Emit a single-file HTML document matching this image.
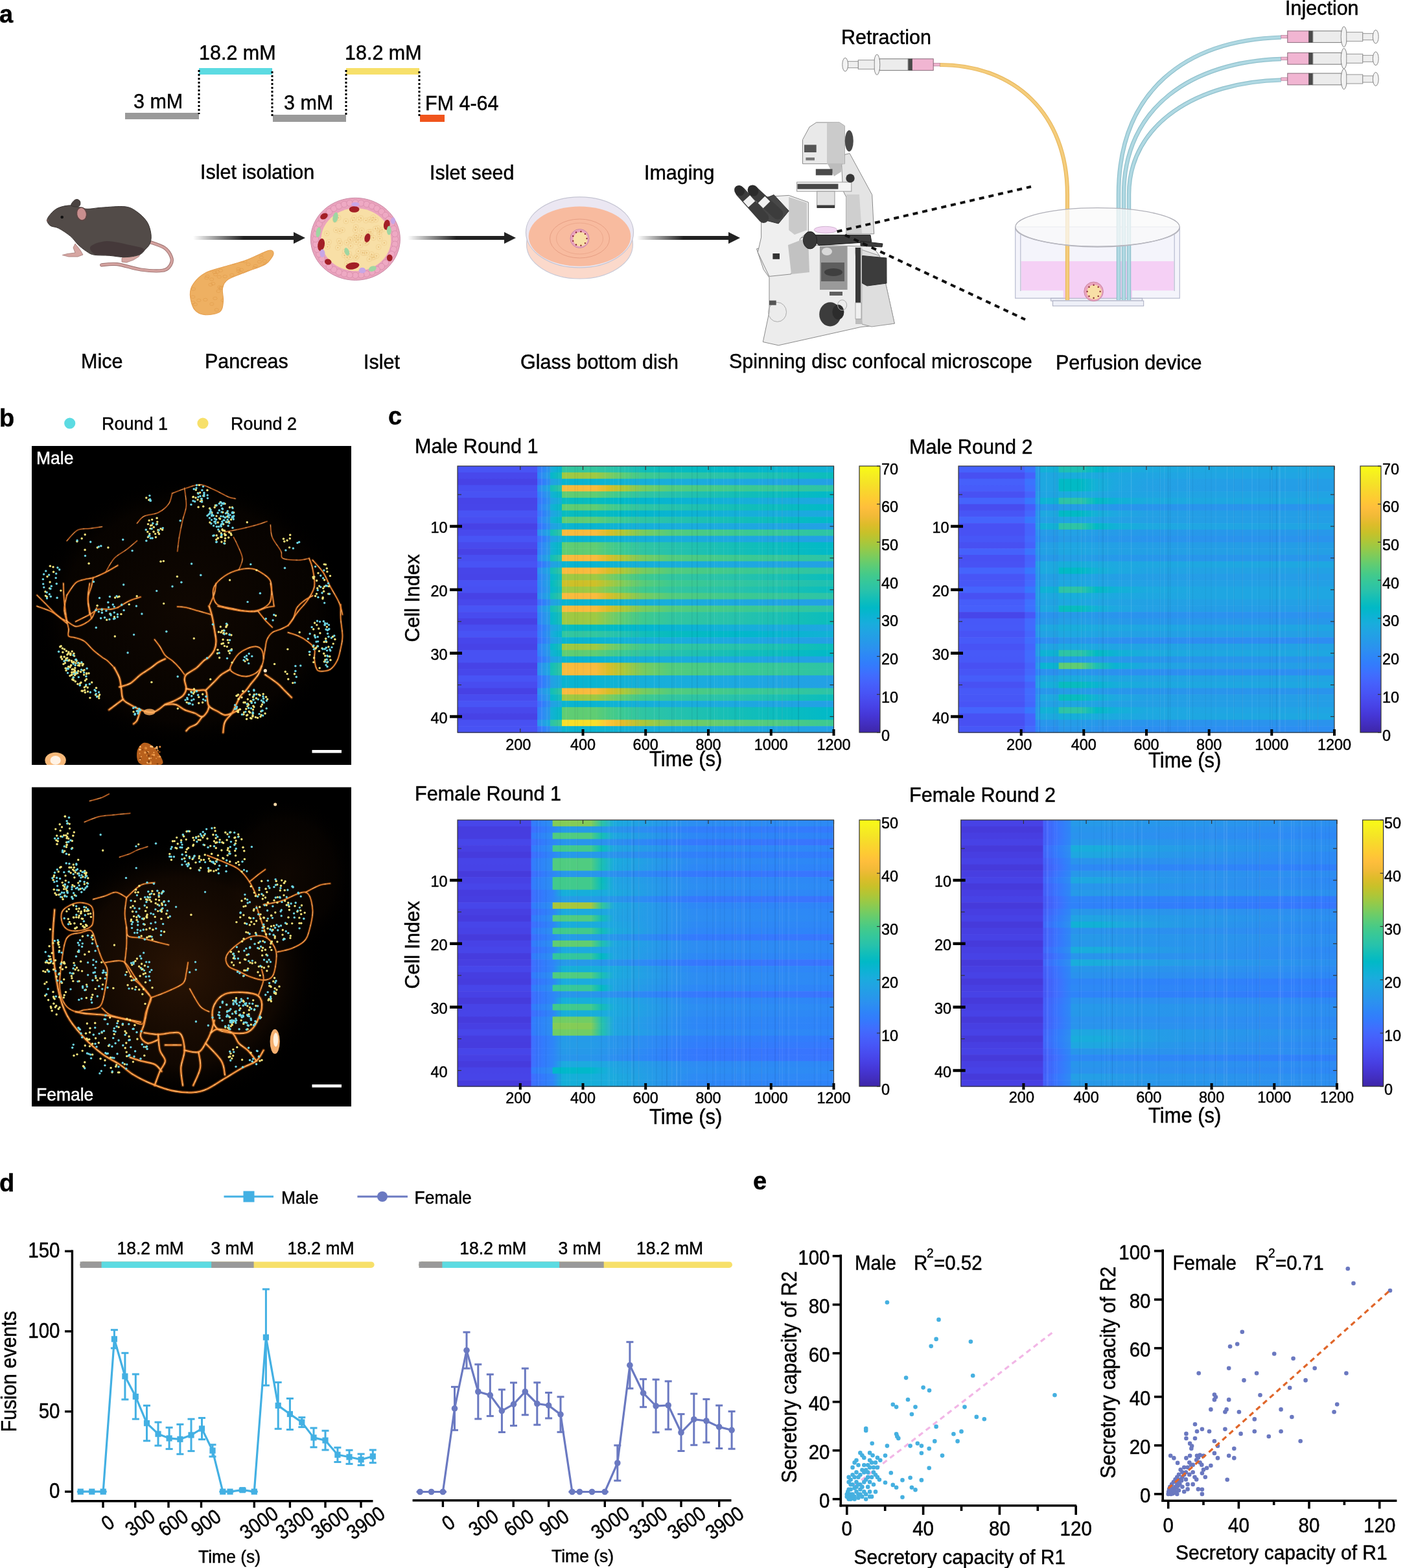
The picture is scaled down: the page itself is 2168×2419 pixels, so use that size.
<!DOCTYPE html><html><head><meta charset="utf-8"><title>Figure</title><style>html,body{margin:0;padding:0;background:#fff;}body{width:2168px;height:2419px;overflow:hidden;}svg{display:block;}</style></head><body><svg width="2168" height="2419" viewBox="0 0 2168 2419" font-family='"Liberation Sans", Arial, sans-serif'><defs><clipPath id="pcclip"><path d="M298.4,437.8 C302.2,432.2 308.5,425.7 316.5,421.3 C324.5,416.9 335.8,414.7 346.2,411.4 C356.6,408.1 369.3,405.1 379.2,401.5 C389.1,397.9 399.2,392.6 405.5,390.0 C411.8,387.4 414.2,386.0 417.0,386.0 C419.8,386.0 421.7,388.0 422.0,390.0 C422.3,392.0 420.9,395.2 418.7,398.2 C416.5,401.2 415.4,404.5 408.8,408.1 C402.2,411.7 388.7,415.9 379.2,419.7 C369.7,423.5 357.9,426.9 352.0,431.0 C346.1,435.1 344.8,438.9 343.5,444.4 C342.2,449.9 345.1,458.1 344.5,464.2 C343.9,470.2 344.3,477.1 339.6,480.7 C334.9,484.3 323.1,486.2 316.5,485.6 C309.9,485.1 303.9,482.5 300.0,477.4 C296.1,472.3 293.7,461.6 293.4,455.0 C293.1,448.4 294.5,443.4 298.4,437.8 Z"/></clipPath><linearGradient id="ag298" x1="298" x2="471" y1="0" y2="0" gradientUnits="userSpaceOnUse"><stop offset="0" stop-color="#222" stop-opacity="0"/><stop offset="0.45" stop-color="#222" stop-opacity="1"/><stop offset="1" stop-color="#222"/></linearGradient><linearGradient id="ag629" x1="629" x2="796" y1="0" y2="0" gradientUnits="userSpaceOnUse"><stop offset="0" stop-color="#222" stop-opacity="0"/><stop offset="0.45" stop-color="#222" stop-opacity="1"/><stop offset="1" stop-color="#222"/></linearGradient><linearGradient id="ag983" x1="983" x2="1142" y1="0" y2="0" gradientUnits="userSpaceOnUse"><stop offset="0" stop-color="#222" stop-opacity="0"/><stop offset="0.45" stop-color="#222" stop-opacity="1"/><stop offset="1" stop-color="#222"/></linearGradient><clipPath id="clipM"><rect x="49" y="688" width="493" height="492"/></clipPath><clipPath id="clipF"><rect x="49" y="1214.5" width="493" height="492.5"/></clipPath><radialGradient id="hazeF" cx="0.5" cy="0.5" r="0.5"><stop offset="0" stop-color="#6a320a" stop-opacity="0.4"/><stop offset="0.7" stop-color="#4a2206" stop-opacity="0.22"/><stop offset="1" stop-color="#000" stop-opacity="0"/></radialGradient><radialGradient id="hazeM" cx="0.5" cy="0.5" r="0.5"><stop offset="0" stop-color="#4a2206" stop-opacity="0.22"/><stop offset="0.8" stop-color="#3a1a04" stop-opacity="0.12"/><stop offset="1" stop-color="#000" stop-opacity="0"/></radialGradient><linearGradient id="h1" x1="706.0" x2="1286.5" y1="0" y2="0" gradientUnits="userSpaceOnUse"><stop offset="0.000" stop-color="#4854f5"/><stop offset="0.212" stop-color="#4854f5"/><stop offset="0.212" stop-color="#3876fe"/><stop offset="0.229" stop-color="#2d87f6"/><stop offset="0.246" stop-color="#2797ea"/><stop offset="0.247" stop-color="#1caadf"/><stop offset="0.277" stop-color="#03b7cc"/><stop offset="0.278" stop-color="#32c69f"/><stop offset="0.367" stop-color="#32c69f"/><stop offset="0.400" stop-color="#2bc4a7"/><stop offset="0.442" stop-color="#21c1b0"/><stop offset="0.492" stop-color="#12beb9"/><stop offset="0.567" stop-color="#07bcbf"/><stop offset="0.750" stop-color="#01b8ca"/><stop offset="1.000" stop-color="#12b1d6"/></linearGradient><linearGradient id="h2" x1="706.0" x2="1286.5" y1="0" y2="0" gradientUnits="userSpaceOnUse"><stop offset="0.000" stop-color="#4848ec"/><stop offset="0.212" stop-color="#4848ec"/><stop offset="0.212" stop-color="#2f81fa"/><stop offset="0.229" stop-color="#2b91ef"/><stop offset="0.246" stop-color="#23a0e5"/><stop offset="0.247" stop-color="#05b6ce"/><stop offset="0.277" stop-color="#17bfb6"/><stop offset="0.278" stop-color="#9fc942"/><stop offset="0.367" stop-color="#9fc942"/><stop offset="0.400" stop-color="#7ecc5b"/><stop offset="0.442" stop-color="#5bcc76"/><stop offset="0.492" stop-color="#3fca8e"/><stop offset="0.567" stop-color="#32c69f"/><stop offset="0.750" stop-color="#26c2ac"/><stop offset="1.000" stop-color="#0abdbd"/></linearGradient><linearGradient id="h3" x1="706.0" x2="1286.5" y1="0" y2="0" gradientUnits="userSpaceOnUse"><stop offset="0.000" stop-color="#4742e6"/><stop offset="0.212" stop-color="#4742e6"/><stop offset="0.212" stop-color="#406cfe"/><stop offset="0.229" stop-color="#307ffb"/><stop offset="0.246" stop-color="#2c90f0"/><stop offset="0.247" stop-color="#249ee6"/><stop offset="0.277" stop-color="#18addb"/><stop offset="0.278" stop-color="#09b4d1"/><stop offset="0.367" stop-color="#09b4d1"/><stop offset="0.400" stop-color="#0db3d3"/><stop offset="0.442" stop-color="#12b1d6"/><stop offset="0.492" stop-color="#15afd9"/><stop offset="0.567" stop-color="#18aedb"/><stop offset="0.750" stop-color="#1da8e0"/><stop offset="1.000" stop-color="#23a0e5"/></linearGradient><linearGradient id="h4" x1="706.0" x2="1286.5" y1="0" y2="0" gradientUnits="userSpaceOnUse"><stop offset="0.000" stop-color="#484ff2"/><stop offset="0.212" stop-color="#484ff2"/><stop offset="0.212" stop-color="#2d8af4"/><stop offset="0.229" stop-color="#269ae8"/><stop offset="0.246" stop-color="#1da8e0"/><stop offset="0.247" stop-color="#10beba"/><stop offset="0.277" stop-color="#31c5a1"/><stop offset="0.278" stop-color="#f9bb3d"/><stop offset="0.367" stop-color="#f9bb3d"/><stop offset="0.400" stop-color="#dabd28"/><stop offset="0.442" stop-color="#acc738"/><stop offset="0.492" stop-color="#79cc5e"/><stop offset="0.567" stop-color="#53cc7d"/><stop offset="0.750" stop-color="#3dc990"/><stop offset="1.000" stop-color="#2cc4a7"/></linearGradient><linearGradient id="h5" x1="706.0" x2="1286.5" y1="0" y2="0" gradientUnits="userSpaceOnUse"><stop offset="0.000" stop-color="#4852f4"/><stop offset="0.212" stop-color="#4852f4"/><stop offset="0.212" stop-color="#327bfc"/><stop offset="0.229" stop-color="#2d8df3"/><stop offset="0.246" stop-color="#259ce7"/><stop offset="0.247" stop-color="#13b0d7"/><stop offset="0.277" stop-color="#04bbc2"/><stop offset="0.278" stop-color="#5fcd73"/><stop offset="0.367" stop-color="#5fcd73"/><stop offset="0.400" stop-color="#4acb84"/><stop offset="0.442" stop-color="#39c995"/><stop offset="0.492" stop-color="#2fc5a2"/><stop offset="0.567" stop-color="#26c2ac"/><stop offset="0.750" stop-color="#13beb8"/><stop offset="1.000" stop-color="#01b9c8"/></linearGradient><linearGradient id="h6" x1="706.0" x2="1286.5" y1="0" y2="0" gradientUnits="userSpaceOnUse"><stop offset="0.000" stop-color="#4744e8"/><stop offset="0.212" stop-color="#4744e8"/><stop offset="0.212" stop-color="#3e70ff"/><stop offset="0.229" stop-color="#2f82f9"/><stop offset="0.246" stop-color="#2a93ee"/><stop offset="0.247" stop-color="#22a2e4"/><stop offset="0.277" stop-color="#12b1d6"/><stop offset="0.278" stop-color="#07bcbf"/><stop offset="0.367" stop-color="#07bcbf"/><stop offset="0.400" stop-color="#02bac4"/><stop offset="0.442" stop-color="#01b8c9"/><stop offset="0.492" stop-color="#04b6cd"/><stop offset="0.567" stop-color="#09b4d1"/><stop offset="0.750" stop-color="#15afd9"/><stop offset="1.000" stop-color="#1ea7e1"/></linearGradient><linearGradient id="h7" x1="706.0" x2="1286.5" y1="0" y2="0" gradientUnits="userSpaceOnUse"><stop offset="0.000" stop-color="#4745e9"/><stop offset="0.212" stop-color="#4745e9"/><stop offset="0.212" stop-color="#327bfc"/><stop offset="0.229" stop-color="#2d8df3"/><stop offset="0.246" stop-color="#259ce7"/><stop offset="0.247" stop-color="#13b0d7"/><stop offset="0.277" stop-color="#04bbc2"/><stop offset="0.278" stop-color="#5fcd73"/><stop offset="0.367" stop-color="#5fcd73"/><stop offset="0.400" stop-color="#4acb84"/><stop offset="0.442" stop-color="#39c995"/><stop offset="0.492" stop-color="#2fc5a2"/><stop offset="0.567" stop-color="#26c2ac"/><stop offset="0.750" stop-color="#13beb8"/><stop offset="1.000" stop-color="#01b9c8"/></linearGradient><linearGradient id="h8" x1="706.0" x2="1286.5" y1="0" y2="0" gradientUnits="userSpaceOnUse"><stop offset="0.000" stop-color="#4853f4"/><stop offset="0.212" stop-color="#4853f4"/><stop offset="0.212" stop-color="#3e70ff"/><stop offset="0.229" stop-color="#2f82f9"/><stop offset="0.246" stop-color="#2a93ee"/><stop offset="0.247" stop-color="#22a2e4"/><stop offset="0.277" stop-color="#12b1d6"/><stop offset="0.278" stop-color="#07bcbf"/><stop offset="0.367" stop-color="#07bcbf"/><stop offset="0.400" stop-color="#02bac4"/><stop offset="0.442" stop-color="#01b8c9"/><stop offset="0.492" stop-color="#04b6cd"/><stop offset="0.567" stop-color="#09b4d1"/><stop offset="0.750" stop-color="#15afd9"/><stop offset="1.000" stop-color="#1ea7e1"/></linearGradient><linearGradient id="h9" x1="706.0" x2="1286.5" y1="0" y2="0" gradientUnits="userSpaceOnUse"><stop offset="0.000" stop-color="#484ef1"/><stop offset="0.212" stop-color="#484ef1"/><stop offset="0.212" stop-color="#327bfc"/><stop offset="0.229" stop-color="#2d8df3"/><stop offset="0.246" stop-color="#259ce7"/><stop offset="0.247" stop-color="#13b0d7"/><stop offset="0.277" stop-color="#04bbc2"/><stop offset="0.278" stop-color="#5fcd73"/><stop offset="0.367" stop-color="#5fcd73"/><stop offset="0.400" stop-color="#4acb84"/><stop offset="0.442" stop-color="#39c995"/><stop offset="0.492" stop-color="#2fc5a2"/><stop offset="0.567" stop-color="#26c2ac"/><stop offset="0.750" stop-color="#13beb8"/><stop offset="1.000" stop-color="#01b9c8"/></linearGradient><linearGradient id="h10" x1="706.0" x2="1286.5" y1="0" y2="0" gradientUnits="userSpaceOnUse"><stop offset="0.000" stop-color="#4849ed"/><stop offset="0.212" stop-color="#4849ed"/><stop offset="0.212" stop-color="#2d8af4"/><stop offset="0.229" stop-color="#269ae8"/><stop offset="0.246" stop-color="#1da8e0"/><stop offset="0.247" stop-color="#10beba"/><stop offset="0.277" stop-color="#31c5a1"/><stop offset="0.278" stop-color="#f9bb3d"/><stop offset="0.367" stop-color="#f9bb3d"/><stop offset="0.400" stop-color="#dabd28"/><stop offset="0.442" stop-color="#acc738"/><stop offset="0.492" stop-color="#79cc5e"/><stop offset="0.567" stop-color="#53cc7d"/><stop offset="0.750" stop-color="#3dc990"/><stop offset="1.000" stop-color="#2cc4a7"/></linearGradient><linearGradient id="h11" x1="706.0" x2="1286.5" y1="0" y2="0" gradientUnits="userSpaceOnUse"><stop offset="0.000" stop-color="#4854f5"/><stop offset="0.212" stop-color="#4854f5"/><stop offset="0.212" stop-color="#406cfe"/><stop offset="0.229" stop-color="#307ffb"/><stop offset="0.246" stop-color="#2c90f0"/><stop offset="0.247" stop-color="#249ee6"/><stop offset="0.277" stop-color="#18addb"/><stop offset="0.278" stop-color="#09b4d1"/><stop offset="0.367" stop-color="#09b4d1"/><stop offset="0.400" stop-color="#0db3d3"/><stop offset="0.442" stop-color="#12b1d6"/><stop offset="0.492" stop-color="#15afd9"/><stop offset="0.567" stop-color="#18aedb"/><stop offset="0.750" stop-color="#1da8e0"/><stop offset="1.000" stop-color="#23a0e5"/></linearGradient><linearGradient id="h12" x1="706.0" x2="1286.5" y1="0" y2="0" gradientUnits="userSpaceOnUse"><stop offset="0.000" stop-color="#484aed"/><stop offset="0.212" stop-color="#484aed"/><stop offset="0.212" stop-color="#327bfc"/><stop offset="0.229" stop-color="#2d8df3"/><stop offset="0.246" stop-color="#259ce7"/><stop offset="0.247" stop-color="#13b0d7"/><stop offset="0.277" stop-color="#04bbc2"/><stop offset="0.278" stop-color="#5fcd73"/><stop offset="0.367" stop-color="#5fcd73"/><stop offset="0.400" stop-color="#4acb84"/><stop offset="0.442" stop-color="#39c995"/><stop offset="0.492" stop-color="#2fc5a2"/><stop offset="0.567" stop-color="#26c2ac"/><stop offset="0.750" stop-color="#13beb8"/><stop offset="1.000" stop-color="#01b9c8"/></linearGradient><linearGradient id="h13" x1="706.0" x2="1286.5" y1="0" y2="0" gradientUnits="userSpaceOnUse"><stop offset="0.000" stop-color="#4742e6"/><stop offset="0.212" stop-color="#4742e6"/><stop offset="0.212" stop-color="#327bfc"/><stop offset="0.229" stop-color="#2d8df3"/><stop offset="0.246" stop-color="#259ce7"/><stop offset="0.247" stop-color="#13b0d7"/><stop offset="0.277" stop-color="#04bbc2"/><stop offset="0.278" stop-color="#5fcd73"/><stop offset="0.367" stop-color="#5fcd73"/><stop offset="0.400" stop-color="#4acb84"/><stop offset="0.442" stop-color="#39c995"/><stop offset="0.492" stop-color="#2fc5a2"/><stop offset="0.567" stop-color="#26c2ac"/><stop offset="0.750" stop-color="#13beb8"/><stop offset="1.000" stop-color="#01b9c8"/></linearGradient><linearGradient id="h14" x1="706.0" x2="1286.5" y1="0" y2="0" gradientUnits="userSpaceOnUse"><stop offset="0.000" stop-color="#484ef1"/><stop offset="0.212" stop-color="#484ef1"/><stop offset="0.212" stop-color="#2d8af4"/><stop offset="0.229" stop-color="#269ae8"/><stop offset="0.246" stop-color="#1da8e0"/><stop offset="0.247" stop-color="#10beba"/><stop offset="0.277" stop-color="#31c5a1"/><stop offset="0.278" stop-color="#f9bb3d"/><stop offset="0.367" stop-color="#f9bb3d"/><stop offset="0.400" stop-color="#dabd28"/><stop offset="0.442" stop-color="#acc738"/><stop offset="0.492" stop-color="#79cc5e"/><stop offset="0.567" stop-color="#53cc7d"/><stop offset="0.750" stop-color="#3dc990"/><stop offset="1.000" stop-color="#2cc4a7"/></linearGradient><linearGradient id="h15" x1="706.0" x2="1286.5" y1="0" y2="0" gradientUnits="userSpaceOnUse"><stop offset="0.000" stop-color="#4853f5"/><stop offset="0.212" stop-color="#4853f5"/><stop offset="0.212" stop-color="#406cfe"/><stop offset="0.229" stop-color="#307ffb"/><stop offset="0.246" stop-color="#2c90f0"/><stop offset="0.247" stop-color="#249ee6"/><stop offset="0.277" stop-color="#18addb"/><stop offset="0.278" stop-color="#09b4d1"/><stop offset="0.367" stop-color="#09b4d1"/><stop offset="0.400" stop-color="#0db3d3"/><stop offset="0.442" stop-color="#12b1d6"/><stop offset="0.492" stop-color="#15afd9"/><stop offset="0.567" stop-color="#18aedb"/><stop offset="0.750" stop-color="#1da8e0"/><stop offset="1.000" stop-color="#23a0e5"/></linearGradient><linearGradient id="h16" x1="706.0" x2="1286.5" y1="0" y2="0" gradientUnits="userSpaceOnUse"><stop offset="0.000" stop-color="#4745e9"/><stop offset="0.212" stop-color="#4745e9"/><stop offset="0.212" stop-color="#2d8af4"/><stop offset="0.229" stop-color="#269ae8"/><stop offset="0.246" stop-color="#1da8e0"/><stop offset="0.247" stop-color="#10beba"/><stop offset="0.277" stop-color="#31c5a1"/><stop offset="0.278" stop-color="#f9bb3d"/><stop offset="0.367" stop-color="#f9bb3d"/><stop offset="0.400" stop-color="#dabd28"/><stop offset="0.442" stop-color="#acc738"/><stop offset="0.492" stop-color="#79cc5e"/><stop offset="0.567" stop-color="#53cc7d"/><stop offset="0.750" stop-color="#3dc990"/><stop offset="1.000" stop-color="#2cc4a7"/></linearGradient><linearGradient id="h17" x1="706.0" x2="1286.5" y1="0" y2="0" gradientUnits="userSpaceOnUse"><stop offset="0.000" stop-color="#4744e8"/><stop offset="0.212" stop-color="#4744e8"/><stop offset="0.212" stop-color="#2f81fa"/><stop offset="0.229" stop-color="#2b91ef"/><stop offset="0.246" stop-color="#23a0e5"/><stop offset="0.247" stop-color="#05b6ce"/><stop offset="0.277" stop-color="#17bfb6"/><stop offset="0.278" stop-color="#9fc942"/><stop offset="0.367" stop-color="#9fc942"/><stop offset="0.400" stop-color="#7ecc5b"/><stop offset="0.442" stop-color="#5bcc76"/><stop offset="0.492" stop-color="#3fca8e"/><stop offset="0.567" stop-color="#32c69f"/><stop offset="0.750" stop-color="#26c2ac"/><stop offset="1.000" stop-color="#0abdbd"/></linearGradient><linearGradient id="h18" x1="706.0" x2="1286.5" y1="0" y2="0" gradientUnits="userSpaceOnUse"><stop offset="0.000" stop-color="#4852f4"/><stop offset="0.212" stop-color="#4852f4"/><stop offset="0.212" stop-color="#2e85f8"/><stop offset="0.229" stop-color="#2895ec"/><stop offset="0.246" stop-color="#20a4e3"/><stop offset="0.247" stop-color="#01bac5"/><stop offset="0.277" stop-color="#26c2ad"/><stop offset="0.278" stop-color="#cec028"/><stop offset="0.367" stop-color="#cec028"/><stop offset="0.400" stop-color="#abc739"/><stop offset="0.442" stop-color="#80cc59"/><stop offset="0.492" stop-color="#59cc78"/><stop offset="0.567" stop-color="#3eca8f"/><stop offset="0.750" stop-color="#32c69f"/><stop offset="1.000" stop-color="#1ec0b2"/></linearGradient><linearGradient id="h19" x1="706.0" x2="1286.5" y1="0" y2="0" gradientUnits="userSpaceOnUse"><stop offset="0.000" stop-color="#4850f2"/><stop offset="0.212" stop-color="#4850f2"/><stop offset="0.212" stop-color="#2f81fa"/><stop offset="0.229" stop-color="#2b91ef"/><stop offset="0.246" stop-color="#23a0e5"/><stop offset="0.247" stop-color="#05b6ce"/><stop offset="0.277" stop-color="#17bfb6"/><stop offset="0.278" stop-color="#9fc942"/><stop offset="0.367" stop-color="#9fc942"/><stop offset="0.400" stop-color="#7ecc5b"/><stop offset="0.442" stop-color="#5bcc76"/><stop offset="0.492" stop-color="#3fca8e"/><stop offset="0.567" stop-color="#32c69f"/><stop offset="0.750" stop-color="#26c2ac"/><stop offset="1.000" stop-color="#0abdbd"/></linearGradient><linearGradient id="h20" x1="706.0" x2="1286.5" y1="0" y2="0" gradientUnits="userSpaceOnUse"><stop offset="0.000" stop-color="#4742e6"/><stop offset="0.212" stop-color="#4742e6"/><stop offset="0.212" stop-color="#2d8af4"/><stop offset="0.229" stop-color="#269ae8"/><stop offset="0.246" stop-color="#1da8e0"/><stop offset="0.247" stop-color="#10beba"/><stop offset="0.277" stop-color="#31c5a1"/><stop offset="0.278" stop-color="#f9bb3d"/><stop offset="0.367" stop-color="#f9bb3d"/><stop offset="0.400" stop-color="#dabd28"/><stop offset="0.442" stop-color="#acc738"/><stop offset="0.492" stop-color="#79cc5e"/><stop offset="0.567" stop-color="#53cc7d"/><stop offset="0.750" stop-color="#3dc990"/><stop offset="1.000" stop-color="#2cc4a7"/></linearGradient><linearGradient id="h21" x1="706.0" x2="1286.5" y1="0" y2="0" gradientUnits="userSpaceOnUse"><stop offset="0.000" stop-color="#4848ec"/><stop offset="0.212" stop-color="#4848ec"/><stop offset="0.212" stop-color="#406cfe"/><stop offset="0.229" stop-color="#307ffb"/><stop offset="0.246" stop-color="#2c90f0"/><stop offset="0.247" stop-color="#249ee6"/><stop offset="0.277" stop-color="#18addb"/><stop offset="0.278" stop-color="#09b4d1"/><stop offset="0.367" stop-color="#09b4d1"/><stop offset="0.400" stop-color="#0db3d3"/><stop offset="0.442" stop-color="#12b1d6"/><stop offset="0.492" stop-color="#15afd9"/><stop offset="0.567" stop-color="#18aedb"/><stop offset="0.750" stop-color="#1da8e0"/><stop offset="1.000" stop-color="#23a0e5"/></linearGradient><linearGradient id="h22" x1="706.0" x2="1286.5" y1="0" y2="0" gradientUnits="userSpaceOnUse"><stop offset="0.000" stop-color="#4854f5"/><stop offset="0.212" stop-color="#4854f5"/><stop offset="0.212" stop-color="#2d8af4"/><stop offset="0.229" stop-color="#269ae8"/><stop offset="0.246" stop-color="#1da8e0"/><stop offset="0.247" stop-color="#10beba"/><stop offset="0.277" stop-color="#31c5a1"/><stop offset="0.278" stop-color="#f9bb3d"/><stop offset="0.367" stop-color="#f9bb3d"/><stop offset="0.400" stop-color="#dabd28"/><stop offset="0.442" stop-color="#acc738"/><stop offset="0.492" stop-color="#79cc5e"/><stop offset="0.567" stop-color="#53cc7d"/><stop offset="0.750" stop-color="#3dc990"/><stop offset="1.000" stop-color="#2cc4a7"/></linearGradient><linearGradient id="h23" x1="706.0" x2="1286.5" y1="0" y2="0" gradientUnits="userSpaceOnUse"><stop offset="0.000" stop-color="#484bef"/><stop offset="0.212" stop-color="#484bef"/><stop offset="0.212" stop-color="#2f81fa"/><stop offset="0.229" stop-color="#2b91ef"/><stop offset="0.246" stop-color="#23a0e5"/><stop offset="0.247" stop-color="#05b6ce"/><stop offset="0.277" stop-color="#17bfb6"/><stop offset="0.278" stop-color="#9fc942"/><stop offset="0.367" stop-color="#9fc942"/><stop offset="0.400" stop-color="#7ecc5b"/><stop offset="0.442" stop-color="#5bcc76"/><stop offset="0.492" stop-color="#3fca8e"/><stop offset="0.567" stop-color="#32c69f"/><stop offset="0.750" stop-color="#26c2ac"/><stop offset="1.000" stop-color="#0abdbd"/></linearGradient><linearGradient id="h24" x1="706.0" x2="1286.5" y1="0" y2="0" gradientUnits="userSpaceOnUse"><stop offset="0.000" stop-color="#4741e5"/><stop offset="0.212" stop-color="#4741e5"/><stop offset="0.212" stop-color="#2f81fa"/><stop offset="0.229" stop-color="#2b91ef"/><stop offset="0.246" stop-color="#23a0e5"/><stop offset="0.247" stop-color="#05b6ce"/><stop offset="0.277" stop-color="#17bfb6"/><stop offset="0.278" stop-color="#9fc942"/><stop offset="0.367" stop-color="#9fc942"/><stop offset="0.400" stop-color="#7ecc5b"/><stop offset="0.442" stop-color="#5bcc76"/><stop offset="0.492" stop-color="#3fca8e"/><stop offset="0.567" stop-color="#32c69f"/><stop offset="0.750" stop-color="#26c2ac"/><stop offset="1.000" stop-color="#0abdbd"/></linearGradient><linearGradient id="h25" x1="706.0" x2="1286.5" y1="0" y2="0" gradientUnits="userSpaceOnUse"><stop offset="0.000" stop-color="#484df0"/><stop offset="0.212" stop-color="#484df0"/><stop offset="0.212" stop-color="#3e70ff"/><stop offset="0.229" stop-color="#2f82f9"/><stop offset="0.246" stop-color="#2a93ee"/><stop offset="0.247" stop-color="#22a2e4"/><stop offset="0.277" stop-color="#12b1d6"/><stop offset="0.278" stop-color="#07bcbf"/><stop offset="0.367" stop-color="#07bcbf"/><stop offset="0.400" stop-color="#02bac4"/><stop offset="0.442" stop-color="#01b8c9"/><stop offset="0.492" stop-color="#04b6cd"/><stop offset="0.567" stop-color="#09b4d1"/><stop offset="0.750" stop-color="#15afd9"/><stop offset="1.000" stop-color="#1ea7e1"/></linearGradient><linearGradient id="h26" x1="706.0" x2="1286.5" y1="0" y2="0" gradientUnits="userSpaceOnUse"><stop offset="0.000" stop-color="#4853f5"/><stop offset="0.212" stop-color="#4853f5"/><stop offset="0.212" stop-color="#3876fe"/><stop offset="0.229" stop-color="#2d87f6"/><stop offset="0.246" stop-color="#2797ea"/><stop offset="0.247" stop-color="#1caadf"/><stop offset="0.277" stop-color="#03b7cc"/><stop offset="0.278" stop-color="#32c69f"/><stop offset="0.367" stop-color="#32c69f"/><stop offset="0.400" stop-color="#2bc4a7"/><stop offset="0.442" stop-color="#21c1b0"/><stop offset="0.492" stop-color="#12beb9"/><stop offset="0.567" stop-color="#07bcbf"/><stop offset="0.750" stop-color="#01b8ca"/><stop offset="1.000" stop-color="#12b1d6"/></linearGradient><linearGradient id="h27" x1="706.0" x2="1286.5" y1="0" y2="0" gradientUnits="userSpaceOnUse"><stop offset="0.000" stop-color="#4746eb"/><stop offset="0.212" stop-color="#4746eb"/><stop offset="0.212" stop-color="#406cfe"/><stop offset="0.229" stop-color="#307ffb"/><stop offset="0.246" stop-color="#2c90f0"/><stop offset="0.247" stop-color="#249ee6"/><stop offset="0.277" stop-color="#18addb"/><stop offset="0.278" stop-color="#09b4d1"/><stop offset="0.367" stop-color="#09b4d1"/><stop offset="0.400" stop-color="#0db3d3"/><stop offset="0.442" stop-color="#12b1d6"/><stop offset="0.492" stop-color="#15afd9"/><stop offset="0.567" stop-color="#18aedb"/><stop offset="0.750" stop-color="#1da8e0"/><stop offset="1.000" stop-color="#23a0e5"/></linearGradient><linearGradient id="h28" x1="706.0" x2="1286.5" y1="0" y2="0" gradientUnits="userSpaceOnUse"><stop offset="0.000" stop-color="#4743e7"/><stop offset="0.212" stop-color="#4743e7"/><stop offset="0.212" stop-color="#2f81fa"/><stop offset="0.229" stop-color="#2b91ef"/><stop offset="0.246" stop-color="#23a0e5"/><stop offset="0.247" stop-color="#05b6ce"/><stop offset="0.277" stop-color="#17bfb6"/><stop offset="0.278" stop-color="#9fc942"/><stop offset="0.367" stop-color="#9fc942"/><stop offset="0.400" stop-color="#7ecc5b"/><stop offset="0.442" stop-color="#5bcc76"/><stop offset="0.492" stop-color="#3fca8e"/><stop offset="0.567" stop-color="#32c69f"/><stop offset="0.750" stop-color="#26c2ac"/><stop offset="1.000" stop-color="#0abdbd"/></linearGradient><linearGradient id="h29" x1="706.0" x2="1286.5" y1="0" y2="0" gradientUnits="userSpaceOnUse"><stop offset="0.000" stop-color="#4851f3"/><stop offset="0.212" stop-color="#4851f3"/><stop offset="0.212" stop-color="#327bfc"/><stop offset="0.229" stop-color="#2d8df3"/><stop offset="0.246" stop-color="#259ce7"/><stop offset="0.247" stop-color="#13b0d7"/><stop offset="0.277" stop-color="#04bbc2"/><stop offset="0.278" stop-color="#5fcd73"/><stop offset="0.367" stop-color="#5fcd73"/><stop offset="0.400" stop-color="#4acb84"/><stop offset="0.442" stop-color="#39c995"/><stop offset="0.492" stop-color="#2fc5a2"/><stop offset="0.567" stop-color="#26c2ac"/><stop offset="0.750" stop-color="#13beb8"/><stop offset="1.000" stop-color="#01b9c8"/></linearGradient><linearGradient id="h30" x1="706.0" x2="1286.5" y1="0" y2="0" gradientUnits="userSpaceOnUse"><stop offset="0.000" stop-color="#4851f3"/><stop offset="0.212" stop-color="#4851f3"/><stop offset="0.212" stop-color="#406cfe"/><stop offset="0.229" stop-color="#307ffb"/><stop offset="0.246" stop-color="#2c90f0"/><stop offset="0.247" stop-color="#249ee6"/><stop offset="0.277" stop-color="#18addb"/><stop offset="0.278" stop-color="#09b4d1"/><stop offset="0.367" stop-color="#09b4d1"/><stop offset="0.400" stop-color="#0db3d3"/><stop offset="0.442" stop-color="#12b1d6"/><stop offset="0.492" stop-color="#15afd9"/><stop offset="0.567" stop-color="#18aedb"/><stop offset="0.750" stop-color="#1da8e0"/><stop offset="1.000" stop-color="#23a0e5"/></linearGradient><linearGradient id="h31" x1="706.0" x2="1286.5" y1="0" y2="0" gradientUnits="userSpaceOnUse"><stop offset="0.000" stop-color="#4743e7"/><stop offset="0.212" stop-color="#4743e7"/><stop offset="0.212" stop-color="#2d8af4"/><stop offset="0.229" stop-color="#269ae8"/><stop offset="0.246" stop-color="#1da8e0"/><stop offset="0.247" stop-color="#10beba"/><stop offset="0.277" stop-color="#31c5a1"/><stop offset="0.278" stop-color="#f9bb3d"/><stop offset="0.367" stop-color="#f9bb3d"/><stop offset="0.400" stop-color="#dabd28"/><stop offset="0.442" stop-color="#acc738"/><stop offset="0.492" stop-color="#79cc5e"/><stop offset="0.567" stop-color="#53cc7d"/><stop offset="0.750" stop-color="#3dc990"/><stop offset="1.000" stop-color="#2cc4a7"/></linearGradient><linearGradient id="h32" x1="706.0" x2="1286.5" y1="0" y2="0" gradientUnits="userSpaceOnUse"><stop offset="0.000" stop-color="#4747eb"/><stop offset="0.212" stop-color="#4747eb"/><stop offset="0.212" stop-color="#2d8af4"/><stop offset="0.229" stop-color="#269ae8"/><stop offset="0.246" stop-color="#1da8e0"/><stop offset="0.247" stop-color="#10beba"/><stop offset="0.277" stop-color="#31c5a1"/><stop offset="0.278" stop-color="#f9bb3d"/><stop offset="0.367" stop-color="#f9bb3d"/><stop offset="0.400" stop-color="#dabd28"/><stop offset="0.442" stop-color="#acc738"/><stop offset="0.492" stop-color="#79cc5e"/><stop offset="0.567" stop-color="#53cc7d"/><stop offset="0.750" stop-color="#3dc990"/><stop offset="1.000" stop-color="#2cc4a7"/></linearGradient><linearGradient id="h33" x1="706.0" x2="1286.5" y1="0" y2="0" gradientUnits="userSpaceOnUse"><stop offset="0.000" stop-color="#484cf0"/><stop offset="0.212" stop-color="#484cf0"/><stop offset="0.212" stop-color="#406cfe"/><stop offset="0.229" stop-color="#307ffb"/><stop offset="0.246" stop-color="#2c90f0"/><stop offset="0.247" stop-color="#249ee6"/><stop offset="0.277" stop-color="#18addb"/><stop offset="0.278" stop-color="#09b4d1"/><stop offset="0.367" stop-color="#09b4d1"/><stop offset="0.400" stop-color="#0db3d3"/><stop offset="0.442" stop-color="#12b1d6"/><stop offset="0.492" stop-color="#15afd9"/><stop offset="0.567" stop-color="#18aedb"/><stop offset="0.750" stop-color="#1da8e0"/><stop offset="1.000" stop-color="#23a0e5"/></linearGradient><linearGradient id="h34" x1="706.0" x2="1286.5" y1="0" y2="0" gradientUnits="userSpaceOnUse"><stop offset="0.000" stop-color="#4741e5"/><stop offset="0.212" stop-color="#4741e5"/><stop offset="0.212" stop-color="#2d8af4"/><stop offset="0.229" stop-color="#269ae8"/><stop offset="0.246" stop-color="#1da8e0"/><stop offset="0.247" stop-color="#10beba"/><stop offset="0.277" stop-color="#31c5a1"/><stop offset="0.278" stop-color="#f9bb3d"/><stop offset="0.367" stop-color="#f9bb3d"/><stop offset="0.400" stop-color="#dabd28"/><stop offset="0.442" stop-color="#acc738"/><stop offset="0.492" stop-color="#79cc5e"/><stop offset="0.567" stop-color="#53cc7d"/><stop offset="0.750" stop-color="#3dc990"/><stop offset="1.000" stop-color="#2cc4a7"/></linearGradient><linearGradient id="h35" x1="706.0" x2="1286.5" y1="0" y2="0" gradientUnits="userSpaceOnUse"><stop offset="0.000" stop-color="#4848ec"/><stop offset="0.212" stop-color="#4848ec"/><stop offset="0.212" stop-color="#327bfc"/><stop offset="0.229" stop-color="#2d8df3"/><stop offset="0.246" stop-color="#259ce7"/><stop offset="0.247" stop-color="#13b0d7"/><stop offset="0.277" stop-color="#04bbc2"/><stop offset="0.278" stop-color="#5fcd73"/><stop offset="0.367" stop-color="#5fcd73"/><stop offset="0.400" stop-color="#4acb84"/><stop offset="0.442" stop-color="#39c995"/><stop offset="0.492" stop-color="#2fc5a2"/><stop offset="0.567" stop-color="#26c2ac"/><stop offset="0.750" stop-color="#13beb8"/><stop offset="1.000" stop-color="#01b9c8"/></linearGradient><linearGradient id="h36" x1="706.0" x2="1286.5" y1="0" y2="0" gradientUnits="userSpaceOnUse"><stop offset="0.000" stop-color="#4850f2"/><stop offset="0.212" stop-color="#4850f2"/><stop offset="0.212" stop-color="#2b91ef"/><stop offset="0.229" stop-color="#23a0e5"/><stop offset="0.246" stop-color="#17aedb"/><stop offset="0.247" stop-color="#29c3aa"/><stop offset="0.277" stop-color="#40ca8d"/><stop offset="0.278" stop-color="#f6df29"/><stop offset="0.367" stop-color="#f6df29"/><stop offset="0.400" stop-color="#fec437"/><stop offset="0.442" stop-color="#e1bc2b"/><stop offset="0.492" stop-color="#abc739"/><stop offset="0.567" stop-color="#78cc5f"/><stop offset="0.750" stop-color="#5bcc77"/><stop offset="1.000" stop-color="#3bc993"/></linearGradient><linearGradient id="h37" x1="706.0" x2="1286.5" y1="0" y2="0" gradientUnits="userSpaceOnUse"><stop offset="0.000" stop-color="#4852f4"/><stop offset="0.212" stop-color="#4852f4"/><stop offset="0.212" stop-color="#406cfe"/><stop offset="0.229" stop-color="#307ffb"/><stop offset="0.246" stop-color="#2c90f0"/><stop offset="0.247" stop-color="#249ee6"/><stop offset="0.277" stop-color="#18addb"/><stop offset="0.278" stop-color="#09b4d1"/><stop offset="0.367" stop-color="#09b4d1"/><stop offset="0.400" stop-color="#0db3d3"/><stop offset="0.442" stop-color="#12b1d6"/><stop offset="0.492" stop-color="#15afd9"/><stop offset="0.567" stop-color="#18aedb"/><stop offset="0.750" stop-color="#1da8e0"/><stop offset="1.000" stop-color="#23a0e5"/></linearGradient><linearGradient id="cb38" x1="0" x2="0" y1="0" y2="1"><stop offset="0.0000" stop-color="#f9fb15"/><stop offset="0.0312" stop-color="#f6ef20"/><stop offset="0.0625" stop-color="#f5e327"/><stop offset="0.0938" stop-color="#f9d62d"/><stop offset="0.1250" stop-color="#feca33"/><stop offset="0.1562" stop-color="#febe3c"/><stop offset="0.1875" stop-color="#f1ba37"/><stop offset="0.2188" stop-color="#debc2a"/><stop offset="0.2500" stop-color="#c8c129"/><stop offset="0.2812" stop-color="#afc637"/><stop offset="0.3125" stop-color="#94ca4a"/><stop offset="0.3438" stop-color="#77cc60"/><stop offset="0.3750" stop-color="#5ccc76"/><stop offset="0.4062" stop-color="#44ca8a"/><stop offset="0.4375" stop-color="#34c79c"/><stop offset="0.4688" stop-color="#28c2ab"/><stop offset="0.5000" stop-color="#12beb9"/><stop offset="0.5312" stop-color="#01b9c6"/><stop offset="0.5625" stop-color="#0cb3d3"/><stop offset="0.5938" stop-color="#1aacdd"/><stop offset="0.6250" stop-color="#21a3e3"/><stop offset="0.6562" stop-color="#269ae9"/><stop offset="0.6875" stop-color="#2c90f0"/><stop offset="0.7188" stop-color="#2e85f8"/><stop offset="0.7500" stop-color="#347afd"/><stop offset="0.7812" stop-color="#3f6efe"/><stop offset="0.8125" stop-color="#4562fc"/><stop offset="0.8438" stop-color="#4757f7"/><stop offset="0.8750" stop-color="#484cef"/><stop offset="0.9062" stop-color="#4741e5"/><stop offset="0.9375" stop-color="#4536d5"/><stop offset="0.9688" stop-color="#422ebf"/><stop offset="1.0000" stop-color="#3e26a8"/></linearGradient><linearGradient id="h39" x1="1479.0" x2="2059.0" y1="0" y2="0" gradientUnits="userSpaceOnUse"><stop offset="0.000" stop-color="#4561fc"/><stop offset="0.176" stop-color="#4561fc"/><stop offset="0.177" stop-color="#3974fe"/><stop offset="0.204" stop-color="#3974fe"/><stop offset="0.205" stop-color="#249ee6"/><stop offset="0.217" stop-color="#249ee6"/><stop offset="0.218" stop-color="#13b1d7"/><stop offset="0.266" stop-color="#13b1d7"/><stop offset="0.267" stop-color="#1dc0b3"/><stop offset="0.325" stop-color="#1dc0b3"/><stop offset="0.367" stop-color="#01b8ca"/><stop offset="0.417" stop-color="#13b0d7"/><stop offset="0.500" stop-color="#1caadf"/><stop offset="0.667" stop-color="#1ea7e1"/><stop offset="0.833" stop-color="#1ea7e1"/><stop offset="1.000" stop-color="#1ea7e1"/></linearGradient><linearGradient id="h40" x1="1479.0" x2="2059.0" y1="0" y2="0" gradientUnits="userSpaceOnUse"><stop offset="0.000" stop-color="#4850f2"/><stop offset="0.176" stop-color="#4850f2"/><stop offset="0.177" stop-color="#4562fc"/><stop offset="0.204" stop-color="#4562fc"/><stop offset="0.205" stop-color="#259ce7"/><stop offset="0.217" stop-color="#259ce7"/><stop offset="0.218" stop-color="#1ea7e1"/><stop offset="0.266" stop-color="#1ea7e1"/><stop offset="0.267" stop-color="#19acdc"/><stop offset="0.325" stop-color="#19acdc"/><stop offset="0.367" stop-color="#1ca9df"/><stop offset="0.417" stop-color="#1ea7e1"/><stop offset="0.500" stop-color="#1fa5e2"/><stop offset="0.667" stop-color="#20a5e3"/><stop offset="0.833" stop-color="#20a5e3"/><stop offset="1.000" stop-color="#20a5e3"/></linearGradient><linearGradient id="h41" x1="1479.0" x2="2059.0" y1="0" y2="0" gradientUnits="userSpaceOnUse"><stop offset="0.000" stop-color="#4660fb"/><stop offset="0.176" stop-color="#4660fb"/><stop offset="0.177" stop-color="#3b73fe"/><stop offset="0.204" stop-color="#3b73fe"/><stop offset="0.205" stop-color="#2896ec"/><stop offset="0.217" stop-color="#2896ec"/><stop offset="0.218" stop-color="#1da8e0"/><stop offset="0.266" stop-color="#1da8e0"/><stop offset="0.267" stop-color="#01bac5"/><stop offset="0.325" stop-color="#01bac5"/><stop offset="0.367" stop-color="#14b0d8"/><stop offset="0.417" stop-color="#1da8e0"/><stop offset="0.500" stop-color="#22a2e4"/><stop offset="0.667" stop-color="#249fe6"/><stop offset="0.833" stop-color="#249ee6"/><stop offset="1.000" stop-color="#249ee6"/></linearGradient><linearGradient id="h42" x1="1479.0" x2="2059.0" y1="0" y2="0" gradientUnits="userSpaceOnUse"><stop offset="0.000" stop-color="#475cfa"/><stop offset="0.176" stop-color="#475cfa"/><stop offset="0.177" stop-color="#3f6fff"/><stop offset="0.204" stop-color="#3f6fff"/><stop offset="0.205" stop-color="#2995ec"/><stop offset="0.217" stop-color="#2995ec"/><stop offset="0.218" stop-color="#1ea7e1"/><stop offset="0.266" stop-color="#1ea7e1"/><stop offset="0.267" stop-color="#01bac5"/><stop offset="0.325" stop-color="#01bac5"/><stop offset="0.367" stop-color="#14b0d8"/><stop offset="0.417" stop-color="#1ea7e1"/><stop offset="0.500" stop-color="#23a1e4"/><stop offset="0.667" stop-color="#249ee6"/><stop offset="0.833" stop-color="#249de6"/><stop offset="1.000" stop-color="#249de6"/></linearGradient><linearGradient id="h43" x1="1479.0" x2="2059.0" y1="0" y2="0" gradientUnits="userSpaceOnUse"><stop offset="0.000" stop-color="#4851f3"/><stop offset="0.176" stop-color="#4851f3"/><stop offset="0.177" stop-color="#4563fc"/><stop offset="0.204" stop-color="#4563fc"/><stop offset="0.205" stop-color="#269be8"/><stop offset="0.217" stop-color="#269be8"/><stop offset="0.218" stop-color="#1fa5e2"/><stop offset="0.266" stop-color="#1fa5e2"/><stop offset="0.267" stop-color="#1babde"/><stop offset="0.325" stop-color="#1babde"/><stop offset="0.367" stop-color="#1ea8e0"/><stop offset="0.417" stop-color="#1fa5e2"/><stop offset="0.500" stop-color="#20a4e3"/><stop offset="0.667" stop-color="#21a3e3"/><stop offset="0.833" stop-color="#21a3e3"/><stop offset="1.000" stop-color="#21a3e3"/></linearGradient><linearGradient id="h44" x1="1479.0" x2="2059.0" y1="0" y2="0" gradientUnits="userSpaceOnUse"><stop offset="0.000" stop-color="#4564fd"/><stop offset="0.176" stop-color="#4564fd"/><stop offset="0.177" stop-color="#3777fe"/><stop offset="0.204" stop-color="#3777fe"/><stop offset="0.205" stop-color="#249fe6"/><stop offset="0.217" stop-color="#249fe6"/><stop offset="0.218" stop-color="#0eb3d4"/><stop offset="0.266" stop-color="#0eb3d4"/><stop offset="0.267" stop-color="#2dc4a6"/><stop offset="0.325" stop-color="#2dc4a6"/><stop offset="0.367" stop-color="#02bbc3"/><stop offset="0.417" stop-color="#0eb2d4"/><stop offset="0.500" stop-color="#1babde"/><stop offset="0.667" stop-color="#1ea7e1"/><stop offset="0.833" stop-color="#1ea7e1"/><stop offset="1.000" stop-color="#1ea7e1"/></linearGradient><linearGradient id="h45" x1="1479.0" x2="2059.0" y1="0" y2="0" gradientUnits="userSpaceOnUse"><stop offset="0.000" stop-color="#484cef"/><stop offset="0.176" stop-color="#484cef"/><stop offset="0.177" stop-color="#465efb"/><stop offset="0.204" stop-color="#465efb"/><stop offset="0.205" stop-color="#2d8bf4"/><stop offset="0.217" stop-color="#2d8bf4"/><stop offset="0.218" stop-color="#2797eb"/><stop offset="0.266" stop-color="#2797eb"/><stop offset="0.267" stop-color="#249de6"/><stop offset="0.325" stop-color="#249de6"/><stop offset="0.367" stop-color="#269ae9"/><stop offset="0.417" stop-color="#2797eb"/><stop offset="0.500" stop-color="#2895ec"/><stop offset="0.667" stop-color="#2995ec"/><stop offset="0.833" stop-color="#2994ed"/><stop offset="1.000" stop-color="#2994ed"/></linearGradient><linearGradient id="h46" x1="1479.0" x2="2059.0" y1="0" y2="0" gradientUnits="userSpaceOnUse"><stop offset="0.000" stop-color="#4755f6"/><stop offset="0.176" stop-color="#4755f6"/><stop offset="0.177" stop-color="#4367fd"/><stop offset="0.204" stop-color="#4367fd"/><stop offset="0.205" stop-color="#2895ec"/><stop offset="0.217" stop-color="#2895ec"/><stop offset="0.218" stop-color="#1ea8e0"/><stop offset="0.266" stop-color="#1ea8e0"/><stop offset="0.267" stop-color="#01bac5"/><stop offset="0.325" stop-color="#01bac5"/><stop offset="0.367" stop-color="#14b0d8"/><stop offset="0.417" stop-color="#1ea8e1"/><stop offset="0.500" stop-color="#23a1e4"/><stop offset="0.667" stop-color="#249ee6"/><stop offset="0.833" stop-color="#249ee6"/><stop offset="1.000" stop-color="#249ee6"/></linearGradient><linearGradient id="h47" x1="1479.0" x2="2059.0" y1="0" y2="0" gradientUnits="userSpaceOnUse"><stop offset="0.000" stop-color="#4564fd"/><stop offset="0.176" stop-color="#4564fd"/><stop offset="0.177" stop-color="#3777fe"/><stop offset="0.204" stop-color="#3777fe"/><stop offset="0.205" stop-color="#2895ec"/><stop offset="0.217" stop-color="#2895ec"/><stop offset="0.218" stop-color="#23a1e5"/><stop offset="0.266" stop-color="#23a1e5"/><stop offset="0.267" stop-color="#1fa6e1"/><stop offset="0.325" stop-color="#1fa6e1"/><stop offset="0.367" stop-color="#21a3e3"/><stop offset="0.417" stop-color="#23a1e5"/><stop offset="0.500" stop-color="#249fe5"/><stop offset="0.667" stop-color="#249ee6"/><stop offset="0.833" stop-color="#249ee6"/><stop offset="1.000" stop-color="#249ee6"/></linearGradient><linearGradient id="h48" x1="1479.0" x2="2059.0" y1="0" y2="0" gradientUnits="userSpaceOnUse"><stop offset="0.000" stop-color="#4851f4"/><stop offset="0.176" stop-color="#4851f4"/><stop offset="0.177" stop-color="#4563fd"/><stop offset="0.204" stop-color="#4563fd"/><stop offset="0.205" stop-color="#259ce7"/><stop offset="0.217" stop-color="#259ce7"/><stop offset="0.218" stop-color="#12b1d6"/><stop offset="0.266" stop-color="#12b1d6"/><stop offset="0.267" stop-color="#2dc4a6"/><stop offset="0.325" stop-color="#2dc4a6"/><stop offset="0.367" stop-color="#02bac5"/><stop offset="0.417" stop-color="#12b1d7"/><stop offset="0.500" stop-color="#1da9e0"/><stop offset="0.667" stop-color="#20a5e3"/><stop offset="0.833" stop-color="#20a4e3"/><stop offset="1.000" stop-color="#20a4e3"/></linearGradient><linearGradient id="h49" x1="1479.0" x2="2059.0" y1="0" y2="0" gradientUnits="userSpaceOnUse"><stop offset="0.000" stop-color="#4851f4"/><stop offset="0.176" stop-color="#4851f4"/><stop offset="0.177" stop-color="#4563fd"/><stop offset="0.204" stop-color="#4563fd"/><stop offset="0.205" stop-color="#2c8ff1"/><stop offset="0.217" stop-color="#2c8ff1"/><stop offset="0.218" stop-color="#269be8"/><stop offset="0.266" stop-color="#269be8"/><stop offset="0.267" stop-color="#23a1e5"/><stop offset="0.325" stop-color="#23a1e5"/><stop offset="0.367" stop-color="#259de7"/><stop offset="0.417" stop-color="#269be8"/><stop offset="0.500" stop-color="#2699e9"/><stop offset="0.667" stop-color="#2798ea"/><stop offset="0.833" stop-color="#2798ea"/><stop offset="1.000" stop-color="#2798ea"/></linearGradient><linearGradient id="h50" x1="1479.0" x2="2059.0" y1="0" y2="0" gradientUnits="userSpaceOnUse"><stop offset="0.000" stop-color="#4756f7"/><stop offset="0.176" stop-color="#4756f7"/><stop offset="0.177" stop-color="#4368fe"/><stop offset="0.204" stop-color="#4368fe"/><stop offset="0.205" stop-color="#2d8af5"/><stop offset="0.217" stop-color="#2d8af5"/><stop offset="0.218" stop-color="#2896eb"/><stop offset="0.266" stop-color="#2896eb"/><stop offset="0.267" stop-color="#259ce7"/><stop offset="0.325" stop-color="#259ce7"/><stop offset="0.367" stop-color="#2698ea"/><stop offset="0.417" stop-color="#2896eb"/><stop offset="0.500" stop-color="#2994ed"/><stop offset="0.667" stop-color="#2a93ed"/><stop offset="0.833" stop-color="#2a93ed"/><stop offset="1.000" stop-color="#2a93ed"/></linearGradient><linearGradient id="h51" x1="1479.0" x2="2059.0" y1="0" y2="0" gradientUnits="userSpaceOnUse"><stop offset="0.000" stop-color="#4850f2"/><stop offset="0.176" stop-color="#4850f2"/><stop offset="0.177" stop-color="#4562fc"/><stop offset="0.204" stop-color="#4562fc"/><stop offset="0.205" stop-color="#2994ed"/><stop offset="0.217" stop-color="#2994ed"/><stop offset="0.218" stop-color="#23a0e5"/><stop offset="0.266" stop-color="#23a0e5"/><stop offset="0.267" stop-color="#1fa6e2"/><stop offset="0.325" stop-color="#1fa6e2"/><stop offset="0.367" stop-color="#22a2e4"/><stop offset="0.417" stop-color="#23a0e5"/><stop offset="0.500" stop-color="#249ee6"/><stop offset="0.667" stop-color="#249de6"/><stop offset="0.833" stop-color="#249de6"/><stop offset="1.000" stop-color="#249de6"/></linearGradient><linearGradient id="h52" x1="1479.0" x2="2059.0" y1="0" y2="0" gradientUnits="userSpaceOnUse"><stop offset="0.000" stop-color="#4561fc"/><stop offset="0.176" stop-color="#4561fc"/><stop offset="0.177" stop-color="#3a74fe"/><stop offset="0.204" stop-color="#3a74fe"/><stop offset="0.205" stop-color="#2796eb"/><stop offset="0.217" stop-color="#2796eb"/><stop offset="0.218" stop-color="#22a1e4"/><stop offset="0.266" stop-color="#22a1e4"/><stop offset="0.267" stop-color="#1ea7e1"/><stop offset="0.325" stop-color="#1ea7e1"/><stop offset="0.367" stop-color="#21a4e3"/><stop offset="0.417" stop-color="#22a1e4"/><stop offset="0.500" stop-color="#23a0e5"/><stop offset="0.667" stop-color="#249fe5"/><stop offset="0.833" stop-color="#249fe5"/><stop offset="1.000" stop-color="#249fe5"/></linearGradient><linearGradient id="h53" x1="1479.0" x2="2059.0" y1="0" y2="0" gradientUnits="userSpaceOnUse"><stop offset="0.000" stop-color="#4850f3"/><stop offset="0.176" stop-color="#4850f3"/><stop offset="0.177" stop-color="#4562fc"/><stop offset="0.204" stop-color="#4562fc"/><stop offset="0.205" stop-color="#2d8df2"/><stop offset="0.217" stop-color="#2d8df2"/><stop offset="0.218" stop-color="#2699e9"/><stop offset="0.266" stop-color="#2699e9"/><stop offset="0.267" stop-color="#249fe6"/><stop offset="0.325" stop-color="#249fe6"/><stop offset="0.367" stop-color="#259be8"/><stop offset="0.417" stop-color="#2699ea"/><stop offset="0.500" stop-color="#2797eb"/><stop offset="0.667" stop-color="#2896eb"/><stop offset="0.833" stop-color="#2896eb"/><stop offset="1.000" stop-color="#2896eb"/></linearGradient><linearGradient id="h54" x1="1479.0" x2="2059.0" y1="0" y2="0" gradientUnits="userSpaceOnUse"><stop offset="0.000" stop-color="#4852f4"/><stop offset="0.176" stop-color="#4852f4"/><stop offset="0.177" stop-color="#4564fd"/><stop offset="0.204" stop-color="#4564fd"/><stop offset="0.205" stop-color="#249ee6"/><stop offset="0.217" stop-color="#249ee6"/><stop offset="0.218" stop-color="#1da9e0"/><stop offset="0.266" stop-color="#1da9e0"/><stop offset="0.267" stop-color="#17aeda"/><stop offset="0.325" stop-color="#17aeda"/><stop offset="0.367" stop-color="#1babde"/><stop offset="0.417" stop-color="#1da9e0"/><stop offset="0.500" stop-color="#1ea7e1"/><stop offset="0.667" stop-color="#1ea7e1"/><stop offset="0.833" stop-color="#1ea7e1"/><stop offset="1.000" stop-color="#1ea7e1"/></linearGradient><linearGradient id="h55" x1="1479.0" x2="2059.0" y1="0" y2="0" gradientUnits="userSpaceOnUse"><stop offset="0.000" stop-color="#4564fd"/><stop offset="0.176" stop-color="#4564fd"/><stop offset="0.177" stop-color="#3777fe"/><stop offset="0.204" stop-color="#3777fe"/><stop offset="0.205" stop-color="#2699e9"/><stop offset="0.217" stop-color="#2699e9"/><stop offset="0.218" stop-color="#1caadf"/><stop offset="0.266" stop-color="#1caadf"/><stop offset="0.267" stop-color="#01bac5"/><stop offset="0.325" stop-color="#01bac5"/><stop offset="0.367" stop-color="#12b1d6"/><stop offset="0.417" stop-color="#1caadf"/><stop offset="0.500" stop-color="#20a4e3"/><stop offset="0.667" stop-color="#22a2e4"/><stop offset="0.833" stop-color="#22a1e4"/><stop offset="1.000" stop-color="#22a1e4"/></linearGradient><linearGradient id="h56" x1="1479.0" x2="2059.0" y1="0" y2="0" gradientUnits="userSpaceOnUse"><stop offset="0.000" stop-color="#4855f6"/><stop offset="0.176" stop-color="#4855f6"/><stop offset="0.177" stop-color="#4366fd"/><stop offset="0.204" stop-color="#4366fd"/><stop offset="0.205" stop-color="#2994ed"/><stop offset="0.217" stop-color="#2994ed"/><stop offset="0.218" stop-color="#239fe5"/><stop offset="0.266" stop-color="#239fe5"/><stop offset="0.267" stop-color="#1fa5e2"/><stop offset="0.325" stop-color="#1fa5e2"/><stop offset="0.367" stop-color="#22a2e4"/><stop offset="0.417" stop-color="#239fe5"/><stop offset="0.500" stop-color="#249ee6"/><stop offset="0.667" stop-color="#259de7"/><stop offset="0.833" stop-color="#259de7"/><stop offset="1.000" stop-color="#259de7"/></linearGradient><linearGradient id="h57" x1="1479.0" x2="2059.0" y1="0" y2="0" gradientUnits="userSpaceOnUse"><stop offset="0.000" stop-color="#4757f7"/><stop offset="0.176" stop-color="#4757f7"/><stop offset="0.177" stop-color="#4269fe"/><stop offset="0.204" stop-color="#4269fe"/><stop offset="0.205" stop-color="#2797eb"/><stop offset="0.217" stop-color="#2797eb"/><stop offset="0.218" stop-color="#22a2e4"/><stop offset="0.266" stop-color="#22a2e4"/><stop offset="0.267" stop-color="#1da8e0"/><stop offset="0.325" stop-color="#1da8e0"/><stop offset="0.367" stop-color="#20a5e3"/><stop offset="0.417" stop-color="#22a2e4"/><stop offset="0.500" stop-color="#23a1e5"/><stop offset="0.667" stop-color="#23a0e5"/><stop offset="0.833" stop-color="#23a0e5"/><stop offset="1.000" stop-color="#23a0e5"/></linearGradient><linearGradient id="h58" x1="1479.0" x2="2059.0" y1="0" y2="0" gradientUnits="userSpaceOnUse"><stop offset="0.000" stop-color="#4563fd"/><stop offset="0.176" stop-color="#4563fd"/><stop offset="0.177" stop-color="#3776fe"/><stop offset="0.204" stop-color="#3776fe"/><stop offset="0.205" stop-color="#249de6"/><stop offset="0.217" stop-color="#249de6"/><stop offset="0.218" stop-color="#0fb2d5"/><stop offset="0.266" stop-color="#0fb2d5"/><stop offset="0.267" stop-color="#2dc4a6"/><stop offset="0.325" stop-color="#2dc4a6"/><stop offset="0.367" stop-color="#02bac4"/><stop offset="0.417" stop-color="#10b2d5"/><stop offset="0.500" stop-color="#1caadf"/><stop offset="0.667" stop-color="#1fa6e2"/><stop offset="0.833" stop-color="#1fa6e2"/><stop offset="1.000" stop-color="#1fa6e2"/></linearGradient><linearGradient id="h59" x1="1479.0" x2="2059.0" y1="0" y2="0" gradientUnits="userSpaceOnUse"><stop offset="0.000" stop-color="#4851f3"/><stop offset="0.176" stop-color="#4851f3"/><stop offset="0.177" stop-color="#4562fc"/><stop offset="0.204" stop-color="#4562fc"/><stop offset="0.205" stop-color="#249ee6"/><stop offset="0.217" stop-color="#249ee6"/><stop offset="0.218" stop-color="#1da8e0"/><stop offset="0.266" stop-color="#1da8e0"/><stop offset="0.267" stop-color="#18aedb"/><stop offset="0.325" stop-color="#18aedb"/><stop offset="0.367" stop-color="#1babde"/><stop offset="0.417" stop-color="#1da8e0"/><stop offset="0.500" stop-color="#1ea7e1"/><stop offset="0.667" stop-color="#1fa6e2"/><stop offset="0.833" stop-color="#1fa6e2"/><stop offset="1.000" stop-color="#1fa6e2"/></linearGradient><linearGradient id="h60" x1="1479.0" x2="2059.0" y1="0" y2="0" gradientUnits="userSpaceOnUse"><stop offset="0.000" stop-color="#465dfa"/><stop offset="0.176" stop-color="#465dfa"/><stop offset="0.177" stop-color="#3e70ff"/><stop offset="0.204" stop-color="#3e70ff"/><stop offset="0.205" stop-color="#2798ea"/><stop offset="0.217" stop-color="#2798ea"/><stop offset="0.218" stop-color="#21a3e3"/><stop offset="0.266" stop-color="#21a3e3"/><stop offset="0.267" stop-color="#1da9e0"/><stop offset="0.325" stop-color="#1da9e0"/><stop offset="0.367" stop-color="#20a5e2"/><stop offset="0.417" stop-color="#21a3e3"/><stop offset="0.500" stop-color="#22a1e4"/><stop offset="0.667" stop-color="#23a0e5"/><stop offset="0.833" stop-color="#23a0e5"/><stop offset="1.000" stop-color="#23a0e5"/></linearGradient><linearGradient id="h61" x1="1479.0" x2="2059.0" y1="0" y2="0" gradientUnits="userSpaceOnUse"><stop offset="0.000" stop-color="#465ffb"/><stop offset="0.176" stop-color="#465ffb"/><stop offset="0.177" stop-color="#3c71ff"/><stop offset="0.204" stop-color="#3c71ff"/><stop offset="0.205" stop-color="#2994ed"/><stop offset="0.217" stop-color="#2994ed"/><stop offset="0.218" stop-color="#1da8e0"/><stop offset="0.266" stop-color="#1da8e0"/><stop offset="0.267" stop-color="#07bcbf"/><stop offset="0.325" stop-color="#07bcbf"/><stop offset="0.367" stop-color="#11b1d6"/><stop offset="0.417" stop-color="#1da8e0"/><stop offset="0.500" stop-color="#23a1e5"/><stop offset="0.667" stop-color="#249de6"/><stop offset="0.833" stop-color="#259de7"/><stop offset="1.000" stop-color="#259de7"/></linearGradient><linearGradient id="h62" x1="1479.0" x2="2059.0" y1="0" y2="0" gradientUnits="userSpaceOnUse"><stop offset="0.000" stop-color="#4746ea"/><stop offset="0.176" stop-color="#4746ea"/><stop offset="0.177" stop-color="#4758f8"/><stop offset="0.204" stop-color="#4758f8"/><stop offset="0.205" stop-color="#2d88f6"/><stop offset="0.217" stop-color="#2d88f6"/><stop offset="0.218" stop-color="#2994ed"/><stop offset="0.266" stop-color="#2994ed"/><stop offset="0.267" stop-color="#269ae8"/><stop offset="0.325" stop-color="#269ae8"/><stop offset="0.367" stop-color="#2797eb"/><stop offset="0.417" stop-color="#2994ed"/><stop offset="0.500" stop-color="#2a92ee"/><stop offset="0.667" stop-color="#2b92ef"/><stop offset="0.833" stop-color="#2b92ef"/><stop offset="1.000" stop-color="#2b92ef"/></linearGradient><linearGradient id="h63" x1="1479.0" x2="2059.0" y1="0" y2="0" gradientUnits="userSpaceOnUse"><stop offset="0.000" stop-color="#4758f8"/><stop offset="0.176" stop-color="#4758f8"/><stop offset="0.177" stop-color="#426afe"/><stop offset="0.204" stop-color="#426afe"/><stop offset="0.205" stop-color="#2c8ef1"/><stop offset="0.217" stop-color="#2c8ef1"/><stop offset="0.218" stop-color="#269ae8"/><stop offset="0.266" stop-color="#269ae8"/><stop offset="0.267" stop-color="#23a0e5"/><stop offset="0.325" stop-color="#23a0e5"/><stop offset="0.367" stop-color="#259ce7"/><stop offset="0.417" stop-color="#269ae8"/><stop offset="0.500" stop-color="#2698ea"/><stop offset="0.667" stop-color="#2798ea"/><stop offset="0.833" stop-color="#2797ea"/><stop offset="1.000" stop-color="#2797ea"/></linearGradient><linearGradient id="h64" x1="1479.0" x2="2059.0" y1="0" y2="0" gradientUnits="userSpaceOnUse"><stop offset="0.000" stop-color="#4759f8"/><stop offset="0.176" stop-color="#4759f8"/><stop offset="0.177" stop-color="#416bfe"/><stop offset="0.204" stop-color="#416bfe"/><stop offset="0.205" stop-color="#259de7"/><stop offset="0.217" stop-color="#259de7"/><stop offset="0.218" stop-color="#1da8e0"/><stop offset="0.266" stop-color="#1da8e0"/><stop offset="0.267" stop-color="#19addb"/><stop offset="0.325" stop-color="#19addb"/><stop offset="0.367" stop-color="#1caadf"/><stop offset="0.417" stop-color="#1ea8e0"/><stop offset="0.500" stop-color="#1fa6e2"/><stop offset="0.667" stop-color="#1fa5e2"/><stop offset="0.833" stop-color="#1fa5e2"/><stop offset="1.000" stop-color="#1fa5e2"/></linearGradient><linearGradient id="h65" x1="1479.0" x2="2059.0" y1="0" y2="0" gradientUnits="userSpaceOnUse"><stop offset="0.000" stop-color="#4853f5"/><stop offset="0.176" stop-color="#4853f5"/><stop offset="0.177" stop-color="#4465fd"/><stop offset="0.204" stop-color="#4465fd"/><stop offset="0.205" stop-color="#2797eb"/><stop offset="0.217" stop-color="#2797eb"/><stop offset="0.218" stop-color="#22a2e4"/><stop offset="0.266" stop-color="#22a2e4"/><stop offset="0.267" stop-color="#1ea8e1"/><stop offset="0.325" stop-color="#1ea8e1"/><stop offset="0.367" stop-color="#20a4e3"/><stop offset="0.417" stop-color="#22a2e4"/><stop offset="0.500" stop-color="#23a0e5"/><stop offset="0.667" stop-color="#239fe5"/><stop offset="0.833" stop-color="#249fe5"/><stop offset="1.000" stop-color="#249fe5"/></linearGradient><linearGradient id="h66" x1="1479.0" x2="2059.0" y1="0" y2="0" gradientUnits="userSpaceOnUse"><stop offset="0.000" stop-color="#475af9"/><stop offset="0.176" stop-color="#475af9"/><stop offset="0.177" stop-color="#406cfe"/><stop offset="0.204" stop-color="#406cfe"/><stop offset="0.205" stop-color="#2e84f9"/><stop offset="0.217" stop-color="#2e84f9"/><stop offset="0.218" stop-color="#2c90f0"/><stop offset="0.266" stop-color="#2c90f0"/><stop offset="0.267" stop-color="#2797eb"/><stop offset="0.325" stop-color="#2797eb"/><stop offset="0.367" stop-color="#2a93ee"/><stop offset="0.417" stop-color="#2c90f0"/><stop offset="0.500" stop-color="#2c8ef1"/><stop offset="0.667" stop-color="#2d8df2"/><stop offset="0.833" stop-color="#2d8df2"/><stop offset="1.000" stop-color="#2d8df2"/></linearGradient><linearGradient id="h67" x1="1479.0" x2="2059.0" y1="0" y2="0" gradientUnits="userSpaceOnUse"><stop offset="0.000" stop-color="#4853f5"/><stop offset="0.176" stop-color="#4853f5"/><stop offset="0.177" stop-color="#4465fd"/><stop offset="0.204" stop-color="#4465fd"/><stop offset="0.205" stop-color="#2699e9"/><stop offset="0.217" stop-color="#2699e9"/><stop offset="0.218" stop-color="#20a4e3"/><stop offset="0.266" stop-color="#20a4e3"/><stop offset="0.267" stop-color="#1caadf"/><stop offset="0.325" stop-color="#1caadf"/><stop offset="0.367" stop-color="#1ea7e1"/><stop offset="0.417" stop-color="#20a4e3"/><stop offset="0.500" stop-color="#21a3e3"/><stop offset="0.667" stop-color="#22a2e4"/><stop offset="0.833" stop-color="#22a2e4"/><stop offset="1.000" stop-color="#22a2e4"/></linearGradient><linearGradient id="h68" x1="1479.0" x2="2059.0" y1="0" y2="0" gradientUnits="userSpaceOnUse"><stop offset="0.000" stop-color="#4759f8"/><stop offset="0.176" stop-color="#4759f8"/><stop offset="0.177" stop-color="#416bfe"/><stop offset="0.204" stop-color="#416bfe"/><stop offset="0.205" stop-color="#249ee6"/><stop offset="0.217" stop-color="#249ee6"/><stop offset="0.218" stop-color="#0eb2d4"/><stop offset="0.266" stop-color="#0eb2d4"/><stop offset="0.267" stop-color="#2dc4a6"/><stop offset="0.325" stop-color="#2dc4a6"/><stop offset="0.367" stop-color="#02bbc3"/><stop offset="0.417" stop-color="#0eb2d4"/><stop offset="0.500" stop-color="#1babde"/><stop offset="0.667" stop-color="#1ea7e1"/><stop offset="0.833" stop-color="#1ea7e1"/><stop offset="1.000" stop-color="#1ea7e1"/></linearGradient><linearGradient id="h69" x1="1479.0" x2="2059.0" y1="0" y2="0" gradientUnits="userSpaceOnUse"><stop offset="0.000" stop-color="#4758f8"/><stop offset="0.176" stop-color="#4758f8"/><stop offset="0.177" stop-color="#426afe"/><stop offset="0.204" stop-color="#426afe"/><stop offset="0.205" stop-color="#2d8cf3"/><stop offset="0.217" stop-color="#2d8cf3"/><stop offset="0.218" stop-color="#2798ea"/><stop offset="0.266" stop-color="#2798ea"/><stop offset="0.267" stop-color="#249ee6"/><stop offset="0.325" stop-color="#249ee6"/><stop offset="0.367" stop-color="#269be8"/><stop offset="0.417" stop-color="#2798ea"/><stop offset="0.500" stop-color="#2796eb"/><stop offset="0.667" stop-color="#2896ec"/><stop offset="0.833" stop-color="#2896ec"/><stop offset="1.000" stop-color="#2896ec"/></linearGradient><linearGradient id="h70" x1="1479.0" x2="2059.0" y1="0" y2="0" gradientUnits="userSpaceOnUse"><stop offset="0.000" stop-color="#4850f3"/><stop offset="0.176" stop-color="#4850f3"/><stop offset="0.177" stop-color="#4562fc"/><stop offset="0.204" stop-color="#4562fc"/><stop offset="0.205" stop-color="#2896ec"/><stop offset="0.217" stop-color="#2896ec"/><stop offset="0.218" stop-color="#0ab4d2"/><stop offset="0.266" stop-color="#0ab4d2"/><stop offset="0.267" stop-color="#5fcd73"/><stop offset="0.325" stop-color="#5fcd73"/><stop offset="0.367" stop-color="#1dc0b3"/><stop offset="0.417" stop-color="#0bb3d2"/><stop offset="0.500" stop-color="#1fa6e2"/><stop offset="0.667" stop-color="#249fe5"/><stop offset="0.833" stop-color="#249fe6"/><stop offset="1.000" stop-color="#249ee6"/></linearGradient><linearGradient id="h71" x1="1479.0" x2="2059.0" y1="0" y2="0" gradientUnits="userSpaceOnUse"><stop offset="0.000" stop-color="#4755f6"/><stop offset="0.176" stop-color="#4755f6"/><stop offset="0.177" stop-color="#4367fd"/><stop offset="0.204" stop-color="#4367fd"/><stop offset="0.205" stop-color="#2e84f8"/><stop offset="0.217" stop-color="#2e84f8"/><stop offset="0.218" stop-color="#2b91ef"/><stop offset="0.266" stop-color="#2b91ef"/><stop offset="0.267" stop-color="#2797eb"/><stop offset="0.325" stop-color="#2797eb"/><stop offset="0.367" stop-color="#2a93ed"/><stop offset="0.417" stop-color="#2b91ef"/><stop offset="0.500" stop-color="#2c8ff1"/><stop offset="0.667" stop-color="#2c8ef1"/><stop offset="0.833" stop-color="#2c8ef2"/><stop offset="1.000" stop-color="#2c8ef2"/></linearGradient><linearGradient id="h72" x1="1479.0" x2="2059.0" y1="0" y2="0" gradientUnits="userSpaceOnUse"><stop offset="0.000" stop-color="#465dfa"/><stop offset="0.176" stop-color="#465dfa"/><stop offset="0.177" stop-color="#3e70ff"/><stop offset="0.204" stop-color="#3e70ff"/><stop offset="0.205" stop-color="#269be8"/><stop offset="0.217" stop-color="#269be8"/><stop offset="0.218" stop-color="#1fa5e2"/><stop offset="0.266" stop-color="#1fa5e2"/><stop offset="0.267" stop-color="#1babde"/><stop offset="0.325" stop-color="#1babde"/><stop offset="0.367" stop-color="#1ea8e0"/><stop offset="0.417" stop-color="#1fa5e2"/><stop offset="0.500" stop-color="#20a4e3"/><stop offset="0.667" stop-color="#21a3e3"/><stop offset="0.833" stop-color="#21a3e3"/><stop offset="1.000" stop-color="#21a3e3"/></linearGradient><linearGradient id="h73" x1="1479.0" x2="2059.0" y1="0" y2="0" gradientUnits="userSpaceOnUse"><stop offset="0.000" stop-color="#4851f3"/><stop offset="0.176" stop-color="#4851f3"/><stop offset="0.177" stop-color="#4562fc"/><stop offset="0.204" stop-color="#4562fc"/><stop offset="0.205" stop-color="#249fe6"/><stop offset="0.217" stop-color="#249fe6"/><stop offset="0.218" stop-color="#16afda"/><stop offset="0.266" stop-color="#16afda"/><stop offset="0.267" stop-color="#07bcbf"/><stop offset="0.325" stop-color="#07bcbf"/><stop offset="0.367" stop-color="#08b5d0"/><stop offset="0.417" stop-color="#16aeda"/><stop offset="0.500" stop-color="#1ca9df"/><stop offset="0.667" stop-color="#1ea7e1"/><stop offset="0.833" stop-color="#1ea7e1"/><stop offset="1.000" stop-color="#1ea7e1"/></linearGradient><linearGradient id="h74" x1="1479.0" x2="2059.0" y1="0" y2="0" gradientUnits="userSpaceOnUse"><stop offset="0.000" stop-color="#4759f8"/><stop offset="0.176" stop-color="#4759f8"/><stop offset="0.177" stop-color="#416bfe"/><stop offset="0.204" stop-color="#416bfe"/><stop offset="0.205" stop-color="#2d8bf4"/><stop offset="0.217" stop-color="#2d8bf4"/><stop offset="0.218" stop-color="#2797eb"/><stop offset="0.266" stop-color="#2797eb"/><stop offset="0.267" stop-color="#249de6"/><stop offset="0.325" stop-color="#249de6"/><stop offset="0.367" stop-color="#269ae9"/><stop offset="0.417" stop-color="#2797eb"/><stop offset="0.500" stop-color="#2895ec"/><stop offset="0.667" stop-color="#2995ec"/><stop offset="0.833" stop-color="#2994ed"/><stop offset="1.000" stop-color="#2994ed"/></linearGradient><linearGradient id="h75" x1="1479.0" x2="2059.0" y1="0" y2="0" gradientUnits="userSpaceOnUse"><stop offset="0.000" stop-color="#4757f7"/><stop offset="0.176" stop-color="#4757f7"/><stop offset="0.177" stop-color="#4269fe"/><stop offset="0.204" stop-color="#4269fe"/><stop offset="0.205" stop-color="#2895ec"/><stop offset="0.217" stop-color="#2895ec"/><stop offset="0.218" stop-color="#1da9e0"/><stop offset="0.266" stop-color="#1da9e0"/><stop offset="0.267" stop-color="#07bcbf"/><stop offset="0.325" stop-color="#07bcbf"/><stop offset="0.367" stop-color="#10b2d5"/><stop offset="0.417" stop-color="#1da9e0"/><stop offset="0.500" stop-color="#22a1e4"/><stop offset="0.667" stop-color="#249ee6"/><stop offset="0.833" stop-color="#249ee6"/><stop offset="1.000" stop-color="#249ee6"/></linearGradient><linearGradient id="h76" x1="1479.0" x2="2059.0" y1="0" y2="0" gradientUnits="userSpaceOnUse"><stop offset="0.000" stop-color="#4854f6"/><stop offset="0.176" stop-color="#4854f6"/><stop offset="0.177" stop-color="#4366fd"/><stop offset="0.204" stop-color="#4366fd"/><stop offset="0.205" stop-color="#2895ec"/><stop offset="0.217" stop-color="#2895ec"/><stop offset="0.218" stop-color="#23a1e5"/><stop offset="0.266" stop-color="#23a1e5"/><stop offset="0.267" stop-color="#1fa6e1"/><stop offset="0.325" stop-color="#1fa6e1"/><stop offset="0.367" stop-color="#21a3e3"/><stop offset="0.417" stop-color="#23a1e5"/><stop offset="0.500" stop-color="#249fe5"/><stop offset="0.667" stop-color="#249ee6"/><stop offset="0.833" stop-color="#249ee6"/><stop offset="1.000" stop-color="#249ee6"/></linearGradient><linearGradient id="h77" x1="1479.0" x2="2059.0" y1="0" y2="0" gradientUnits="userSpaceOnUse"><stop offset="0.000" stop-color="#4564fd"/><stop offset="0.176" stop-color="#4564fd"/><stop offset="0.177" stop-color="#3777fe"/><stop offset="0.204" stop-color="#3777fe"/><stop offset="0.205" stop-color="#259ce7"/><stop offset="0.217" stop-color="#259ce7"/><stop offset="0.218" stop-color="#12b1d6"/><stop offset="0.266" stop-color="#12b1d6"/><stop offset="0.267" stop-color="#2dc4a6"/><stop offset="0.325" stop-color="#2dc4a6"/><stop offset="0.367" stop-color="#02bac5"/><stop offset="0.417" stop-color="#12b1d7"/><stop offset="0.500" stop-color="#1da9e0"/><stop offset="0.667" stop-color="#20a5e3"/><stop offset="0.833" stop-color="#20a4e3"/><stop offset="1.000" stop-color="#20a4e3"/></linearGradient><linearGradient id="h78" x1="1479.0" x2="2059.0" y1="0" y2="0" gradientUnits="userSpaceOnUse"><stop offset="0.000" stop-color="#4852f4"/><stop offset="0.176" stop-color="#4852f4"/><stop offset="0.177" stop-color="#4564fd"/><stop offset="0.204" stop-color="#4564fd"/><stop offset="0.205" stop-color="#249ee6"/><stop offset="0.217" stop-color="#249ee6"/><stop offset="0.218" stop-color="#1ca9df"/><stop offset="0.266" stop-color="#1ca9df"/><stop offset="0.267" stop-color="#16aeda"/><stop offset="0.325" stop-color="#16aeda"/><stop offset="0.367" stop-color="#1aabdd"/><stop offset="0.417" stop-color="#1ca9df"/><stop offset="0.500" stop-color="#1ea8e1"/><stop offset="0.667" stop-color="#1ea7e1"/><stop offset="0.833" stop-color="#1ea7e1"/><stop offset="1.000" stop-color="#1ea7e1"/></linearGradient><linearGradient id="h79" x1="1479.0" x2="2059.0" y1="0" y2="0" gradientUnits="userSpaceOnUse"><stop offset="0.000" stop-color="#4850f3"/><stop offset="0.176" stop-color="#4850f3"/><stop offset="0.177" stop-color="#4562fc"/><stop offset="0.204" stop-color="#4562fc"/><stop offset="0.205" stop-color="#2d8af5"/><stop offset="0.217" stop-color="#2d8af5"/><stop offset="0.218" stop-color="#2896eb"/><stop offset="0.266" stop-color="#2896eb"/><stop offset="0.267" stop-color="#259ce7"/><stop offset="0.325" stop-color="#259ce7"/><stop offset="0.367" stop-color="#2698ea"/><stop offset="0.417" stop-color="#2896eb"/><stop offset="0.500" stop-color="#2994ed"/><stop offset="0.667" stop-color="#2a93ed"/><stop offset="0.833" stop-color="#2a93ed"/><stop offset="1.000" stop-color="#2a93ed"/></linearGradient><linearGradient id="h80" x1="1479.0" x2="2059.0" y1="0" y2="0" gradientUnits="userSpaceOnUse"><stop offset="0.000" stop-color="#4757f7"/><stop offset="0.176" stop-color="#4757f7"/><stop offset="0.177" stop-color="#4269fe"/><stop offset="0.204" stop-color="#4269fe"/><stop offset="0.205" stop-color="#2e84f9"/><stop offset="0.217" stop-color="#2e84f9"/><stop offset="0.218" stop-color="#2b90f0"/><stop offset="0.266" stop-color="#2b90f0"/><stop offset="0.267" stop-color="#2797eb"/><stop offset="0.325" stop-color="#2797eb"/><stop offset="0.367" stop-color="#2a93ee"/><stop offset="0.417" stop-color="#2b90f0"/><stop offset="0.500" stop-color="#2c8ef1"/><stop offset="0.667" stop-color="#2c8ef2"/><stop offset="0.833" stop-color="#2c8ef2"/><stop offset="1.000" stop-color="#2c8ef2"/></linearGradient><linearGradient id="cb81" x1="0" x2="0" y1="0" y2="1"><stop offset="0.0000" stop-color="#f9fb15"/><stop offset="0.0312" stop-color="#f6ef20"/><stop offset="0.0625" stop-color="#f5e327"/><stop offset="0.0938" stop-color="#f9d62d"/><stop offset="0.1250" stop-color="#feca33"/><stop offset="0.1562" stop-color="#febe3c"/><stop offset="0.1875" stop-color="#f1ba37"/><stop offset="0.2188" stop-color="#debc2a"/><stop offset="0.2500" stop-color="#c8c129"/><stop offset="0.2812" stop-color="#afc637"/><stop offset="0.3125" stop-color="#94ca4a"/><stop offset="0.3438" stop-color="#77cc60"/><stop offset="0.3750" stop-color="#5ccc76"/><stop offset="0.4062" stop-color="#44ca8a"/><stop offset="0.4375" stop-color="#34c79c"/><stop offset="0.4688" stop-color="#28c2ab"/><stop offset="0.5000" stop-color="#12beb9"/><stop offset="0.5312" stop-color="#01b9c6"/><stop offset="0.5625" stop-color="#0cb3d3"/><stop offset="0.5938" stop-color="#1aacdd"/><stop offset="0.6250" stop-color="#21a3e3"/><stop offset="0.6562" stop-color="#269ae9"/><stop offset="0.6875" stop-color="#2c90f0"/><stop offset="0.7188" stop-color="#2e85f8"/><stop offset="0.7500" stop-color="#347afd"/><stop offset="0.7812" stop-color="#3f6efe"/><stop offset="0.8125" stop-color="#4562fc"/><stop offset="0.8438" stop-color="#4757f7"/><stop offset="0.8750" stop-color="#484cef"/><stop offset="0.9062" stop-color="#4741e5"/><stop offset="0.9375" stop-color="#4536d5"/><stop offset="0.9688" stop-color="#422ebf"/><stop offset="1.0000" stop-color="#3e26a8"/></linearGradient><linearGradient id="h82" x1="706.0" x2="1286.5" y1="0" y2="0" gradientUnits="userSpaceOnUse"><stop offset="0.000" stop-color="#4746ea"/><stop offset="0.195" stop-color="#4746ea"/><stop offset="0.196" stop-color="#347afd"/><stop offset="0.225" stop-color="#2e85f8"/><stop offset="0.252" stop-color="#2c8ff1"/><stop offset="0.253" stop-color="#84cc56"/><stop offset="0.279" stop-color="#84cc56"/><stop offset="0.354" stop-color="#84cc56"/><stop offset="0.383" stop-color="#2dc4a5"/><stop offset="0.417" stop-color="#1baade"/><stop offset="0.517" stop-color="#249de7"/><stop offset="0.625" stop-color="#2c8ef2"/><stop offset="1.000" stop-color="#2d8af5"/></linearGradient><linearGradient id="h83" x1="706.0" x2="1286.5" y1="0" y2="0" gradientUnits="userSpaceOnUse"><stop offset="0.000" stop-color="#463ddf"/><stop offset="0.195" stop-color="#463ddf"/><stop offset="0.196" stop-color="#3f6eff"/><stop offset="0.225" stop-color="#337afd"/><stop offset="0.252" stop-color="#2e85f8"/><stop offset="0.253" stop-color="#2e85f8"/><stop offset="0.279" stop-color="#259be7"/><stop offset="0.354" stop-color="#259be7"/><stop offset="0.383" stop-color="#2699e9"/><stop offset="0.417" stop-color="#2895ec"/><stop offset="0.517" stop-color="#2d8bf4"/><stop offset="0.625" stop-color="#317efb"/><stop offset="1.000" stop-color="#347afd"/></linearGradient><linearGradient id="h84" x1="706.0" x2="1286.5" y1="0" y2="0" gradientUnits="userSpaceOnUse"><stop offset="0.000" stop-color="#463de0"/><stop offset="0.195" stop-color="#463de0"/><stop offset="0.196" stop-color="#347afd"/><stop offset="0.225" stop-color="#2e85f8"/><stop offset="0.252" stop-color="#2c8ff1"/><stop offset="0.253" stop-color="#50cc80"/><stop offset="0.279" stop-color="#50cc80"/><stop offset="0.354" stop-color="#50cc80"/><stop offset="0.383" stop-color="#17bfb6"/><stop offset="0.417" stop-color="#1ea7e1"/><stop offset="0.517" stop-color="#2699e9"/><stop offset="0.625" stop-color="#2d88f6"/><stop offset="1.000" stop-color="#2e84f8"/></linearGradient><linearGradient id="h85" x1="706.0" x2="1286.5" y1="0" y2="0" gradientUnits="userSpaceOnUse"><stop offset="0.000" stop-color="#4746ea"/><stop offset="0.195" stop-color="#4746ea"/><stop offset="0.196" stop-color="#3f6eff"/><stop offset="0.225" stop-color="#337afd"/><stop offset="0.252" stop-color="#2e85f8"/><stop offset="0.253" stop-color="#2e85f8"/><stop offset="0.279" stop-color="#2895ec"/><stop offset="0.354" stop-color="#2895ec"/><stop offset="0.383" stop-color="#2b92ee"/><stop offset="0.417" stop-color="#2c8ff1"/><stop offset="0.517" stop-color="#2e85f8"/><stop offset="0.625" stop-color="#3579fd"/><stop offset="1.000" stop-color="#3974fe"/></linearGradient><linearGradient id="h86" x1="706.0" x2="1286.5" y1="0" y2="0" gradientUnits="userSpaceOnUse"><stop offset="0.000" stop-color="#4740e3"/><stop offset="0.195" stop-color="#4740e3"/><stop offset="0.196" stop-color="#347afd"/><stop offset="0.225" stop-color="#2e85f8"/><stop offset="0.252" stop-color="#2c8ff1"/><stop offset="0.253" stop-color="#41ca8c"/><stop offset="0.279" stop-color="#41ca8c"/><stop offset="0.354" stop-color="#41ca8c"/><stop offset="0.383" stop-color="#0cbdbc"/><stop offset="0.417" stop-color="#20a5e2"/><stop offset="0.517" stop-color="#2699e9"/><stop offset="0.625" stop-color="#2d8bf4"/><stop offset="1.000" stop-color="#2e87f7"/></linearGradient><linearGradient id="h87" x1="706.0" x2="1286.5" y1="0" y2="0" gradientUnits="userSpaceOnUse"><stop offset="0.000" stop-color="#463bdd"/><stop offset="0.195" stop-color="#463bdd"/><stop offset="0.196" stop-color="#3f6eff"/><stop offset="0.225" stop-color="#337afd"/><stop offset="0.252" stop-color="#2e85f8"/><stop offset="0.253" stop-color="#2e85f8"/><stop offset="0.279" stop-color="#269ae9"/><stop offset="0.354" stop-color="#269ae9"/><stop offset="0.383" stop-color="#2797eb"/><stop offset="0.417" stop-color="#2a93ed"/><stop offset="0.517" stop-color="#2d8af4"/><stop offset="0.625" stop-color="#3080fa"/><stop offset="1.000" stop-color="#327cfc"/></linearGradient><linearGradient id="h88" x1="706.0" x2="1286.5" y1="0" y2="0" gradientUnits="userSpaceOnUse"><stop offset="0.000" stop-color="#4744e8"/><stop offset="0.195" stop-color="#4744e8"/><stop offset="0.196" stop-color="#347afd"/><stop offset="0.225" stop-color="#2e85f8"/><stop offset="0.252" stop-color="#2c8ff1"/><stop offset="0.253" stop-color="#50cc80"/><stop offset="0.279" stop-color="#50cc80"/><stop offset="0.354" stop-color="#50cc80"/><stop offset="0.383" stop-color="#1cc0b3"/><stop offset="0.417" stop-color="#1babde"/><stop offset="0.517" stop-color="#259ce7"/><stop offset="0.625" stop-color="#2d8bf3"/><stop offset="1.000" stop-color="#2d87f7"/></linearGradient><linearGradient id="h89" x1="706.0" x2="1286.5" y1="0" y2="0" gradientUnits="userSpaceOnUse"><stop offset="0.000" stop-color="#4743e7"/><stop offset="0.195" stop-color="#4743e7"/><stop offset="0.196" stop-color="#347afd"/><stop offset="0.225" stop-color="#2e85f8"/><stop offset="0.252" stop-color="#2c8ff1"/><stop offset="0.253" stop-color="#50cc80"/><stop offset="0.279" stop-color="#50cc80"/><stop offset="0.354" stop-color="#50cc80"/><stop offset="0.383" stop-color="#1ac0b4"/><stop offset="0.417" stop-color="#1ca9df"/><stop offset="0.517" stop-color="#269ae9"/><stop offset="0.625" stop-color="#2d88f6"/><stop offset="1.000" stop-color="#2e83f9"/></linearGradient><linearGradient id="h90" x1="706.0" x2="1286.5" y1="0" y2="0" gradientUnits="userSpaceOnUse"><stop offset="0.000" stop-color="#463bdc"/><stop offset="0.195" stop-color="#463bdc"/><stop offset="0.196" stop-color="#3f6eff"/><stop offset="0.225" stop-color="#337afd"/><stop offset="0.252" stop-color="#2e85f8"/><stop offset="0.253" stop-color="#2e85f8"/><stop offset="0.279" stop-color="#2797eb"/><stop offset="0.354" stop-color="#2797eb"/><stop offset="0.383" stop-color="#2994ed"/><stop offset="0.417" stop-color="#2b90ef"/><stop offset="0.517" stop-color="#2e86f7"/><stop offset="0.625" stop-color="#3479fd"/><stop offset="1.000" stop-color="#3975fe"/></linearGradient><linearGradient id="h91" x1="706.0" x2="1286.5" y1="0" y2="0" gradientUnits="userSpaceOnUse"><stop offset="0.000" stop-color="#4741e5"/><stop offset="0.195" stop-color="#4741e5"/><stop offset="0.196" stop-color="#347afd"/><stop offset="0.225" stop-color="#2e85f8"/><stop offset="0.252" stop-color="#2c8ff1"/><stop offset="0.253" stop-color="#41ca8c"/><stop offset="0.279" stop-color="#41ca8c"/><stop offset="0.354" stop-color="#41ca8c"/><stop offset="0.383" stop-color="#0abdbd"/><stop offset="0.417" stop-color="#20a4e3"/><stop offset="0.517" stop-color="#2699e9"/><stop offset="0.625" stop-color="#2d8cf3"/><stop offset="1.000" stop-color="#2d88f6"/></linearGradient><linearGradient id="h92" x1="706.0" x2="1286.5" y1="0" y2="0" gradientUnits="userSpaceOnUse"><stop offset="0.000" stop-color="#4745e9"/><stop offset="0.195" stop-color="#4745e9"/><stop offset="0.196" stop-color="#347afd"/><stop offset="0.225" stop-color="#2e85f8"/><stop offset="0.252" stop-color="#2c8ff1"/><stop offset="0.253" stop-color="#41ca8c"/><stop offset="0.279" stop-color="#41ca8c"/><stop offset="0.354" stop-color="#41ca8c"/><stop offset="0.383" stop-color="#0dbdbc"/><stop offset="0.417" stop-color="#1fa6e2"/><stop offset="0.517" stop-color="#269be8"/><stop offset="0.625" stop-color="#2c8ef2"/><stop offset="1.000" stop-color="#2d8af5"/></linearGradient><linearGradient id="h93" x1="706.0" x2="1286.5" y1="0" y2="0" gradientUnits="userSpaceOnUse"><stop offset="0.000" stop-color="#463cdf"/><stop offset="0.195" stop-color="#463cdf"/><stop offset="0.196" stop-color="#3f6eff"/><stop offset="0.225" stop-color="#337afd"/><stop offset="0.252" stop-color="#2e85f8"/><stop offset="0.253" stop-color="#2e85f8"/><stop offset="0.279" stop-color="#16aeda"/><stop offset="0.354" stop-color="#16aeda"/><stop offset="0.383" stop-color="#1aacdd"/><stop offset="0.417" stop-color="#1ca9df"/><stop offset="0.517" stop-color="#259be8"/><stop offset="0.625" stop-color="#2d8bf4"/><stop offset="1.000" stop-color="#2e87f7"/></linearGradient><linearGradient id="h94" x1="706.0" x2="1286.5" y1="0" y2="0" gradientUnits="userSpaceOnUse"><stop offset="0.000" stop-color="#463ee1"/><stop offset="0.195" stop-color="#463ee1"/><stop offset="0.196" stop-color="#3f6eff"/><stop offset="0.225" stop-color="#337afd"/><stop offset="0.252" stop-color="#2e85f8"/><stop offset="0.253" stop-color="#2e85f8"/><stop offset="0.279" stop-color="#259ce7"/><stop offset="0.354" stop-color="#259ce7"/><stop offset="0.383" stop-color="#2699e9"/><stop offset="0.417" stop-color="#2896eb"/><stop offset="0.517" stop-color="#2d89f6"/><stop offset="0.625" stop-color="#3579fd"/><stop offset="1.000" stop-color="#3a74fe"/></linearGradient><linearGradient id="h95" x1="706.0" x2="1286.5" y1="0" y2="0" gradientUnits="userSpaceOnUse"><stop offset="0.000" stop-color="#4746ea"/><stop offset="0.195" stop-color="#4746ea"/><stop offset="0.196" stop-color="#347afd"/><stop offset="0.225" stop-color="#2e85f8"/><stop offset="0.252" stop-color="#2c8ff1"/><stop offset="0.253" stop-color="#a8c73b"/><stop offset="0.279" stop-color="#a8c73b"/><stop offset="0.354" stop-color="#a8c73b"/><stop offset="0.383" stop-color="#34c79c"/><stop offset="0.417" stop-color="#1da8e0"/><stop offset="0.517" stop-color="#269ae9"/><stop offset="0.625" stop-color="#2d88f6"/><stop offset="1.000" stop-color="#2e84f8"/></linearGradient><linearGradient id="h96" x1="706.0" x2="1286.5" y1="0" y2="0" gradientUnits="userSpaceOnUse"><stop offset="0.000" stop-color="#473fe2"/><stop offset="0.195" stop-color="#473fe2"/><stop offset="0.196" stop-color="#3f6eff"/><stop offset="0.225" stop-color="#337afd"/><stop offset="0.252" stop-color="#2e85f8"/><stop offset="0.253" stop-color="#2e85f8"/><stop offset="0.279" stop-color="#1baade"/><stop offset="0.354" stop-color="#1baade"/><stop offset="0.383" stop-color="#1da8e0"/><stop offset="0.417" stop-color="#20a5e2"/><stop offset="0.517" stop-color="#269ae9"/><stop offset="0.625" stop-color="#2d8cf3"/><stop offset="1.000" stop-color="#2d88f6"/></linearGradient><linearGradient id="h97" x1="706.0" x2="1286.5" y1="0" y2="0" gradientUnits="userSpaceOnUse"><stop offset="0.000" stop-color="#463bde"/><stop offset="0.195" stop-color="#463bde"/><stop offset="0.196" stop-color="#347afd"/><stop offset="0.225" stop-color="#2e85f8"/><stop offset="0.252" stop-color="#2c8ff1"/><stop offset="0.253" stop-color="#50cc80"/><stop offset="0.279" stop-color="#50cc80"/><stop offset="0.354" stop-color="#50cc80"/><stop offset="0.383" stop-color="#14beb8"/><stop offset="0.417" stop-color="#20a4e3"/><stop offset="0.517" stop-color="#269ae9"/><stop offset="0.625" stop-color="#2d8df2"/><stop offset="1.000" stop-color="#2d89f5"/></linearGradient><linearGradient id="h98" x1="706.0" x2="1286.5" y1="0" y2="0" gradientUnits="userSpaceOnUse"><stop offset="0.000" stop-color="#4745e9"/><stop offset="0.195" stop-color="#4745e9"/><stop offset="0.196" stop-color="#3f6eff"/><stop offset="0.225" stop-color="#337afd"/><stop offset="0.252" stop-color="#2e85f8"/><stop offset="0.253" stop-color="#2e85f8"/><stop offset="0.279" stop-color="#19acdc"/><stop offset="0.354" stop-color="#19acdc"/><stop offset="0.383" stop-color="#1caadf"/><stop offset="0.417" stop-color="#1ea7e1"/><stop offset="0.517" stop-color="#269ae9"/><stop offset="0.625" stop-color="#2d8af4"/><stop offset="1.000" stop-color="#2e86f7"/></linearGradient><linearGradient id="h99" x1="706.0" x2="1286.5" y1="0" y2="0" gradientUnits="userSpaceOnUse"><stop offset="0.000" stop-color="#4742e6"/><stop offset="0.195" stop-color="#4742e6"/><stop offset="0.196" stop-color="#347afd"/><stop offset="0.225" stop-color="#2e85f8"/><stop offset="0.252" stop-color="#2c8ff1"/><stop offset="0.253" stop-color="#41ca8c"/><stop offset="0.279" stop-color="#41ca8c"/><stop offset="0.354" stop-color="#41ca8c"/><stop offset="0.383" stop-color="#13beb9"/><stop offset="0.417" stop-color="#1caadf"/><stop offset="0.517" stop-color="#269ae8"/><stop offset="0.625" stop-color="#2e87f7"/><stop offset="1.000" stop-color="#2e83f9"/></linearGradient><linearGradient id="h100" x1="706.0" x2="1286.5" y1="0" y2="0" gradientUnits="userSpaceOnUse"><stop offset="0.000" stop-color="#463bdc"/><stop offset="0.195" stop-color="#463bdc"/><stop offset="0.196" stop-color="#3f6eff"/><stop offset="0.225" stop-color="#337afd"/><stop offset="0.252" stop-color="#2e85f8"/><stop offset="0.253" stop-color="#2e85f8"/><stop offset="0.279" stop-color="#259ce7"/><stop offset="0.354" stop-color="#259ce7"/><stop offset="0.383" stop-color="#2699e9"/><stop offset="0.417" stop-color="#2896ec"/><stop offset="0.517" stop-color="#2d89f5"/><stop offset="0.625" stop-color="#337bfd"/><stop offset="1.000" stop-color="#3876fe"/></linearGradient><linearGradient id="h101" x1="706.0" x2="1286.5" y1="0" y2="0" gradientUnits="userSpaceOnUse"><stop offset="0.000" stop-color="#4742e6"/><stop offset="0.195" stop-color="#4742e6"/><stop offset="0.196" stop-color="#347afd"/><stop offset="0.225" stop-color="#2e85f8"/><stop offset="0.252" stop-color="#2c8ff1"/><stop offset="0.253" stop-color="#60cd72"/><stop offset="0.279" stop-color="#60cd72"/><stop offset="0.354" stop-color="#60cd72"/><stop offset="0.383" stop-color="#20c1b1"/><stop offset="0.417" stop-color="#1ea7e1"/><stop offset="0.517" stop-color="#259be8"/><stop offset="0.625" stop-color="#2d8df2"/><stop offset="1.000" stop-color="#2d89f5"/></linearGradient><linearGradient id="h102" x1="706.0" x2="1286.5" y1="0" y2="0" gradientUnits="userSpaceOnUse"><stop offset="0.000" stop-color="#4745e9"/><stop offset="0.195" stop-color="#4745e9"/><stop offset="0.196" stop-color="#3f6eff"/><stop offset="0.225" stop-color="#337afd"/><stop offset="0.252" stop-color="#2e85f8"/><stop offset="0.253" stop-color="#2e85f8"/><stop offset="0.279" stop-color="#1caadf"/><stop offset="0.354" stop-color="#1caadf"/><stop offset="0.383" stop-color="#1ea7e1"/><stop offset="0.417" stop-color="#20a4e3"/><stop offset="0.517" stop-color="#269ae9"/><stop offset="0.625" stop-color="#2d8df2"/><stop offset="1.000" stop-color="#2d89f5"/></linearGradient><linearGradient id="h103" x1="706.0" x2="1286.5" y1="0" y2="0" gradientUnits="userSpaceOnUse"><stop offset="0.000" stop-color="#463cde"/><stop offset="0.195" stop-color="#463cde"/><stop offset="0.196" stop-color="#347afd"/><stop offset="0.225" stop-color="#2e85f8"/><stop offset="0.252" stop-color="#2c8ff1"/><stop offset="0.253" stop-color="#33c69d"/><stop offset="0.279" stop-color="#33c69d"/><stop offset="0.354" stop-color="#33c69d"/><stop offset="0.383" stop-color="#02bac3"/><stop offset="0.417" stop-color="#20a5e3"/><stop offset="0.517" stop-color="#2798ea"/><stop offset="0.625" stop-color="#2d89f5"/><stop offset="1.000" stop-color="#2e85f8"/></linearGradient><linearGradient id="h104" x1="706.0" x2="1286.5" y1="0" y2="0" gradientUnits="userSpaceOnUse"><stop offset="0.000" stop-color="#473fe2"/><stop offset="0.195" stop-color="#473fe2"/><stop offset="0.196" stop-color="#3f6eff"/><stop offset="0.225" stop-color="#337afd"/><stop offset="0.252" stop-color="#2e85f8"/><stop offset="0.253" stop-color="#2e85f8"/><stop offset="0.279" stop-color="#2699e9"/><stop offset="0.354" stop-color="#2699e9"/><stop offset="0.383" stop-color="#2796eb"/><stop offset="0.417" stop-color="#2a93ee"/><stop offset="0.517" stop-color="#2e87f7"/><stop offset="0.625" stop-color="#3578fd"/><stop offset="1.000" stop-color="#3a74fe"/></linearGradient><linearGradient id="h105" x1="706.0" x2="1286.5" y1="0" y2="0" gradientUnits="userSpaceOnUse"><stop offset="0.000" stop-color="#4746ea"/><stop offset="0.195" stop-color="#4746ea"/><stop offset="0.196" stop-color="#3f6eff"/><stop offset="0.225" stop-color="#337afd"/><stop offset="0.252" stop-color="#2e85f8"/><stop offset="0.253" stop-color="#2e85f8"/><stop offset="0.279" stop-color="#15afd8"/><stop offset="0.354" stop-color="#15afd8"/><stop offset="0.383" stop-color="#18addb"/><stop offset="0.417" stop-color="#1baade"/><stop offset="0.517" stop-color="#259be7"/><stop offset="0.625" stop-color="#2d8af5"/><stop offset="1.000" stop-color="#2e86f8"/></linearGradient><linearGradient id="h106" x1="706.0" x2="1286.5" y1="0" y2="0" gradientUnits="userSpaceOnUse"><stop offset="0.000" stop-color="#463ee1"/><stop offset="0.195" stop-color="#463ee1"/><stop offset="0.196" stop-color="#347afd"/><stop offset="0.225" stop-color="#2e85f8"/><stop offset="0.252" stop-color="#2c8ff1"/><stop offset="0.253" stop-color="#50cc80"/><stop offset="0.279" stop-color="#50cc80"/><stop offset="0.354" stop-color="#50cc80"/><stop offset="0.383" stop-color="#1bc0b4"/><stop offset="0.417" stop-color="#1caadf"/><stop offset="0.517" stop-color="#259de7"/><stop offset="0.625" stop-color="#2d8df2"/><stop offset="1.000" stop-color="#2d89f5"/></linearGradient><linearGradient id="h107" x1="706.0" x2="1286.5" y1="0" y2="0" gradientUnits="userSpaceOnUse"><stop offset="0.000" stop-color="#463cde"/><stop offset="0.195" stop-color="#463cde"/><stop offset="0.196" stop-color="#3f6eff"/><stop offset="0.225" stop-color="#337afd"/><stop offset="0.252" stop-color="#2e85f8"/><stop offset="0.253" stop-color="#2e85f8"/><stop offset="0.279" stop-color="#1aacdd"/><stop offset="0.354" stop-color="#1aacdd"/><stop offset="0.383" stop-color="#1ca9df"/><stop offset="0.417" stop-color="#1fa6e2"/><stop offset="0.517" stop-color="#269ae8"/><stop offset="0.625" stop-color="#2d8df2"/><stop offset="1.000" stop-color="#2d89f6"/></linearGradient><linearGradient id="h108" x1="706.0" x2="1286.5" y1="0" y2="0" gradientUnits="userSpaceOnUse"><stop offset="0.000" stop-color="#4745e9"/><stop offset="0.195" stop-color="#4745e9"/><stop offset="0.196" stop-color="#347afd"/><stop offset="0.225" stop-color="#2e85f8"/><stop offset="0.252" stop-color="#2c8ff1"/><stop offset="0.253" stop-color="#37c898"/><stop offset="0.279" stop-color="#37c898"/><stop offset="0.354" stop-color="#37c898"/><stop offset="0.383" stop-color="#04bbc2"/><stop offset="0.417" stop-color="#20a4e3"/><stop offset="0.517" stop-color="#2797ea"/><stop offset="0.625" stop-color="#2d89f6"/><stop offset="1.000" stop-color="#2e84f8"/></linearGradient><linearGradient id="h109" x1="706.0" x2="1286.5" y1="0" y2="0" gradientUnits="userSpaceOnUse"><stop offset="0.000" stop-color="#4741e5"/><stop offset="0.195" stop-color="#4741e5"/><stop offset="0.196" stop-color="#3f6eff"/><stop offset="0.225" stop-color="#337afd"/><stop offset="0.252" stop-color="#2e85f8"/><stop offset="0.253" stop-color="#2e85f8"/><stop offset="0.279" stop-color="#2796eb"/><stop offset="0.354" stop-color="#2796eb"/><stop offset="0.383" stop-color="#2a93ed"/><stop offset="0.417" stop-color="#2c90f0"/><stop offset="0.517" stop-color="#2e85f8"/><stop offset="0.625" stop-color="#3579fd"/><stop offset="1.000" stop-color="#3a74fe"/></linearGradient><linearGradient id="h110" x1="706.0" x2="1286.5" y1="0" y2="0" gradientUnits="userSpaceOnUse"><stop offset="0.000" stop-color="#463bdc"/><stop offset="0.195" stop-color="#463bdc"/><stop offset="0.196" stop-color="#3f6eff"/><stop offset="0.225" stop-color="#337afd"/><stop offset="0.252" stop-color="#2e85f8"/><stop offset="0.253" stop-color="#2e85f8"/><stop offset="0.279" stop-color="#17aeda"/><stop offset="0.354" stop-color="#17aeda"/><stop offset="0.383" stop-color="#1aacdd"/><stop offset="0.417" stop-color="#1da9e0"/><stop offset="0.517" stop-color="#259be8"/><stop offset="0.625" stop-color="#2d8af4"/><stop offset="1.000" stop-color="#2e86f7"/></linearGradient><linearGradient id="h111" x1="706.0" x2="1286.5" y1="0" y2="0" gradientUnits="userSpaceOnUse"><stop offset="0.000" stop-color="#4743e7"/><stop offset="0.195" stop-color="#4743e7"/><stop offset="0.196" stop-color="#347afd"/><stop offset="0.225" stop-color="#2e85f8"/><stop offset="0.252" stop-color="#2c8ff1"/><stop offset="0.253" stop-color="#41ca8c"/><stop offset="0.279" stop-color="#41ca8c"/><stop offset="0.354" stop-color="#41ca8c"/><stop offset="0.383" stop-color="#14beb8"/><stop offset="0.417" stop-color="#1babde"/><stop offset="0.517" stop-color="#249de6"/><stop offset="0.625" stop-color="#2c8ef2"/><stop offset="1.000" stop-color="#2d8af5"/></linearGradient><linearGradient id="h112" x1="706.0" x2="1286.5" y1="0" y2="0" gradientUnits="userSpaceOnUse"><stop offset="0.000" stop-color="#4744e8"/><stop offset="0.195" stop-color="#4744e8"/><stop offset="0.196" stop-color="#3f6eff"/><stop offset="0.225" stop-color="#337afd"/><stop offset="0.252" stop-color="#2e85f8"/><stop offset="0.253" stop-color="#2e85f8"/><stop offset="0.279" stop-color="#17aeda"/><stop offset="0.354" stop-color="#17aeda"/><stop offset="0.383" stop-color="#1aacdd"/><stop offset="0.417" stop-color="#1da9e0"/><stop offset="0.517" stop-color="#259ce7"/><stop offset="0.625" stop-color="#2d8cf3"/><stop offset="1.000" stop-color="#2d88f6"/></linearGradient><linearGradient id="h113" x1="706.0" x2="1286.5" y1="0" y2="0" gradientUnits="userSpaceOnUse"><stop offset="0.000" stop-color="#463bdd"/><stop offset="0.195" stop-color="#463bdd"/><stop offset="0.196" stop-color="#347afd"/><stop offset="0.225" stop-color="#2e85f8"/><stop offset="0.252" stop-color="#2c8ff1"/><stop offset="0.253" stop-color="#71cd64"/><stop offset="0.279" stop-color="#71cd64"/><stop offset="0.354" stop-color="#71cd64"/><stop offset="0.383" stop-color="#25c2ae"/><stop offset="0.417" stop-color="#1fa5e2"/><stop offset="0.517" stop-color="#2798ea"/><stop offset="0.625" stop-color="#2d88f6"/><stop offset="1.000" stop-color="#2e84f8"/></linearGradient><linearGradient id="h114" x1="706.0" x2="1286.5" y1="0" y2="0" gradientUnits="userSpaceOnUse"><stop offset="0.000" stop-color="#473fe3"/><stop offset="0.195" stop-color="#473fe3"/><stop offset="0.196" stop-color="#347afd"/><stop offset="0.225" stop-color="#2e85f8"/><stop offset="0.252" stop-color="#2c8ff1"/><stop offset="0.253" stop-color="#84cc56"/><stop offset="0.279" stop-color="#84cc56"/><stop offset="0.354" stop-color="#84cc56"/><stop offset="0.383" stop-color="#29c3aa"/><stop offset="0.417" stop-color="#20a4e3"/><stop offset="0.517" stop-color="#2797eb"/><stop offset="0.625" stop-color="#2d87f7"/><stop offset="1.000" stop-color="#2e83f9"/></linearGradient><linearGradient id="h115" x1="706.0" x2="1286.5" y1="0" y2="0" gradientUnits="userSpaceOnUse"><stop offset="0.000" stop-color="#4746ea"/><stop offset="0.195" stop-color="#4746ea"/><stop offset="0.196" stop-color="#347afd"/><stop offset="0.225" stop-color="#2e85f8"/><stop offset="0.252" stop-color="#2c8ff1"/><stop offset="0.253" stop-color="#71cd64"/><stop offset="0.279" stop-color="#71cd64"/><stop offset="0.354" stop-color="#71cd64"/><stop offset="0.383" stop-color="#25c2ad"/><stop offset="0.417" stop-color="#1fa6e1"/><stop offset="0.517" stop-color="#269ae9"/><stop offset="0.625" stop-color="#2d8bf4"/><stop offset="1.000" stop-color="#2e87f7"/></linearGradient><linearGradient id="h116" x1="706.0" x2="1286.5" y1="0" y2="0" gradientUnits="userSpaceOnUse"><stop offset="0.000" stop-color="#463de0"/><stop offset="0.195" stop-color="#463de0"/><stop offset="0.196" stop-color="#3f6eff"/><stop offset="0.225" stop-color="#337afd"/><stop offset="0.252" stop-color="#2e85f8"/><stop offset="0.253" stop-color="#2e85f8"/><stop offset="0.279" stop-color="#259be8"/><stop offset="0.354" stop-color="#259be8"/><stop offset="0.383" stop-color="#2798ea"/><stop offset="0.417" stop-color="#2895ec"/><stop offset="0.517" stop-color="#2d8bf4"/><stop offset="0.625" stop-color="#3080fa"/><stop offset="1.000" stop-color="#327cfc"/></linearGradient><linearGradient id="h117" x1="706.0" x2="1286.5" y1="0" y2="0" gradientUnits="userSpaceOnUse"><stop offset="0.000" stop-color="#463cdf"/><stop offset="0.195" stop-color="#463cdf"/><stop offset="0.196" stop-color="#3f6eff"/><stop offset="0.225" stop-color="#337afd"/><stop offset="0.252" stop-color="#2e85f8"/><stop offset="0.253" stop-color="#2e85f8"/><stop offset="0.279" stop-color="#259ce7"/><stop offset="0.354" stop-color="#259ce7"/><stop offset="0.383" stop-color="#2699e9"/><stop offset="0.417" stop-color="#2896ec"/><stop offset="0.517" stop-color="#2d8bf4"/><stop offset="0.625" stop-color="#317efb"/><stop offset="1.000" stop-color="#3579fd"/></linearGradient><linearGradient id="h118" x1="706.0" x2="1286.5" y1="0" y2="0" gradientUnits="userSpaceOnUse"><stop offset="0.000" stop-color="#4745ea"/><stop offset="0.195" stop-color="#4745ea"/><stop offset="0.196" stop-color="#3f6eff"/><stop offset="0.225" stop-color="#337afd"/><stop offset="0.252" stop-color="#2e85f8"/><stop offset="0.253" stop-color="#2e85f8"/><stop offset="0.279" stop-color="#2699e9"/><stop offset="0.354" stop-color="#2699e9"/><stop offset="0.383" stop-color="#2896eb"/><stop offset="0.417" stop-color="#2a93ee"/><stop offset="0.517" stop-color="#2e87f7"/><stop offset="0.625" stop-color="#3479fd"/><stop offset="1.000" stop-color="#3974fe"/></linearGradient><linearGradient id="h119" x1="706.0" x2="1286.5" y1="0" y2="0" gradientUnits="userSpaceOnUse"><stop offset="0.000" stop-color="#4740e4"/><stop offset="0.195" stop-color="#4740e4"/><stop offset="0.196" stop-color="#3f6eff"/><stop offset="0.225" stop-color="#337afd"/><stop offset="0.252" stop-color="#2e85f8"/><stop offset="0.253" stop-color="#2e85f8"/><stop offset="0.279" stop-color="#2895ec"/><stop offset="0.354" stop-color="#2895ec"/><stop offset="0.383" stop-color="#2a93ee"/><stop offset="0.417" stop-color="#2c8ff1"/><stop offset="0.517" stop-color="#2e85f8"/><stop offset="0.625" stop-color="#3479fd"/><stop offset="1.000" stop-color="#3975fe"/></linearGradient><linearGradient id="h120" x1="706.0" x2="1286.5" y1="0" y2="0" gradientUnits="userSpaceOnUse"><stop offset="0.000" stop-color="#463bdd"/><stop offset="0.195" stop-color="#463bdd"/><stop offset="0.196" stop-color="#3f6eff"/><stop offset="0.225" stop-color="#337afd"/><stop offset="0.252" stop-color="#2e85f8"/><stop offset="0.253" stop-color="#2e85f8"/><stop offset="0.279" stop-color="#1caadf"/><stop offset="0.354" stop-color="#1caadf"/><stop offset="0.383" stop-color="#1ea7e1"/><stop offset="0.417" stop-color="#20a4e3"/><stop offset="0.517" stop-color="#2699e9"/><stop offset="0.625" stop-color="#2d8cf3"/><stop offset="1.000" stop-color="#2d88f6"/></linearGradient><linearGradient id="h121" x1="706.0" x2="1286.5" y1="0" y2="0" gradientUnits="userSpaceOnUse"><stop offset="0.000" stop-color="#4743e7"/><stop offset="0.195" stop-color="#4743e7"/><stop offset="0.196" stop-color="#347afd"/><stop offset="0.225" stop-color="#2e85f8"/><stop offset="0.252" stop-color="#2c8ff1"/><stop offset="0.253" stop-color="#01b8ca"/><stop offset="0.279" stop-color="#01b8ca"/><stop offset="0.354" stop-color="#01b8ca"/><stop offset="0.383" stop-color="#12b1d6"/><stop offset="0.417" stop-color="#1ea7e1"/><stop offset="0.517" stop-color="#259be7"/><stop offset="0.625" stop-color="#2c8ef2"/><stop offset="1.000" stop-color="#2d8af5"/></linearGradient><linearGradient id="h122" x1="706.0" x2="1286.5" y1="0" y2="0" gradientUnits="userSpaceOnUse"><stop offset="0.000" stop-color="#4744e8"/><stop offset="0.195" stop-color="#4744e8"/><stop offset="0.196" stop-color="#3f6eff"/><stop offset="0.225" stop-color="#337afd"/><stop offset="0.252" stop-color="#2e85f8"/><stop offset="0.253" stop-color="#2e85f8"/><stop offset="0.279" stop-color="#15afd9"/><stop offset="0.354" stop-color="#15afd9"/><stop offset="0.383" stop-color="#19addc"/><stop offset="0.417" stop-color="#1baade"/><stop offset="0.517" stop-color="#259ce7"/><stop offset="0.625" stop-color="#2d8bf4"/><stop offset="1.000" stop-color="#2e87f7"/></linearGradient><linearGradient id="h123" x1="706.0" x2="1286.5" y1="0" y2="0" gradientUnits="userSpaceOnUse"><stop offset="0.000" stop-color="#463bdd"/><stop offset="0.195" stop-color="#463bdd"/><stop offset="0.196" stop-color="#3f6eff"/><stop offset="0.225" stop-color="#337afd"/><stop offset="0.252" stop-color="#2e85f8"/><stop offset="0.253" stop-color="#2e85f8"/><stop offset="0.279" stop-color="#15afd9"/><stop offset="0.354" stop-color="#15afd9"/><stop offset="0.383" stop-color="#19addc"/><stop offset="0.417" stop-color="#1caadf"/><stop offset="0.517" stop-color="#269ae8"/><stop offset="0.625" stop-color="#2e87f7"/><stop offset="1.000" stop-color="#2e83f9"/></linearGradient><linearGradient id="cb124" x1="0" x2="0" y1="0" y2="1"><stop offset="0.0000" stop-color="#f9fb15"/><stop offset="0.0312" stop-color="#f6ef20"/><stop offset="0.0625" stop-color="#f5e327"/><stop offset="0.0938" stop-color="#f9d62d"/><stop offset="0.1250" stop-color="#feca33"/><stop offset="0.1562" stop-color="#febe3c"/><stop offset="0.1875" stop-color="#f1ba37"/><stop offset="0.2188" stop-color="#debc2a"/><stop offset="0.2500" stop-color="#c8c129"/><stop offset="0.2812" stop-color="#afc637"/><stop offset="0.3125" stop-color="#94ca4a"/><stop offset="0.3438" stop-color="#77cc60"/><stop offset="0.3750" stop-color="#5ccc76"/><stop offset="0.4062" stop-color="#44ca8a"/><stop offset="0.4375" stop-color="#34c79c"/><stop offset="0.4688" stop-color="#28c2ab"/><stop offset="0.5000" stop-color="#12beb9"/><stop offset="0.5312" stop-color="#01b9c6"/><stop offset="0.5625" stop-color="#0cb3d3"/><stop offset="0.5938" stop-color="#1aacdd"/><stop offset="0.6250" stop-color="#21a3e3"/><stop offset="0.6562" stop-color="#269ae9"/><stop offset="0.6875" stop-color="#2c90f0"/><stop offset="0.7188" stop-color="#2e85f8"/><stop offset="0.7500" stop-color="#347afd"/><stop offset="0.7812" stop-color="#3f6efe"/><stop offset="0.8125" stop-color="#4562fc"/><stop offset="0.8438" stop-color="#4757f7"/><stop offset="0.8750" stop-color="#484cef"/><stop offset="0.9062" stop-color="#4741e5"/><stop offset="0.9375" stop-color="#4536d5"/><stop offset="0.9688" stop-color="#422ebf"/><stop offset="1.0000" stop-color="#3e26a8"/></linearGradient><linearGradient id="h125" x1="1482.7" x2="2063.0" y1="0" y2="0" gradientUnits="userSpaceOnUse"><stop offset="0.000" stop-color="#4742e6"/><stop offset="0.218" stop-color="#4742e6"/><stop offset="0.219" stop-color="#4661fc"/><stop offset="0.258" stop-color="#3777fe"/><stop offset="0.292" stop-color="#2d89f5"/><stop offset="0.293" stop-color="#269ae9"/><stop offset="0.367" stop-color="#269ae9"/><stop offset="0.433" stop-color="#2798ea"/><stop offset="0.517" stop-color="#2797eb"/><stop offset="0.667" stop-color="#2896ec"/><stop offset="0.833" stop-color="#2a93ee"/><stop offset="1.000" stop-color="#2c90f0"/></linearGradient><linearGradient id="h126" x1="1482.7" x2="2063.0" y1="0" y2="0" gradientUnits="userSpaceOnUse"><stop offset="0.000" stop-color="#463adb"/><stop offset="0.218" stop-color="#463adb"/><stop offset="0.219" stop-color="#465ffb"/><stop offset="0.258" stop-color="#3975fe"/><stop offset="0.292" stop-color="#2d87f6"/><stop offset="0.293" stop-color="#2895ec"/><stop offset="0.367" stop-color="#2895ec"/><stop offset="0.433" stop-color="#2994ed"/><stop offset="0.517" stop-color="#2a92ee"/><stop offset="0.667" stop-color="#2b91ef"/><stop offset="0.833" stop-color="#2c8ef2"/><stop offset="1.000" stop-color="#2d8bf4"/></linearGradient><linearGradient id="h127" x1="1482.7" x2="2063.0" y1="0" y2="0" gradientUnits="userSpaceOnUse"><stop offset="0.000" stop-color="#473ee1"/><stop offset="0.218" stop-color="#473ee1"/><stop offset="0.219" stop-color="#465efb"/><stop offset="0.258" stop-color="#3a74fe"/><stop offset="0.292" stop-color="#2e87f7"/><stop offset="0.293" stop-color="#2a93ee"/><stop offset="0.367" stop-color="#2a93ee"/><stop offset="0.433" stop-color="#2b91ef"/><stop offset="0.517" stop-color="#2c90f0"/><stop offset="0.667" stop-color="#2c8ef1"/><stop offset="0.833" stop-color="#2d8bf4"/><stop offset="1.000" stop-color="#2d88f6"/></linearGradient><linearGradient id="h128" x1="1482.7" x2="2063.0" y1="0" y2="0" gradientUnits="userSpaceOnUse"><stop offset="0.000" stop-color="#4742e6"/><stop offset="0.218" stop-color="#4742e6"/><stop offset="0.219" stop-color="#4660fb"/><stop offset="0.258" stop-color="#3876fe"/><stop offset="0.292" stop-color="#2d88f6"/><stop offset="0.293" stop-color="#2798ea"/><stop offset="0.367" stop-color="#2798ea"/><stop offset="0.433" stop-color="#2796eb"/><stop offset="0.517" stop-color="#2895ec"/><stop offset="0.667" stop-color="#2994ed"/><stop offset="0.833" stop-color="#2b91ef"/><stop offset="1.000" stop-color="#2c8ef2"/></linearGradient><linearGradient id="h129" x1="1482.7" x2="2063.0" y1="0" y2="0" gradientUnits="userSpaceOnUse"><stop offset="0.000" stop-color="#463adb"/><stop offset="0.218" stop-color="#463adb"/><stop offset="0.219" stop-color="#4368fe"/><stop offset="0.258" stop-color="#317efb"/><stop offset="0.292" stop-color="#2c90f0"/><stop offset="0.293" stop-color="#19addc"/><stop offset="0.367" stop-color="#19addc"/><stop offset="0.433" stop-color="#1fa6e2"/><stop offset="0.517" stop-color="#239fe5"/><stop offset="0.667" stop-color="#2699e9"/><stop offset="0.833" stop-color="#2993ed"/><stop offset="1.000" stop-color="#2c90f0"/></linearGradient><linearGradient id="h130" x1="1482.7" x2="2063.0" y1="0" y2="0" gradientUnits="userSpaceOnUse"><stop offset="0.000" stop-color="#473ee1"/><stop offset="0.218" stop-color="#473ee1"/><stop offset="0.219" stop-color="#4466fd"/><stop offset="0.258" stop-color="#327cfc"/><stop offset="0.292" stop-color="#2c8ef2"/><stop offset="0.293" stop-color="#1ea7e1"/><stop offset="0.367" stop-color="#1ea7e1"/><stop offset="0.433" stop-color="#23a0e5"/><stop offset="0.517" stop-color="#269ae9"/><stop offset="0.667" stop-color="#2a93ed"/><stop offset="0.833" stop-color="#2c8ef2"/><stop offset="1.000" stop-color="#2d8af5"/></linearGradient><linearGradient id="h131" x1="1482.7" x2="2063.0" y1="0" y2="0" gradientUnits="userSpaceOnUse"><stop offset="0.000" stop-color="#4742e6"/><stop offset="0.218" stop-color="#4742e6"/><stop offset="0.219" stop-color="#465ffb"/><stop offset="0.258" stop-color="#3974fe"/><stop offset="0.292" stop-color="#2e87f7"/><stop offset="0.293" stop-color="#2994ed"/><stop offset="0.367" stop-color="#2994ed"/><stop offset="0.433" stop-color="#2a92ee"/><stop offset="0.517" stop-color="#2b91ef"/><stop offset="0.667" stop-color="#2c90f0"/><stop offset="0.833" stop-color="#2d8cf3"/><stop offset="1.000" stop-color="#2d8af5"/></linearGradient><linearGradient id="h132" x1="1482.7" x2="2063.0" y1="0" y2="0" gradientUnits="userSpaceOnUse"><stop offset="0.000" stop-color="#463adb"/><stop offset="0.218" stop-color="#463adb"/><stop offset="0.219" stop-color="#475bf9"/><stop offset="0.258" stop-color="#3d71ff"/><stop offset="0.292" stop-color="#2e84f9"/><stop offset="0.293" stop-color="#2d89f5"/><stop offset="0.367" stop-color="#2d89f5"/><stop offset="0.433" stop-color="#2d87f6"/><stop offset="0.517" stop-color="#2e86f7"/><stop offset="0.667" stop-color="#2e85f8"/><stop offset="0.833" stop-color="#2f82fa"/><stop offset="1.000" stop-color="#307ffb"/></linearGradient><linearGradient id="h133" x1="1482.7" x2="2063.0" y1="0" y2="0" gradientUnits="userSpaceOnUse"><stop offset="0.000" stop-color="#473ee1"/><stop offset="0.218" stop-color="#473ee1"/><stop offset="0.219" stop-color="#4660fb"/><stop offset="0.258" stop-color="#3876fe"/><stop offset="0.292" stop-color="#2d88f6"/><stop offset="0.293" stop-color="#2798ea"/><stop offset="0.367" stop-color="#2798ea"/><stop offset="0.433" stop-color="#2896eb"/><stop offset="0.517" stop-color="#2995ec"/><stop offset="0.667" stop-color="#2a93ed"/><stop offset="0.833" stop-color="#2b90f0"/><stop offset="1.000" stop-color="#2d8df2"/></linearGradient><linearGradient id="h134" x1="1482.7" x2="2063.0" y1="0" y2="0" gradientUnits="userSpaceOnUse"><stop offset="0.000" stop-color="#4742e6"/><stop offset="0.218" stop-color="#4742e6"/><stop offset="0.219" stop-color="#4466fd"/><stop offset="0.258" stop-color="#327cfc"/><stop offset="0.292" stop-color="#2c8ef2"/><stop offset="0.293" stop-color="#1ea7e1"/><stop offset="0.367" stop-color="#1ea7e1"/><stop offset="0.433" stop-color="#23a0e5"/><stop offset="0.517" stop-color="#2699e9"/><stop offset="0.667" stop-color="#2a93ee"/><stop offset="0.833" stop-color="#2d8df2"/><stop offset="1.000" stop-color="#2d89f5"/></linearGradient><linearGradient id="h135" x1="1482.7" x2="2063.0" y1="0" y2="0" gradientUnits="userSpaceOnUse"><stop offset="0.000" stop-color="#463adb"/><stop offset="0.218" stop-color="#463adb"/><stop offset="0.219" stop-color="#465ffb"/><stop offset="0.258" stop-color="#3975fe"/><stop offset="0.292" stop-color="#2d88f6"/><stop offset="0.293" stop-color="#2896ec"/><stop offset="0.367" stop-color="#2896ec"/><stop offset="0.433" stop-color="#2994ed"/><stop offset="0.517" stop-color="#2a93ee"/><stop offset="0.667" stop-color="#2b91ef"/><stop offset="0.833" stop-color="#2c8ef1"/><stop offset="1.000" stop-color="#2d8bf3"/></linearGradient><linearGradient id="h136" x1="1482.7" x2="2063.0" y1="0" y2="0" gradientUnits="userSpaceOnUse"><stop offset="0.000" stop-color="#473ee2"/><stop offset="0.218" stop-color="#473ee2"/><stop offset="0.219" stop-color="#4661fc"/><stop offset="0.258" stop-color="#3777fe"/><stop offset="0.292" stop-color="#2d89f5"/><stop offset="0.293" stop-color="#269ae9"/><stop offset="0.367" stop-color="#269ae9"/><stop offset="0.433" stop-color="#2798ea"/><stop offset="0.517" stop-color="#2797eb"/><stop offset="0.667" stop-color="#2896ec"/><stop offset="0.833" stop-color="#2a93ee"/><stop offset="1.000" stop-color="#2c90f0"/></linearGradient><linearGradient id="h137" x1="1482.7" x2="2063.0" y1="0" y2="0" gradientUnits="userSpaceOnUse"><stop offset="0.000" stop-color="#4742e6"/><stop offset="0.218" stop-color="#4742e6"/><stop offset="0.219" stop-color="#475af9"/><stop offset="0.258" stop-color="#3e6fff"/><stop offset="0.292" stop-color="#2f82f9"/><stop offset="0.293" stop-color="#2e85f8"/><stop offset="0.367" stop-color="#2e85f8"/><stop offset="0.433" stop-color="#2e83f9"/><stop offset="0.517" stop-color="#2f82f9"/><stop offset="0.667" stop-color="#2f81fa"/><stop offset="0.833" stop-color="#317efb"/><stop offset="1.000" stop-color="#337bfd"/></linearGradient><linearGradient id="h138" x1="1482.7" x2="2063.0" y1="0" y2="0" gradientUnits="userSpaceOnUse"><stop offset="0.000" stop-color="#463adb"/><stop offset="0.218" stop-color="#463adb"/><stop offset="0.219" stop-color="#4759f8"/><stop offset="0.258" stop-color="#3f6eff"/><stop offset="0.292" stop-color="#2f81fa"/><stop offset="0.293" stop-color="#2f82fa"/><stop offset="0.367" stop-color="#2f82fa"/><stop offset="0.433" stop-color="#3080fb"/><stop offset="0.517" stop-color="#317efb"/><stop offset="0.667" stop-color="#317dfc"/><stop offset="0.833" stop-color="#347afd"/><stop offset="1.000" stop-color="#3777fe"/></linearGradient><linearGradient id="h139" x1="1482.7" x2="2063.0" y1="0" y2="0" gradientUnits="userSpaceOnUse"><stop offset="0.000" stop-color="#473ee2"/><stop offset="0.218" stop-color="#473ee2"/><stop offset="0.219" stop-color="#4660fb"/><stop offset="0.258" stop-color="#3876fe"/><stop offset="0.292" stop-color="#2d88f6"/><stop offset="0.293" stop-color="#2797ea"/><stop offset="0.367" stop-color="#2797ea"/><stop offset="0.433" stop-color="#2896eb"/><stop offset="0.517" stop-color="#2995ec"/><stop offset="0.667" stop-color="#2a93ed"/><stop offset="0.833" stop-color="#2c90f0"/><stop offset="1.000" stop-color="#2d8df2"/></linearGradient><linearGradient id="h140" x1="1482.7" x2="2063.0" y1="0" y2="0" gradientUnits="userSpaceOnUse"><stop offset="0.000" stop-color="#4742e6"/><stop offset="0.218" stop-color="#4742e6"/><stop offset="0.219" stop-color="#4465fd"/><stop offset="0.258" stop-color="#337bfc"/><stop offset="0.292" stop-color="#2d8df2"/><stop offset="0.293" stop-color="#20a4e3"/><stop offset="0.367" stop-color="#20a4e3"/><stop offset="0.433" stop-color="#23a0e5"/><stop offset="0.517" stop-color="#259ce7"/><stop offset="0.667" stop-color="#2798ea"/><stop offset="0.833" stop-color="#2a93ee"/><stop offset="1.000" stop-color="#2c90f0"/></linearGradient><linearGradient id="h141" x1="1482.7" x2="2063.0" y1="0" y2="0" gradientUnits="userSpaceOnUse"><stop offset="0.000" stop-color="#463adb"/><stop offset="0.218" stop-color="#463adb"/><stop offset="0.219" stop-color="#426afe"/><stop offset="0.258" stop-color="#2f80fa"/><stop offset="0.292" stop-color="#2b92ef"/><stop offset="0.293" stop-color="#11b1d6"/><stop offset="0.367" stop-color="#11b1d6"/><stop offset="0.433" stop-color="#1da8e0"/><stop offset="0.517" stop-color="#249fe5"/><stop offset="0.667" stop-color="#2796eb"/><stop offset="0.833" stop-color="#2c8ff0"/><stop offset="1.000" stop-color="#2d8bf4"/></linearGradient><linearGradient id="h142" x1="1482.7" x2="2063.0" y1="0" y2="0" gradientUnits="userSpaceOnUse"><stop offset="0.000" stop-color="#473fe2"/><stop offset="0.218" stop-color="#473fe2"/><stop offset="0.219" stop-color="#465efb"/><stop offset="0.258" stop-color="#3974fe"/><stop offset="0.292" stop-color="#2e87f7"/><stop offset="0.293" stop-color="#2a93ed"/><stop offset="0.367" stop-color="#2a93ed"/><stop offset="0.433" stop-color="#2b92ee"/><stop offset="0.517" stop-color="#2b90ef"/><stop offset="0.667" stop-color="#2c8ff0"/><stop offset="0.833" stop-color="#2d8cf3"/><stop offset="1.000" stop-color="#2d89f5"/></linearGradient><linearGradient id="h143" x1="1482.7" x2="2063.0" y1="0" y2="0" gradientUnits="userSpaceOnUse"><stop offset="0.000" stop-color="#4742e6"/><stop offset="0.218" stop-color="#4742e6"/><stop offset="0.219" stop-color="#4660fc"/><stop offset="0.258" stop-color="#3776fe"/><stop offset="0.292" stop-color="#2d89f5"/><stop offset="0.293" stop-color="#2699e9"/><stop offset="0.367" stop-color="#2699e9"/><stop offset="0.433" stop-color="#2797ea"/><stop offset="0.517" stop-color="#2896eb"/><stop offset="0.667" stop-color="#2895ec"/><stop offset="0.833" stop-color="#2b92ee"/><stop offset="1.000" stop-color="#2c8ff1"/></linearGradient><linearGradient id="h144" x1="1482.7" x2="2063.0" y1="0" y2="0" gradientUnits="userSpaceOnUse"><stop offset="0.000" stop-color="#463adb"/><stop offset="0.218" stop-color="#463adb"/><stop offset="0.219" stop-color="#4660fb"/><stop offset="0.258" stop-color="#3876fe"/><stop offset="0.292" stop-color="#2d88f6"/><stop offset="0.293" stop-color="#2798ea"/><stop offset="0.367" stop-color="#2798ea"/><stop offset="0.433" stop-color="#2797eb"/><stop offset="0.517" stop-color="#2895ec"/><stop offset="0.667" stop-color="#2994ed"/><stop offset="0.833" stop-color="#2b91ef"/><stop offset="1.000" stop-color="#2c8ef1"/></linearGradient><linearGradient id="h145" x1="1482.7" x2="2063.0" y1="0" y2="0" gradientUnits="userSpaceOnUse"><stop offset="0.000" stop-color="#473fe2"/><stop offset="0.218" stop-color="#473fe2"/><stop offset="0.219" stop-color="#4368fe"/><stop offset="0.258" stop-color="#317efb"/><stop offset="0.292" stop-color="#2c90f0"/><stop offset="0.293" stop-color="#19addc"/><stop offset="0.367" stop-color="#19addc"/><stop offset="0.433" stop-color="#20a4e3"/><stop offset="0.517" stop-color="#259ce7"/><stop offset="0.667" stop-color="#2994ed"/><stop offset="0.833" stop-color="#2d8ef2"/><stop offset="1.000" stop-color="#2d89f5"/></linearGradient><linearGradient id="h146" x1="1482.7" x2="2063.0" y1="0" y2="0" gradientUnits="userSpaceOnUse"><stop offset="0.000" stop-color="#4742e6"/><stop offset="0.218" stop-color="#4742e6"/><stop offset="0.219" stop-color="#465ffb"/><stop offset="0.258" stop-color="#3975fe"/><stop offset="0.292" stop-color="#2d87f6"/><stop offset="0.293" stop-color="#2895ec"/><stop offset="0.367" stop-color="#2895ec"/><stop offset="0.433" stop-color="#2a93ed"/><stop offset="0.517" stop-color="#2b92ee"/><stop offset="0.667" stop-color="#2b91ef"/><stop offset="0.833" stop-color="#2c8ef2"/><stop offset="1.000" stop-color="#2d8bf4"/></linearGradient><linearGradient id="h147" x1="1482.7" x2="2063.0" y1="0" y2="0" gradientUnits="userSpaceOnUse"><stop offset="0.000" stop-color="#463adb"/><stop offset="0.218" stop-color="#463adb"/><stop offset="0.219" stop-color="#4368fe"/><stop offset="0.258" stop-color="#317efb"/><stop offset="0.292" stop-color="#2c90f0"/><stop offset="0.293" stop-color="#19addc"/><stop offset="0.367" stop-color="#19addc"/><stop offset="0.433" stop-color="#1fa6e2"/><stop offset="0.517" stop-color="#23a0e5"/><stop offset="0.667" stop-color="#269ae9"/><stop offset="0.833" stop-color="#2994ed"/><stop offset="1.000" stop-color="#2b90f0"/></linearGradient><linearGradient id="h148" x1="1482.7" x2="2063.0" y1="0" y2="0" gradientUnits="userSpaceOnUse"><stop offset="0.000" stop-color="#473fe2"/><stop offset="0.218" stop-color="#473fe2"/><stop offset="0.219" stop-color="#465ffb"/><stop offset="0.258" stop-color="#3875fe"/><stop offset="0.292" stop-color="#2d88f6"/><stop offset="0.293" stop-color="#2796eb"/><stop offset="0.367" stop-color="#2796eb"/><stop offset="0.433" stop-color="#2995ec"/><stop offset="0.517" stop-color="#2a93ed"/><stop offset="0.667" stop-color="#2b92ee"/><stop offset="0.833" stop-color="#2c8ff1"/><stop offset="1.000" stop-color="#2d8cf3"/></linearGradient><linearGradient id="h149" x1="1482.7" x2="2063.0" y1="0" y2="0" gradientUnits="userSpaceOnUse"><stop offset="0.000" stop-color="#4742e6"/><stop offset="0.218" stop-color="#4742e6"/><stop offset="0.219" stop-color="#465efb"/><stop offset="0.258" stop-color="#3a74fe"/><stop offset="0.292" stop-color="#2e87f7"/><stop offset="0.293" stop-color="#2a92ee"/><stop offset="0.367" stop-color="#2a92ee"/><stop offset="0.433" stop-color="#2b91ef"/><stop offset="0.517" stop-color="#2c8ff0"/><stop offset="0.667" stop-color="#2c8ef1"/><stop offset="0.833" stop-color="#2d8bf4"/><stop offset="1.000" stop-color="#2d88f6"/></linearGradient><linearGradient id="h150" x1="1482.7" x2="2063.0" y1="0" y2="0" gradientUnits="userSpaceOnUse"><stop offset="0.000" stop-color="#463adb"/><stop offset="0.218" stop-color="#463adb"/><stop offset="0.219" stop-color="#475af9"/><stop offset="0.258" stop-color="#3e70ff"/><stop offset="0.292" stop-color="#2e83f9"/><stop offset="0.293" stop-color="#2e86f7"/><stop offset="0.367" stop-color="#2e86f7"/><stop offset="0.433" stop-color="#2e85f8"/><stop offset="0.517" stop-color="#2e83f9"/><stop offset="0.667" stop-color="#2f82fa"/><stop offset="0.833" stop-color="#307ffb"/><stop offset="1.000" stop-color="#327cfc"/></linearGradient><linearGradient id="h151" x1="1482.7" x2="2063.0" y1="0" y2="0" gradientUnits="userSpaceOnUse"><stop offset="0.000" stop-color="#473fe2"/><stop offset="0.218" stop-color="#473fe2"/><stop offset="0.219" stop-color="#475bf9"/><stop offset="0.258" stop-color="#3d71ff"/><stop offset="0.292" stop-color="#2e84f9"/><stop offset="0.293" stop-color="#2d89f5"/><stop offset="0.367" stop-color="#2d89f5"/><stop offset="0.433" stop-color="#2d88f6"/><stop offset="0.517" stop-color="#2e86f7"/><stop offset="0.667" stop-color="#2e85f8"/><stop offset="0.833" stop-color="#2f82fa"/><stop offset="1.000" stop-color="#307ffb"/></linearGradient><linearGradient id="h152" x1="1482.7" x2="2063.0" y1="0" y2="0" gradientUnits="userSpaceOnUse"><stop offset="0.000" stop-color="#4742e6"/><stop offset="0.218" stop-color="#4742e6"/><stop offset="0.219" stop-color="#4759f9"/><stop offset="0.258" stop-color="#3f6fff"/><stop offset="0.292" stop-color="#2f82f9"/><stop offset="0.293" stop-color="#2e84f9"/><stop offset="0.367" stop-color="#2e84f9"/><stop offset="0.433" stop-color="#2f82fa"/><stop offset="0.517" stop-color="#2f81fa"/><stop offset="0.667" stop-color="#307ffb"/><stop offset="0.833" stop-color="#327cfc"/><stop offset="1.000" stop-color="#3479fd"/></linearGradient><linearGradient id="h153" x1="1482.7" x2="2063.0" y1="0" y2="0" gradientUnits="userSpaceOnUse"><stop offset="0.000" stop-color="#463adb"/><stop offset="0.218" stop-color="#463adb"/><stop offset="0.219" stop-color="#465efb"/><stop offset="0.258" stop-color="#3a74fe"/><stop offset="0.292" stop-color="#2e87f7"/><stop offset="0.293" stop-color="#2a93ee"/><stop offset="0.367" stop-color="#2a93ee"/><stop offset="0.433" stop-color="#2b91ef"/><stop offset="0.517" stop-color="#2c90f0"/><stop offset="0.667" stop-color="#2c8ff1"/><stop offset="0.833" stop-color="#2d8cf3"/><stop offset="1.000" stop-color="#2d89f5"/></linearGradient><linearGradient id="h154" x1="1482.7" x2="2063.0" y1="0" y2="0" gradientUnits="userSpaceOnUse"><stop offset="0.000" stop-color="#473fe2"/><stop offset="0.218" stop-color="#473fe2"/><stop offset="0.219" stop-color="#4660fc"/><stop offset="0.258" stop-color="#3776fe"/><stop offset="0.292" stop-color="#2d89f6"/><stop offset="0.293" stop-color="#2699ea"/><stop offset="0.367" stop-color="#2699ea"/><stop offset="0.433" stop-color="#2797eb"/><stop offset="0.517" stop-color="#2896ec"/><stop offset="0.667" stop-color="#2995ec"/><stop offset="0.833" stop-color="#2b91ef"/><stop offset="1.000" stop-color="#2c8ef1"/></linearGradient><linearGradient id="h155" x1="1482.7" x2="2063.0" y1="0" y2="0" gradientUnits="userSpaceOnUse"><stop offset="0.000" stop-color="#4742e6"/><stop offset="0.218" stop-color="#4742e6"/><stop offset="0.219" stop-color="#4660fc"/><stop offset="0.258" stop-color="#3776fe"/><stop offset="0.292" stop-color="#2d89f6"/><stop offset="0.293" stop-color="#2698ea"/><stop offset="0.367" stop-color="#2698ea"/><stop offset="0.433" stop-color="#2797eb"/><stop offset="0.517" stop-color="#2896ec"/><stop offset="0.667" stop-color="#2994ed"/><stop offset="0.833" stop-color="#2b91ef"/><stop offset="1.000" stop-color="#2c8ef1"/></linearGradient><linearGradient id="h156" x1="1482.7" x2="2063.0" y1="0" y2="0" gradientUnits="userSpaceOnUse"><stop offset="0.000" stop-color="#463ada"/><stop offset="0.218" stop-color="#463ada"/><stop offset="0.219" stop-color="#465efb"/><stop offset="0.258" stop-color="#3a74fe"/><stop offset="0.292" stop-color="#2e87f7"/><stop offset="0.293" stop-color="#2a93ee"/><stop offset="0.367" stop-color="#2a93ee"/><stop offset="0.433" stop-color="#2b91ef"/><stop offset="0.517" stop-color="#2c90f0"/><stop offset="0.667" stop-color="#2c8ff1"/><stop offset="0.833" stop-color="#2d8cf3"/><stop offset="1.000" stop-color="#2d89f5"/></linearGradient><linearGradient id="h157" x1="1482.7" x2="2063.0" y1="0" y2="0" gradientUnits="userSpaceOnUse"><stop offset="0.000" stop-color="#473fe2"/><stop offset="0.218" stop-color="#473fe2"/><stop offset="0.219" stop-color="#465ffb"/><stop offset="0.258" stop-color="#3975fe"/><stop offset="0.292" stop-color="#2e87f7"/><stop offset="0.293" stop-color="#2994ed"/><stop offset="0.367" stop-color="#2994ed"/><stop offset="0.433" stop-color="#2a93ee"/><stop offset="0.517" stop-color="#2b92ef"/><stop offset="0.667" stop-color="#2b90f0"/><stop offset="0.833" stop-color="#2d8df2"/><stop offset="1.000" stop-color="#2d8af4"/></linearGradient><linearGradient id="h158" x1="1482.7" x2="2063.0" y1="0" y2="0" gradientUnits="userSpaceOnUse"><stop offset="0.000" stop-color="#4742e6"/><stop offset="0.218" stop-color="#4742e6"/><stop offset="0.219" stop-color="#4466fd"/><stop offset="0.258" stop-color="#327cfc"/><stop offset="0.292" stop-color="#2c8ef2"/><stop offset="0.293" stop-color="#1ea7e1"/><stop offset="0.367" stop-color="#1ea7e1"/><stop offset="0.433" stop-color="#22a2e4"/><stop offset="0.517" stop-color="#249de7"/><stop offset="0.667" stop-color="#2698ea"/><stop offset="0.833" stop-color="#2994ed"/><stop offset="1.000" stop-color="#2c90f0"/></linearGradient><linearGradient id="h159" x1="1482.7" x2="2063.0" y1="0" y2="0" gradientUnits="userSpaceOnUse"><stop offset="0.000" stop-color="#463ada"/><stop offset="0.218" stop-color="#463ada"/><stop offset="0.219" stop-color="#4368fe"/><stop offset="0.258" stop-color="#317efb"/><stop offset="0.292" stop-color="#2c90f0"/><stop offset="0.293" stop-color="#19addc"/><stop offset="0.367" stop-color="#19addc"/><stop offset="0.433" stop-color="#20a5e2"/><stop offset="0.517" stop-color="#249ee6"/><stop offset="0.667" stop-color="#2797ea"/><stop offset="0.833" stop-color="#2b91ef"/><stop offset="1.000" stop-color="#2d8df2"/></linearGradient><linearGradient id="h160" x1="1482.7" x2="2063.0" y1="0" y2="0" gradientUnits="userSpaceOnUse"><stop offset="0.000" stop-color="#473fe2"/><stop offset="0.218" stop-color="#473fe2"/><stop offset="0.219" stop-color="#4466fd"/><stop offset="0.258" stop-color="#327cfc"/><stop offset="0.292" stop-color="#2c8ef2"/><stop offset="0.293" stop-color="#1ea7e1"/><stop offset="0.367" stop-color="#1ea7e1"/><stop offset="0.433" stop-color="#23a0e5"/><stop offset="0.517" stop-color="#2699e9"/><stop offset="0.667" stop-color="#2a92ee"/><stop offset="0.833" stop-color="#2d8df2"/><stop offset="1.000" stop-color="#2d89f5"/></linearGradient><linearGradient id="h161" x1="1482.7" x2="2063.0" y1="0" y2="0" gradientUnits="userSpaceOnUse"><stop offset="0.000" stop-color="#4742e6"/><stop offset="0.218" stop-color="#4742e6"/><stop offset="0.219" stop-color="#465ffb"/><stop offset="0.258" stop-color="#3875fe"/><stop offset="0.292" stop-color="#2d88f6"/><stop offset="0.293" stop-color="#2796eb"/><stop offset="0.367" stop-color="#2796eb"/><stop offset="0.433" stop-color="#2995ec"/><stop offset="0.517" stop-color="#2a93ed"/><stop offset="0.667" stop-color="#2a92ee"/><stop offset="0.833" stop-color="#2c8ff1"/><stop offset="1.000" stop-color="#2d8cf3"/></linearGradient><linearGradient id="h162" x1="1482.7" x2="2063.0" y1="0" y2="0" gradientUnits="userSpaceOnUse"><stop offset="0.000" stop-color="#463ada"/><stop offset="0.218" stop-color="#463ada"/><stop offset="0.219" stop-color="#475bf9"/><stop offset="0.258" stop-color="#3d71ff"/><stop offset="0.292" stop-color="#2e84f9"/><stop offset="0.293" stop-color="#2d8af5"/><stop offset="0.367" stop-color="#2d8af5"/><stop offset="0.433" stop-color="#2d88f6"/><stop offset="0.517" stop-color="#2e87f7"/><stop offset="0.667" stop-color="#2e85f8"/><stop offset="0.833" stop-color="#2f82f9"/><stop offset="1.000" stop-color="#307ffb"/></linearGradient><linearGradient id="h163" x1="1482.7" x2="2063.0" y1="0" y2="0" gradientUnits="userSpaceOnUse"><stop offset="0.000" stop-color="#473fe2"/><stop offset="0.218" stop-color="#473fe2"/><stop offset="0.219" stop-color="#465ffb"/><stop offset="0.258" stop-color="#3975fe"/><stop offset="0.292" stop-color="#2d87f7"/><stop offset="0.293" stop-color="#2895ec"/><stop offset="0.367" stop-color="#2895ec"/><stop offset="0.433" stop-color="#2a93ed"/><stop offset="0.517" stop-color="#2b92ee"/><stop offset="0.667" stop-color="#2b91ef"/><stop offset="0.833" stop-color="#2c8ef2"/><stop offset="1.000" stop-color="#2d8bf4"/></linearGradient><linearGradient id="h164" x1="1482.7" x2="2063.0" y1="0" y2="0" gradientUnits="userSpaceOnUse"><stop offset="0.000" stop-color="#4742e6"/><stop offset="0.218" stop-color="#4742e6"/><stop offset="0.219" stop-color="#465efb"/><stop offset="0.258" stop-color="#3a74fe"/><stop offset="0.292" stop-color="#2e87f7"/><stop offset="0.293" stop-color="#2a93ee"/><stop offset="0.367" stop-color="#2a93ee"/><stop offset="0.433" stop-color="#2b91ef"/><stop offset="0.517" stop-color="#2c90f0"/><stop offset="0.667" stop-color="#2c8ef1"/><stop offset="0.833" stop-color="#2d8bf3"/><stop offset="1.000" stop-color="#2d88f6"/></linearGradient><linearGradient id="h165" x1="1482.7" x2="2063.0" y1="0" y2="0" gradientUnits="userSpaceOnUse"><stop offset="0.000" stop-color="#463ada"/><stop offset="0.218" stop-color="#463ada"/><stop offset="0.219" stop-color="#4562fc"/><stop offset="0.258" stop-color="#3579fd"/><stop offset="0.292" stop-color="#2d8bf4"/><stop offset="0.293" stop-color="#249fe6"/><stop offset="0.367" stop-color="#249fe6"/><stop offset="0.433" stop-color="#259be8"/><stop offset="0.517" stop-color="#2798ea"/><stop offset="0.667" stop-color="#2895ec"/><stop offset="0.833" stop-color="#2b91ef"/><stop offset="1.000" stop-color="#2c8ef1"/></linearGradient><linearGradient id="h166" x1="1482.7" x2="2063.0" y1="0" y2="0" gradientUnits="userSpaceOnUse"><stop offset="0.000" stop-color="#473fe3"/><stop offset="0.218" stop-color="#473fe3"/><stop offset="0.219" stop-color="#4660fc"/><stop offset="0.258" stop-color="#3776fe"/><stop offset="0.292" stop-color="#2d89f5"/><stop offset="0.293" stop-color="#2699e9"/><stop offset="0.367" stop-color="#2699e9"/><stop offset="0.433" stop-color="#2797ea"/><stop offset="0.517" stop-color="#2896eb"/><stop offset="0.667" stop-color="#2895ec"/><stop offset="0.833" stop-color="#2b92ee"/><stop offset="1.000" stop-color="#2c8ff1"/></linearGradient><linearGradient id="cb167" x1="0" x2="0" y1="0" y2="1"><stop offset="0.0000" stop-color="#f9fb15"/><stop offset="0.0312" stop-color="#f6ef20"/><stop offset="0.0625" stop-color="#f5e327"/><stop offset="0.0938" stop-color="#f9d62d"/><stop offset="0.1250" stop-color="#feca33"/><stop offset="0.1562" stop-color="#febe3c"/><stop offset="0.1875" stop-color="#f1ba37"/><stop offset="0.2188" stop-color="#debc2a"/><stop offset="0.2500" stop-color="#c8c129"/><stop offset="0.2812" stop-color="#afc637"/><stop offset="0.3125" stop-color="#94ca4a"/><stop offset="0.3438" stop-color="#77cc60"/><stop offset="0.3750" stop-color="#5ccc76"/><stop offset="0.4062" stop-color="#44ca8a"/><stop offset="0.4375" stop-color="#34c79c"/><stop offset="0.4688" stop-color="#28c2ab"/><stop offset="0.5000" stop-color="#12beb9"/><stop offset="0.5312" stop-color="#01b9c6"/><stop offset="0.5625" stop-color="#0cb3d3"/><stop offset="0.5938" stop-color="#1aacdd"/><stop offset="0.6250" stop-color="#21a3e3"/><stop offset="0.6562" stop-color="#269ae9"/><stop offset="0.6875" stop-color="#2c90f0"/><stop offset="0.7188" stop-color="#2e85f8"/><stop offset="0.7500" stop-color="#347afd"/><stop offset="0.7812" stop-color="#3f6efe"/><stop offset="0.8125" stop-color="#4562fc"/><stop offset="0.8438" stop-color="#4757f7"/><stop offset="0.8750" stop-color="#484cef"/><stop offset="0.9062" stop-color="#4741e5"/><stop offset="0.9375" stop-color="#4536d5"/><stop offset="0.9688" stop-color="#422ebf"/><stop offset="1.0000" stop-color="#3e26a8"/></linearGradient></defs><text transform="translate(-1.0,35.0) scale(1,1.045)" font-size="38" font-weight="bold" fill="#000" stroke="#000" stroke-width="0.45">a</text>
<text transform="translate(-1.0,658.0) scale(1,1.045)" font-size="38" font-weight="bold" fill="#000" stroke="#000" stroke-width="0.45">b</text>
<text transform="translate(599.0,655.0) scale(1,1.045)" font-size="38" font-weight="bold" fill="#000" stroke="#000" stroke-width="0.45">c</text>
<text transform="translate(-1.0,1838.0) scale(1,1.045)" font-size="38" font-weight="bold" fill="#000" stroke="#000" stroke-width="0.45">d</text>
<text transform="translate(1162.0,1835.0) scale(1,1.045)" font-size="38" font-weight="bold" fill="#000" stroke="#000" stroke-width="0.45">e</text>
<path d="M229.0,372.6 C233.1,374.2 247.6,378.2 253.5,382.2 C259.4,386.2 262.8,392.3 264.4,396.7 C266.0,401.1 265.3,405.4 263.1,408.8 C260.9,412.2 258.6,416.1 251.0,417.3 C243.3,418.5 228.9,417.6 217.2,416.0 C205.5,414.4 191.0,408.8 180.9,407.6 C170.8,406.4 160.7,408.6 156.7,408.8" fill="none" stroke="#9a6e6c" stroke-width="5.2" stroke-linecap="round"/>
<path d="M229.0,372.6 C233.1,374.2 247.6,378.2 253.5,382.2 C259.4,386.2 262.8,392.3 264.4,396.7 C266.0,401.1 265.3,405.4 263.1,408.8 C260.9,412.2 258.6,416.1 251.0,417.3 C243.3,418.5 228.9,417.6 217.2,416.0 C205.5,414.4 191.0,408.8 180.9,407.6 C170.8,406.4 160.7,408.6 156.7,408.8" fill="none" stroke="#d4a3a0" stroke-width="3.4" stroke-linecap="round"/>
<path d="M188.0,398.0 L205.0,393.0 L217.0,391.5 L214.0,396.0 L206.0,401.0 L195.0,405.0 L188.0,404.0 Z" fill="#d6a6a2" stroke="#a57a76" stroke-width="0.8"/>
<path d="M116.0,376.0 L124.0,386.0 L128.0,393.0 L120.0,396.0 L106.0,396.0 L96.3,393.5 L104.0,391.5 L116.0,390.0 L113.0,382.0 Z" fill="#d6a6a2" stroke="#a57a76" stroke-width="0.8"/>
<path d="M72.7,339.9 C72.7,336.9 75.2,333.4 78.1,330.2 C81.0,327.0 84.8,322.8 90.2,320.6 C95.7,318.4 103.8,316.6 110.8,316.9 C117.8,317.2 124.8,321.6 132.5,322.2 C140.2,322.8 146.6,320.8 156.7,320.2 C166.8,319.6 183.9,317.7 193.0,318.8 C202.1,319.9 205.4,322.7 211.1,326.6 C216.8,330.5 223.3,336.7 226.9,342.3 C230.5,347.9 232.1,355.1 232.9,360.5 C233.7,365.9 233.1,371.0 231.7,375.0 C230.3,379.0 227.2,381.6 224.4,384.6 C221.6,387.6 220.0,391.1 214.8,393.1 C209.6,395.1 200.7,396.5 193.0,396.7 C185.3,396.9 176.9,394.9 168.8,394.3 C160.7,393.7 150.7,394.3 144.6,393.1 C138.5,391.9 136.5,389.7 132.5,387.1 C128.5,384.5 124.5,381.2 120.5,377.4 C116.5,373.6 113.5,368.3 108.4,364.1 C103.4,359.9 95.2,354.6 90.2,352.0 C85.2,349.4 81.0,350.4 78.1,348.4 C75.2,346.4 72.7,342.9 72.7,339.9 Z" fill="#524b48" stroke="#3a3432" stroke-width="1"/>
<path d="M140.0,380.0 C143.2,376.7 155.0,372.3 165.0,372.0 C175.0,371.7 190.5,376.0 200.0,378.0 C209.5,380.0 219.5,381.7 222.0,384.0 C224.5,386.3 219.6,390.0 214.8,392.0 C210.0,394.0 200.7,395.7 193.0,396.0 C185.3,396.3 176.6,394.7 168.8,394.0 C161.0,393.3 150.8,394.3 146.0,392.0 C141.2,389.7 136.8,383.3 140.0,380.0 Z" fill="#45393a" stroke="none" stroke-width="1"/>
<path d="M109.6,316.5 C109.3,314.9 112.4,311.0 114.0,309.5 C115.6,308.0 117.4,307.3 119.0,307.5 C120.6,307.7 122.8,308.8 123.5,310.5 C124.2,312.2 124.2,316.1 122.9,317.5 C121.7,318.9 118.2,319.2 116.0,319.0 C113.8,318.8 109.9,318.1 109.6,316.5 Z" fill="#4a4341" stroke="#332d2b" stroke-width="0.8"/>
<ellipse cx="126" cy="330" rx="7.6" ry="10" fill="#c98f8f" stroke="#5d4644" stroke-width="1.6" transform="rotate(-10 126 330)"/>
<circle cx="95.7" cy="335.0" r="2.3" fill="#111"/>
<circle cx="73.5" cy="340.0" r="1.8" fill="#6e5552"/>
<path d="M298.4,437.8 C302.2,432.2 308.5,425.7 316.5,421.3 C324.5,416.9 335.8,414.7 346.2,411.4 C356.6,408.1 369.3,405.1 379.2,401.5 C389.1,397.9 399.2,392.6 405.5,390.0 C411.8,387.4 414.2,386.0 417.0,386.0 C419.8,386.0 421.7,388.0 422.0,390.0 C422.3,392.0 420.9,395.2 418.7,398.2 C416.5,401.2 415.4,404.5 408.8,408.1 C402.2,411.7 388.7,415.9 379.2,419.7 C369.7,423.5 357.9,426.9 352.0,431.0 C346.1,435.1 344.8,438.9 343.5,444.4 C342.2,449.9 345.1,458.1 344.5,464.2 C343.9,470.2 344.3,477.1 339.6,480.7 C334.9,484.3 323.1,486.2 316.5,485.6 C309.9,485.1 303.9,482.5 300.0,477.4 C296.1,472.3 293.7,461.6 293.4,455.0 C293.1,448.4 294.5,443.4 298.4,437.8 Z" fill="#eeb062" stroke="#e6a152" stroke-width="1.2"/>
<g clip-path="url(#pcclip)"><ellipse cx="325.0" cy="439.2" rx="3.2" ry="2.2" fill="none" stroke="#e19a4a" stroke-width="0.8" opacity="0.7"/><ellipse cx="341.1" cy="444.8" rx="3.2" ry="2.2" fill="none" stroke="#e19a4a" stroke-width="0.8" opacity="0.7"/><ellipse cx="372.3" cy="394.2" rx="3.2" ry="2.2" fill="none" stroke="#e19a4a" stroke-width="0.8" opacity="0.7"/><ellipse cx="297.6" cy="466.7" rx="3.2" ry="2.2" fill="none" stroke="#e19a4a" stroke-width="0.8" opacity="0.7"/><ellipse cx="327.6" cy="410.0" rx="3.2" ry="2.2" fill="none" stroke="#e19a4a" stroke-width="0.8" opacity="0.7"/><ellipse cx="417.5" cy="432.2" rx="3.2" ry="2.2" fill="none" stroke="#e19a4a" stroke-width="0.8" opacity="0.7"/><ellipse cx="398.0" cy="432.8" rx="3.2" ry="2.2" fill="none" stroke="#e19a4a" stroke-width="0.8" opacity="0.7"/><ellipse cx="374.0" cy="402.2" rx="3.2" ry="2.2" fill="none" stroke="#e19a4a" stroke-width="0.8" opacity="0.7"/><ellipse cx="373.5" cy="469.6" rx="3.2" ry="2.2" fill="none" stroke="#e19a4a" stroke-width="0.8" opacity="0.7"/><ellipse cx="359.8" cy="457.7" rx="3.2" ry="2.2" fill="none" stroke="#e19a4a" stroke-width="0.8" opacity="0.7"/><ellipse cx="377.9" cy="394.0" rx="3.2" ry="2.2" fill="none" stroke="#e19a4a" stroke-width="0.8" opacity="0.7"/><ellipse cx="388.5" cy="443.6" rx="3.2" ry="2.2" fill="none" stroke="#e19a4a" stroke-width="0.8" opacity="0.7"/><ellipse cx="332.8" cy="390.9" rx="3.2" ry="2.2" fill="none" stroke="#e19a4a" stroke-width="0.8" opacity="0.7"/><ellipse cx="401.6" cy="432.4" rx="3.2" ry="2.2" fill="none" stroke="#e19a4a" stroke-width="0.8" opacity="0.7"/><ellipse cx="383.7" cy="470.6" rx="3.2" ry="2.2" fill="none" stroke="#e19a4a" stroke-width="0.8" opacity="0.7"/><ellipse cx="383.1" cy="474.6" rx="3.2" ry="2.2" fill="none" stroke="#e19a4a" stroke-width="0.8" opacity="0.7"/><ellipse cx="344.2" cy="463.3" rx="3.2" ry="2.2" fill="none" stroke="#e19a4a" stroke-width="0.8" opacity="0.7"/><ellipse cx="350.2" cy="475.9" rx="3.2" ry="2.2" fill="none" stroke="#e19a4a" stroke-width="0.8" opacity="0.7"/><ellipse cx="403.2" cy="397.2" rx="3.2" ry="2.2" fill="none" stroke="#e19a4a" stroke-width="0.8" opacity="0.7"/><ellipse cx="312.6" cy="408.4" rx="3.2" ry="2.2" fill="none" stroke="#e19a4a" stroke-width="0.8" opacity="0.7"/><ellipse cx="413.8" cy="429.0" rx="3.2" ry="2.2" fill="none" stroke="#e19a4a" stroke-width="0.8" opacity="0.7"/><ellipse cx="372.5" cy="416.3" rx="3.2" ry="2.2" fill="none" stroke="#e19a4a" stroke-width="0.8" opacity="0.7"/><ellipse cx="357.9" cy="424.3" rx="3.2" ry="2.2" fill="none" stroke="#e19a4a" stroke-width="0.8" opacity="0.7"/><ellipse cx="338.8" cy="443.0" rx="3.2" ry="2.2" fill="none" stroke="#e19a4a" stroke-width="0.8" opacity="0.7"/><ellipse cx="367.3" cy="473.0" rx="3.2" ry="2.2" fill="none" stroke="#e19a4a" stroke-width="0.8" opacity="0.7"/><ellipse cx="379.2" cy="475.3" rx="3.2" ry="2.2" fill="none" stroke="#e19a4a" stroke-width="0.8" opacity="0.7"/><ellipse cx="400.5" cy="481.2" rx="3.2" ry="2.2" fill="none" stroke="#e19a4a" stroke-width="0.8" opacity="0.7"/><ellipse cx="377.9" cy="403.3" rx="3.2" ry="2.2" fill="none" stroke="#e19a4a" stroke-width="0.8" opacity="0.7"/><ellipse cx="401.0" cy="478.7" rx="3.2" ry="2.2" fill="none" stroke="#e19a4a" stroke-width="0.8" opacity="0.7"/><ellipse cx="406.4" cy="441.5" rx="3.2" ry="2.2" fill="none" stroke="#e19a4a" stroke-width="0.8" opacity="0.7"/><ellipse cx="383.1" cy="407.8" rx="3.2" ry="2.2" fill="none" stroke="#e19a4a" stroke-width="0.8" opacity="0.7"/><ellipse cx="397.5" cy="441.9" rx="3.2" ry="2.2" fill="none" stroke="#e19a4a" stroke-width="0.8" opacity="0.7"/><ellipse cx="330.8" cy="394.0" rx="3.2" ry="2.2" fill="none" stroke="#e19a4a" stroke-width="0.8" opacity="0.7"/><ellipse cx="400.2" cy="481.0" rx="3.2" ry="2.2" fill="none" stroke="#e19a4a" stroke-width="0.8" opacity="0.7"/><ellipse cx="306.8" cy="463.3" rx="3.2" ry="2.2" fill="none" stroke="#e19a4a" stroke-width="0.8" opacity="0.7"/><ellipse cx="346.1" cy="402.2" rx="3.2" ry="2.2" fill="none" stroke="#e19a4a" stroke-width="0.8" opacity="0.7"/><ellipse cx="331.9" cy="460.3" rx="3.2" ry="2.2" fill="none" stroke="#e19a4a" stroke-width="0.8" opacity="0.7"/><ellipse cx="402.5" cy="392.2" rx="3.2" ry="2.2" fill="none" stroke="#e19a4a" stroke-width="0.8" opacity="0.7"/><ellipse cx="371.0" cy="392.2" rx="3.2" ry="2.2" fill="none" stroke="#e19a4a" stroke-width="0.8" opacity="0.7"/><ellipse cx="383.6" cy="419.1" rx="3.2" ry="2.2" fill="none" stroke="#e19a4a" stroke-width="0.8" opacity="0.7"/><ellipse cx="403.5" cy="480.2" rx="3.2" ry="2.2" fill="none" stroke="#e19a4a" stroke-width="0.8" opacity="0.7"/><ellipse cx="357.7" cy="481.9" rx="3.2" ry="2.2" fill="none" stroke="#e19a4a" stroke-width="0.8" opacity="0.7"/><ellipse cx="333.8" cy="395.2" rx="3.2" ry="2.2" fill="none" stroke="#e19a4a" stroke-width="0.8" opacity="0.7"/><ellipse cx="369.2" cy="390.9" rx="3.2" ry="2.2" fill="none" stroke="#e19a4a" stroke-width="0.8" opacity="0.7"/><ellipse cx="320.1" cy="426.3" rx="3.2" ry="2.2" fill="none" stroke="#e19a4a" stroke-width="0.8" opacity="0.7"/><ellipse cx="370.5" cy="402.7" rx="3.2" ry="2.2" fill="none" stroke="#e19a4a" stroke-width="0.8" opacity="0.7"/><ellipse cx="301.2" cy="469.6" rx="3.2" ry="2.2" fill="none" stroke="#e19a4a" stroke-width="0.8" opacity="0.7"/><ellipse cx="334.3" cy="478.1" rx="3.2" ry="2.2" fill="none" stroke="#e19a4a" stroke-width="0.8" opacity="0.7"/><ellipse cx="405.4" cy="423.5" rx="3.2" ry="2.2" fill="none" stroke="#e19a4a" stroke-width="0.8" opacity="0.7"/><ellipse cx="352.2" cy="436.9" rx="3.2" ry="2.2" fill="none" stroke="#e19a4a" stroke-width="0.8" opacity="0.7"/><ellipse cx="374.6" cy="444.0" rx="3.2" ry="2.2" fill="none" stroke="#e19a4a" stroke-width="0.8" opacity="0.7"/><ellipse cx="364.2" cy="446.3" rx="3.2" ry="2.2" fill="none" stroke="#e19a4a" stroke-width="0.8" opacity="0.7"/><ellipse cx="410.8" cy="435.7" rx="3.2" ry="2.2" fill="none" stroke="#e19a4a" stroke-width="0.8" opacity="0.7"/><ellipse cx="348.6" cy="455.7" rx="3.2" ry="2.2" fill="none" stroke="#e19a4a" stroke-width="0.8" opacity="0.7"/><ellipse cx="325.0" cy="416.3" rx="3.2" ry="2.2" fill="none" stroke="#e19a4a" stroke-width="0.8" opacity="0.7"/><ellipse cx="415.3" cy="437.0" rx="3.2" ry="2.2" fill="none" stroke="#e19a4a" stroke-width="0.8" opacity="0.7"/><ellipse cx="362.9" cy="389.1" rx="3.2" ry="2.2" fill="none" stroke="#e19a4a" stroke-width="0.8" opacity="0.7"/><ellipse cx="346.7" cy="442.5" rx="3.2" ry="2.2" fill="none" stroke="#e19a4a" stroke-width="0.8" opacity="0.7"/><ellipse cx="298.4" cy="445.9" rx="3.2" ry="2.2" fill="none" stroke="#e19a4a" stroke-width="0.8" opacity="0.7"/><ellipse cx="373.1" cy="393.6" rx="3.2" ry="2.2" fill="none" stroke="#e19a4a" stroke-width="0.8" opacity="0.7"/><ellipse cx="372.5" cy="431.8" rx="3.2" ry="2.2" fill="none" stroke="#e19a4a" stroke-width="0.8" opacity="0.7"/><ellipse cx="378.9" cy="421.1" rx="3.2" ry="2.2" fill="none" stroke="#e19a4a" stroke-width="0.8" opacity="0.7"/><ellipse cx="382.2" cy="457.4" rx="3.2" ry="2.2" fill="none" stroke="#e19a4a" stroke-width="0.8" opacity="0.7"/><ellipse cx="298.7" cy="393.7" rx="3.2" ry="2.2" fill="none" stroke="#e19a4a" stroke-width="0.8" opacity="0.7"/><ellipse cx="378.5" cy="478.6" rx="3.2" ry="2.2" fill="none" stroke="#e19a4a" stroke-width="0.8" opacity="0.7"/><ellipse cx="326.6" cy="430.9" rx="3.2" ry="2.2" fill="none" stroke="#e19a4a" stroke-width="0.8" opacity="0.7"/><ellipse cx="368.3" cy="418.1" rx="3.2" ry="2.2" fill="none" stroke="#e19a4a" stroke-width="0.8" opacity="0.7"/><ellipse cx="340.4" cy="417.4" rx="3.2" ry="2.2" fill="none" stroke="#e19a4a" stroke-width="0.8" opacity="0.7"/><ellipse cx="341.0" cy="444.0" rx="3.2" ry="2.2" fill="none" stroke="#e19a4a" stroke-width="0.8" opacity="0.7"/><ellipse cx="332.6" cy="423.5" rx="3.2" ry="2.2" fill="none" stroke="#e19a4a" stroke-width="0.8" opacity="0.7"/><ellipse cx="390.2" cy="390.5" rx="3.2" ry="2.2" fill="none" stroke="#e19a4a" stroke-width="0.8" opacity="0.7"/><ellipse cx="365.4" cy="457.1" rx="3.2" ry="2.2" fill="none" stroke="#e19a4a" stroke-width="0.8" opacity="0.7"/><ellipse cx="333.8" cy="408.9" rx="3.2" ry="2.2" fill="none" stroke="#e19a4a" stroke-width="0.8" opacity="0.7"/><ellipse cx="394.1" cy="410.4" rx="3.2" ry="2.2" fill="none" stroke="#e19a4a" stroke-width="0.8" opacity="0.7"/><ellipse cx="318.9" cy="428.9" rx="3.2" ry="2.2" fill="none" stroke="#e19a4a" stroke-width="0.8" opacity="0.7"/><ellipse cx="381.2" cy="397.6" rx="3.2" ry="2.2" fill="none" stroke="#e19a4a" stroke-width="0.8" opacity="0.7"/><ellipse cx="335.3" cy="419.4" rx="3.2" ry="2.2" fill="none" stroke="#e19a4a" stroke-width="0.8" opacity="0.7"/><ellipse cx="397.7" cy="429.2" rx="3.2" ry="2.2" fill="none" stroke="#e19a4a" stroke-width="0.8" opacity="0.7"/><ellipse cx="400.4" cy="403.9" rx="3.2" ry="2.2" fill="none" stroke="#e19a4a" stroke-width="0.8" opacity="0.7"/><ellipse cx="337.1" cy="449.1" rx="3.2" ry="2.2" fill="none" stroke="#e19a4a" stroke-width="0.8" opacity="0.7"/><ellipse cx="404.0" cy="430.4" rx="3.2" ry="2.2" fill="none" stroke="#e19a4a" stroke-width="0.8" opacity="0.7"/><ellipse cx="323.5" cy="399.4" rx="3.2" ry="2.2" fill="none" stroke="#e19a4a" stroke-width="0.8" opacity="0.7"/><ellipse cx="360.6" cy="405.9" rx="3.2" ry="2.2" fill="none" stroke="#e19a4a" stroke-width="0.8" opacity="0.7"/><ellipse cx="394.4" cy="466.8" rx="3.2" ry="2.2" fill="none" stroke="#e19a4a" stroke-width="0.8" opacity="0.7"/><ellipse cx="318.4" cy="414.2" rx="3.2" ry="2.2" fill="none" stroke="#e19a4a" stroke-width="0.8" opacity="0.7"/><ellipse cx="394.5" cy="448.3" rx="3.2" ry="2.2" fill="none" stroke="#e19a4a" stroke-width="0.8" opacity="0.7"/><ellipse cx="394.4" cy="420.5" rx="3.2" ry="2.2" fill="none" stroke="#e19a4a" stroke-width="0.8" opacity="0.7"/><ellipse cx="311.8" cy="415.4" rx="3.2" ry="2.2" fill="none" stroke="#e19a4a" stroke-width="0.8" opacity="0.7"/><ellipse cx="392.9" cy="413.5" rx="3.2" ry="2.2" fill="none" stroke="#e19a4a" stroke-width="0.8" opacity="0.7"/><ellipse cx="338.3" cy="427.2" rx="3.2" ry="2.2" fill="none" stroke="#e19a4a" stroke-width="0.8" opacity="0.7"/><ellipse cx="347.2" cy="426.5" rx="3.2" ry="2.2" fill="none" stroke="#e19a4a" stroke-width="0.8" opacity="0.7"/><ellipse cx="408.3" cy="402.7" rx="3.2" ry="2.2" fill="none" stroke="#e19a4a" stroke-width="0.8" opacity="0.7"/><ellipse cx="296.6" cy="476.7" rx="3.2" ry="2.2" fill="none" stroke="#e19a4a" stroke-width="0.8" opacity="0.7"/><ellipse cx="403.4" cy="480.8" rx="3.2" ry="2.2" fill="none" stroke="#e19a4a" stroke-width="0.8" opacity="0.7"/><ellipse cx="349.0" cy="477.3" rx="3.2" ry="2.2" fill="none" stroke="#e19a4a" stroke-width="0.8" opacity="0.7"/><ellipse cx="409.1" cy="408.9" rx="3.2" ry="2.2" fill="none" stroke="#e19a4a" stroke-width="0.8" opacity="0.7"/><ellipse cx="387.0" cy="466.6" rx="3.2" ry="2.2" fill="none" stroke="#e19a4a" stroke-width="0.8" opacity="0.7"/><ellipse cx="376.9" cy="436.8" rx="3.2" ry="2.2" fill="none" stroke="#e19a4a" stroke-width="0.8" opacity="0.7"/><ellipse cx="331.3" cy="420.1" rx="3.2" ry="2.2" fill="none" stroke="#e19a4a" stroke-width="0.8" opacity="0.7"/><ellipse cx="323.8" cy="394.4" rx="3.2" ry="2.2" fill="none" stroke="#e19a4a" stroke-width="0.8" opacity="0.7"/><ellipse cx="367.8" cy="415.0" rx="3.2" ry="2.2" fill="none" stroke="#e19a4a" stroke-width="0.8" opacity="0.7"/><ellipse cx="394.8" cy="392.2" rx="3.2" ry="2.2" fill="none" stroke="#e19a4a" stroke-width="0.8" opacity="0.7"/><ellipse cx="406.2" cy="453.2" rx="3.2" ry="2.2" fill="none" stroke="#e19a4a" stroke-width="0.8" opacity="0.7"/><ellipse cx="408.7" cy="472.3" rx="3.2" ry="2.2" fill="none" stroke="#e19a4a" stroke-width="0.8" opacity="0.7"/><ellipse cx="405.8" cy="442.2" rx="3.2" ry="2.2" fill="none" stroke="#e19a4a" stroke-width="0.8" opacity="0.7"/><ellipse cx="297.6" cy="458.1" rx="3.2" ry="2.2" fill="none" stroke="#e19a4a" stroke-width="0.8" opacity="0.7"/><ellipse cx="317.0" cy="416.2" rx="3.2" ry="2.2" fill="none" stroke="#e19a4a" stroke-width="0.8" opacity="0.7"/><ellipse cx="376.9" cy="437.3" rx="3.2" ry="2.2" fill="none" stroke="#e19a4a" stroke-width="0.8" opacity="0.7"/><ellipse cx="346.5" cy="476.3" rx="3.2" ry="2.2" fill="none" stroke="#e19a4a" stroke-width="0.8" opacity="0.7"/><ellipse cx="370.7" cy="420.1" rx="3.2" ry="2.2" fill="none" stroke="#e19a4a" stroke-width="0.8" opacity="0.7"/><ellipse cx="326.8" cy="469.0" rx="3.2" ry="2.2" fill="none" stroke="#e19a4a" stroke-width="0.8" opacity="0.7"/><ellipse cx="354.2" cy="461.5" rx="3.2" ry="2.2" fill="none" stroke="#e19a4a" stroke-width="0.8" opacity="0.7"/><ellipse cx="338.9" cy="406.5" rx="3.2" ry="2.2" fill="none" stroke="#e19a4a" stroke-width="0.8" opacity="0.7"/><ellipse cx="361.2" cy="464.8" rx="3.2" ry="2.2" fill="none" stroke="#e19a4a" stroke-width="0.8" opacity="0.7"/><ellipse cx="316.9" cy="462.4" rx="3.2" ry="2.2" fill="none" stroke="#e19a4a" stroke-width="0.8" opacity="0.7"/><ellipse cx="408.5" cy="463.8" rx="3.2" ry="2.2" fill="none" stroke="#e19a4a" stroke-width="0.8" opacity="0.7"/><ellipse cx="396.5" cy="388.7" rx="3.2" ry="2.2" fill="none" stroke="#e19a4a" stroke-width="0.8" opacity="0.7"/><ellipse cx="372.7" cy="469.1" rx="3.2" ry="2.2" fill="none" stroke="#e19a4a" stroke-width="0.8" opacity="0.7"/><ellipse cx="302.1" cy="413.5" rx="3.2" ry="2.2" fill="none" stroke="#e19a4a" stroke-width="0.8" opacity="0.7"/><ellipse cx="328.8" cy="437.6" rx="3.2" ry="2.2" fill="none" stroke="#e19a4a" stroke-width="0.8" opacity="0.7"/></g>
<ellipse cx="548.4" cy="368.8" rx="69" ry="63.5" fill="#eaa3bd" stroke="#c98aa6" stroke-width="1"/>
<ellipse cx="549.4" cy="369.8" rx="54" ry="48.5" fill="#f8dfa6"/>
<circle cx="609.9" cy="368.8" r="4.8" fill="#eea9c3" stroke="#d48aa8" stroke-width="0.7"/><circle cx="609.3" cy="376.8" r="4.8" fill="#eea9c3" stroke="#d48aa8" stroke-width="0.7"/><circle cx="607.4" cy="384.6" r="4.8" fill="#eea9c3" stroke="#d48aa8" stroke-width="0.7"/><circle cx="604.3" cy="392.1" r="4.8" fill="#eea9c3" stroke="#d48aa8" stroke-width="0.7"/><circle cx="600.1" cy="399.1" r="4.8" fill="#eea9c3" stroke="#d48aa8" stroke-width="0.7"/><circle cx="594.9" cy="405.5" r="4.8" fill="#eea9c3" stroke="#d48aa8" stroke-width="0.7"/><circle cx="588.7" cy="411.1" r="4.8" fill="#eea9c3" stroke="#d48aa8" stroke-width="0.7"/><circle cx="581.6" cy="415.9" r="4.8" fill="#eea9c3" stroke="#d48aa8" stroke-width="0.7"/><circle cx="573.9" cy="419.7" r="4.8" fill="#eea9c3" stroke="#d48aa8" stroke-width="0.7"/><circle cx="565.7" cy="422.5" r="4.8" fill="#eea9c3" stroke="#d48aa8" stroke-width="0.7"/><circle cx="557.2" cy="424.2" r="4.8" fill="#eea9c3" stroke="#d48aa8" stroke-width="0.7"/><circle cx="548.4" cy="424.8" r="4.8" fill="#eea9c3" stroke="#d48aa8" stroke-width="0.7"/><circle cx="539.6" cy="424.2" r="4.8" fill="#eea9c3" stroke="#d48aa8" stroke-width="0.7"/><circle cx="531.1" cy="422.5" r="4.8" fill="#eea9c3" stroke="#d48aa8" stroke-width="0.7"/><circle cx="522.9" cy="419.7" r="4.8" fill="#eea9c3" stroke="#d48aa8" stroke-width="0.7"/><circle cx="515.2" cy="415.9" r="4.8" fill="#eea9c3" stroke="#d48aa8" stroke-width="0.7"/><circle cx="508.1" cy="411.1" r="4.8" fill="#eea9c3" stroke="#d48aa8" stroke-width="0.7"/><circle cx="501.9" cy="405.5" r="4.8" fill="#eea9c3" stroke="#d48aa8" stroke-width="0.7"/><circle cx="496.7" cy="399.1" r="4.8" fill="#eea9c3" stroke="#d48aa8" stroke-width="0.7"/><circle cx="492.5" cy="392.1" r="4.8" fill="#eea9c3" stroke="#d48aa8" stroke-width="0.7"/><circle cx="489.4" cy="384.6" r="4.8" fill="#eea9c3" stroke="#d48aa8" stroke-width="0.7"/><circle cx="487.5" cy="376.8" r="4.8" fill="#eea9c3" stroke="#d48aa8" stroke-width="0.7"/><circle cx="486.9" cy="368.8" r="4.8" fill="#eea9c3" stroke="#d48aa8" stroke-width="0.7"/><circle cx="487.5" cy="360.8" r="4.8" fill="#eea9c3" stroke="#d48aa8" stroke-width="0.7"/><circle cx="489.4" cy="353.0" r="4.8" fill="#eea9c3" stroke="#d48aa8" stroke-width="0.7"/><circle cx="492.5" cy="345.5" r="4.8" fill="#eea9c3" stroke="#d48aa8" stroke-width="0.7"/><circle cx="496.7" cy="338.5" r="4.8" fill="#eea9c3" stroke="#d48aa8" stroke-width="0.7"/><circle cx="501.9" cy="332.1" r="4.8" fill="#eea9c3" stroke="#d48aa8" stroke-width="0.7"/><circle cx="508.1" cy="326.5" r="4.8" fill="#eea9c3" stroke="#d48aa8" stroke-width="0.7"/><circle cx="515.2" cy="321.7" r="4.8" fill="#eea9c3" stroke="#d48aa8" stroke-width="0.7"/><circle cx="522.9" cy="317.9" r="4.8" fill="#eea9c3" stroke="#d48aa8" stroke-width="0.7"/><circle cx="531.1" cy="315.1" r="4.8" fill="#eea9c3" stroke="#d48aa8" stroke-width="0.7"/><circle cx="539.6" cy="313.4" r="4.8" fill="#eea9c3" stroke="#d48aa8" stroke-width="0.7"/><circle cx="548.4" cy="312.8" r="4.8" fill="#eea9c3" stroke="#d48aa8" stroke-width="0.7"/><circle cx="557.2" cy="313.4" r="4.8" fill="#eea9c3" stroke="#d48aa8" stroke-width="0.7"/><circle cx="565.7" cy="315.1" r="4.8" fill="#eea9c3" stroke="#d48aa8" stroke-width="0.7"/><circle cx="573.9" cy="317.9" r="4.8" fill="#eea9c3" stroke="#d48aa8" stroke-width="0.7"/><circle cx="581.6" cy="321.7" r="4.8" fill="#eea9c3" stroke="#d48aa8" stroke-width="0.7"/><circle cx="588.7" cy="326.5" r="4.8" fill="#eea9c3" stroke="#d48aa8" stroke-width="0.7"/><circle cx="594.9" cy="332.1" r="4.8" fill="#eea9c3" stroke="#d48aa8" stroke-width="0.7"/><circle cx="600.1" cy="338.5" r="4.8" fill="#eea9c3" stroke="#d48aa8" stroke-width="0.7"/><circle cx="604.3" cy="345.5" r="4.8" fill="#eea9c3" stroke="#d48aa8" stroke-width="0.7"/><circle cx="607.4" cy="353.0" r="4.8" fill="#eea9c3" stroke="#d48aa8" stroke-width="0.7"/><circle cx="609.3" cy="360.8" r="4.8" fill="#eea9c3" stroke="#d48aa8" stroke-width="0.7"/><circle cx="546.5" cy="335.8" r="4" fill="none" stroke="#efcf8e" stroke-width="0.7"/><circle cx="546.5" cy="335.8" r="0.9" fill="#e2b46a"/><circle cx="586.4" cy="355.6" r="4" fill="none" stroke="#efcf8e" stroke-width="0.7"/><circle cx="586.4" cy="355.6" r="0.9" fill="#e2b46a"/><circle cx="583.0" cy="351.9" r="4" fill="none" stroke="#efcf8e" stroke-width="0.7"/><circle cx="583.0" cy="351.9" r="0.9" fill="#e2b46a"/><circle cx="540.8" cy="370.3" r="4" fill="none" stroke="#efcf8e" stroke-width="0.7"/><circle cx="540.8" cy="370.3" r="0.9" fill="#e2b46a"/><circle cx="522.2" cy="336.1" r="4" fill="none" stroke="#efcf8e" stroke-width="0.7"/><circle cx="522.2" cy="336.1" r="0.9" fill="#e2b46a"/><circle cx="581.1" cy="394.7" r="4" fill="none" stroke="#efcf8e" stroke-width="0.7"/><circle cx="581.1" cy="394.7" r="0.9" fill="#e2b46a"/><circle cx="549.1" cy="397.5" r="4" fill="none" stroke="#efcf8e" stroke-width="0.7"/><circle cx="549.1" cy="397.5" r="0.9" fill="#e2b46a"/><circle cx="518.4" cy="355.0" r="4" fill="none" stroke="#efcf8e" stroke-width="0.7"/><circle cx="518.4" cy="355.0" r="0.9" fill="#e2b46a"/><circle cx="549.5" cy="373.5" r="4" fill="none" stroke="#efcf8e" stroke-width="0.7"/><circle cx="549.5" cy="373.5" r="0.9" fill="#e2b46a"/><circle cx="569.2" cy="357.7" r="4" fill="none" stroke="#efcf8e" stroke-width="0.7"/><circle cx="569.2" cy="357.7" r="0.9" fill="#e2b46a"/><circle cx="569.8" cy="399.7" r="4" fill="none" stroke="#efcf8e" stroke-width="0.7"/><circle cx="569.8" cy="399.7" r="0.9" fill="#e2b46a"/><circle cx="574.5" cy="397.4" r="4" fill="none" stroke="#efcf8e" stroke-width="0.7"/><circle cx="574.5" cy="397.4" r="0.9" fill="#e2b46a"/><circle cx="573.4" cy="392.3" r="4" fill="none" stroke="#efcf8e" stroke-width="0.7"/><circle cx="573.4" cy="392.3" r="0.9" fill="#e2b46a"/><circle cx="549.7" cy="367.5" r="4" fill="none" stroke="#efcf8e" stroke-width="0.7"/><circle cx="549.7" cy="367.5" r="0.9" fill="#e2b46a"/><circle cx="552.9" cy="387.5" r="4" fill="none" stroke="#efcf8e" stroke-width="0.7"/><circle cx="552.9" cy="387.5" r="0.9" fill="#e2b46a"/><circle cx="579.8" cy="339.0" r="4" fill="none" stroke="#efcf8e" stroke-width="0.7"/><circle cx="579.8" cy="339.0" r="0.9" fill="#e2b46a"/><circle cx="572.2" cy="363.4" r="4" fill="none" stroke="#efcf8e" stroke-width="0.7"/><circle cx="572.2" cy="363.4" r="0.9" fill="#e2b46a"/><circle cx="533.8" cy="341.2" r="4" fill="none" stroke="#efcf8e" stroke-width="0.7"/><circle cx="533.8" cy="341.2" r="0.9" fill="#e2b46a"/><circle cx="567.6" cy="361.9" r="4" fill="none" stroke="#efcf8e" stroke-width="0.7"/><circle cx="567.6" cy="361.9" r="0.9" fill="#e2b46a"/><circle cx="585.4" cy="361.5" r="4" fill="none" stroke="#efcf8e" stroke-width="0.7"/><circle cx="585.4" cy="361.5" r="0.9" fill="#e2b46a"/><circle cx="535.4" cy="406.5" r="4" fill="none" stroke="#efcf8e" stroke-width="0.7"/><circle cx="535.4" cy="406.5" r="0.9" fill="#e2b46a"/><circle cx="562.2" cy="390.5" r="4" fill="none" stroke="#efcf8e" stroke-width="0.7"/><circle cx="562.2" cy="390.5" r="0.9" fill="#e2b46a"/><circle cx="564.3" cy="375.2" r="4" fill="none" stroke="#efcf8e" stroke-width="0.7"/><circle cx="564.3" cy="375.2" r="0.9" fill="#e2b46a"/><circle cx="528.5" cy="354.9" r="4" fill="none" stroke="#efcf8e" stroke-width="0.7"/><circle cx="528.5" cy="354.9" r="0.9" fill="#e2b46a"/><circle cx="547.2" cy="366.6" r="4" fill="none" stroke="#efcf8e" stroke-width="0.7"/><circle cx="547.2" cy="366.6" r="0.9" fill="#e2b46a"/><circle cx="538.7" cy="391.4" r="4" fill="none" stroke="#efcf8e" stroke-width="0.7"/><circle cx="538.7" cy="391.4" r="0.9" fill="#e2b46a"/><circle cx="507.5" cy="373.4" r="4" fill="none" stroke="#efcf8e" stroke-width="0.7"/><circle cx="507.5" cy="373.4" r="0.9" fill="#e2b46a"/><circle cx="523.0" cy="371.6" r="4" fill="none" stroke="#efcf8e" stroke-width="0.7"/><circle cx="523.0" cy="371.6" r="0.9" fill="#e2b46a"/><circle cx="584.2" cy="381.1" r="4" fill="none" stroke="#efcf8e" stroke-width="0.7"/><circle cx="584.2" cy="381.1" r="0.9" fill="#e2b46a"/><circle cx="592.9" cy="374.7" r="4" fill="none" stroke="#efcf8e" stroke-width="0.7"/><circle cx="592.9" cy="374.7" r="0.9" fill="#e2b46a"/><circle cx="570.5" cy="338.8" r="4" fill="none" stroke="#efcf8e" stroke-width="0.7"/><circle cx="570.5" cy="338.8" r="0.9" fill="#e2b46a"/><circle cx="549.8" cy="363.3" r="4" fill="none" stroke="#efcf8e" stroke-width="0.7"/><circle cx="549.8" cy="363.3" r="0.9" fill="#e2b46a"/><circle cx="524.1" cy="356.8" r="4" fill="none" stroke="#efcf8e" stroke-width="0.7"/><circle cx="524.1" cy="356.8" r="0.9" fill="#e2b46a"/><circle cx="552.5" cy="370.0" r="4" fill="none" stroke="#efcf8e" stroke-width="0.7"/><circle cx="552.5" cy="370.0" r="0.9" fill="#e2b46a"/><circle cx="567.0" cy="363.9" r="4" fill="none" stroke="#efcf8e" stroke-width="0.7"/><circle cx="567.0" cy="363.9" r="0.9" fill="#e2b46a"/><circle cx="549.1" cy="350.2" r="4" fill="none" stroke="#efcf8e" stroke-width="0.7"/><circle cx="549.1" cy="350.2" r="0.9" fill="#e2b46a"/><circle cx="589.4" cy="354.4" r="4" fill="none" stroke="#efcf8e" stroke-width="0.7"/><circle cx="589.4" cy="354.4" r="0.9" fill="#e2b46a"/><circle cx="532.1" cy="388.2" r="4" fill="none" stroke="#efcf8e" stroke-width="0.7"/><circle cx="532.1" cy="388.2" r="0.9" fill="#e2b46a"/><circle cx="553.7" cy="338.9" r="4" fill="none" stroke="#efcf8e" stroke-width="0.7"/><circle cx="553.7" cy="338.9" r="0.9" fill="#e2b46a"/><circle cx="548.2" cy="355.0" r="4" fill="none" stroke="#efcf8e" stroke-width="0.7"/><circle cx="548.2" cy="355.0" r="0.9" fill="#e2b46a"/><circle cx="574.2" cy="339.9" r="4" fill="none" stroke="#efcf8e" stroke-width="0.7"/><circle cx="574.2" cy="339.9" r="0.9" fill="#e2b46a"/><circle cx="556.6" cy="366.1" r="4" fill="none" stroke="#efcf8e" stroke-width="0.7"/><circle cx="556.6" cy="366.1" r="0.9" fill="#e2b46a"/><circle cx="541.0" cy="379.4" r="4" fill="none" stroke="#efcf8e" stroke-width="0.7"/><circle cx="541.0" cy="379.4" r="0.9" fill="#e2b46a"/><circle cx="579.4" cy="352.7" r="4" fill="none" stroke="#efcf8e" stroke-width="0.7"/><circle cx="579.4" cy="352.7" r="0.9" fill="#e2b46a"/><circle cx="572.0" cy="357.6" r="4" fill="none" stroke="#efcf8e" stroke-width="0.7"/><circle cx="572.0" cy="357.6" r="0.9" fill="#e2b46a"/><circle cx="535.6" cy="397.4" r="4" fill="none" stroke="#efcf8e" stroke-width="0.7"/><circle cx="535.6" cy="397.4" r="0.9" fill="#e2b46a"/><circle cx="559.7" cy="390.0" r="4" fill="none" stroke="#efcf8e" stroke-width="0.7"/><circle cx="559.7" cy="390.0" r="0.9" fill="#e2b46a"/><circle cx="556.0" cy="378.2" r="4" fill="none" stroke="#efcf8e" stroke-width="0.7"/><circle cx="556.0" cy="378.2" r="0.9" fill="#e2b46a"/><circle cx="586.2" cy="368.1" r="4" fill="none" stroke="#efcf8e" stroke-width="0.7"/><circle cx="586.2" cy="368.1" r="0.9" fill="#e2b46a"/><circle cx="565.8" cy="373.9" r="4" fill="none" stroke="#efcf8e" stroke-width="0.7"/><circle cx="565.8" cy="373.9" r="0.9" fill="#e2b46a"/><circle cx="504.2" cy="360.1" r="4" fill="none" stroke="#efcf8e" stroke-width="0.7"/><circle cx="504.2" cy="360.1" r="0.9" fill="#e2b46a"/><circle cx="550.7" cy="395.4" r="4" fill="none" stroke="#efcf8e" stroke-width="0.7"/><circle cx="550.7" cy="395.4" r="0.9" fill="#e2b46a"/><circle cx="564.6" cy="340.2" r="4" fill="none" stroke="#efcf8e" stroke-width="0.7"/><circle cx="564.6" cy="340.2" r="0.9" fill="#e2b46a"/><circle cx="521.3" cy="382.1" r="4" fill="none" stroke="#efcf8e" stroke-width="0.7"/><circle cx="521.3" cy="382.1" r="0.9" fill="#e2b46a"/><circle cx="557.7" cy="363.8" r="4" fill="none" stroke="#efcf8e" stroke-width="0.7"/><circle cx="557.7" cy="363.8" r="0.9" fill="#e2b46a"/><circle cx="540.2" cy="369.1" r="4" fill="none" stroke="#efcf8e" stroke-width="0.7"/><circle cx="540.2" cy="369.1" r="0.9" fill="#e2b46a"/><circle cx="576.8" cy="396.8" r="4" fill="none" stroke="#efcf8e" stroke-width="0.7"/><circle cx="576.8" cy="396.8" r="0.9" fill="#e2b46a"/><circle cx="585.4" cy="357.7" r="4" fill="none" stroke="#efcf8e" stroke-width="0.7"/><circle cx="585.4" cy="357.7" r="0.9" fill="#e2b46a"/><circle cx="556.9" cy="336.5" r="4" fill="none" stroke="#efcf8e" stroke-width="0.7"/><circle cx="556.9" cy="336.5" r="0.9" fill="#e2b46a"/><circle cx="534.8" cy="374.3" r="4" fill="none" stroke="#efcf8e" stroke-width="0.7"/><circle cx="534.8" cy="374.3" r="0.9" fill="#e2b46a"/><circle cx="558.3" cy="355.4" r="4" fill="none" stroke="#efcf8e" stroke-width="0.7"/><circle cx="558.3" cy="355.4" r="0.9" fill="#e2b46a"/><circle cx="524.8" cy="375.4" r="4" fill="none" stroke="#efcf8e" stroke-width="0.7"/><circle cx="524.8" cy="375.4" r="0.9" fill="#e2b46a"/><circle cx="575.7" cy="335.3" r="4" fill="none" stroke="#efcf8e" stroke-width="0.7"/><circle cx="575.7" cy="335.3" r="0.9" fill="#e2b46a"/><circle cx="505.4" cy="380.7" r="4" fill="none" stroke="#efcf8e" stroke-width="0.7"/><circle cx="505.4" cy="380.7" r="0.9" fill="#e2b46a"/><circle cx="544.3" cy="339.8" r="4" fill="none" stroke="#efcf8e" stroke-width="0.7"/><circle cx="544.3" cy="339.8" r="0.9" fill="#e2b46a"/><circle cx="540.4" cy="396.8" r="4" fill="none" stroke="#efcf8e" stroke-width="0.7"/><circle cx="540.4" cy="396.8" r="0.9" fill="#e2b46a"/><circle cx="565.9" cy="390.0" r="4" fill="none" stroke="#efcf8e" stroke-width="0.7"/><circle cx="565.9" cy="390.0" r="0.9" fill="#e2b46a"/><circle cx="576.3" cy="366.9" r="4" fill="none" stroke="#efcf8e" stroke-width="0.7"/><circle cx="576.3" cy="366.9" r="0.9" fill="#e2b46a"/><circle cx="517.3" cy="339.4" r="4" fill="none" stroke="#efcf8e" stroke-width="0.7"/><circle cx="517.3" cy="339.4" r="0.9" fill="#e2b46a"/><circle cx="531.4" cy="393.9" r="4" fill="none" stroke="#efcf8e" stroke-width="0.7"/><circle cx="531.4" cy="393.9" r="0.9" fill="#e2b46a"/>
<ellipse cx="500.0" cy="333.6" rx="6.2" ry="4.4" fill="#a31f26" transform="rotate(-30 500.0 333.6)"/>
<ellipse cx="546.6" cy="323.0" rx="7.9" ry="4.8" fill="#a31f26" transform="rotate(0 546.6 323.0)"/>
<ellipse cx="596.8" cy="346.8" rx="4.8" ry="7.9" fill="#a31f26" transform="rotate(10 596.8 346.8)"/>
<ellipse cx="495.6" cy="377.6" rx="5.3" ry="9.7" fill="#a31f26" transform="rotate(10 495.6 377.6)"/>
<ellipse cx="566.9" cy="367.0" rx="4.4" ry="7.0" fill="#a31f26" transform="rotate(15 566.9 367.0)"/>
<ellipse cx="506.2" cy="404.0" rx="5.3" ry="4.4" fill="#a31f26" transform="rotate(20 506.2 404.0)"/>
<ellipse cx="544.0" cy="410.2" rx="10.6" ry="5.3" fill="#a31f26" transform="rotate(-10 544.0 410.2)"/>
<ellipse cx="601.2" cy="397.8" rx="4.4" ry="5.3" fill="#a31f26" transform="rotate(0 601.2 397.8)"/>
<ellipse cx="517.6" cy="335.4" rx="4.0" ry="7.9" fill="#9fd6a2" transform="rotate(10 517.6 335.4)"/>
<ellipse cx="491.2" cy="358.2" rx="3.5" ry="7.9" fill="#9fd6a2" transform="rotate(10 491.2 358.2)"/>
<ellipse cx="535.2" cy="388.2" rx="3.5" ry="6.2" fill="#9fd6a2" transform="rotate(-20 535.2 388.2)"/>
<ellipse cx="600.3" cy="355.6" rx="3.5" ry="7.0" fill="#9fd6a2" transform="rotate(0 600.3 355.6)"/>
<ellipse cx="574.8" cy="414.6" rx="6.2" ry="4.0" fill="#9fd6a2" transform="rotate(-20 574.8 414.6)"/>
<ellipse cx="497.4" cy="390.8" rx="4.0" ry="6.2" fill="#c8a6e6" transform="rotate(0 497.4 390.8)"/>
<ellipse cx="559.0" cy="417.2" rx="5.3" ry="4.4" fill="#c8a6e6" transform="rotate(0 559.0 417.2)"/>
<ellipse cx="548.4" cy="315.1" rx="6.2" ry="3.1" fill="#c8a6e6" transform="rotate(0 548.4 315.1)"/>
<ellipse cx="606.5" cy="340.6" rx="3.5" ry="5.3" fill="#c8a6e6" transform="rotate(0 606.5 340.6)"/>
<ellipse cx="894.5" cy="377" rx="82" ry="53" fill="#fbd9cb" stroke="#c9c9d6" stroke-width="1.2"/>
<ellipse cx="894.5" cy="358.4" rx="83" ry="54.5" fill="#ebe7f2" stroke="#c4c4d2" stroke-width="1.2"/>
<ellipse cx="894.5" cy="364.6" rx="78.8" ry="46.2" fill="#f8bb9f"/>
<ellipse cx="894.5" cy="368" rx="46" ry="30" fill="none" stroke="#e79f84" stroke-width="1"/>
<ellipse cx="894.5" cy="368" rx="36" ry="24" fill="none" stroke="#eda88c" stroke-width="1"/>
<ellipse cx="894.5" cy="368" rx="14.5" ry="14.5" fill="#eaa3bd" stroke="#c98aa6" stroke-width="1"/>
<ellipse cx="895.5" cy="369" rx="11.0" ry="11.0" fill="#f8dfa6"/>
<circle cx="905.5" cy="368.0" r="1.2" fill="#8b2a35"/>
<circle cx="902.9" cy="375.1" r="1.2" fill="#8b2a35"/>
<circle cx="896.4" cy="378.8" r="1.2" fill="#8b2a35"/>
<circle cx="889.0" cy="377.5" r="1.2" fill="#8b2a35"/>
<circle cx="884.2" cy="371.8" r="1.2" fill="#8b2a35"/>
<circle cx="884.2" cy="364.2" r="1.2" fill="#8b2a35"/>
<circle cx="889.0" cy="358.5" r="1.2" fill="#8b2a35"/>
<circle cx="896.4" cy="357.2" r="1.2" fill="#8b2a35"/>
<circle cx="902.9" cy="360.9" r="1.2" fill="#8b2a35"/>
<path d="M1298.7,254.5 L1303.2,238.5 L1311.1,236.7 L1345.7,300.5 L1348.7,360.8 L1305.8,360.8 L1305.8,304.1 L1300.5,293.5 Z" fill="#e4e4e4" stroke="#8a8a8a" stroke-width="1" stroke-linejoin="round"/><path d="M1305.8,300.0 L1326.0,300.0 L1330.0,360.0 L1305.8,360.0 Z" fill="#cfcfcf" stroke="none" stroke-width="1" stroke-linejoin="round"/><path d="M1167.5,383.9 L1178.2,415.8 L1187.0,428.2 L1187.0,481.4 L1177.3,527.5 L1201.2,532.8 L1328.9,504.4 L1380.3,499.1 L1357.2,394.5 L1346.6,380.3 L1250.0,378.0 L1240.0,366.0 Z" fill="#ececec" stroke="#8a8a8a" stroke-width="1" stroke-linejoin="round"/><path d="M1320.0,382.0 L1357.2,394.5 L1380.3,499.1 L1345.0,504.0 L1330.0,500.0 L1320.0,390.0 Z" fill="#dedede" stroke="#999" stroke-width="1" stroke-linejoin="round"/><rect x="1320" y="382" width="10.5" height="118.0" fill="#bdbdbd" stroke="none" stroke-width="1"/><path d="M1174.6,304.1 L1217.2,301.4 L1247.3,312.0 L1247.3,357.3 L1234.9,367.9 L1220.7,422.9 L1187.0,426.4 L1169.3,389.2 L1174.6,366.1 Z" fill="#efefef" stroke="#8a8a8a" stroke-width="1" stroke-linejoin="round"/><path d="M1217.2,304.1 L1245.0,313.0 L1245.0,355.0 L1226.0,362.0 L1217.2,355.0 Z" fill="#cacaca" stroke="none" stroke-width="1" stroke-linejoin="round"/><path d="M1216.0,378.0 L1247.0,366.0 L1249.0,420.0 L1221.0,423.0 Z" fill="#c2c2c2" stroke="none" stroke-width="1" stroke-linejoin="round"/><rect x="1265" y="380" width="42.6" height="67.0" fill="#9a9a9a" stroke="none" stroke-width="1"/><rect x="1267" y="405" width="36.0" height="29.0" fill="#5e5e5e" stroke="none" stroke-width="1"/><ellipse cx="1286" cy="420" rx="14" ry="6" fill="#3f3f3f" stroke="none" stroke-width="1" transform="rotate(0 1286 420)"/><ellipse cx="1276" cy="388" rx="8" ry="6" fill="#d8d8d8" stroke="none" stroke-width="1" transform="rotate(0 1276 388)"/><rect x="1280" y="450" width="20.0" height="6.0" fill="#606060" stroke="none" stroke-width="1"/><path d="M1238.5,215.5 L1249.0,196.0 L1259.7,188.9 L1295.2,188.9 L1303.2,194.2 L1303.2,252.7 L1238.5,252.7 Z" fill="#e9e9e9" stroke="#8a8a8a" stroke-width="1" stroke-linejoin="round"/><path d="M1276.0,190.0 L1295.2,188.9 L1303.2,194.2 L1303.2,252.7 L1276.0,252.7 Z" fill="#cbcbcb" stroke="none" stroke-width="1" stroke-linejoin="round"/><rect x="1241" y="223.4" width="18.7" height="11.6" fill="#555" stroke="none" stroke-width="1"/><rect x="1243.4" y="243" width="13.6" height="4.4" fill="#777" stroke="none" stroke-width="1"/><ellipse cx="1310.3" cy="217.4" rx="6.5" ry="16.4" fill="#484848" stroke="none" stroke-width="1" transform="rotate(0 1310.3 217.4)"/><path d="M1277.0,252.7 L1298.0,252.7 L1298.0,265.0 L1287.0,272.0 Z" fill="#bdbdbd" stroke="none" stroke-width="1" stroke-linejoin="round"/><rect x="1258.8" y="260.7" width="25.7" height="9.7" fill="#4a4a4a" stroke="none" stroke-width="1"/><rect x="1229.6" y="281" width="84.2" height="14.2" fill="#f5f5f5" stroke="#999" stroke-width="1"/><rect x="1230.5" y="283.7" width="62.9" height="8.0" fill="#474747" stroke="none" stroke-width="1"/><rect x="1260.6" y="295.2" width="27.4" height="24.8" fill="#e2e2e2" stroke="#999" stroke-width="1"/><rect x="1260.6" y="316.5" width="27.4" height="4.5" fill="#3a3a3a" stroke="none" stroke-width="1"/><ellipse cx="1312" cy="275" rx="6.7" ry="6.7" fill="#353535" stroke="none" stroke-width="1" transform="rotate(0 1312 275)"/><path d="M1178.2,307.6 L1194.1,300.5 L1217.2,325.4 L1201.2,344.9 L1180.0,339.5 L1155.1,320.0 Z" fill="#474747" stroke="#333" stroke-width="1" stroke-linejoin="round"/><line x1="1142.7" y1="296.1" x2="1178.2" y2="336" stroke="#3c3c3c" stroke-width="16" stroke-linecap="round"/><line x1="1163.1" y1="296.1" x2="1200" y2="330" stroke="#3c3c3c" stroke-width="17" stroke-linecap="round"/><line x1="1152" y1="306" x2="1160" y2="315" stroke="#f0f0f0" stroke-width="14"/><line x1="1175" y1="308" x2="1183" y2="316" stroke="#f0f0f0" stroke-width="15"/><ellipse cx="1141" cy="294" rx="7.5" ry="8.5" fill="#2b2b2b" stroke="none" stroke-width="1" transform="rotate(-40 1141 294)"/><ellipse cx="1162" cy="294" rx="8" ry="9" fill="#2b2b2b" stroke="none" stroke-width="1" transform="rotate(-40 1162 294)"/><path d="M1249.1,362.6 L1343.0,362.6 L1344.8,373.2 L1263.3,378.6 Z" fill="#3c3c3c" stroke="#222" stroke-width="1" stroke-linejoin="round"/><path d="M1328.0,372.0 L1362.0,376.0 L1361.0,381.0 L1328.0,379.0 Z" fill="#3c3c3c" stroke="#222" stroke-width="1" stroke-linejoin="round"/><ellipse cx="1273.9" cy="354.6" rx="17.7" ry="5.3" fill="#f2d6f2" stroke="#c7a8c7" stroke-width="0.8" transform="rotate(0 1273.9 354.6)"/><ellipse cx="1250" cy="370.6" rx="10.6" ry="13.3" fill="#383838" stroke="#222" stroke-width="1" transform="rotate(0 1250 370.6)"/><rect x="1320" y="382" width="8.0" height="92.3" fill="#383838" stroke="none" stroke-width="1"/><rect x="1320" y="467" width="9.0" height="25.0" fill="#f0f0f0" stroke="#999" stroke-width="0.8"/><path d="M1330.6,394.5 L1367.9,398.0 L1368.0,437.0 L1338.0,441.0 L1330.6,437.0 Z" fill="#3c3c3c" stroke="#333" stroke-width="1" stroke-linejoin="round"/><ellipse cx="1281" cy="484.9" rx="16.8" ry="18.6" fill="#3c3c3c" stroke="none" stroke-width="1" transform="rotate(0 1281 484.9)"/><ellipse cx="1293.4" cy="481.4" rx="9" ry="11.5" fill="#2c2c2c" stroke="none" stroke-width="1" transform="rotate(0 1293.4 481.4)"/><ellipse cx="1199.5" cy="481.4" rx="14" ry="15" fill="none" stroke="#aaa" stroke-width="1" transform="rotate(0 1199.5 481.4)"/><ellipse cx="1299.6" cy="470.7" rx="7" ry="8" fill="none" stroke="#aaa" stroke-width="1" transform="rotate(0 1299.6 470.7)"/><rect x="1187" y="463.6" width="10.7" height="7.1" fill="#555" stroke="none" stroke-width="1"/><rect x="1192.4" y="391" width="10.6" height="8.8" fill="#333" stroke="none" stroke-width="1"/>
<line x1="1291.6" y1="357.3" x2="1591.0" y2="288.0" stroke="#111" stroke-width="4" stroke-dasharray="8 7"/>
<line x1="1304.0" y1="362.6" x2="1582.0" y2="493.0" stroke="#111" stroke-width="4" stroke-dasharray="8 7"/>
<path d="M1566.7,350 L1566.7,460.2 L1640.8,460.2 L1640.8,463 L1746.9,463 L1746.9,460.2 L1820.3,460.2 L1820.3,350 Z" fill="#f4f4fb" stroke="#b8bcd0" stroke-width="1.2"/>
<path d="M1575.6,403.1 L1811.4,403.1 L1811.4,448.3 L1746.9,448.3 L1746.9,463 L1640.8,463 L1640.8,448.3 L1575.6,448.3 Z" fill="#f5d0f5"/>
<line x1="1574.8" y1="362.0" x2="1574.8" y2="449.0" stroke="#b8bcd0" stroke-width="1.2"/>
<line x1="1812.2" y1="362.0" x2="1812.2" y2="449.0" stroke="#b8bcd0" stroke-width="1.2"/>
<rect x="1621.6" y="460.2" width="140.9" height="4" fill="#eef0f8" stroke="#a8acc0" stroke-width="1"/>
<rect x="1624.5" y="464" width="140.2" height="8" fill="#eef0f8" stroke="#a8acc0" stroke-width="1"/>
<ellipse cx="1687.6" cy="449.8" rx="14.8" ry="14.8" fill="#eaa3bd" stroke="#c98aa6" stroke-width="1"/>
<ellipse cx="1688.6" cy="450.8" rx="11.3" ry="11.3" fill="#f8dfa6"/>
<circle cx="1697.6" cy="449.8" r="1.2" fill="#8b2a35"/>
<circle cx="1694.7" cy="456.9" r="1.2" fill="#8b2a35"/>
<circle cx="1687.6" cy="459.8" r="1.2" fill="#8b2a35"/>
<circle cx="1680.5" cy="456.9" r="1.2" fill="#8b2a35"/>
<circle cx="1677.6" cy="449.8" r="1.2" fill="#8b2a35"/>
<circle cx="1680.5" cy="442.7" r="1.2" fill="#8b2a35"/>
<circle cx="1687.6" cy="439.8" r="1.2" fill="#8b2a35"/>
<circle cx="1694.7" cy="442.7" r="1.2" fill="#8b2a35"/>
<path d="M1450,100 C1565,100 1647,175 1647,300 L1647,463" fill="none" stroke="#e8b85e" stroke-width="6.2"/>
<path d="M1450,100 C1565,100 1647,175 1647,300 L1647,463" fill="none" stroke="#f5cd7c" stroke-width="3.8"/>
<path d="M1977,57.6 C1830,62 1726,140 1726,300 L1726,463" fill="none" stroke="#8fc0cc" stroke-width="6.4"/>
<path d="M1977,57.6 C1830,62 1726,140 1726,300 L1726,463" fill="none" stroke="#b0d9e3" stroke-width="4.0"/>
<path d="M1977,91 C1840,95 1734,165 1734,300 L1734,463" fill="none" stroke="#8fc0cc" stroke-width="6.4"/>
<path d="M1977,91 C1840,95 1734,165 1734,300 L1734,463" fill="none" stroke="#b0d9e3" stroke-width="4.0"/>
<path d="M1977,123.4 C1850,126 1742,190 1742,300 L1742,463" fill="none" stroke="#8fc0cc" stroke-width="6.4"/>
<path d="M1977,123.4 C1850,126 1742,190 1742,300 L1742,463" fill="none" stroke="#b0d9e3" stroke-width="4.0"/>
<ellipse cx="1693.5" cy="350.4" rx="126.8" ry="29.7" fill="#fafafa" fill-opacity="0.75" stroke="#b0b0b8" stroke-width="1.3"/>
<path d="M1567,352 C1575,370 1640,381 1693.5,381 C1750,381 1812,370 1820,352" fill="none" stroke="#b8b8c0" stroke-width="1.3"/>
<rect x="1440.2" y="97.5" width="10.0" height="4.4" fill="#f0b4cf" stroke="#b07a95" stroke-width="0.7"/><rect x="1407.2" y="90.8" width="33.0" height="17.8" fill="#f1b5d2" stroke="#8a6a7a" stroke-width="1.0"/><rect x="1401.2" y="90.8" width="6.0" height="17.8" fill="#4a4a4a" stroke="#444" stroke-width="0.8"/><rect x="1357.2" y="90.8" width="44.0" height="17.8" fill="#ececec" stroke="#777" stroke-width="1.0"/><ellipse cx="1353.2" cy="99.7" rx="4.6" ry="15.8" fill="#f2f2f2" stroke="#888" stroke-width="1"/><rect x="1324.2" y="92.7" width="25.0" height="14.0" fill="#eeeeee" stroke="#888" stroke-width="0.9"/><rect x="1308.2" y="94.7" width="16.0" height="10.0" fill="#eeeeee" stroke="#888" stroke-width="0.9"/><ellipse cx="1304.2" cy="99.7" rx="4.4" ry="10.4" fill="#f3f3f3" stroke="#888" stroke-width="1"/>
<rect x="1976.8" y="54.5" width="10.0" height="4.4" fill="#f0b4cf" stroke="#b07a95" stroke-width="0.7"/><rect x="1986.8" y="47.8" width="33.0" height="17.8" fill="#f1b5d2" stroke="#8a6a7a" stroke-width="1.0"/><rect x="2019.8" y="47.8" width="6.0" height="17.8" fill="#4a4a4a" stroke="#444" stroke-width="0.8"/><rect x="2025.8" y="47.8" width="44.0" height="17.8" fill="#ececec" stroke="#777" stroke-width="1.0"/><ellipse cx="2073.8" cy="56.7" rx="4.6" ry="15.8" fill="#f2f2f2" stroke="#888" stroke-width="1"/><rect x="2077.8" y="49.7" width="25.0" height="14.0" fill="#eeeeee" stroke="#888" stroke-width="0.9"/><rect x="2102.8" y="51.7" width="16.0" height="10.0" fill="#eeeeee" stroke="#888" stroke-width="0.9"/><ellipse cx="2122.8" cy="56.7" rx="4.4" ry="10.4" fill="#f3f3f3" stroke="#888" stroke-width="1"/>
<rect x="1976.8" y="88.1" width="10.0" height="4.4" fill="#f0b4cf" stroke="#b07a95" stroke-width="0.7"/><rect x="1986.8" y="81.4" width="33.0" height="17.8" fill="#f1b5d2" stroke="#8a6a7a" stroke-width="1.0"/><rect x="2019.8" y="81.4" width="6.0" height="17.8" fill="#4a4a4a" stroke="#444" stroke-width="0.8"/><rect x="2025.8" y="81.4" width="44.0" height="17.8" fill="#ececec" stroke="#777" stroke-width="1.0"/><ellipse cx="2073.8" cy="90.3" rx="4.6" ry="15.8" fill="#f2f2f2" stroke="#888" stroke-width="1"/><rect x="2077.8" y="83.3" width="25.0" height="14.0" fill="#eeeeee" stroke="#888" stroke-width="0.9"/><rect x="2102.8" y="85.3" width="16.0" height="10.0" fill="#eeeeee" stroke="#888" stroke-width="0.9"/><ellipse cx="2122.8" cy="90.3" rx="4.4" ry="10.4" fill="#f3f3f3" stroke="#888" stroke-width="1"/>
<rect x="1976.8" y="119.8" width="10.0" height="4.4" fill="#f0b4cf" stroke="#b07a95" stroke-width="0.7"/><rect x="1986.8" y="113.1" width="33.0" height="17.8" fill="#f1b5d2" stroke="#8a6a7a" stroke-width="1.0"/><rect x="2019.8" y="113.1" width="6.0" height="17.8" fill="#4a4a4a" stroke="#444" stroke-width="0.8"/><rect x="2025.8" y="113.1" width="44.0" height="17.8" fill="#ececec" stroke="#777" stroke-width="1.0"/><ellipse cx="2073.8" cy="122.0" rx="4.6" ry="15.8" fill="#f2f2f2" stroke="#888" stroke-width="1"/><rect x="2077.8" y="115.0" width="25.0" height="14.0" fill="#eeeeee" stroke="#888" stroke-width="0.9"/><rect x="2102.8" y="117.0" width="16.0" height="10.0" fill="#eeeeee" stroke="#888" stroke-width="0.9"/><ellipse cx="2122.8" cy="122.0" rx="4.4" ry="10.4" fill="#f3f3f3" stroke="#888" stroke-width="1"/>
<text transform="translate(307.0,92.0) scale(1,1.045)" font-size="30.5" fill="#000" stroke="#000" stroke-width="0.45">18.2 mM</text>
<text transform="translate(206.0,167.0) scale(1,1.045)" font-size="30.5" fill="#000" stroke="#000" stroke-width="0.45">3 mM</text>
<text transform="translate(438.0,169.0) scale(1,1.045)" font-size="30.5" fill="#000" stroke="#000" stroke-width="0.45">3 mM</text>
<text transform="translate(532.0,92.0) scale(1,1.045)" font-size="30.5" fill="#000" stroke="#000" stroke-width="0.45">18.2 mM</text>
<text transform="translate(656.0,170.0) scale(1,1.045)" font-size="30.5" fill="#000" stroke="#000" stroke-width="0.45">FM 4-64</text>
<text transform="translate(309.0,276.0) scale(1,1.045)" font-size="30.5" fill="#000" stroke="#000" stroke-width="0.45">Islet isolation</text>
<text transform="translate(663.0,277.0) scale(1,1.045)" font-size="30.5" fill="#000" stroke="#000" stroke-width="0.45">Islet seed</text>
<text transform="translate(994.0,277.0) scale(1,1.045)" font-size="30.5" fill="#000" stroke="#000" stroke-width="0.45">Imaging</text>
<text transform="translate(125.0,568.0) scale(1,1.045)" font-size="30.5" fill="#000" stroke="#000" stroke-width="0.45">Mice</text>
<text transform="translate(316.0,568.0) scale(1,1.045)" font-size="30.5" fill="#000" stroke="#000" stroke-width="0.45">Pancreas</text>
<text transform="translate(561.0,569.0) scale(1,1.045)" font-size="30.5" fill="#000" stroke="#000" stroke-width="0.45">Islet</text>
<text transform="translate(803.0,569.0) scale(1,1.045)" font-size="30.5" fill="#000" stroke="#000" stroke-width="0.45">Glass bottom dish</text>
<text transform="translate(1125.0,568.0) scale(1,1.045)" font-size="30.5" fill="#000" stroke="#000" stroke-width="0.45">Spinning disc confocal microscope</text>
<text transform="translate(1629.0,570.0) scale(1,1.045)" font-size="30.5" fill="#000" stroke="#000" stroke-width="0.45">Perfusion device</text>
<text transform="translate(1298.0,68.0) scale(1,1.045)" font-size="30.5" fill="#000" stroke="#000" stroke-width="0.45">Retraction</text>
<text transform="translate(1983.0,23.0) scale(1,1.045)" font-size="30.5" fill="#000" stroke="#000" stroke-width="0.45">Injection</text>
<rect x="193.0" y="174.0" width="114.0" height="10.0" fill="#9a9a9a"/>
<rect x="307.0" y="105.0" width="113.0" height="10.0" fill="#5cdbe2"/>
<rect x="421.0" y="177.0" width="113.0" height="11.0" fill="#9a9a9a"/>
<rect x="534.0" y="105.0" width="113.0" height="10.0" fill="#f7e06a"/>
<rect x="648.0" y="177.0" width="38.0" height="11.0" fill="#f0541c"/>
<line x1="307.0" y1="108.0" x2="307.0" y2="176.0" stroke="#000" stroke-width="3" stroke-dasharray="3 3"/>
<line x1="420.0" y1="110.0" x2="420.0" y2="179.0" stroke="#000" stroke-width="3" stroke-dasharray="3 3"/>
<line x1="534.0" y1="108.0" x2="534.0" y2="179.0" stroke="#000" stroke-width="3" stroke-dasharray="3 3"/>
<line x1="647.0" y1="110.0" x2="647.0" y2="179.0" stroke="#000" stroke-width="3" stroke-dasharray="3 3"/>
<rect x="298.0" y="364.0" width="159.0" height="6.0" fill="url(#ag298)"/>
<path d="M453,358 L471,367 L453,376 Z" fill="#222" stroke="none" stroke-width="1"/>
<rect x="629.0" y="364.0" width="153.0" height="6.0" fill="url(#ag629)"/>
<path d="M778,358 L796,367 L778,376 Z" fill="#222" stroke="none" stroke-width="1"/>
<rect x="983.0" y="364.0" width="145.0" height="6.0" fill="url(#ag983)"/>
<path d="M1124,358 L1142,367 L1124,376 Z" fill="#222" stroke="none" stroke-width="1"/>
<circle cx="107.7" cy="653.0" r="8.6" fill="#5cdbe2"/>
<text transform="translate(157.0,663.0) scale(1,1.045)" font-size="27" fill="#000" stroke="#000" stroke-width="0.45">Round 1</text>
<circle cx="313.0" cy="653.0" r="8.6" fill="#f7e06a"/>
<text transform="translate(356.0,663.0) scale(1,1.045)" font-size="27" fill="#000" stroke="#000" stroke-width="0.45">Round 2</text>
<rect x="49.0" y="688.0" width="493.0" height="492.0" fill="#000"/>
<rect x="49.0" y="1214.5" width="493.0" height="492.5" fill="#000"/>
<g clip-path="url(#clipM)">
<ellipse cx="292.8" cy="945.3" rx="243.8" ry="211.3" fill="url(#hazeM)"/>
<ellipse cx="85.6" cy="1172.9" rx="16.3" ry="12.2" fill="#f7b97a"/>
<ellipse cx="85.6" cy="1172.9" rx="8.1" ry="6.8" fill="#fff3e6"/>
<path d="M211.5,1159.3 C212.4,1153.8 217.8,1146.7 222.4,1145.8 C226.9,1144.9 233.9,1148.5 238.6,1153.9 C243.4,1159.3 254.4,1174.1 250.8,1178.3 C247.2,1182.4 223.5,1182.0 216.9,1178.8 C210.4,1175.7 210.6,1164.8 211.5,1159.3 Z" fill="#b8601c"/>
<circle cx="225.2" cy="1154.2" r="1.7" fill="#f0a050"/>
<circle cx="242.0" cy="1152.6" r="1.6" fill="#ffc27a"/>
<circle cx="215.5" cy="1162.4" r="0.9" fill="#f0a050"/>
<circle cx="232.9" cy="1151.6" r="1.6" fill="#ffc27a"/>
<circle cx="235.6" cy="1166.7" r="0.9" fill="#8a4412"/>
<circle cx="215.9" cy="1156.3" r="1.6" fill="#ffc27a"/>
<circle cx="224.0" cy="1154.0" r="1.0" fill="#e08838"/>
<circle cx="233.2" cy="1169.6" r="0.9" fill="#ffc27a"/>
<circle cx="226.8" cy="1165.7" r="0.9" fill="#f0a050"/>
<circle cx="235.2" cy="1164.2" r="1.5" fill="#e08838"/>
<circle cx="230.0" cy="1176.6" r="1.3" fill="#ffc27a"/>
<circle cx="241.1" cy="1170.1" r="1.1" fill="#e08838"/>
<circle cx="232.0" cy="1175.2" r="1.8" fill="#e08838"/>
<circle cx="234.9" cy="1152.0" r="1.5" fill="#ffc27a"/>
<circle cx="239.9" cy="1154.3" r="1.5" fill="#f0a050"/>
<circle cx="246.8" cy="1152.1" r="1.6" fill="#e08838"/>
<circle cx="225.8" cy="1160.0" r="1.5" fill="#8a4412"/>
<circle cx="216.6" cy="1152.6" r="1.2" fill="#f0a050"/>
<circle cx="216.3" cy="1170.2" r="1.7" fill="#8a4412"/>
<circle cx="223.9" cy="1161.0" r="1.7" fill="#f0a050"/>
<circle cx="246.1" cy="1160.1" r="1.7" fill="#8a4412"/>
<circle cx="216.2" cy="1172.1" r="1.0" fill="#ffc27a"/>
<circle cx="227.7" cy="1176.4" r="1.5" fill="#ffc27a"/>
<circle cx="229.4" cy="1165.8" r="2.0" fill="#8a4412"/>
<circle cx="243.5" cy="1157.9" r="1.4" fill="#e08838"/>
<circle cx="237.4" cy="1160.9" r="1.1" fill="#f0a050"/>
<circle cx="220.2" cy="1156.6" r="1.1" fill="#8a4412"/>
<circle cx="242.4" cy="1155.1" r="1.2" fill="#ffc27a"/>
<circle cx="228.4" cy="1160.5" r="1.6" fill="#ffc27a"/>
<circle cx="237.6" cy="1164.8" r="1.7" fill="#f0a050"/>
<circle cx="229.7" cy="1175.1" r="2.1" fill="#8a4412"/>
<circle cx="227.7" cy="1161.3" r="1.5" fill="#8a4412"/>
<circle cx="216.3" cy="1151.8" r="1.1" fill="#ffc27a"/>
<circle cx="218.0" cy="1167.3" r="0.9" fill="#ffc27a"/>
<circle cx="232.4" cy="1177.4" r="1.7" fill="#f0a050"/>
<circle cx="243.8" cy="1167.6" r="1.0" fill="#e08838"/>
<circle cx="246.6" cy="1167.3" r="1.5" fill="#f0a050"/>
<circle cx="243.0" cy="1178.6" r="1.5" fill="#8a4412"/>
<circle cx="224.8" cy="1154.0" r="1.8" fill="#e08838"/>
<circle cx="230.4" cy="1169.9" r="1.5" fill="#ffc27a"/>
<g fill="none" stroke="#7a3a0c" stroke-width="3.2" stroke-opacity="0.35" stroke-linejoin="round" stroke-linecap="round"><path d="M368.6,879.0 C369.5,876.0 374.5,867.9 374.1,861.4 C373.6,854.8 368.2,845.1 365.9,839.7 C363.7,834.3 361.4,830.7 360.5,828.9"/><path d="M347.0,820.7 C351.5,819.8 365.9,817.1 374.1,815.3 C382.2,813.5 389.4,811.7 395.7,809.9 C402.0,808.1 409.3,805.4 412.0,804.5"/><path d="M417.4,809.9 C417.8,813.1 417.4,822.1 420.1,828.9 C422.8,835.6 430.9,845.1 433.6,850.5 C436.4,855.9 431.8,859.1 436.4,861.4 C440.9,863.6 454.0,864.1 460.7,864.1 C467.5,864.1 474.3,861.8 477.0,861.4"/><path d="M211.5,807.2 C213.3,805.4 216.9,799.1 222.4,796.4 C227.8,793.6 237.7,794.1 244.0,790.9 C250.4,787.8 256.7,782.4 260.3,777.4 C263.9,772.4 264.8,763.8 265.7,761.1"/><path d="M265.7,761.1 C269.3,759.8 280.1,755.3 287.4,753.0 C294.6,750.8 301.8,747.1 309.0,747.6 C316.3,748.0 323.5,752.6 330.7,755.7 C337.9,758.9 347.0,764.3 352.4,766.6 C357.8,768.8 361.4,768.8 363.2,769.3"/><path d="M284.7,753.0 C285.1,757.5 287.8,772.0 287.4,780.1 C286.9,788.2 283.8,793.6 282.0,801.8 C280.1,809.9 277.9,820.7 276.5,828.9 C275.2,837.0 274.3,846.9 273.8,850.5"/><path d="M103.2,834.3 C105.9,831.6 113.6,821.2 119.4,818.0 C125.3,814.9 132.1,816.2 138.4,815.3 C144.7,814.4 154.2,813.1 157.4,812.6"/><path d="M162.8,883.0 C165.0,879.4 170.9,867.2 176.3,861.4 C181.7,855.5 189.4,852.3 195.3,847.8 C201.1,843.3 208.8,836.5 211.5,834.3"/></g>
<g fill="none" stroke="#c8692a" stroke-width="1.3" stroke-linejoin="round" stroke-linecap="round"><path d="M368.6,879.0 C369.5,876.0 374.5,867.9 374.1,861.4 C373.6,854.8 368.2,845.1 365.9,839.7 C363.7,834.3 361.4,830.7 360.5,828.9"/><path d="M347.0,820.7 C351.5,819.8 365.9,817.1 374.1,815.3 C382.2,813.5 389.4,811.7 395.7,809.9 C402.0,808.1 409.3,805.4 412.0,804.5"/><path d="M417.4,809.9 C417.8,813.1 417.4,822.1 420.1,828.9 C422.8,835.6 430.9,845.1 433.6,850.5 C436.4,855.9 431.8,859.1 436.4,861.4 C440.9,863.6 454.0,864.1 460.7,864.1 C467.5,864.1 474.3,861.8 477.0,861.4"/><path d="M211.5,807.2 C213.3,805.4 216.9,799.1 222.4,796.4 C227.8,793.6 237.7,794.1 244.0,790.9 C250.4,787.8 256.7,782.4 260.3,777.4 C263.9,772.4 264.8,763.8 265.7,761.1"/><path d="M265.7,761.1 C269.3,759.8 280.1,755.3 287.4,753.0 C294.6,750.8 301.8,747.1 309.0,747.6 C316.3,748.0 323.5,752.6 330.7,755.7 C337.9,758.9 347.0,764.3 352.4,766.6 C357.8,768.8 361.4,768.8 363.2,769.3"/><path d="M284.7,753.0 C285.1,757.5 287.8,772.0 287.4,780.1 C286.9,788.2 283.8,793.6 282.0,801.8 C280.1,809.9 277.9,820.7 276.5,828.9 C275.2,837.0 274.3,846.9 273.8,850.5"/><path d="M103.2,834.3 C105.9,831.6 113.6,821.2 119.4,818.0 C125.3,814.9 132.1,816.2 138.4,815.3 C144.7,814.4 154.2,813.1 157.4,812.6"/><path d="M162.8,883.0 C165.0,879.4 170.9,867.2 176.3,861.4 C181.7,855.5 189.4,852.3 195.3,847.8 C201.1,843.3 208.8,836.5 211.5,834.3"/></g>
<g fill="none" stroke="#ffc27a" stroke-width="0.8" stroke-dasharray="3 9 6 14 2 11" stroke-opacity="0.7" stroke-linecap="round"><path d="M368.6,879.0 C369.5,876.0 374.5,867.9 374.1,861.4 C373.6,854.8 368.2,845.1 365.9,839.7 C363.7,834.3 361.4,830.7 360.5,828.9"/><path d="M347.0,820.7 C351.5,819.8 365.9,817.1 374.1,815.3 C382.2,813.5 389.4,811.7 395.7,809.9 C402.0,808.1 409.3,805.4 412.0,804.5"/><path d="M417.4,809.9 C417.8,813.1 417.4,822.1 420.1,828.9 C422.8,835.6 430.9,845.1 433.6,850.5 C436.4,855.9 431.8,859.1 436.4,861.4 C440.9,863.6 454.0,864.1 460.7,864.1 C467.5,864.1 474.3,861.8 477.0,861.4"/><path d="M211.5,807.2 C213.3,805.4 216.9,799.1 222.4,796.4 C227.8,793.6 237.7,794.1 244.0,790.9 C250.4,787.8 256.7,782.4 260.3,777.4 C263.9,772.4 264.8,763.8 265.7,761.1"/><path d="M265.7,761.1 C269.3,759.8 280.1,755.3 287.4,753.0 C294.6,750.8 301.8,747.1 309.0,747.6 C316.3,748.0 323.5,752.6 330.7,755.7 C337.9,758.9 347.0,764.3 352.4,766.6 C357.8,768.8 361.4,768.8 363.2,769.3"/><path d="M284.7,753.0 C285.1,757.5 287.8,772.0 287.4,780.1 C286.9,788.2 283.8,793.6 282.0,801.8 C280.1,809.9 277.9,820.7 276.5,828.9 C275.2,837.0 274.3,846.9 273.8,850.5"/><path d="M103.2,834.3 C105.9,831.6 113.6,821.2 119.4,818.0 C125.3,814.9 132.1,816.2 138.4,815.3 C144.7,814.4 154.2,813.1 157.4,812.6"/><path d="M162.8,883.0 C165.0,879.4 170.9,867.2 176.3,861.4 C181.7,855.5 189.4,852.3 195.3,847.8 C201.1,843.3 208.8,836.5 211.5,834.3"/></g>
<g fill="none" stroke="#9a4a10" stroke-width="4" stroke-opacity="0.38" stroke-linejoin="round" stroke-linecap="round"><path d="M330.7,904.7 C333.6,899.3 340.6,892.7 347.0,888.4 C353.3,884.2 361.4,880.8 368.6,879.0 C375.9,877.2 384.0,876.5 390.3,877.6 C396.6,878.7 402.0,882.6 406.6,885.7 C411.1,888.9 415.4,891.2 417.4,896.6 C419.4,902.0 419.2,912.4 418.7,918.2 C418.3,924.1 418.1,928.0 414.7,931.8 C411.3,935.6 404.3,939.5 398.4,941.3 C392.6,943.1 386.2,943.1 379.5,942.6 C372.7,942.2 365.0,940.1 357.8,938.6 C350.6,937.0 340.9,936.1 336.1,933.1 C331.4,930.2 330.3,925.7 329.4,921.0 C328.5,916.2 327.8,910.1 330.7,904.7 Z"/><path d="M477.0,861.4 C477.9,864.1 481.1,870.4 482.4,877.6 C483.8,884.8 486.5,896.6 485.1,904.7 C483.8,912.8 478.3,920.1 474.3,926.4 C470.2,932.7 465.2,936.8 460.7,942.6 C456.2,948.5 449.4,958.4 447.2,961.6"/><path d="M482.4,864.1 C485.1,867.2 494.1,876.3 498.7,883.0 C503.2,889.8 505.4,897.0 509.5,904.7 C513.6,912.4 519.9,921.9 523.0,929.1 C526.2,936.3 527.6,944.9 528.5,948.0"/><path d="M103.2,918.2 C105.4,915.1 112.2,903.3 116.7,899.3 C121.2,895.2 125.7,895.2 130.3,893.9 C134.8,892.5 138.4,893.0 143.8,891.2 C149.2,889.4 156.4,886.2 162.8,883.0 C169.1,879.9 178.6,874.0 181.7,872.2"/><path d="M138.4,948.0 C137.9,944.0 135.2,930.9 135.7,923.7 C136.1,916.4 139.7,910.1 141.1,904.7 C142.5,899.3 143.4,893.4 143.8,891.2"/><path d="M116.7,958.9 C120.3,957.1 132.5,951.2 138.4,948.0 C144.3,944.9 146.5,941.3 151.9,939.9 C157.4,938.6 165.9,940.4 170.9,939.9 C175.9,939.5 179.9,937.7 181.7,937.2"/><path d="M181.7,937.2 C184.9,935.4 194.8,929.1 200.7,926.4 C206.6,923.7 214.2,921.9 216.9,921.0"/><path d="M103.2,961.6 C100.5,959.3 92.3,953.0 86.9,948.0 C81.5,943.1 75.6,936.8 70.7,931.8 C65.7,926.8 59.4,920.5 57.1,918.2"/><path d="M325.3,948.0 C322.1,947.1 312.7,944.4 306.3,942.6 C300.0,940.8 292.8,938.3 287.4,937.2 C282.0,936.1 276.1,936.1 273.8,935.9"/><path d="M103.2,958.9 C102.5,955.7 99.1,946.7 99.1,939.9 C99.1,933.1 102.5,921.9 103.2,918.2"/><path d="M57.1,935.2 C60.7,936.6 72.5,940.2 78.8,943.3 C85.1,946.5 91.0,951.7 95.0,954.2 C99.1,956.6 101.8,957.6 103.2,958.2"/><path d="M103.2,958.2 C103.6,960.3 105.4,966.6 105.9,970.4 C106.3,974.3 104.1,979.0 105.9,981.3 C107.7,983.5 112.7,982.6 116.7,984.0 C120.8,985.3 125.7,986.2 130.3,989.4 C134.8,992.5 139.3,998.9 143.8,1002.9 C148.3,1007.0 153.7,1011.0 157.4,1013.8 C161.0,1016.5 162.3,1016.5 165.5,1019.2 C168.6,1021.9 174.5,1028.2 176.3,1030.0"/><path d="M103.2,958.2 C105.4,959.6 112.2,965.7 116.7,966.4 C121.2,967.0 126.2,964.3 130.3,962.3 C134.3,960.3 138.4,957.3 141.1,954.2 C143.8,951.0 145.2,946.0 146.5,943.3 C147.9,940.6 148.8,938.8 149.2,937.9"/><path d="M97.8,900.0 C98.0,904.5 98.2,917.4 99.1,927.1 C100.0,936.8 102.5,953.0 103.2,958.2"/><path d="M138.4,900.0 C137.9,904.1 135.2,915.3 135.7,924.4 C136.1,933.4 140.2,949.2 141.1,954.2"/><path d="M238.6,986.7 C240.0,988.5 244.0,993.4 246.7,997.5 C249.4,1001.6 251.7,1007.4 254.9,1011.0 C258.0,1014.7 262.1,1016.0 265.7,1019.2 C269.3,1022.3 273.4,1026.4 276.5,1030.0 C279.7,1033.6 283.3,1039.0 284.7,1040.8"/><path d="M355.1,1032.7 C354.2,1029.1 358.3,1023.2 360.5,1019.2 C362.8,1015.1 365.0,1011.5 368.6,1008.3 C372.2,1005.2 377.7,1002.0 382.2,1000.2 C386.7,998.4 392.1,997.1 395.7,997.5 C399.3,998.0 402.0,999.8 403.9,1002.9 C405.7,1006.1 406.6,1012.4 406.6,1016.5 C406.6,1020.5 405.2,1024.1 403.9,1027.3 C402.5,1030.5 400.7,1033.2 398.4,1035.4 C396.2,1037.7 393.5,1039.5 390.3,1040.8 C387.1,1042.2 383.5,1043.6 379.5,1043.6 C375.4,1043.6 370.0,1042.7 365.9,1040.8 C361.9,1039.0 356.0,1036.3 355.1,1032.7 Z"/><path d="M406.6,1016.5 C407.0,1013.8 408.4,1005.2 409.3,1000.2 C410.2,995.2 410.2,990.7 412.0,986.7 C413.8,982.6 416.5,978.5 420.1,975.8 C423.7,973.1 429.6,972.2 433.6,970.4 C437.7,968.6 442.7,965.9 444.5,965.0"/><path d="M444.5,965.0 C445.8,963.2 450.4,958.7 452.6,954.2 C454.9,949.7 455.3,942.4 458.0,937.9 C460.7,933.4 464.8,930.2 468.9,927.1 C472.9,923.9 480.1,920.3 482.4,919.0"/><path d="M444.5,975.8 C447.2,976.7 455.8,979.0 460.7,981.3 C465.7,983.5 470.2,986.2 474.3,989.4 C478.3,992.5 483.3,995.7 485.1,1000.2 C486.9,1004.7 484.7,1011.5 485.1,1016.5 C485.6,1021.4 486.5,1026.9 487.8,1030.0 C489.2,1033.2 489.6,1035.0 493.2,1035.4 C496.9,1035.9 505.0,1035.4 509.5,1032.7 C514.0,1030.0 517.6,1024.6 520.3,1019.2 C523.0,1013.8 524.4,1006.5 525.7,1000.2 C527.1,993.9 528.5,988.9 528.5,981.3 C528.5,973.6 526.2,962.3 525.7,954.2 C525.3,946.0 525.7,936.1 525.7,932.5"/><path d="M336.1,935.2 C340.2,936.1 352.8,939.3 360.5,940.6 C368.2,942.0 376.3,942.9 382.2,943.3 C388.0,943.8 391.2,944.2 395.7,943.3 C400.2,942.4 404.8,939.3 409.3,937.9 C413.8,936.6 420.6,935.7 422.8,935.2"/><path d="M398.4,943.3 C400.2,945.6 405.7,952.8 409.3,956.9 C412.9,960.9 418.3,965.9 420.1,967.7"/><path d="M417.4,900.0 C417.8,902.7 419.2,910.4 420.1,916.2 C421.0,922.1 422.4,932.0 422.8,935.2"/><path d="M333.4,900.0 C333.0,902.7 332.5,910.4 330.7,916.2 C328.9,922.1 323.9,932.0 322.6,935.2"/></g>
<g fill="none" stroke="#ee8a36" stroke-width="1.6" stroke-linejoin="round" stroke-linecap="round"><path d="M330.7,904.7 C333.6,899.3 340.6,892.7 347.0,888.4 C353.3,884.2 361.4,880.8 368.6,879.0 C375.9,877.2 384.0,876.5 390.3,877.6 C396.6,878.7 402.0,882.6 406.6,885.7 C411.1,888.9 415.4,891.2 417.4,896.6 C419.4,902.0 419.2,912.4 418.7,918.2 C418.3,924.1 418.1,928.0 414.7,931.8 C411.3,935.6 404.3,939.5 398.4,941.3 C392.6,943.1 386.2,943.1 379.5,942.6 C372.7,942.2 365.0,940.1 357.8,938.6 C350.6,937.0 340.9,936.1 336.1,933.1 C331.4,930.2 330.3,925.7 329.4,921.0 C328.5,916.2 327.8,910.1 330.7,904.7 Z"/><path d="M477.0,861.4 C477.9,864.1 481.1,870.4 482.4,877.6 C483.8,884.8 486.5,896.6 485.1,904.7 C483.8,912.8 478.3,920.1 474.3,926.4 C470.2,932.7 465.2,936.8 460.7,942.6 C456.2,948.5 449.4,958.4 447.2,961.6"/><path d="M482.4,864.1 C485.1,867.2 494.1,876.3 498.7,883.0 C503.2,889.8 505.4,897.0 509.5,904.7 C513.6,912.4 519.9,921.9 523.0,929.1 C526.2,936.3 527.6,944.9 528.5,948.0"/><path d="M103.2,918.2 C105.4,915.1 112.2,903.3 116.7,899.3 C121.2,895.2 125.7,895.2 130.3,893.9 C134.8,892.5 138.4,893.0 143.8,891.2 C149.2,889.4 156.4,886.2 162.8,883.0 C169.1,879.9 178.6,874.0 181.7,872.2"/><path d="M138.4,948.0 C137.9,944.0 135.2,930.9 135.7,923.7 C136.1,916.4 139.7,910.1 141.1,904.7 C142.5,899.3 143.4,893.4 143.8,891.2"/><path d="M116.7,958.9 C120.3,957.1 132.5,951.2 138.4,948.0 C144.3,944.9 146.5,941.3 151.9,939.9 C157.4,938.6 165.9,940.4 170.9,939.9 C175.9,939.5 179.9,937.7 181.7,937.2"/><path d="M181.7,937.2 C184.9,935.4 194.8,929.1 200.7,926.4 C206.6,923.7 214.2,921.9 216.9,921.0"/><path d="M103.2,961.6 C100.5,959.3 92.3,953.0 86.9,948.0 C81.5,943.1 75.6,936.8 70.7,931.8 C65.7,926.8 59.4,920.5 57.1,918.2"/><path d="M325.3,948.0 C322.1,947.1 312.7,944.4 306.3,942.6 C300.0,940.8 292.8,938.3 287.4,937.2 C282.0,936.1 276.1,936.1 273.8,935.9"/><path d="M103.2,958.9 C102.5,955.7 99.1,946.7 99.1,939.9 C99.1,933.1 102.5,921.9 103.2,918.2"/><path d="M57.1,935.2 C60.7,936.6 72.5,940.2 78.8,943.3 C85.1,946.5 91.0,951.7 95.0,954.2 C99.1,956.6 101.8,957.6 103.2,958.2"/><path d="M103.2,958.2 C103.6,960.3 105.4,966.6 105.9,970.4 C106.3,974.3 104.1,979.0 105.9,981.3 C107.7,983.5 112.7,982.6 116.7,984.0 C120.8,985.3 125.7,986.2 130.3,989.4 C134.8,992.5 139.3,998.9 143.8,1002.9 C148.3,1007.0 153.7,1011.0 157.4,1013.8 C161.0,1016.5 162.3,1016.5 165.5,1019.2 C168.6,1021.9 174.5,1028.2 176.3,1030.0"/><path d="M103.2,958.2 C105.4,959.6 112.2,965.7 116.7,966.4 C121.2,967.0 126.2,964.3 130.3,962.3 C134.3,960.3 138.4,957.3 141.1,954.2 C143.8,951.0 145.2,946.0 146.5,943.3 C147.9,940.6 148.8,938.8 149.2,937.9"/><path d="M97.8,900.0 C98.0,904.5 98.2,917.4 99.1,927.1 C100.0,936.8 102.5,953.0 103.2,958.2"/><path d="M138.4,900.0 C137.9,904.1 135.2,915.3 135.7,924.4 C136.1,933.4 140.2,949.2 141.1,954.2"/><path d="M238.6,986.7 C240.0,988.5 244.0,993.4 246.7,997.5 C249.4,1001.6 251.7,1007.4 254.9,1011.0 C258.0,1014.7 262.1,1016.0 265.7,1019.2 C269.3,1022.3 273.4,1026.4 276.5,1030.0 C279.7,1033.6 283.3,1039.0 284.7,1040.8"/><path d="M355.1,1032.7 C354.2,1029.1 358.3,1023.2 360.5,1019.2 C362.8,1015.1 365.0,1011.5 368.6,1008.3 C372.2,1005.2 377.7,1002.0 382.2,1000.2 C386.7,998.4 392.1,997.1 395.7,997.5 C399.3,998.0 402.0,999.8 403.9,1002.9 C405.7,1006.1 406.6,1012.4 406.6,1016.5 C406.6,1020.5 405.2,1024.1 403.9,1027.3 C402.5,1030.5 400.7,1033.2 398.4,1035.4 C396.2,1037.7 393.5,1039.5 390.3,1040.8 C387.1,1042.2 383.5,1043.6 379.5,1043.6 C375.4,1043.6 370.0,1042.7 365.9,1040.8 C361.9,1039.0 356.0,1036.3 355.1,1032.7 Z"/><path d="M406.6,1016.5 C407.0,1013.8 408.4,1005.2 409.3,1000.2 C410.2,995.2 410.2,990.7 412.0,986.7 C413.8,982.6 416.5,978.5 420.1,975.8 C423.7,973.1 429.6,972.2 433.6,970.4 C437.7,968.6 442.7,965.9 444.5,965.0"/><path d="M444.5,965.0 C445.8,963.2 450.4,958.7 452.6,954.2 C454.9,949.7 455.3,942.4 458.0,937.9 C460.7,933.4 464.8,930.2 468.9,927.1 C472.9,923.9 480.1,920.3 482.4,919.0"/><path d="M444.5,975.8 C447.2,976.7 455.8,979.0 460.7,981.3 C465.7,983.5 470.2,986.2 474.3,989.4 C478.3,992.5 483.3,995.7 485.1,1000.2 C486.9,1004.7 484.7,1011.5 485.1,1016.5 C485.6,1021.4 486.5,1026.9 487.8,1030.0 C489.2,1033.2 489.6,1035.0 493.2,1035.4 C496.9,1035.9 505.0,1035.4 509.5,1032.7 C514.0,1030.0 517.6,1024.6 520.3,1019.2 C523.0,1013.8 524.4,1006.5 525.7,1000.2 C527.1,993.9 528.5,988.9 528.5,981.3 C528.5,973.6 526.2,962.3 525.7,954.2 C525.3,946.0 525.7,936.1 525.7,932.5"/><path d="M336.1,935.2 C340.2,936.1 352.8,939.3 360.5,940.6 C368.2,942.0 376.3,942.9 382.2,943.3 C388.0,943.8 391.2,944.2 395.7,943.3 C400.2,942.4 404.8,939.3 409.3,937.9 C413.8,936.6 420.6,935.7 422.8,935.2"/><path d="M398.4,943.3 C400.2,945.6 405.7,952.8 409.3,956.9 C412.9,960.9 418.3,965.9 420.1,967.7"/><path d="M417.4,900.0 C417.8,902.7 419.2,910.4 420.1,916.2 C421.0,922.1 422.4,932.0 422.8,935.2"/><path d="M333.4,900.0 C333.0,902.7 332.5,910.4 330.7,916.2 C328.9,922.1 323.9,932.0 322.6,935.2"/></g>
<g fill="none" stroke="#ffc27a" stroke-width="1.0" stroke-dasharray="3 9 6 14 2 11" stroke-opacity="0.7" stroke-linecap="round"><path d="M330.7,904.7 C333.6,899.3 340.6,892.7 347.0,888.4 C353.3,884.2 361.4,880.8 368.6,879.0 C375.9,877.2 384.0,876.5 390.3,877.6 C396.6,878.7 402.0,882.6 406.6,885.7 C411.1,888.9 415.4,891.2 417.4,896.6 C419.4,902.0 419.2,912.4 418.7,918.2 C418.3,924.1 418.1,928.0 414.7,931.8 C411.3,935.6 404.3,939.5 398.4,941.3 C392.6,943.1 386.2,943.1 379.5,942.6 C372.7,942.2 365.0,940.1 357.8,938.6 C350.6,937.0 340.9,936.1 336.1,933.1 C331.4,930.2 330.3,925.7 329.4,921.0 C328.5,916.2 327.8,910.1 330.7,904.7 Z"/><path d="M477.0,861.4 C477.9,864.1 481.1,870.4 482.4,877.6 C483.8,884.8 486.5,896.6 485.1,904.7 C483.8,912.8 478.3,920.1 474.3,926.4 C470.2,932.7 465.2,936.8 460.7,942.6 C456.2,948.5 449.4,958.4 447.2,961.6"/><path d="M482.4,864.1 C485.1,867.2 494.1,876.3 498.7,883.0 C503.2,889.8 505.4,897.0 509.5,904.7 C513.6,912.4 519.9,921.9 523.0,929.1 C526.2,936.3 527.6,944.9 528.5,948.0"/><path d="M103.2,918.2 C105.4,915.1 112.2,903.3 116.7,899.3 C121.2,895.2 125.7,895.2 130.3,893.9 C134.8,892.5 138.4,893.0 143.8,891.2 C149.2,889.4 156.4,886.2 162.8,883.0 C169.1,879.9 178.6,874.0 181.7,872.2"/><path d="M138.4,948.0 C137.9,944.0 135.2,930.9 135.7,923.7 C136.1,916.4 139.7,910.1 141.1,904.7 C142.5,899.3 143.4,893.4 143.8,891.2"/><path d="M116.7,958.9 C120.3,957.1 132.5,951.2 138.4,948.0 C144.3,944.9 146.5,941.3 151.9,939.9 C157.4,938.6 165.9,940.4 170.9,939.9 C175.9,939.5 179.9,937.7 181.7,937.2"/><path d="M181.7,937.2 C184.9,935.4 194.8,929.1 200.7,926.4 C206.6,923.7 214.2,921.9 216.9,921.0"/><path d="M103.2,961.6 C100.5,959.3 92.3,953.0 86.9,948.0 C81.5,943.1 75.6,936.8 70.7,931.8 C65.7,926.8 59.4,920.5 57.1,918.2"/><path d="M325.3,948.0 C322.1,947.1 312.7,944.4 306.3,942.6 C300.0,940.8 292.8,938.3 287.4,937.2 C282.0,936.1 276.1,936.1 273.8,935.9"/><path d="M103.2,958.9 C102.5,955.7 99.1,946.7 99.1,939.9 C99.1,933.1 102.5,921.9 103.2,918.2"/><path d="M57.1,935.2 C60.7,936.6 72.5,940.2 78.8,943.3 C85.1,946.5 91.0,951.7 95.0,954.2 C99.1,956.6 101.8,957.6 103.2,958.2"/><path d="M103.2,958.2 C103.6,960.3 105.4,966.6 105.9,970.4 C106.3,974.3 104.1,979.0 105.9,981.3 C107.7,983.5 112.7,982.6 116.7,984.0 C120.8,985.3 125.7,986.2 130.3,989.4 C134.8,992.5 139.3,998.9 143.8,1002.9 C148.3,1007.0 153.7,1011.0 157.4,1013.8 C161.0,1016.5 162.3,1016.5 165.5,1019.2 C168.6,1021.9 174.5,1028.2 176.3,1030.0"/><path d="M103.2,958.2 C105.4,959.6 112.2,965.7 116.7,966.4 C121.2,967.0 126.2,964.3 130.3,962.3 C134.3,960.3 138.4,957.3 141.1,954.2 C143.8,951.0 145.2,946.0 146.5,943.3 C147.9,940.6 148.8,938.8 149.2,937.9"/><path d="M97.8,900.0 C98.0,904.5 98.2,917.4 99.1,927.1 C100.0,936.8 102.5,953.0 103.2,958.2"/><path d="M138.4,900.0 C137.9,904.1 135.2,915.3 135.7,924.4 C136.1,933.4 140.2,949.2 141.1,954.2"/><path d="M238.6,986.7 C240.0,988.5 244.0,993.4 246.7,997.5 C249.4,1001.6 251.7,1007.4 254.9,1011.0 C258.0,1014.7 262.1,1016.0 265.7,1019.2 C269.3,1022.3 273.4,1026.4 276.5,1030.0 C279.7,1033.6 283.3,1039.0 284.7,1040.8"/><path d="M355.1,1032.7 C354.2,1029.1 358.3,1023.2 360.5,1019.2 C362.8,1015.1 365.0,1011.5 368.6,1008.3 C372.2,1005.2 377.7,1002.0 382.2,1000.2 C386.7,998.4 392.1,997.1 395.7,997.5 C399.3,998.0 402.0,999.8 403.9,1002.9 C405.7,1006.1 406.6,1012.4 406.6,1016.5 C406.6,1020.5 405.2,1024.1 403.9,1027.3 C402.5,1030.5 400.7,1033.2 398.4,1035.4 C396.2,1037.7 393.5,1039.5 390.3,1040.8 C387.1,1042.2 383.5,1043.6 379.5,1043.6 C375.4,1043.6 370.0,1042.7 365.9,1040.8 C361.9,1039.0 356.0,1036.3 355.1,1032.7 Z"/><path d="M406.6,1016.5 C407.0,1013.8 408.4,1005.2 409.3,1000.2 C410.2,995.2 410.2,990.7 412.0,986.7 C413.8,982.6 416.5,978.5 420.1,975.8 C423.7,973.1 429.6,972.2 433.6,970.4 C437.7,968.6 442.7,965.9 444.5,965.0"/><path d="M444.5,965.0 C445.8,963.2 450.4,958.7 452.6,954.2 C454.9,949.7 455.3,942.4 458.0,937.9 C460.7,933.4 464.8,930.2 468.9,927.1 C472.9,923.9 480.1,920.3 482.4,919.0"/><path d="M444.5,975.8 C447.2,976.7 455.8,979.0 460.7,981.3 C465.7,983.5 470.2,986.2 474.3,989.4 C478.3,992.5 483.3,995.7 485.1,1000.2 C486.9,1004.7 484.7,1011.5 485.1,1016.5 C485.6,1021.4 486.5,1026.9 487.8,1030.0 C489.2,1033.2 489.6,1035.0 493.2,1035.4 C496.9,1035.9 505.0,1035.4 509.5,1032.7 C514.0,1030.0 517.6,1024.6 520.3,1019.2 C523.0,1013.8 524.4,1006.5 525.7,1000.2 C527.1,993.9 528.5,988.9 528.5,981.3 C528.5,973.6 526.2,962.3 525.7,954.2 C525.3,946.0 525.7,936.1 525.7,932.5"/><path d="M336.1,935.2 C340.2,936.1 352.8,939.3 360.5,940.6 C368.2,942.0 376.3,942.9 382.2,943.3 C388.0,943.8 391.2,944.2 395.7,943.3 C400.2,942.4 404.8,939.3 409.3,937.9 C413.8,936.6 420.6,935.7 422.8,935.2"/><path d="M398.4,943.3 C400.2,945.6 405.7,952.8 409.3,956.9 C412.9,960.9 418.3,965.9 420.1,967.7"/><path d="M417.4,900.0 C417.8,902.7 419.2,910.4 420.1,916.2 C421.0,922.1 422.4,932.0 422.8,935.2"/><path d="M333.4,900.0 C333.0,902.7 332.5,910.4 330.7,916.2 C328.9,922.1 323.9,932.0 322.6,935.2"/></g>
<g fill="none" stroke="#b65a14" stroke-width="5" stroke-opacity="0.45" stroke-linejoin="round" stroke-linecap="round"><path d="M176.3,1030.0 C177.7,1032.7 182.6,1040.8 184.4,1046.3 C186.2,1051.7 186.2,1057.1 187.1,1062.5 C188.1,1067.9 187.6,1074.7 189.9,1078.8 C192.1,1082.8 196.2,1084.2 200.7,1086.9 C205.2,1089.6 211.5,1093.0 216.9,1095.0 C222.4,1097.1 228.7,1099.1 233.2,1099.1 C237.7,1099.1 240.4,1097.1 244.0,1095.0 C247.6,1093.0 250.8,1089.2 254.9,1086.9 C258.9,1084.6 263.9,1083.7 268.4,1081.5 C272.9,1079.2 278.8,1076.5 282.0,1073.4 C285.1,1070.2 286.9,1066.6 287.4,1062.5 C287.8,1058.5 284.7,1052.6 284.7,1049.0 C284.7,1045.4 284.2,1044.0 287.4,1040.8 C290.5,1037.7 299.1,1033.6 303.6,1030.0 C308.1,1026.4 311.3,1021.9 314.5,1019.2 C317.6,1016.5 319.9,1016.5 322.6,1013.8 C325.3,1011.0 328.9,1007.0 330.7,1002.9 C332.5,998.9 333.4,994.8 333.4,989.4 C333.4,984.0 331.6,976.3 330.7,970.4 C329.8,964.5 328.9,958.7 328.0,954.2 C327.1,949.7 326.2,946.5 325.3,943.3 C324.4,940.2 323.0,936.6 322.6,935.2"/><path d="M184.4,1059.8 C187.1,1058.9 195.3,1057.5 200.7,1054.4 C206.1,1051.2 211.5,1044.9 216.9,1040.8 C222.4,1036.8 228.7,1033.2 233.2,1030.0 C237.7,1026.9 240.4,1024.1 244.0,1021.9 C247.6,1019.6 253.1,1017.4 254.9,1016.5"/><path d="M287.4,1062.5 C290.1,1063.0 298.7,1064.8 303.6,1065.2 C308.6,1065.7 314.5,1063.0 317.2,1065.2 C319.9,1067.5 319.0,1074.7 319.9,1078.8 C320.8,1082.8 319.9,1086.4 322.6,1089.6 C325.3,1092.8 332.1,1095.5 336.1,1097.7 C340.2,1100.0 343.4,1102.7 347.0,1103.1 C350.6,1103.6 354.2,1101.8 357.8,1100.4 C361.4,1099.1 366.8,1095.9 368.6,1095.0"/><path d="M317.2,1065.2 C319.4,1063.0 326.6,1055.7 330.7,1051.7 C334.8,1047.6 337.5,1044.0 341.5,1040.8 C345.6,1037.7 352.8,1034.1 355.1,1032.7"/><path d="M403.9,1027.3 C402.9,1029.6 401.1,1036.3 398.4,1040.8 C395.7,1045.4 390.8,1050.3 387.6,1054.4 C384.4,1058.5 382.2,1062.1 379.5,1065.2 C376.8,1068.4 374.1,1069.3 371.3,1073.4 C368.6,1077.4 365.5,1085.1 363.2,1089.6 C361.0,1094.1 360.5,1096.4 357.8,1100.4 C355.1,1104.5 349.2,1109.0 347.0,1114.0 C344.7,1118.9 344.7,1127.5 344.3,1130.2"/><path d="M254.9,1086.9 C257.6,1086.9 266.2,1085.5 271.1,1086.9 C276.1,1088.2 279.7,1092.8 284.7,1095.0 C289.6,1097.3 296.4,1098.6 300.9,1100.4 C305.4,1102.2 308.6,1106.3 311.8,1105.9 C314.9,1105.4 318.1,1100.4 319.9,1097.7 C321.7,1095.0 322.1,1091.0 322.6,1089.6"/><path d="M311.8,1105.9 C310.4,1107.7 306.8,1114.0 303.6,1116.7 C300.5,1119.4 295.5,1120.3 292.8,1122.1 C290.1,1123.9 288.3,1126.6 287.4,1127.5"/><path d="M409.3,1040.8 C412.4,1043.1 423.3,1050.3 428.2,1054.4 C433.2,1058.5 435.5,1061.6 439.1,1065.2 C442.7,1068.8 448.1,1074.3 449.9,1076.1"/><path d="M189.9,1078.8 C188.1,1080.1 182.6,1084.2 179.0,1086.9 C175.4,1089.6 170.0,1093.7 168.2,1095.0"/><path d="M216.9,1095.0 C216.0,1097.7 213.3,1107.7 211.5,1111.3 C209.7,1114.9 207.0,1115.8 206.1,1116.7"/></g>
<g fill="none" stroke="#ff9c45" stroke-width="2.1" stroke-linejoin="round" stroke-linecap="round"><path d="M176.3,1030.0 C177.7,1032.7 182.6,1040.8 184.4,1046.3 C186.2,1051.7 186.2,1057.1 187.1,1062.5 C188.1,1067.9 187.6,1074.7 189.9,1078.8 C192.1,1082.8 196.2,1084.2 200.7,1086.9 C205.2,1089.6 211.5,1093.0 216.9,1095.0 C222.4,1097.1 228.7,1099.1 233.2,1099.1 C237.7,1099.1 240.4,1097.1 244.0,1095.0 C247.6,1093.0 250.8,1089.2 254.9,1086.9 C258.9,1084.6 263.9,1083.7 268.4,1081.5 C272.9,1079.2 278.8,1076.5 282.0,1073.4 C285.1,1070.2 286.9,1066.6 287.4,1062.5 C287.8,1058.5 284.7,1052.6 284.7,1049.0 C284.7,1045.4 284.2,1044.0 287.4,1040.8 C290.5,1037.7 299.1,1033.6 303.6,1030.0 C308.1,1026.4 311.3,1021.9 314.5,1019.2 C317.6,1016.5 319.9,1016.5 322.6,1013.8 C325.3,1011.0 328.9,1007.0 330.7,1002.9 C332.5,998.9 333.4,994.8 333.4,989.4 C333.4,984.0 331.6,976.3 330.7,970.4 C329.8,964.5 328.9,958.7 328.0,954.2 C327.1,949.7 326.2,946.5 325.3,943.3 C324.4,940.2 323.0,936.6 322.6,935.2"/><path d="M184.4,1059.8 C187.1,1058.9 195.3,1057.5 200.7,1054.4 C206.1,1051.2 211.5,1044.9 216.9,1040.8 C222.4,1036.8 228.7,1033.2 233.2,1030.0 C237.7,1026.9 240.4,1024.1 244.0,1021.9 C247.6,1019.6 253.1,1017.4 254.9,1016.5"/><path d="M287.4,1062.5 C290.1,1063.0 298.7,1064.8 303.6,1065.2 C308.6,1065.7 314.5,1063.0 317.2,1065.2 C319.9,1067.5 319.0,1074.7 319.9,1078.8 C320.8,1082.8 319.9,1086.4 322.6,1089.6 C325.3,1092.8 332.1,1095.5 336.1,1097.7 C340.2,1100.0 343.4,1102.7 347.0,1103.1 C350.6,1103.6 354.2,1101.8 357.8,1100.4 C361.4,1099.1 366.8,1095.9 368.6,1095.0"/><path d="M317.2,1065.2 C319.4,1063.0 326.6,1055.7 330.7,1051.7 C334.8,1047.6 337.5,1044.0 341.5,1040.8 C345.6,1037.7 352.8,1034.1 355.1,1032.7"/><path d="M403.9,1027.3 C402.9,1029.6 401.1,1036.3 398.4,1040.8 C395.7,1045.4 390.8,1050.3 387.6,1054.4 C384.4,1058.5 382.2,1062.1 379.5,1065.2 C376.8,1068.4 374.1,1069.3 371.3,1073.4 C368.6,1077.4 365.5,1085.1 363.2,1089.6 C361.0,1094.1 360.5,1096.4 357.8,1100.4 C355.1,1104.5 349.2,1109.0 347.0,1114.0 C344.7,1118.9 344.7,1127.5 344.3,1130.2"/><path d="M254.9,1086.9 C257.6,1086.9 266.2,1085.5 271.1,1086.9 C276.1,1088.2 279.7,1092.8 284.7,1095.0 C289.6,1097.3 296.4,1098.6 300.9,1100.4 C305.4,1102.2 308.6,1106.3 311.8,1105.9 C314.9,1105.4 318.1,1100.4 319.9,1097.7 C321.7,1095.0 322.1,1091.0 322.6,1089.6"/><path d="M311.8,1105.9 C310.4,1107.7 306.8,1114.0 303.6,1116.7 C300.5,1119.4 295.5,1120.3 292.8,1122.1 C290.1,1123.9 288.3,1126.6 287.4,1127.5"/><path d="M409.3,1040.8 C412.4,1043.1 423.3,1050.3 428.2,1054.4 C433.2,1058.5 435.5,1061.6 439.1,1065.2 C442.7,1068.8 448.1,1074.3 449.9,1076.1"/><path d="M189.9,1078.8 C188.1,1080.1 182.6,1084.2 179.0,1086.9 C175.4,1089.6 170.0,1093.7 168.2,1095.0"/><path d="M216.9,1095.0 C216.0,1097.7 213.3,1107.7 211.5,1111.3 C209.7,1114.9 207.0,1115.8 206.1,1116.7"/></g>
<g fill="none" stroke="#ffc27a" stroke-width="1.3" stroke-dasharray="3 9 6 14 2 11" stroke-opacity="0.7" stroke-linecap="round"><path d="M176.3,1030.0 C177.7,1032.7 182.6,1040.8 184.4,1046.3 C186.2,1051.7 186.2,1057.1 187.1,1062.5 C188.1,1067.9 187.6,1074.7 189.9,1078.8 C192.1,1082.8 196.2,1084.2 200.7,1086.9 C205.2,1089.6 211.5,1093.0 216.9,1095.0 C222.4,1097.1 228.7,1099.1 233.2,1099.1 C237.7,1099.1 240.4,1097.1 244.0,1095.0 C247.6,1093.0 250.8,1089.2 254.9,1086.9 C258.9,1084.6 263.9,1083.7 268.4,1081.5 C272.9,1079.2 278.8,1076.5 282.0,1073.4 C285.1,1070.2 286.9,1066.6 287.4,1062.5 C287.8,1058.5 284.7,1052.6 284.7,1049.0 C284.7,1045.4 284.2,1044.0 287.4,1040.8 C290.5,1037.7 299.1,1033.6 303.6,1030.0 C308.1,1026.4 311.3,1021.9 314.5,1019.2 C317.6,1016.5 319.9,1016.5 322.6,1013.8 C325.3,1011.0 328.9,1007.0 330.7,1002.9 C332.5,998.9 333.4,994.8 333.4,989.4 C333.4,984.0 331.6,976.3 330.7,970.4 C329.8,964.5 328.9,958.7 328.0,954.2 C327.1,949.7 326.2,946.5 325.3,943.3 C324.4,940.2 323.0,936.6 322.6,935.2"/><path d="M184.4,1059.8 C187.1,1058.9 195.3,1057.5 200.7,1054.4 C206.1,1051.2 211.5,1044.9 216.9,1040.8 C222.4,1036.8 228.7,1033.2 233.2,1030.0 C237.7,1026.9 240.4,1024.1 244.0,1021.9 C247.6,1019.6 253.1,1017.4 254.9,1016.5"/><path d="M287.4,1062.5 C290.1,1063.0 298.7,1064.8 303.6,1065.2 C308.6,1065.7 314.5,1063.0 317.2,1065.2 C319.9,1067.5 319.0,1074.7 319.9,1078.8 C320.8,1082.8 319.9,1086.4 322.6,1089.6 C325.3,1092.8 332.1,1095.5 336.1,1097.7 C340.2,1100.0 343.4,1102.7 347.0,1103.1 C350.6,1103.6 354.2,1101.8 357.8,1100.4 C361.4,1099.1 366.8,1095.9 368.6,1095.0"/><path d="M317.2,1065.2 C319.4,1063.0 326.6,1055.7 330.7,1051.7 C334.8,1047.6 337.5,1044.0 341.5,1040.8 C345.6,1037.7 352.8,1034.1 355.1,1032.7"/><path d="M403.9,1027.3 C402.9,1029.6 401.1,1036.3 398.4,1040.8 C395.7,1045.4 390.8,1050.3 387.6,1054.4 C384.4,1058.5 382.2,1062.1 379.5,1065.2 C376.8,1068.4 374.1,1069.3 371.3,1073.4 C368.6,1077.4 365.5,1085.1 363.2,1089.6 C361.0,1094.1 360.5,1096.4 357.8,1100.4 C355.1,1104.5 349.2,1109.0 347.0,1114.0 C344.7,1118.9 344.7,1127.5 344.3,1130.2"/><path d="M254.9,1086.9 C257.6,1086.9 266.2,1085.5 271.1,1086.9 C276.1,1088.2 279.7,1092.8 284.7,1095.0 C289.6,1097.3 296.4,1098.6 300.9,1100.4 C305.4,1102.2 308.6,1106.3 311.8,1105.9 C314.9,1105.4 318.1,1100.4 319.9,1097.7 C321.7,1095.0 322.1,1091.0 322.6,1089.6"/><path d="M311.8,1105.9 C310.4,1107.7 306.8,1114.0 303.6,1116.7 C300.5,1119.4 295.5,1120.3 292.8,1122.1 C290.1,1123.9 288.3,1126.6 287.4,1127.5"/><path d="M409.3,1040.8 C412.4,1043.1 423.3,1050.3 428.2,1054.4 C433.2,1058.5 435.5,1061.6 439.1,1065.2 C442.7,1068.8 448.1,1074.3 449.9,1076.1"/><path d="M189.9,1078.8 C188.1,1080.1 182.6,1084.2 179.0,1086.9 C175.4,1089.6 170.0,1093.7 168.2,1095.0"/><path d="M216.9,1095.0 C216.0,1097.7 213.3,1107.7 211.5,1111.3 C209.7,1114.9 207.0,1115.8 206.1,1116.7"/></g>
<ellipse cx="230.5" cy="1098.4" rx="9" ry="5" fill="#ffb060" opacity="0.8"/>
<circle cx="409.3" cy="1034.7" r="2.6" fill="#ffe2c0"/>
<g fill="#f3e37a"><circle cx="344.7" cy="808.7" r="1.7"/><circle cx="356.6" cy="801.5" r="1.7"/><circle cx="340.0" cy="774.8" r="1.7"/><circle cx="353.0" cy="804.5" r="1.7"/><circle cx="349.0" cy="805.2" r="1.7"/><circle cx="350.7" cy="797.0" r="1.7"/><circle cx="358.3" cy="782.6" r="1.7"/><circle cx="334.0" cy="796.1" r="1.7"/><circle cx="350.2" cy="790.8" r="1.7"/><circle cx="333.5" cy="780.0" r="1.7"/><circle cx="323.9" cy="806.0" r="1.7"/><circle cx="323.6" cy="784.3" r="1.7"/><circle cx="338.5" cy="799.6" r="1.7"/><circle cx="347.1" cy="777.1" r="1.7"/><circle cx="331.2" cy="782.7" r="1.7"/><circle cx="350.7" cy="805.5" r="1.7"/><circle cx="354.4" cy="782.8" r="1.7"/><circle cx="326.9" cy="790.6" r="1.7"/><circle cx="343.7" cy="790.3" r="1.7"/><circle cx="336.2" cy="806.0" r="1.7"/><circle cx="332.3" cy="779.6" r="1.7"/><circle cx="360.7" cy="790.8" r="1.7"/><circle cx="339.6" cy="800.4" r="1.7"/><circle cx="302.3" cy="755.8" r="1.7"/><circle cx="302.0" cy="767.9" r="1.7"/><circle cx="298.3" cy="766.4" r="1.7"/><circle cx="310.6" cy="769.7" r="1.7"/><circle cx="308.7" cy="759.9" r="1.7"/><circle cx="305.4" cy="760.6" r="1.7"/><circle cx="309.4" cy="773.4" r="1.7"/><circle cx="319.9" cy="756.3" r="1.7"/><circle cx="307.4" cy="748.4" r="1.7"/><circle cx="313.7" cy="764.9" r="1.7"/><circle cx="305.1" cy="770.9" r="1.7"/><circle cx="338.5" cy="819.7" r="1.7"/><circle cx="347.6" cy="830.5" r="1.7"/><circle cx="333.7" cy="832.4" r="1.7"/><circle cx="334.2" cy="826.0" r="1.7"/><circle cx="341.3" cy="822.6" r="1.7"/><circle cx="346.5" cy="823.6" r="1.7"/><circle cx="353.7" cy="821.3" r="1.7"/><circle cx="356.9" cy="825.3" r="1.7"/><circle cx="356.2" cy="822.9" r="1.7"/><circle cx="342.0" cy="828.5" r="1.7"/><circle cx="343.3" cy="818.0" r="1.7"/><circle cx="348.3" cy="825.4" r="1.7"/><circle cx="346.7" cy="838.5" r="1.7"/><circle cx="344.7" cy="818.5" r="1.7"/><circle cx="347.0" cy="834.5" r="1.7"/><circle cx="340.7" cy="828.4" r="1.7"/><circle cx="347.3" cy="825.8" r="1.7"/><circle cx="336.4" cy="830.2" r="1.7"/><circle cx="343.0" cy="816.8" r="1.7"/><circle cx="336.1" cy="830.1" r="1.7"/><circle cx="341.9" cy="836.0" r="1.7"/><circle cx="352.7" cy="829.3" r="1.7"/><circle cx="346.6" cy="818.7" r="1.7"/><circle cx="248.0" cy="815.6" r="1.7"/><circle cx="228.5" cy="808.6" r="1.7"/><circle cx="239.6" cy="823.6" r="1.7"/><circle cx="242.8" cy="805.1" r="1.7"/><circle cx="230.8" cy="823.6" r="1.7"/><circle cx="234.6" cy="801.6" r="1.7"/><circle cx="242.1" cy="799.2" r="1.7"/><circle cx="242.4" cy="808.4" r="1.7"/><circle cx="237.1" cy="820.2" r="1.7"/><circle cx="231.8" cy="815.4" r="1.7"/><circle cx="243.8" cy="817.8" r="1.7"/><circle cx="245.5" cy="823.8" r="1.7"/><circle cx="250.6" cy="817.3" r="1.7"/><circle cx="227.8" cy="820.4" r="1.7"/><circle cx="228.4" cy="828.6" r="1.7"/><circle cx="230.1" cy="802.9" r="1.7"/><circle cx="240.4" cy="828.7" r="1.7"/><circle cx="237.3" cy="813.2" r="1.7"/><circle cx="232.6" cy="810.7" r="1.7"/><circle cx="234.5" cy="810.1" r="1.7"/><circle cx="244.0" cy="821.1" r="1.7"/><circle cx="229.9" cy="771.3" r="1.7"/><circle cx="225.8" cy="768.0" r="1.7"/><circle cx="70.4" cy="919.1" r="1.7"/><circle cx="77.1" cy="898.0" r="1.7"/><circle cx="93.9" cy="911.1" r="1.7"/><circle cx="77.4" cy="873.3" r="1.7"/><circle cx="76.6" cy="907.6" r="1.7"/><circle cx="70.0" cy="912.7" r="1.7"/><circle cx="82.6" cy="882.3" r="1.7"/><circle cx="72.3" cy="920.6" r="1.7"/><circle cx="73.0" cy="889.5" r="1.7"/><circle cx="82.0" cy="874.7" r="1.7"/><circle cx="181.6" cy="921.1" r="1.7"/><circle cx="150.1" cy="934.2" r="1.7"/><circle cx="164.7" cy="956.3" r="1.7"/><circle cx="177.6" cy="922.0" r="1.7"/><circle cx="176.5" cy="951.7" r="1.7"/><circle cx="157.3" cy="941.0" r="1.7"/><circle cx="186.9" cy="947.4" r="1.7"/><circle cx="183.9" cy="920.3" r="1.7"/><circle cx="126.1" cy="1065.9" r="1.7"/><circle cx="129.6" cy="1040.9" r="1.7"/><circle cx="152.8" cy="1077.1" r="1.7"/><circle cx="100.5" cy="1022.8" r="1.7"/><circle cx="102.0" cy="1016.0" r="1.7"/><circle cx="113.3" cy="1036.9" r="1.7"/><circle cx="132.4" cy="1058.6" r="1.7"/><circle cx="109.6" cy="1026.3" r="1.7"/><circle cx="108.1" cy="1029.3" r="1.7"/><circle cx="110.8" cy="1037.3" r="1.7"/><circle cx="96.9" cy="1006.2" r="1.7"/><circle cx="103.1" cy="1031.3" r="1.7"/><circle cx="99.5" cy="1001.7" r="1.7"/><circle cx="147.5" cy="1072.0" r="1.7"/><circle cx="138.9" cy="1076.6" r="1.7"/><circle cx="128.5" cy="1034.4" r="1.7"/><circle cx="114.0" cy="1008.2" r="1.7"/><circle cx="115.5" cy="1037.8" r="1.7"/><circle cx="110.5" cy="1019.4" r="1.7"/><circle cx="105.2" cy="1008.4" r="1.7"/><circle cx="113.5" cy="1049.3" r="1.7"/><circle cx="121.6" cy="1022.7" r="1.7"/><circle cx="122.6" cy="1027.1" r="1.7"/><circle cx="119.7" cy="1038.5" r="1.7"/><circle cx="120.6" cy="1026.5" r="1.7"/><circle cx="111.2" cy="1004.9" r="1.7"/><circle cx="108.9" cy="1010.4" r="1.7"/><circle cx="115.2" cy="1033.7" r="1.7"/><circle cx="111.2" cy="1032.7" r="1.7"/><circle cx="127.3" cy="1026.4" r="1.7"/><circle cx="131.4" cy="1049.9" r="1.7"/><circle cx="141.7" cy="1052.8" r="1.7"/><circle cx="109.4" cy="1027.1" r="1.7"/><circle cx="113.9" cy="1021.3" r="1.7"/><circle cx="101.2" cy="1018.8" r="1.7"/><circle cx="130.3" cy="1060.4" r="1.7"/><circle cx="102.4" cy="1004.2" r="1.7"/><circle cx="135.5" cy="1066.9" r="1.7"/><circle cx="130.0" cy="1033.6" r="1.7"/><circle cx="113.2" cy="1044.9" r="1.7"/><circle cx="118.2" cy="1019.5" r="1.7"/><circle cx="148.5" cy="1061.3" r="1.7"/><circle cx="111.1" cy="1040.7" r="1.7"/><circle cx="133.7" cy="1038.6" r="1.7"/><circle cx="95.8" cy="1016.8" r="1.7"/><circle cx="133.5" cy="1039.8" r="1.7"/><circle cx="105.2" cy="1019.1" r="1.7"/><circle cx="117.2" cy="1039.4" r="1.7"/><circle cx="152.5" cy="1074.1" r="1.7"/><circle cx="149.9" cy="1074.4" r="1.7"/><circle cx="115.5" cy="1041.6" r="1.7"/><circle cx="112.9" cy="1022.8" r="1.7"/><circle cx="117.0" cy="1023.0" r="1.7"/><circle cx="94.2" cy="996.8" r="1.7"/><circle cx="94.3" cy="1012.9" r="1.7"/><circle cx="92.7" cy="997.8" r="1.7"/><circle cx="108.9" cy="1008.3" r="1.7"/><circle cx="153.7" cy="1071.7" r="1.7"/><circle cx="111.9" cy="1047.9" r="1.7"/><circle cx="105.6" cy="1028.5" r="1.7"/><circle cx="130.7" cy="1064.8" r="1.7"/><circle cx="108.4" cy="1008.9" r="1.7"/><circle cx="125.9" cy="1023.0" r="1.7"/><circle cx="110.1" cy="1041.3" r="1.7"/><circle cx="124.6" cy="1036.5" r="1.7"/><circle cx="131.4" cy="1068.3" r="1.7"/><circle cx="94.1" cy="1014.1" r="1.7"/><circle cx="137.0" cy="1038.8" r="1.7"/><circle cx="103.8" cy="1015.1" r="1.7"/><circle cx="106.9" cy="1018.1" r="1.7"/><circle cx="111.9" cy="1048.2" r="1.7"/><circle cx="125.0" cy="1053.0" r="1.7"/><circle cx="114.6" cy="1011.9" r="1.7"/><circle cx="111.3" cy="1021.4" r="1.7"/><circle cx="135.2" cy="1060.7" r="1.7"/><circle cx="116.3" cy="1051.3" r="1.7"/><circle cx="119.9" cy="1055.3" r="1.7"/><circle cx="101.1" cy="1030.9" r="1.7"/><circle cx="112.4" cy="1032.5" r="1.7"/><circle cx="102.1" cy="1034.3" r="1.7"/><circle cx="98.0" cy="1024.4" r="1.7"/><circle cx="107.9" cy="1042.6" r="1.7"/><circle cx="105.9" cy="1005.9" r="1.7"/><circle cx="120.7" cy="1035.2" r="1.7"/><circle cx="127.6" cy="1066.0" r="1.7"/><circle cx="103.8" cy="1009.9" r="1.7"/><circle cx="99.1" cy="1013.3" r="1.7"/><circle cx="133.4" cy="1047.7" r="1.7"/><circle cx="115.8" cy="1030.4" r="1.7"/><circle cx="106.6" cy="1019.0" r="1.7"/><circle cx="115.6" cy="1035.2" r="1.7"/><circle cx="123.5" cy="1054.4" r="1.7"/><circle cx="123.1" cy="1024.0" r="1.7"/><circle cx="96.4" cy="1000.3" r="1.7"/><circle cx="128.3" cy="1024.5" r="1.7"/><circle cx="350.6" cy="963.9" r="1.7"/><circle cx="337.4" cy="975.0" r="1.7"/><circle cx="341.0" cy="975.5" r="1.7"/><circle cx="348.9" cy="967.3" r="1.7"/><circle cx="349.5" cy="965.6" r="1.7"/><circle cx="351.4" cy="987.4" r="1.7"/><circle cx="345.3" cy="972.4" r="1.7"/><circle cx="344.8" cy="977.2" r="1.7"/><circle cx="349.3" cy="977.2" r="1.7"/><circle cx="352.6" cy="991.6" r="1.7"/><circle cx="350.3" cy="997.6" r="1.7"/><circle cx="356.9" cy="979.7" r="1.7"/><circle cx="342.1" cy="993.2" r="1.7"/><circle cx="342.7" cy="973.1" r="1.7"/><circle cx="344.1" cy="986.8" r="1.7"/><circle cx="346.4" cy="996.6" r="1.7"/><circle cx="344.5" cy="992.5" r="1.7"/><circle cx="340.3" cy="966.9" r="1.7"/><circle cx="345.1" cy="976.3" r="1.7"/><circle cx="299.8" cy="1067.6" r="1.7"/><circle cx="303.2" cy="1066.0" r="1.7"/><circle cx="291.3" cy="1084.6" r="1.7"/><circle cx="299.4" cy="1062.9" r="1.7"/><circle cx="312.6" cy="1083.8" r="1.7"/><circle cx="306.7" cy="1084.8" r="1.7"/><circle cx="294.9" cy="1067.2" r="1.7"/><circle cx="312.7" cy="1071.0" r="1.7"/><circle cx="298.5" cy="1070.0" r="1.7"/><circle cx="306.8" cy="1075.4" r="1.7"/><circle cx="402.8" cy="1089.9" r="1.7"/><circle cx="391.0" cy="1079.2" r="1.7"/><circle cx="390.5" cy="1075.2" r="1.7"/><circle cx="376.5" cy="1098.9" r="1.7"/><circle cx="412.6" cy="1078.7" r="1.7"/><circle cx="388.0" cy="1108.4" r="1.7"/><circle cx="405.9" cy="1083.4" r="1.7"/><circle cx="390.4" cy="1094.8" r="1.7"/><circle cx="403.2" cy="1103.1" r="1.7"/><circle cx="385.3" cy="1071.5" r="1.7"/><circle cx="399.6" cy="1071.6" r="1.7"/><circle cx="364.3" cy="1093.5" r="1.7"/><circle cx="389.8" cy="1100.7" r="1.7"/><circle cx="365.3" cy="1073.3" r="1.7"/><circle cx="379.8" cy="1093.7" r="1.7"/><circle cx="404.4" cy="1087.0" r="1.7"/><circle cx="382.3" cy="1078.8" r="1.7"/><circle cx="385.8" cy="1099.2" r="1.7"/><circle cx="387.9" cy="1082.2" r="1.7"/><circle cx="402.8" cy="1097.5" r="1.7"/><circle cx="382.5" cy="1085.8" r="1.7"/><circle cx="390.8" cy="1089.1" r="1.7"/><circle cx="386.6" cy="1081.8" r="1.7"/><circle cx="380.6" cy="1103.8" r="1.7"/><circle cx="367.5" cy="1098.5" r="1.7"/><circle cx="402.0" cy="1105.6" r="1.7"/><circle cx="368.1" cy="1078.4" r="1.7"/><circle cx="367.5" cy="1096.0" r="1.7"/><circle cx="370.4" cy="1094.3" r="1.7"/><circle cx="378.2" cy="1083.7" r="1.7"/><circle cx="389.9" cy="1105.3" r="1.7"/><circle cx="409.1" cy="1100.8" r="1.7"/><circle cx="381.8" cy="1103.0" r="1.7"/><circle cx="390.1" cy="1103.7" r="1.7"/><circle cx="367.5" cy="1071.8" r="1.7"/><circle cx="395.4" cy="1077.3" r="1.7"/><circle cx="365.1" cy="1073.4" r="1.7"/><circle cx="374.8" cy="1066.2" r="1.7"/><circle cx="376.0" cy="1102.0" r="1.7"/><circle cx="401.1" cy="1072.7" r="1.7"/><circle cx="394.4" cy="1106.5" r="1.7"/><circle cx="410.5" cy="1075.2" r="1.7"/><circle cx="384.3" cy="1097.7" r="1.7"/><circle cx="397.6" cy="1107.4" r="1.7"/><circle cx="373.0" cy="1075.9" r="1.7"/><circle cx="366.5" cy="1097.5" r="1.7"/><circle cx="386.6" cy="1107.8" r="1.7"/><circle cx="406.2" cy="1070.8" r="1.7"/><circle cx="383.5" cy="1087.2" r="1.7"/><circle cx="381.9" cy="1089.6" r="1.7"/><circle cx="391.9" cy="1090.7" r="1.7"/><circle cx="392.2" cy="1071.5" r="1.7"/><circle cx="376.0" cy="1083.7" r="1.7"/><circle cx="380.6" cy="1109.3" r="1.7"/><circle cx="477.8" cy="1010.1" r="1.7"/><circle cx="487.9" cy="999.1" r="1.7"/><circle cx="501.8" cy="1017.9" r="1.7"/><circle cx="510.0" cy="1018.3" r="1.7"/><circle cx="516.9" cy="986.2" r="1.7"/><circle cx="493.2" cy="1030.6" r="1.7"/><circle cx="503.6" cy="990.2" r="1.7"/><circle cx="499.7" cy="1008.3" r="1.7"/><circle cx="484.6" cy="1014.9" r="1.7"/><circle cx="502.7" cy="985.2" r="1.7"/><circle cx="485.5" cy="979.9" r="1.7"/><circle cx="506.9" cy="997.9" r="1.7"/><circle cx="493.9" cy="976.7" r="1.7"/><circle cx="483.8" cy="1021.6" r="1.7"/><circle cx="483.1" cy="997.5" r="1.7"/><circle cx="485.6" cy="961.0" r="1.7"/><circle cx="487.0" cy="1000.6" r="1.7"/><circle cx="497.0" cy="1000.1" r="1.7"/><circle cx="492.5" cy="1004.5" r="1.7"/><circle cx="488.9" cy="964.1" r="1.7"/><circle cx="508.8" cy="1012.8" r="1.7"/><circle cx="483.7" cy="970.7" r="1.7"/><circle cx="500.4" cy="1020.7" r="1.7"/><circle cx="504.4" cy="967.1" r="1.7"/><circle cx="513.5" cy="982.3" r="1.7"/><circle cx="500.2" cy="990.3" r="1.7"/><circle cx="489.8" cy="997.0" r="1.7"/><circle cx="491.8" cy="969.8" r="1.7"/><circle cx="501.7" cy="1011.8" r="1.7"/><circle cx="504.8" cy="1021.9" r="1.7"/><circle cx="514.2" cy="993.1" r="1.7"/><circle cx="491.0" cy="884.1" r="1.7"/><circle cx="509.5" cy="888.4" r="1.7"/><circle cx="498.2" cy="921.7" r="1.7"/><circle cx="498.7" cy="907.6" r="1.7"/><circle cx="484.9" cy="890.0" r="1.7"/><circle cx="504.3" cy="876.9" r="1.7"/><circle cx="488.5" cy="916.1" r="1.7"/><circle cx="499.6" cy="912.3" r="1.7"/><circle cx="500.3" cy="870.6" r="1.7"/><circle cx="497.9" cy="923.5" r="1.7"/><circle cx="500.5" cy="904.9" r="1.7"/><circle cx="500.6" cy="894.7" r="1.7"/><circle cx="506.7" cy="916.1" r="1.7"/><circle cx="488.7" cy="895.8" r="1.7"/><circle cx="483.7" cy="892.3" r="1.7"/><circle cx="492.7" cy="904.1" r="1.7"/><circle cx="507.4" cy="904.5" r="1.7"/><circle cx="483.2" cy="890.2" r="1.7"/><circle cx="489.8" cy="907.5" r="1.7"/><circle cx="504.9" cy="881.9" r="1.7"/><circle cx="486.6" cy="919.5" r="1.7"/><circle cx="502.5" cy="870.9" r="1.7"/><circle cx="382.0" cy="1018.0" r="1.7"/><circle cx="378.0" cy="1020.1" r="1.7"/><circle cx="206.1" cy="1098.1" r="1.7"/><circle cx="213.4" cy="1097.5" r="1.7"/><circle cx="288.2" cy="1083.6" r="1.7"/><circle cx="425.5" cy="949.8" r="1.7"/><circle cx="166.9" cy="844.8" r="1.7"/><circle cx="358.0" cy="1022.1" r="1.7"/><circle cx="177.3" cy="981.8" r="1.7"/><circle cx="354.6" cy="894.9" r="1.7"/><circle cx="169.8" cy="946.9" r="1.7"/><circle cx="443.9" cy="1001.6" r="1.7"/><circle cx="324.7" cy="1047.9" r="1.7"/><circle cx="252.4" cy="865.6" r="1.7"/><circle cx="273.4" cy="889.4" r="1.7"/><circle cx="462.2" cy="975.5" r="1.7"/><circle cx="423.6" cy="1024.4" r="1.7"/><circle cx="299.3" cy="984.9" r="1.7"/><circle cx="313.7" cy="781.3" r="1.7"/><circle cx="381.3" cy="805.8" r="1.7"/><circle cx="395.9" cy="879.6" r="1.7"/><circle cx="248.0" cy="866.3" r="1.7"/><circle cx="233.9" cy="1052.4" r="1.7"/><circle cx="297.9" cy="766.9" r="1.7"/><circle cx="306.1" cy="782.3" r="1.7"/><circle cx="274.3" cy="1093.1" r="1.7"/><circle cx="137.1" cy="869.2" r="1.7"/><circle cx="211.2" cy="919.7" r="1.7"/><circle cx="311.5" cy="772.4" r="1.7"/><circle cx="199.2" cy="932.4" r="1.7"/><circle cx="252.7" cy="931.1" r="1.7"/><circle cx="118.9" cy="835.3" r="1.7"/><circle cx="150.3" cy="844.7" r="1.7"/><circle cx="126.2" cy="830.8" r="1.7"/><circle cx="131.2" cy="824.7" r="1.7"/><circle cx="131.1" cy="848.2" r="1.7"/><circle cx="437.5" cy="831.3" r="1.7"/><circle cx="447.3" cy="830.8" r="1.7"/><circle cx="446.6" cy="844.6" r="1.7"/><circle cx="438.8" cy="835.3" r="1.7"/><circle cx="447.7" cy="825.3" r="1.7"/><circle cx="443.1" cy="833.8" r="1.7"/><circle cx="352.8" cy="1004.3" r="1.7"/><circle cx="357.4" cy="1001.6" r="1.7"/><circle cx="354.4" cy="1007.7" r="1.7"/><circle cx="338.6" cy="1014.7" r="1.7"/><circle cx="336.0" cy="1002.4" r="1.7"/><circle cx="335.4" cy="1008.0" r="1.7"/><circle cx="443.1" cy="1039.6" r="1.7"/><circle cx="444.8" cy="1047.8" r="1.7"/><circle cx="451.8" cy="1053.6" r="1.7"/><circle cx="454.5" cy="1039.8" r="1.7"/><circle cx="440.3" cy="1036.2" r="1.7"/></g>
<g fill="#6cd6e6"><circle cx="338.3" cy="787.3" r="1.7"/><circle cx="322.1" cy="793.6" r="1.7"/><circle cx="352.1" cy="795.2" r="1.7"/><circle cx="342.7" cy="804.7" r="1.7"/><circle cx="358.2" cy="798.4" r="1.7"/><circle cx="348.4" cy="791.9" r="1.7"/><circle cx="332.7" cy="807.6" r="1.7"/><circle cx="343.5" cy="785.3" r="1.7"/><circle cx="325.0" cy="786.4" r="1.7"/><circle cx="332.4" cy="804.7" r="1.7"/><circle cx="355.0" cy="794.6" r="1.7"/><circle cx="344.5" cy="796.8" r="1.7"/><circle cx="320.0" cy="795.5" r="1.7"/><circle cx="341.4" cy="779.9" r="1.7"/><circle cx="325.7" cy="789.5" r="1.7"/><circle cx="346.0" cy="802.6" r="1.7"/><circle cx="329.6" cy="811.1" r="1.7"/><circle cx="351.1" cy="801.8" r="1.7"/><circle cx="344.9" cy="776.9" r="1.7"/><circle cx="330.8" cy="805.0" r="1.7"/><circle cx="352.2" cy="811.2" r="1.7"/><circle cx="344.5" cy="777.0" r="1.7"/><circle cx="360.3" cy="801.0" r="1.7"/><circle cx="331.3" cy="800.3" r="1.7"/><circle cx="341.0" cy="774.9" r="1.7"/><circle cx="352.1" cy="792.4" r="1.7"/><circle cx="359.8" cy="798.1" r="1.7"/><circle cx="326.5" cy="802.1" r="1.7"/><circle cx="334.4" cy="812.5" r="1.7"/><circle cx="342.9" cy="784.4" r="1.7"/><circle cx="358.7" cy="790.2" r="1.7"/><circle cx="340.8" cy="810.5" r="1.7"/><circle cx="359.1" cy="783.9" r="1.7"/><circle cx="347.1" cy="798.5" r="1.7"/><circle cx="353.8" cy="806.7" r="1.7"/><circle cx="329.2" cy="795.4" r="1.7"/><circle cx="345.1" cy="802.6" r="1.7"/><circle cx="324.2" cy="789.7" r="1.7"/><circle cx="360.8" cy="795.9" r="1.7"/><circle cx="342.0" cy="789.9" r="1.7"/><circle cx="341.2" cy="812.1" r="1.7"/><circle cx="353.3" cy="798.0" r="1.7"/><circle cx="351.3" cy="788.4" r="1.7"/><circle cx="336.1" cy="791.2" r="1.7"/><circle cx="359.7" cy="791.4" r="1.7"/><circle cx="323.7" cy="792.3" r="1.7"/><circle cx="347.9" cy="798.1" r="1.7"/><circle cx="342.8" cy="776.7" r="1.7"/><circle cx="358.5" cy="797.0" r="1.7"/><circle cx="327.2" cy="793.5" r="1.7"/><circle cx="343.7" cy="807.7" r="1.7"/><circle cx="341.8" cy="808.4" r="1.7"/><circle cx="338.3" cy="776.9" r="1.7"/><circle cx="333.6" cy="801.5" r="1.7"/><circle cx="358.3" cy="791.3" r="1.7"/><circle cx="326.6" cy="795.7" r="1.7"/><circle cx="345.3" cy="776.2" r="1.7"/><circle cx="334.1" cy="779.5" r="1.7"/><circle cx="325.9" cy="807.8" r="1.7"/><circle cx="340.9" cy="796.5" r="1.7"/><circle cx="349.8" cy="805.1" r="1.7"/><circle cx="323.4" cy="799.1" r="1.7"/><circle cx="303.5" cy="748.5" r="1.7"/><circle cx="314.9" cy="760.2" r="1.7"/><circle cx="311.9" cy="756.3" r="1.7"/><circle cx="311.5" cy="774.2" r="1.7"/><circle cx="311.3" cy="769.5" r="1.7"/><circle cx="320.1" cy="764.0" r="1.7"/><circle cx="315.0" cy="762.8" r="1.7"/><circle cx="306.0" cy="766.8" r="1.7"/><circle cx="298.0" cy="772.8" r="1.7"/><circle cx="313.5" cy="750.6" r="1.7"/><circle cx="309.0" cy="765.5" r="1.7"/><circle cx="306.0" cy="761.5" r="1.7"/><circle cx="299.2" cy="754.5" r="1.7"/><circle cx="300.7" cy="773.8" r="1.7"/><circle cx="320.4" cy="768.6" r="1.7"/><circle cx="303.0" cy="752.9" r="1.7"/><circle cx="314.9" cy="765.3" r="1.7"/><circle cx="330.3" cy="825.9" r="1.7"/><circle cx="346.0" cy="838.3" r="1.7"/><circle cx="336.8" cy="817.0" r="1.7"/><circle cx="333.8" cy="836.2" r="1.7"/><circle cx="334.2" cy="835.9" r="1.7"/><circle cx="341.7" cy="825.8" r="1.7"/><circle cx="328.9" cy="826.5" r="1.7"/><circle cx="251.3" cy="814.6" r="1.7"/><circle cx="225.3" cy="817.2" r="1.7"/><circle cx="229.5" cy="826.9" r="1.7"/><circle cx="241.4" cy="809.0" r="1.7"/><circle cx="235.1" cy="830.3" r="1.7"/><circle cx="235.9" cy="807.2" r="1.7"/><circle cx="230.5" cy="826.6" r="1.7"/><circle cx="230.7" cy="826.6" r="1.7"/><circle cx="234.2" cy="815.7" r="1.7"/><circle cx="232.4" cy="830.3" r="1.7"/><circle cx="245.2" cy="817.9" r="1.7"/><circle cx="230.9" cy="764.6" r="1.7"/><circle cx="231.9" cy="772.4" r="1.7"/><circle cx="232.4" cy="772.5" r="1.7"/><circle cx="231.6" cy="770.2" r="1.7"/><circle cx="67.6" cy="885.9" r="1.7"/><circle cx="79.3" cy="904.3" r="1.7"/><circle cx="77.9" cy="908.2" r="1.7"/><circle cx="67.8" cy="906.1" r="1.7"/><circle cx="86.7" cy="884.9" r="1.7"/><circle cx="70.8" cy="880.9" r="1.7"/><circle cx="72.2" cy="913.9" r="1.7"/><circle cx="76.3" cy="916.8" r="1.7"/><circle cx="86.2" cy="891.6" r="1.7"/><circle cx="87.3" cy="900.5" r="1.7"/><circle cx="75.6" cy="886.9" r="1.7"/><circle cx="66.4" cy="893.6" r="1.7"/><circle cx="66.7" cy="900.9" r="1.7"/><circle cx="88.9" cy="875.8" r="1.7"/><circle cx="91.7" cy="878.7" r="1.7"/><circle cx="72.5" cy="923.0" r="1.7"/><circle cx="88.1" cy="922.3" r="1.7"/><circle cx="78.3" cy="920.2" r="1.7"/><circle cx="153.5" cy="922.5" r="1.7"/><circle cx="187.7" cy="933.0" r="1.7"/><circle cx="152.3" cy="943.7" r="1.7"/><circle cx="176.3" cy="944.9" r="1.7"/><circle cx="176.2" cy="936.1" r="1.7"/><circle cx="169.4" cy="920.4" r="1.7"/><circle cx="181.4" cy="947.7" r="1.7"/><circle cx="157.1" cy="940.0" r="1.7"/><circle cx="157.4" cy="945.2" r="1.7"/><circle cx="163.9" cy="942.2" r="1.7"/><circle cx="187.8" cy="933.1" r="1.7"/><circle cx="161.6" cy="952.7" r="1.7"/><circle cx="181.4" cy="951.7" r="1.7"/><circle cx="155.6" cy="953.7" r="1.7"/><circle cx="167.5" cy="937.0" r="1.7"/><circle cx="171.1" cy="949.0" r="1.7"/><circle cx="177.2" cy="954.1" r="1.7"/><circle cx="174.3" cy="932.7" r="1.7"/><circle cx="170.5" cy="947.2" r="1.7"/><circle cx="180.0" cy="919.7" r="1.7"/><circle cx="168.9" cy="955.5" r="1.7"/><circle cx="148.0" cy="941.2" r="1.7"/><circle cx="175.6" cy="954.7" r="1.7"/><circle cx="166.8" cy="929.3" r="1.7"/><circle cx="118.2" cy="1037.5" r="1.7"/><circle cx="113.1" cy="1010.8" r="1.7"/><circle cx="113.2" cy="1024.1" r="1.7"/><circle cx="121.3" cy="1044.6" r="1.7"/><circle cx="147.5" cy="1066.0" r="1.7"/><circle cx="113.4" cy="1045.3" r="1.7"/><circle cx="103.5" cy="1018.8" r="1.7"/><circle cx="148.3" cy="1070.4" r="1.7"/><circle cx="129.7" cy="1037.4" r="1.7"/><circle cx="139.4" cy="1068.0" r="1.7"/><circle cx="120.3" cy="1022.8" r="1.7"/><circle cx="123.3" cy="1057.3" r="1.7"/><circle cx="105.5" cy="1031.7" r="1.7"/><circle cx="116.6" cy="1017.8" r="1.7"/><circle cx="125.8" cy="1021.6" r="1.7"/><circle cx="152.5" cy="1067.9" r="1.7"/><circle cx="134.1" cy="1031.2" r="1.7"/><circle cx="114.1" cy="1039.5" r="1.7"/><circle cx="125.6" cy="1033.2" r="1.7"/><circle cx="146.1" cy="1064.4" r="1.7"/><circle cx="116.2" cy="1026.3" r="1.7"/><circle cx="117.5" cy="1017.4" r="1.7"/><circle cx="132.8" cy="1056.5" r="1.7"/><circle cx="149.6" cy="1074.9" r="1.7"/><circle cx="138.3" cy="1055.3" r="1.7"/><circle cx="132.9" cy="1043.4" r="1.7"/><circle cx="103.8" cy="1031.7" r="1.7"/><circle cx="90.6" cy="1005.2" r="1.7"/><circle cx="104.5" cy="1038.1" r="1.7"/><circle cx="99.0" cy="1019.9" r="1.7"/><circle cx="354.4" cy="979.0" r="1.7"/><circle cx="346.1" cy="978.3" r="1.7"/><circle cx="346.1" cy="972.9" r="1.7"/><circle cx="354.5" cy="987.5" r="1.7"/><circle cx="349.5" cy="962.2" r="1.7"/><circle cx="354.0" cy="979.0" r="1.7"/><circle cx="305.6" cy="1072.2" r="1.7"/><circle cx="295.7" cy="1073.7" r="1.7"/><circle cx="293.1" cy="1085.3" r="1.7"/><circle cx="298.9" cy="1078.9" r="1.7"/><circle cx="289.4" cy="1078.8" r="1.7"/><circle cx="291.4" cy="1071.8" r="1.7"/><circle cx="291.1" cy="1085.6" r="1.7"/><circle cx="295.7" cy="1080.5" r="1.7"/><circle cx="316.9" cy="1080.8" r="1.7"/><circle cx="288.8" cy="1076.7" r="1.7"/><circle cx="313.6" cy="1079.0" r="1.7"/><circle cx="303.5" cy="1066.5" r="1.7"/><circle cx="295.8" cy="1068.2" r="1.7"/><circle cx="317.9" cy="1074.5" r="1.7"/><circle cx="286.1" cy="1079.9" r="1.7"/><circle cx="297.3" cy="1086.9" r="1.7"/><circle cx="406.6" cy="1077.8" r="1.7"/><circle cx="405.7" cy="1103.9" r="1.7"/><circle cx="362.6" cy="1087.7" r="1.7"/><circle cx="407.4" cy="1083.9" r="1.7"/><circle cx="398.3" cy="1078.9" r="1.7"/><circle cx="383.7" cy="1066.6" r="1.7"/><circle cx="365.5" cy="1090.4" r="1.7"/><circle cx="390.2" cy="1099.0" r="1.7"/><circle cx="405.1" cy="1096.3" r="1.7"/><circle cx="390.5" cy="1100.5" r="1.7"/><circle cx="403.4" cy="1080.7" r="1.7"/><circle cx="362.4" cy="1093.9" r="1.7"/><circle cx="406.2" cy="1082.2" r="1.7"/><circle cx="392.0" cy="1065.4" r="1.7"/><circle cx="400.1" cy="1101.4" r="1.7"/><circle cx="388.3" cy="1084.4" r="1.7"/><circle cx="383.6" cy="1092.3" r="1.7"/><circle cx="391.6" cy="1073.3" r="1.7"/><circle cx="406.6" cy="1077.6" r="1.7"/><circle cx="391.1" cy="1079.8" r="1.7"/><circle cx="378.8" cy="1098.1" r="1.7"/><circle cx="411.2" cy="1092.9" r="1.7"/><circle cx="387.5" cy="1092.7" r="1.7"/><circle cx="373.5" cy="1102.2" r="1.7"/><circle cx="405.9" cy="1074.3" r="1.7"/><circle cx="365.0" cy="1092.5" r="1.7"/><circle cx="403.9" cy="1096.8" r="1.7"/><circle cx="393.6" cy="1084.0" r="1.7"/><circle cx="395.7" cy="1071.0" r="1.7"/><circle cx="411.4" cy="1081.0" r="1.7"/><circle cx="381.1" cy="1086.1" r="1.7"/><circle cx="507.0" cy="982.3" r="1.7"/><circle cx="481.2" cy="967.5" r="1.7"/><circle cx="504.6" cy="1003.6" r="1.7"/><circle cx="503.3" cy="999.2" r="1.7"/><circle cx="515.8" cy="980.8" r="1.7"/><circle cx="501.3" cy="1001.3" r="1.7"/><circle cx="502.8" cy="988.6" r="1.7"/><circle cx="505.3" cy="972.3" r="1.7"/><circle cx="505.1" cy="1028.4" r="1.7"/><circle cx="477.9" cy="1005.6" r="1.7"/><circle cx="500.9" cy="964.1" r="1.7"/><circle cx="505.0" cy="1011.4" r="1.7"/><circle cx="507.5" cy="964.1" r="1.7"/><circle cx="505.9" cy="1012.6" r="1.7"/><circle cx="503.1" cy="1026.0" r="1.7"/><circle cx="490.6" cy="996.9" r="1.7"/><circle cx="490.6" cy="989.6" r="1.7"/><circle cx="490.3" cy="982.5" r="1.7"/><circle cx="505.6" cy="977.4" r="1.7"/><circle cx="504.7" cy="962.0" r="1.7"/><circle cx="486.6" cy="983.6" r="1.7"/><circle cx="511.4" cy="984.1" r="1.7"/><circle cx="484.4" cy="1001.6" r="1.7"/><circle cx="505.9" cy="1020.9" r="1.7"/><circle cx="478.2" cy="977.8" r="1.7"/><circle cx="493.6" cy="959.1" r="1.7"/><circle cx="507.8" cy="970.2" r="1.7"/><circle cx="475.4" cy="985.4" r="1.7"/><circle cx="509.8" cy="1003.8" r="1.7"/><circle cx="499.4" cy="958.5" r="1.7"/><circle cx="512.0" cy="998.6" r="1.7"/><circle cx="508.9" cy="1002.0" r="1.7"/><circle cx="504.2" cy="1017.3" r="1.7"/><circle cx="501.5" cy="961.5" r="1.7"/><circle cx="498.2" cy="1001.2" r="1.7"/><circle cx="485.7" cy="981.3" r="1.7"/><circle cx="489.5" cy="958.0" r="1.7"/><circle cx="501.5" cy="964.0" r="1.7"/><circle cx="507.1" cy="971.1" r="1.7"/><circle cx="501.9" cy="1020.8" r="1.7"/><circle cx="477.4" cy="1005.6" r="1.7"/><circle cx="483.9" cy="996.0" r="1.7"/><circle cx="488.1" cy="990.0" r="1.7"/><circle cx="503.1" cy="971.0" r="1.7"/><circle cx="500.7" cy="930.1" r="1.7"/><circle cx="494.8" cy="888.0" r="1.7"/><circle cx="502.8" cy="903.5" r="1.7"/><circle cx="486.6" cy="874.1" r="1.7"/><circle cx="506.6" cy="899.9" r="1.7"/><circle cx="504.5" cy="904.0" r="1.7"/><circle cx="497.0" cy="914.7" r="1.7"/><circle cx="508.4" cy="916.3" r="1.7"/><circle cx="490.9" cy="921.4" r="1.7"/><circle cx="498.6" cy="891.9" r="1.7"/><circle cx="494.8" cy="905.6" r="1.7"/><circle cx="499.9" cy="879.9" r="1.7"/><circle cx="490.3" cy="910.4" r="1.7"/><circle cx="380.5" cy="1011.8" r="1.7"/><circle cx="380.4" cy="1016.3" r="1.7"/><circle cx="376.1" cy="1018.4" r="1.7"/><circle cx="377.5" cy="1013.8" r="1.7"/><circle cx="384.2" cy="1008.5" r="1.7"/><circle cx="388.8" cy="1012.4" r="1.7"/><circle cx="383.7" cy="1023.4" r="1.7"/><circle cx="205.7" cy="1092.2" r="1.7"/><circle cx="215.2" cy="1094.6" r="1.7"/><circle cx="212.8" cy="1100.8" r="1.7"/><circle cx="208.1" cy="1102.4" r="1.7"/><circle cx="215.1" cy="1094.7" r="1.7"/><circle cx="211.1" cy="1097.0" r="1.7"/><circle cx="213.5" cy="1098.2" r="1.7"/><circle cx="212.3" cy="1096.5" r="1.7"/><circle cx="209.0" cy="1091.1" r="1.7"/><circle cx="208.3" cy="1101.2" r="1.7"/><circle cx="214.7" cy="1093.4" r="1.7"/><circle cx="216.6" cy="1095.4" r="1.7"/><circle cx="218.9" cy="947.0" r="1.7"/><circle cx="342.1" cy="824.8" r="1.7"/><circle cx="328.4" cy="963.3" r="1.7"/><circle cx="386.8" cy="870.6" r="1.7"/><circle cx="294.9" cy="778.4" r="1.7"/><circle cx="241.7" cy="911.6" r="1.7"/><circle cx="391.8" cy="1064.1" r="1.7"/><circle cx="410.3" cy="954.5" r="1.7"/><circle cx="206.6" cy="979.1" r="1.7"/><circle cx="266.0" cy="904.8" r="1.7"/><circle cx="421.1" cy="956.9" r="1.7"/><circle cx="197.1" cy="1007.0" r="1.7"/><circle cx="295.6" cy="869.7" r="1.7"/><circle cx="401.4" cy="915.3" r="1.7"/><circle cx="359.0" cy="814.3" r="1.7"/><circle cx="279.9" cy="898.2" r="1.7"/><circle cx="210.4" cy="935.0" r="1.7"/><circle cx="319.6" cy="1015.3" r="1.7"/><circle cx="422.7" cy="948.5" r="1.7"/><circle cx="309.8" cy="887.2" r="1.7"/><circle cx="225.8" cy="834.2" r="1.7"/><circle cx="144.5" cy="897.5" r="1.7"/><circle cx="439.5" cy="876.3" r="1.7"/><circle cx="382.1" cy="928.6" r="1.7"/><circle cx="190.7" cy="902.0" r="1.7"/><circle cx="274.2" cy="1043.8" r="1.7"/><circle cx="189.7" cy="832.5" r="1.7"/><circle cx="256.8" cy="974.2" r="1.7"/><circle cx="148.3" cy="968.2" r="1.7"/><circle cx="191.1" cy="941.4" r="1.7"/><circle cx="204.1" cy="849.6" r="1.7"/><circle cx="278.2" cy="803.3" r="1.7"/><circle cx="337.6" cy="812.4" r="1.7"/><circle cx="131.5" cy="857.4" r="1.7"/><circle cx="139.7" cy="836.0" r="1.7"/><circle cx="119.1" cy="833.7" r="1.7"/><circle cx="155.8" cy="842.2" r="1.7"/><circle cx="152.3" cy="843.5" r="1.7"/><circle cx="452.4" cy="845.9" r="1.7"/><circle cx="461.6" cy="836.2" r="1.7"/><circle cx="459.0" cy="837.5" r="1.7"/><circle cx="440.9" cy="848.9" r="1.7"/><circle cx="338.1" cy="1007.3" r="1.7"/><circle cx="355.6" cy="1003.5" r="1.7"/><circle cx="350.5" cy="1015.6" r="1.7"/><circle cx="357.1" cy="1003.4" r="1.7"/><circle cx="455.9" cy="1035.2" r="1.7"/><circle cx="463.8" cy="1026.9" r="1.7"/><circle cx="455.9" cy="1027.5" r="1.7"/><circle cx="455.0" cy="1053.1" r="1.7"/><circle cx="457.3" cy="1044.2" r="1.7"/></g>
</g>
<g clip-path="url(#clipF)">
<ellipse cx="279.2" cy="1498.4" rx="222.1" ry="205.9" fill="url(#hazeF)"/>
<ellipse cx="441.8" cy="1349.4" rx="108.4" ry="121.9" fill="url(#hazeF)" opacity="0.35"/>
<g fill="none" stroke="#7a3a0c" stroke-width="3.2" stroke-opacity="0.35" stroke-linejoin="round" stroke-linecap="round"><path d="M130.3,1268.2 C133.9,1266.8 144.7,1261.9 151.9,1260.0 C159.2,1258.2 165.5,1258.2 173.6,1257.3 C181.7,1256.4 196.2,1255.1 200.7,1254.6"/><path d="M227.8,1306.1 C225.1,1307.0 216.0,1309.7 211.5,1311.5 C207.0,1313.3 205.2,1315.1 200.7,1316.9 C196.2,1318.7 187.1,1321.4 184.4,1322.4"/><path d="M138.4,1235.7 C141.5,1234.8 152.4,1232.1 157.4,1230.3 C162.3,1228.4 166.4,1225.7 168.2,1224.8"/></g>
<g fill="none" stroke="#c8692a" stroke-width="1.3" stroke-linejoin="round" stroke-linecap="round"><path d="M130.3,1268.2 C133.9,1266.8 144.7,1261.9 151.9,1260.0 C159.2,1258.2 165.5,1258.2 173.6,1257.3 C181.7,1256.4 196.2,1255.1 200.7,1254.6"/><path d="M227.8,1306.1 C225.1,1307.0 216.0,1309.7 211.5,1311.5 C207.0,1313.3 205.2,1315.1 200.7,1316.9 C196.2,1318.7 187.1,1321.4 184.4,1322.4"/><path d="M138.4,1235.7 C141.5,1234.8 152.4,1232.1 157.4,1230.3 C162.3,1228.4 166.4,1225.7 168.2,1224.8"/></g>
<g fill="none" stroke="#ffc27a" stroke-width="0.8" stroke-dasharray="3 9 6 14 2 11" stroke-opacity="0.7" stroke-linecap="round"><path d="M130.3,1268.2 C133.9,1266.8 144.7,1261.9 151.9,1260.0 C159.2,1258.2 165.5,1258.2 173.6,1257.3 C181.7,1256.4 196.2,1255.1 200.7,1254.6"/><path d="M227.8,1306.1 C225.1,1307.0 216.0,1309.7 211.5,1311.5 C207.0,1313.3 205.2,1315.1 200.7,1316.9 C196.2,1318.7 187.1,1321.4 184.4,1322.4"/><path d="M138.4,1235.7 C141.5,1234.8 152.4,1232.1 157.4,1230.3 C162.3,1228.4 166.4,1225.7 168.2,1224.8"/></g>
<g fill="none" stroke="#9a4a10" stroke-width="4" stroke-opacity="0.38" stroke-linejoin="round" stroke-linecap="round"><path d="M97.8,1403.6 C101.8,1399.1 112.2,1393.7 119.4,1392.8 C126.7,1391.9 137.0,1393.7 141.1,1398.2 C145.2,1402.7 144.3,1414.4 143.8,1419.9 C143.4,1425.3 142.5,1428.0 138.4,1430.7 C134.3,1433.4 125.3,1435.7 119.4,1436.1 C113.6,1436.6 107.2,1436.1 103.2,1433.4 C99.1,1430.7 96.0,1424.8 95.0,1419.9 C94.1,1414.9 93.7,1408.1 97.8,1403.6 Z"/><path d="M103.2,1447.0 C108.1,1439.3 118.5,1440.6 124.8,1438.8 C131.2,1437.0 137.0,1433.0 141.1,1436.1 C145.2,1439.3 146.5,1450.6 149.2,1457.8 C151.9,1465.0 154.6,1473.1 157.4,1479.5 C160.1,1485.8 164.6,1488.5 165.5,1495.7 C166.4,1502.9 164.1,1514.2 162.8,1522.8 C161.4,1531.4 159.6,1541.8 157.4,1547.2 C155.1,1552.6 153.7,1553.5 149.2,1555.3 C144.7,1557.1 135.7,1557.1 130.3,1558.0 C124.8,1558.9 121.7,1562.1 116.7,1560.7 C111.8,1559.4 104.5,1555.8 100.5,1549.9 C96.4,1544.0 93.2,1536.3 92.3,1525.5 C91.4,1514.7 93.2,1498.0 95.0,1484.9 C96.9,1471.8 98.2,1454.6 103.2,1447.0 Z"/><path d="M162.8,1484.9 C166.4,1484.4 179.0,1481.7 184.4,1482.2 C189.9,1482.6 190.8,1482.6 195.3,1487.6 C199.8,1492.6 206.1,1504.7 211.5,1512.0 C216.9,1519.2 224.2,1526.0 227.8,1530.9 C231.4,1535.9 233.6,1536.8 233.2,1541.8 C232.7,1546.7 227.3,1554.4 225.1,1560.7 C222.8,1567.0 223.7,1577.4 219.7,1579.7 C215.6,1581.9 208.8,1576.5 200.7,1574.3 C192.6,1572.0 178.1,1569.3 170.9,1566.1 C163.7,1563.0 159.6,1557.1 157.4,1555.3"/><path d="M195.3,1384.7 C198.9,1381.5 209.7,1369.5 216.9,1365.7 C224.2,1361.9 235.0,1362.3 238.6,1361.6"/><path d="M195.3,1384.7 C194.8,1388.7 192.6,1401.4 192.6,1409.0 C192.6,1416.7 194.4,1424.8 195.3,1430.7 C196.2,1436.6 194.4,1441.5 198.0,1444.2 C201.6,1447.0 210.2,1445.6 216.9,1447.0 C223.7,1448.3 231.4,1450.6 238.6,1452.4 C245.8,1454.2 256.7,1456.9 260.3,1457.8"/><path d="M195.3,1430.7 C195.3,1435.2 195.7,1448.8 195.3,1457.8 C194.8,1466.8 193.0,1480.4 192.6,1484.9"/><path d="M192.6,1484.9 C194.4,1488.5 199.3,1500.7 203.4,1506.5 C207.5,1512.4 212.0,1514.7 216.9,1520.1 C221.9,1525.5 230.5,1535.9 233.2,1539.1"/><path d="M233.2,1539.1 C236.8,1537.7 246.7,1534.5 254.9,1530.9 C263.0,1527.3 276.5,1522.3 282.0,1517.4 C287.4,1512.4 286.0,1506.5 287.4,1501.1 C288.7,1495.7 289.6,1487.6 290.1,1484.9"/><path d="M322.6,1560.7 C320.3,1559.4 314.0,1558.5 309.0,1552.6 C304.1,1546.7 295.5,1530.0 292.8,1525.5"/><path d="M398.4,1536.3 C399.8,1532.3 405.7,1518.7 406.6,1512.0 C407.5,1505.2 404.3,1498.4 403.9,1495.7"/><path d="M349.7,1474.0 C352.4,1468.2 361.9,1460.0 368.6,1455.1 C375.4,1450.1 383.1,1445.6 390.3,1444.2 C397.5,1442.9 406.1,1443.3 412.0,1447.0 C417.8,1450.6 423.3,1459.1 425.5,1465.9 C427.8,1472.7 426.4,1480.8 425.5,1487.6 C424.6,1494.4 423.3,1502.5 420.1,1506.5 C416.9,1510.6 412.4,1512.0 406.6,1512.0 C400.7,1512.0 391.2,1508.8 384.9,1506.5 C378.6,1504.3 374.1,1501.1 368.6,1498.4 C363.2,1495.7 355.5,1494.4 352.4,1490.3 C349.2,1486.2 347.0,1479.9 349.7,1474.0 Z"/><path d="M395.7,1398.2 C396.6,1400.9 399.3,1409.0 401.1,1414.4 C402.9,1419.9 404.8,1425.3 406.6,1430.7 C408.4,1436.1 411.1,1444.2 412.0,1447.0"/><path d="M406.6,1395.5 C411.1,1394.6 422.8,1393.2 433.6,1390.1 C444.5,1386.9 463.4,1374.3 471.6,1376.5 C479.7,1378.8 481.5,1393.7 482.4,1403.6 C483.3,1413.5 479.2,1428.0 477.0,1436.1 C474.7,1444.2 473.4,1447.9 468.9,1452.4 C464.3,1456.9 456.7,1460.5 449.9,1463.2 C443.1,1465.9 431.8,1467.7 428.2,1468.6"/><path d="M319.9,1319.6 C324.4,1321.4 338.8,1326.9 347.0,1330.5 C355.1,1334.1 362.3,1336.3 368.6,1341.3 C375.0,1346.3 380.4,1353.5 384.9,1360.3 C389.4,1367.0 393.9,1378.3 395.7,1381.9"/><path d="M384.9,1360.3 C387.1,1358.5 394.4,1352.6 398.4,1349.4 C402.5,1346.3 407.5,1342.7 409.3,1341.3"/><path d="M143.8,1387.4 C147.0,1386.5 156.9,1383.8 162.8,1381.9 C168.6,1380.1 173.6,1376.1 179.0,1376.5 C184.4,1377.0 192.6,1383.3 195.3,1384.7"/><path d="M471.6,1376.5 C475.2,1374.7 486.9,1367.9 493.2,1365.7 C499.6,1363.4 506.8,1363.4 509.5,1363.0"/></g>
<g fill="none" stroke="#ee8a36" stroke-width="1.6" stroke-linejoin="round" stroke-linecap="round"><path d="M97.8,1403.6 C101.8,1399.1 112.2,1393.7 119.4,1392.8 C126.7,1391.9 137.0,1393.7 141.1,1398.2 C145.2,1402.7 144.3,1414.4 143.8,1419.9 C143.4,1425.3 142.5,1428.0 138.4,1430.7 C134.3,1433.4 125.3,1435.7 119.4,1436.1 C113.6,1436.6 107.2,1436.1 103.2,1433.4 C99.1,1430.7 96.0,1424.8 95.0,1419.9 C94.1,1414.9 93.7,1408.1 97.8,1403.6 Z"/><path d="M103.2,1447.0 C108.1,1439.3 118.5,1440.6 124.8,1438.8 C131.2,1437.0 137.0,1433.0 141.1,1436.1 C145.2,1439.3 146.5,1450.6 149.2,1457.8 C151.9,1465.0 154.6,1473.1 157.4,1479.5 C160.1,1485.8 164.6,1488.5 165.5,1495.7 C166.4,1502.9 164.1,1514.2 162.8,1522.8 C161.4,1531.4 159.6,1541.8 157.4,1547.2 C155.1,1552.6 153.7,1553.5 149.2,1555.3 C144.7,1557.1 135.7,1557.1 130.3,1558.0 C124.8,1558.9 121.7,1562.1 116.7,1560.7 C111.8,1559.4 104.5,1555.8 100.5,1549.9 C96.4,1544.0 93.2,1536.3 92.3,1525.5 C91.4,1514.7 93.2,1498.0 95.0,1484.9 C96.9,1471.8 98.2,1454.6 103.2,1447.0 Z"/><path d="M162.8,1484.9 C166.4,1484.4 179.0,1481.7 184.4,1482.2 C189.9,1482.6 190.8,1482.6 195.3,1487.6 C199.8,1492.6 206.1,1504.7 211.5,1512.0 C216.9,1519.2 224.2,1526.0 227.8,1530.9 C231.4,1535.9 233.6,1536.8 233.2,1541.8 C232.7,1546.7 227.3,1554.4 225.1,1560.7 C222.8,1567.0 223.7,1577.4 219.7,1579.7 C215.6,1581.9 208.8,1576.5 200.7,1574.3 C192.6,1572.0 178.1,1569.3 170.9,1566.1 C163.7,1563.0 159.6,1557.1 157.4,1555.3"/><path d="M195.3,1384.7 C198.9,1381.5 209.7,1369.5 216.9,1365.7 C224.2,1361.9 235.0,1362.3 238.6,1361.6"/><path d="M195.3,1384.7 C194.8,1388.7 192.6,1401.4 192.6,1409.0 C192.6,1416.7 194.4,1424.8 195.3,1430.7 C196.2,1436.6 194.4,1441.5 198.0,1444.2 C201.6,1447.0 210.2,1445.6 216.9,1447.0 C223.7,1448.3 231.4,1450.6 238.6,1452.4 C245.8,1454.2 256.7,1456.9 260.3,1457.8"/><path d="M195.3,1430.7 C195.3,1435.2 195.7,1448.8 195.3,1457.8 C194.8,1466.8 193.0,1480.4 192.6,1484.9"/><path d="M192.6,1484.9 C194.4,1488.5 199.3,1500.7 203.4,1506.5 C207.5,1512.4 212.0,1514.7 216.9,1520.1 C221.9,1525.5 230.5,1535.9 233.2,1539.1"/><path d="M233.2,1539.1 C236.8,1537.7 246.7,1534.5 254.9,1530.9 C263.0,1527.3 276.5,1522.3 282.0,1517.4 C287.4,1512.4 286.0,1506.5 287.4,1501.1 C288.7,1495.7 289.6,1487.6 290.1,1484.9"/><path d="M322.6,1560.7 C320.3,1559.4 314.0,1558.5 309.0,1552.6 C304.1,1546.7 295.5,1530.0 292.8,1525.5"/><path d="M398.4,1536.3 C399.8,1532.3 405.7,1518.7 406.6,1512.0 C407.5,1505.2 404.3,1498.4 403.9,1495.7"/><path d="M349.7,1474.0 C352.4,1468.2 361.9,1460.0 368.6,1455.1 C375.4,1450.1 383.1,1445.6 390.3,1444.2 C397.5,1442.9 406.1,1443.3 412.0,1447.0 C417.8,1450.6 423.3,1459.1 425.5,1465.9 C427.8,1472.7 426.4,1480.8 425.5,1487.6 C424.6,1494.4 423.3,1502.5 420.1,1506.5 C416.9,1510.6 412.4,1512.0 406.6,1512.0 C400.7,1512.0 391.2,1508.8 384.9,1506.5 C378.6,1504.3 374.1,1501.1 368.6,1498.4 C363.2,1495.7 355.5,1494.4 352.4,1490.3 C349.2,1486.2 347.0,1479.9 349.7,1474.0 Z"/><path d="M395.7,1398.2 C396.6,1400.9 399.3,1409.0 401.1,1414.4 C402.9,1419.9 404.8,1425.3 406.6,1430.7 C408.4,1436.1 411.1,1444.2 412.0,1447.0"/><path d="M406.6,1395.5 C411.1,1394.6 422.8,1393.2 433.6,1390.1 C444.5,1386.9 463.4,1374.3 471.6,1376.5 C479.7,1378.8 481.5,1393.7 482.4,1403.6 C483.3,1413.5 479.2,1428.0 477.0,1436.1 C474.7,1444.2 473.4,1447.9 468.9,1452.4 C464.3,1456.9 456.7,1460.5 449.9,1463.2 C443.1,1465.9 431.8,1467.7 428.2,1468.6"/><path d="M319.9,1319.6 C324.4,1321.4 338.8,1326.9 347.0,1330.5 C355.1,1334.1 362.3,1336.3 368.6,1341.3 C375.0,1346.3 380.4,1353.5 384.9,1360.3 C389.4,1367.0 393.9,1378.3 395.7,1381.9"/><path d="M384.9,1360.3 C387.1,1358.5 394.4,1352.6 398.4,1349.4 C402.5,1346.3 407.5,1342.7 409.3,1341.3"/><path d="M143.8,1387.4 C147.0,1386.5 156.9,1383.8 162.8,1381.9 C168.6,1380.1 173.6,1376.1 179.0,1376.5 C184.4,1377.0 192.6,1383.3 195.3,1384.7"/><path d="M471.6,1376.5 C475.2,1374.7 486.9,1367.9 493.2,1365.7 C499.6,1363.4 506.8,1363.4 509.5,1363.0"/></g>
<g fill="none" stroke="#ffc27a" stroke-width="1.0" stroke-dasharray="3 9 6 14 2 11" stroke-opacity="0.7" stroke-linecap="round"><path d="M97.8,1403.6 C101.8,1399.1 112.2,1393.7 119.4,1392.8 C126.7,1391.9 137.0,1393.7 141.1,1398.2 C145.2,1402.7 144.3,1414.4 143.8,1419.9 C143.4,1425.3 142.5,1428.0 138.4,1430.7 C134.3,1433.4 125.3,1435.7 119.4,1436.1 C113.6,1436.6 107.2,1436.1 103.2,1433.4 C99.1,1430.7 96.0,1424.8 95.0,1419.9 C94.1,1414.9 93.7,1408.1 97.8,1403.6 Z"/><path d="M103.2,1447.0 C108.1,1439.3 118.5,1440.6 124.8,1438.8 C131.2,1437.0 137.0,1433.0 141.1,1436.1 C145.2,1439.3 146.5,1450.6 149.2,1457.8 C151.9,1465.0 154.6,1473.1 157.4,1479.5 C160.1,1485.8 164.6,1488.5 165.5,1495.7 C166.4,1502.9 164.1,1514.2 162.8,1522.8 C161.4,1531.4 159.6,1541.8 157.4,1547.2 C155.1,1552.6 153.7,1553.5 149.2,1555.3 C144.7,1557.1 135.7,1557.1 130.3,1558.0 C124.8,1558.9 121.7,1562.1 116.7,1560.7 C111.8,1559.4 104.5,1555.8 100.5,1549.9 C96.4,1544.0 93.2,1536.3 92.3,1525.5 C91.4,1514.7 93.2,1498.0 95.0,1484.9 C96.9,1471.8 98.2,1454.6 103.2,1447.0 Z"/><path d="M162.8,1484.9 C166.4,1484.4 179.0,1481.7 184.4,1482.2 C189.9,1482.6 190.8,1482.6 195.3,1487.6 C199.8,1492.6 206.1,1504.7 211.5,1512.0 C216.9,1519.2 224.2,1526.0 227.8,1530.9 C231.4,1535.9 233.6,1536.8 233.2,1541.8 C232.7,1546.7 227.3,1554.4 225.1,1560.7 C222.8,1567.0 223.7,1577.4 219.7,1579.7 C215.6,1581.9 208.8,1576.5 200.7,1574.3 C192.6,1572.0 178.1,1569.3 170.9,1566.1 C163.7,1563.0 159.6,1557.1 157.4,1555.3"/><path d="M195.3,1384.7 C198.9,1381.5 209.7,1369.5 216.9,1365.7 C224.2,1361.9 235.0,1362.3 238.6,1361.6"/><path d="M195.3,1384.7 C194.8,1388.7 192.6,1401.4 192.6,1409.0 C192.6,1416.7 194.4,1424.8 195.3,1430.7 C196.2,1436.6 194.4,1441.5 198.0,1444.2 C201.6,1447.0 210.2,1445.6 216.9,1447.0 C223.7,1448.3 231.4,1450.6 238.6,1452.4 C245.8,1454.2 256.7,1456.9 260.3,1457.8"/><path d="M195.3,1430.7 C195.3,1435.2 195.7,1448.8 195.3,1457.8 C194.8,1466.8 193.0,1480.4 192.6,1484.9"/><path d="M192.6,1484.9 C194.4,1488.5 199.3,1500.7 203.4,1506.5 C207.5,1512.4 212.0,1514.7 216.9,1520.1 C221.9,1525.5 230.5,1535.9 233.2,1539.1"/><path d="M233.2,1539.1 C236.8,1537.7 246.7,1534.5 254.9,1530.9 C263.0,1527.3 276.5,1522.3 282.0,1517.4 C287.4,1512.4 286.0,1506.5 287.4,1501.1 C288.7,1495.7 289.6,1487.6 290.1,1484.9"/><path d="M322.6,1560.7 C320.3,1559.4 314.0,1558.5 309.0,1552.6 C304.1,1546.7 295.5,1530.0 292.8,1525.5"/><path d="M398.4,1536.3 C399.8,1532.3 405.7,1518.7 406.6,1512.0 C407.5,1505.2 404.3,1498.4 403.9,1495.7"/><path d="M349.7,1474.0 C352.4,1468.2 361.9,1460.0 368.6,1455.1 C375.4,1450.1 383.1,1445.6 390.3,1444.2 C397.5,1442.9 406.1,1443.3 412.0,1447.0 C417.8,1450.6 423.3,1459.1 425.5,1465.9 C427.8,1472.7 426.4,1480.8 425.5,1487.6 C424.6,1494.4 423.3,1502.5 420.1,1506.5 C416.9,1510.6 412.4,1512.0 406.6,1512.0 C400.7,1512.0 391.2,1508.8 384.9,1506.5 C378.6,1504.3 374.1,1501.1 368.6,1498.4 C363.2,1495.7 355.5,1494.4 352.4,1490.3 C349.2,1486.2 347.0,1479.9 349.7,1474.0 Z"/><path d="M395.7,1398.2 C396.6,1400.9 399.3,1409.0 401.1,1414.4 C402.9,1419.9 404.8,1425.3 406.6,1430.7 C408.4,1436.1 411.1,1444.2 412.0,1447.0"/><path d="M406.6,1395.5 C411.1,1394.6 422.8,1393.2 433.6,1390.1 C444.5,1386.9 463.4,1374.3 471.6,1376.5 C479.7,1378.8 481.5,1393.7 482.4,1403.6 C483.3,1413.5 479.2,1428.0 477.0,1436.1 C474.7,1444.2 473.4,1447.9 468.9,1452.4 C464.3,1456.9 456.7,1460.5 449.9,1463.2 C443.1,1465.9 431.8,1467.7 428.2,1468.6"/><path d="M319.9,1319.6 C324.4,1321.4 338.8,1326.9 347.0,1330.5 C355.1,1334.1 362.3,1336.3 368.6,1341.3 C375.0,1346.3 380.4,1353.5 384.9,1360.3 C389.4,1367.0 393.9,1378.3 395.7,1381.9"/><path d="M384.9,1360.3 C387.1,1358.5 394.4,1352.6 398.4,1349.4 C402.5,1346.3 407.5,1342.7 409.3,1341.3"/><path d="M143.8,1387.4 C147.0,1386.5 156.9,1383.8 162.8,1381.9 C168.6,1380.1 173.6,1376.1 179.0,1376.5 C184.4,1377.0 192.6,1383.3 195.3,1384.7"/><path d="M471.6,1376.5 C475.2,1374.7 486.9,1367.9 493.2,1365.7 C499.6,1363.4 506.8,1363.4 509.5,1363.0"/></g>
<g fill="none" stroke="#b65a14" stroke-width="5" stroke-opacity="0.45" stroke-linejoin="round" stroke-linecap="round"><path d="M84.2,1403.6 C83.8,1412.6 80.6,1437.5 81.5,1457.8 C82.4,1478.1 86.0,1507.5 89.6,1525.5 C93.2,1543.6 96.9,1554.0 103.2,1566.1 C109.5,1578.3 118.5,1588.7 127.6,1598.6 C136.6,1608.6 147.9,1618.5 157.4,1625.7 C166.8,1633.0 176.3,1636.6 184.4,1642.0 C192.6,1647.4 198.0,1653.3 206.1,1658.2 C214.2,1663.2 223.3,1667.7 233.2,1671.8 C243.1,1675.8 254.9,1680.4 265.7,1682.6 C276.5,1684.9 289.2,1685.8 298.2,1685.3 C307.2,1684.9 311.8,1683.5 319.9,1679.9 C328.0,1676.3 337.9,1669.1 347.0,1663.7 C356.0,1658.2 365.9,1651.9 374.1,1647.4 C382.2,1642.9 390.3,1641.1 395.7,1636.6 C401.1,1632.1 404.8,1623.0 406.6,1620.3"/><path d="M116.7,1560.7 C119.0,1561.2 122.6,1562.5 130.3,1563.4 C137.9,1564.3 152.8,1564.8 162.8,1566.1 C172.7,1567.5 180.8,1569.8 189.9,1571.6 C198.9,1573.4 212.4,1576.1 216.9,1577.0"/><path d="M233.2,1539.1 C232.3,1541.8 229.6,1548.5 227.8,1555.3 C226.0,1562.1 224.2,1572.5 222.4,1579.7 C220.6,1586.9 216.0,1593.7 216.9,1598.6 C217.8,1603.6 223.3,1608.6 227.8,1609.5 C232.3,1610.4 241.3,1605.0 244.0,1604.1"/><path d="M222.4,1593.2 C226.0,1593.7 236.8,1595.9 244.0,1595.9 C251.3,1595.9 259.8,1593.2 265.7,1593.2 C271.6,1593.2 276.1,1591.4 279.2,1595.9 C282.4,1600.5 284.7,1611.7 284.7,1620.3 C284.7,1628.9 279.7,1638.4 279.2,1647.4 C278.8,1656.4 281.5,1670.0 282.0,1674.5"/><path d="M244.0,1595.9 C244.5,1600.0 244.9,1613.5 246.7,1620.3 C248.5,1627.1 254.9,1631.2 254.9,1636.6 C254.9,1642.0 249.4,1646.5 246.7,1652.8 C244.0,1659.1 240.0,1670.9 238.6,1674.5"/><path d="M254.9,1612.2 C258.9,1612.2 275.2,1612.2 279.2,1612.2"/><path d="M284.7,1620.3 C288.3,1620.8 300.9,1624.8 306.3,1623.0 C311.8,1621.2 314.0,1614.4 317.2,1609.5 C320.3,1604.5 323.0,1599.1 325.3,1593.2 C327.6,1587.4 329.8,1577.4 330.7,1574.3"/><path d="M306.3,1623.0 C306.8,1627.1 310.4,1638.8 309.0,1647.4 C307.7,1656.0 300.0,1670.0 298.2,1674.5"/><path d="M200.7,1631.2 C203.4,1632.1 210.6,1634.8 216.9,1636.6 C223.3,1638.4 233.2,1639.3 238.6,1642.0 C244.0,1644.7 247.6,1651.0 249.4,1652.8"/><path d="M317.2,1609.5 C321.2,1614.0 336.6,1628.4 341.5,1636.6 C346.5,1644.7 346.1,1654.6 347.0,1658.2"/><path d="M325.3,1593.2 C327.1,1592.3 330.7,1587.8 336.1,1587.8 C341.5,1587.8 352.4,1589.6 357.8,1593.2 C363.2,1596.8 364.6,1605.0 368.6,1609.5 C372.7,1614.0 377.7,1615.8 382.2,1620.3 C386.7,1624.8 393.5,1633.9 395.7,1636.6"/><path d="M330.7,1549.9 C333.9,1543.6 339.7,1536.8 347.0,1533.6 C354.2,1530.5 365.5,1530.5 374.1,1530.9 C382.6,1531.4 393.5,1532.3 398.4,1536.3 C403.4,1540.4 404.8,1547.6 403.9,1555.3 C402.9,1563.0 397.1,1576.1 393.0,1582.4 C389.0,1588.7 385.8,1591.4 379.5,1593.2 C373.2,1595.0 362.3,1594.1 355.1,1593.2 C347.9,1592.3 340.6,1591.4 336.1,1587.8 C331.6,1584.2 328.9,1577.9 328.0,1571.6 C327.1,1565.2 327.6,1556.2 330.7,1549.9 Z"/></g>
<g fill="none" stroke="#ff9c45" stroke-width="2.1" stroke-linejoin="round" stroke-linecap="round"><path d="M84.2,1403.6 C83.8,1412.6 80.6,1437.5 81.5,1457.8 C82.4,1478.1 86.0,1507.5 89.6,1525.5 C93.2,1543.6 96.9,1554.0 103.2,1566.1 C109.5,1578.3 118.5,1588.7 127.6,1598.6 C136.6,1608.6 147.9,1618.5 157.4,1625.7 C166.8,1633.0 176.3,1636.6 184.4,1642.0 C192.6,1647.4 198.0,1653.3 206.1,1658.2 C214.2,1663.2 223.3,1667.7 233.2,1671.8 C243.1,1675.8 254.9,1680.4 265.7,1682.6 C276.5,1684.9 289.2,1685.8 298.2,1685.3 C307.2,1684.9 311.8,1683.5 319.9,1679.9 C328.0,1676.3 337.9,1669.1 347.0,1663.7 C356.0,1658.2 365.9,1651.9 374.1,1647.4 C382.2,1642.9 390.3,1641.1 395.7,1636.6 C401.1,1632.1 404.8,1623.0 406.6,1620.3"/><path d="M116.7,1560.7 C119.0,1561.2 122.6,1562.5 130.3,1563.4 C137.9,1564.3 152.8,1564.8 162.8,1566.1 C172.7,1567.5 180.8,1569.8 189.9,1571.6 C198.9,1573.4 212.4,1576.1 216.9,1577.0"/><path d="M233.2,1539.1 C232.3,1541.8 229.6,1548.5 227.8,1555.3 C226.0,1562.1 224.2,1572.5 222.4,1579.7 C220.6,1586.9 216.0,1593.7 216.9,1598.6 C217.8,1603.6 223.3,1608.6 227.8,1609.5 C232.3,1610.4 241.3,1605.0 244.0,1604.1"/><path d="M222.4,1593.2 C226.0,1593.7 236.8,1595.9 244.0,1595.9 C251.3,1595.9 259.8,1593.2 265.7,1593.2 C271.6,1593.2 276.1,1591.4 279.2,1595.9 C282.4,1600.5 284.7,1611.7 284.7,1620.3 C284.7,1628.9 279.7,1638.4 279.2,1647.4 C278.8,1656.4 281.5,1670.0 282.0,1674.5"/><path d="M244.0,1595.9 C244.5,1600.0 244.9,1613.5 246.7,1620.3 C248.5,1627.1 254.9,1631.2 254.9,1636.6 C254.9,1642.0 249.4,1646.5 246.7,1652.8 C244.0,1659.1 240.0,1670.9 238.6,1674.5"/><path d="M254.9,1612.2 C258.9,1612.2 275.2,1612.2 279.2,1612.2"/><path d="M284.7,1620.3 C288.3,1620.8 300.9,1624.8 306.3,1623.0 C311.8,1621.2 314.0,1614.4 317.2,1609.5 C320.3,1604.5 323.0,1599.1 325.3,1593.2 C327.6,1587.4 329.8,1577.4 330.7,1574.3"/><path d="M306.3,1623.0 C306.8,1627.1 310.4,1638.8 309.0,1647.4 C307.7,1656.0 300.0,1670.0 298.2,1674.5"/><path d="M200.7,1631.2 C203.4,1632.1 210.6,1634.8 216.9,1636.6 C223.3,1638.4 233.2,1639.3 238.6,1642.0 C244.0,1644.7 247.6,1651.0 249.4,1652.8"/><path d="M317.2,1609.5 C321.2,1614.0 336.6,1628.4 341.5,1636.6 C346.5,1644.7 346.1,1654.6 347.0,1658.2"/><path d="M325.3,1593.2 C327.1,1592.3 330.7,1587.8 336.1,1587.8 C341.5,1587.8 352.4,1589.6 357.8,1593.2 C363.2,1596.8 364.6,1605.0 368.6,1609.5 C372.7,1614.0 377.7,1615.8 382.2,1620.3 C386.7,1624.8 393.5,1633.9 395.7,1636.6"/><path d="M330.7,1549.9 C333.9,1543.6 339.7,1536.8 347.0,1533.6 C354.2,1530.5 365.5,1530.5 374.1,1530.9 C382.6,1531.4 393.5,1532.3 398.4,1536.3 C403.4,1540.4 404.8,1547.6 403.9,1555.3 C402.9,1563.0 397.1,1576.1 393.0,1582.4 C389.0,1588.7 385.8,1591.4 379.5,1593.2 C373.2,1595.0 362.3,1594.1 355.1,1593.2 C347.9,1592.3 340.6,1591.4 336.1,1587.8 C331.6,1584.2 328.9,1577.9 328.0,1571.6 C327.1,1565.2 327.6,1556.2 330.7,1549.9 Z"/></g>
<g fill="none" stroke="#ffc27a" stroke-width="1.3" stroke-dasharray="3 9 6 14 2 11" stroke-opacity="0.7" stroke-linecap="round"><path d="M84.2,1403.6 C83.8,1412.6 80.6,1437.5 81.5,1457.8 C82.4,1478.1 86.0,1507.5 89.6,1525.5 C93.2,1543.6 96.9,1554.0 103.2,1566.1 C109.5,1578.3 118.5,1588.7 127.6,1598.6 C136.6,1608.6 147.9,1618.5 157.4,1625.7 C166.8,1633.0 176.3,1636.6 184.4,1642.0 C192.6,1647.4 198.0,1653.3 206.1,1658.2 C214.2,1663.2 223.3,1667.7 233.2,1671.8 C243.1,1675.8 254.9,1680.4 265.7,1682.6 C276.5,1684.9 289.2,1685.8 298.2,1685.3 C307.2,1684.9 311.8,1683.5 319.9,1679.9 C328.0,1676.3 337.9,1669.1 347.0,1663.7 C356.0,1658.2 365.9,1651.9 374.1,1647.4 C382.2,1642.9 390.3,1641.1 395.7,1636.6 C401.1,1632.1 404.8,1623.0 406.6,1620.3"/><path d="M116.7,1560.7 C119.0,1561.2 122.6,1562.5 130.3,1563.4 C137.9,1564.3 152.8,1564.8 162.8,1566.1 C172.7,1567.5 180.8,1569.8 189.9,1571.6 C198.9,1573.4 212.4,1576.1 216.9,1577.0"/><path d="M233.2,1539.1 C232.3,1541.8 229.6,1548.5 227.8,1555.3 C226.0,1562.1 224.2,1572.5 222.4,1579.7 C220.6,1586.9 216.0,1593.7 216.9,1598.6 C217.8,1603.6 223.3,1608.6 227.8,1609.5 C232.3,1610.4 241.3,1605.0 244.0,1604.1"/><path d="M222.4,1593.2 C226.0,1593.7 236.8,1595.9 244.0,1595.9 C251.3,1595.9 259.8,1593.2 265.7,1593.2 C271.6,1593.2 276.1,1591.4 279.2,1595.9 C282.4,1600.5 284.7,1611.7 284.7,1620.3 C284.7,1628.9 279.7,1638.4 279.2,1647.4 C278.8,1656.4 281.5,1670.0 282.0,1674.5"/><path d="M244.0,1595.9 C244.5,1600.0 244.9,1613.5 246.7,1620.3 C248.5,1627.1 254.9,1631.2 254.9,1636.6 C254.9,1642.0 249.4,1646.5 246.7,1652.8 C244.0,1659.1 240.0,1670.9 238.6,1674.5"/><path d="M254.9,1612.2 C258.9,1612.2 275.2,1612.2 279.2,1612.2"/><path d="M284.7,1620.3 C288.3,1620.8 300.9,1624.8 306.3,1623.0 C311.8,1621.2 314.0,1614.4 317.2,1609.5 C320.3,1604.5 323.0,1599.1 325.3,1593.2 C327.6,1587.4 329.8,1577.4 330.7,1574.3"/><path d="M306.3,1623.0 C306.8,1627.1 310.4,1638.8 309.0,1647.4 C307.7,1656.0 300.0,1670.0 298.2,1674.5"/><path d="M200.7,1631.2 C203.4,1632.1 210.6,1634.8 216.9,1636.6 C223.3,1638.4 233.2,1639.3 238.6,1642.0 C244.0,1644.7 247.6,1651.0 249.4,1652.8"/><path d="M317.2,1609.5 C321.2,1614.0 336.6,1628.4 341.5,1636.6 C346.5,1644.7 346.1,1654.6 347.0,1658.2"/><path d="M325.3,1593.2 C327.1,1592.3 330.7,1587.8 336.1,1587.8 C341.5,1587.8 352.4,1589.6 357.8,1593.2 C363.2,1596.8 364.6,1605.0 368.6,1609.5 C372.7,1614.0 377.7,1615.8 382.2,1620.3 C386.7,1624.8 393.5,1633.9 395.7,1636.6"/><path d="M330.7,1549.9 C333.9,1543.6 339.7,1536.8 347.0,1533.6 C354.2,1530.5 365.5,1530.5 374.1,1530.9 C382.6,1531.4 393.5,1532.3 398.4,1536.3 C403.4,1540.4 404.8,1547.6 403.9,1555.3 C402.9,1563.0 397.1,1576.1 393.0,1582.4 C389.0,1588.7 385.8,1591.4 379.5,1593.2 C373.2,1595.0 362.3,1594.1 355.1,1593.2 C347.9,1592.3 340.6,1591.4 336.1,1587.8 C331.6,1584.2 328.9,1577.9 328.0,1571.6 C327.1,1565.2 327.6,1556.2 330.7,1549.9 Z"/></g>
<ellipse cx="424.2" cy="1606.8" rx="7.6" ry="19.0" fill="#f5b070"/>
<ellipse cx="425.5" cy="1604.1" rx="3.8" ry="10.8" fill="#fff0dc"/>
<circle cx="424.7" cy="1241.1" r="2.5" fill="#ffd9a8"/>
<g fill="#f3e37a"><circle cx="92.2" cy="1271.7" r="1.7"/><circle cx="95.5" cy="1275.9" r="1.7"/><circle cx="106.5" cy="1318.4" r="1.7"/><circle cx="87.7" cy="1289.3" r="1.7"/><circle cx="89.3" cy="1297.8" r="1.7"/><circle cx="111.3" cy="1297.3" r="1.7"/><circle cx="88.0" cy="1302.3" r="1.7"/><circle cx="85.8" cy="1279.1" r="1.7"/><circle cx="105.7" cy="1293.7" r="1.7"/><circle cx="102.4" cy="1306.7" r="1.7"/><circle cx="100.2" cy="1259.5" r="1.7"/><circle cx="103.0" cy="1303.6" r="1.7"/><circle cx="111.5" cy="1308.3" r="1.7"/><circle cx="98.6" cy="1288.8" r="1.7"/><circle cx="107.5" cy="1278.1" r="1.7"/><circle cx="93.9" cy="1290.3" r="1.7"/><circle cx="103.0" cy="1293.0" r="1.7"/><circle cx="87.0" cy="1296.3" r="1.7"/><circle cx="99.7" cy="1312.9" r="1.7"/><circle cx="102.6" cy="1299.5" r="1.7"/><circle cx="97.6" cy="1314.8" r="1.7"/><circle cx="114.3" cy="1283.9" r="1.7"/><circle cx="104.4" cy="1269.9" r="1.7"/><circle cx="100.5" cy="1259.5" r="1.7"/><circle cx="107.3" cy="1271.1" r="1.7"/><circle cx="93.1" cy="1281.4" r="1.7"/><circle cx="103.2" cy="1303.3" r="1.7"/><circle cx="104.4" cy="1286.0" r="1.7"/><circle cx="112.8" cy="1289.2" r="1.7"/><circle cx="101.7" cy="1288.8" r="1.7"/><circle cx="103.7" cy="1290.7" r="1.7"/><circle cx="114.1" cy="1343.1" r="1.7"/><circle cx="135.8" cy="1354.7" r="1.7"/><circle cx="83.0" cy="1352.9" r="1.7"/><circle cx="103.4" cy="1374.3" r="1.7"/><circle cx="111.9" cy="1365.4" r="1.7"/><circle cx="121.6" cy="1372.0" r="1.7"/><circle cx="82.2" cy="1357.6" r="1.7"/><circle cx="83.3" cy="1372.2" r="1.7"/><circle cx="106.6" cy="1344.5" r="1.7"/><circle cx="110.9" cy="1383.8" r="1.7"/><circle cx="123.9" cy="1371.2" r="1.7"/><circle cx="99.6" cy="1368.3" r="1.7"/><circle cx="97.5" cy="1366.0" r="1.7"/><circle cx="114.7" cy="1367.2" r="1.7"/><circle cx="133.2" cy="1346.3" r="1.7"/><circle cx="114.9" cy="1353.8" r="1.7"/><circle cx="114.3" cy="1338.2" r="1.7"/><circle cx="103.5" cy="1374.4" r="1.7"/><circle cx="116.2" cy="1345.7" r="1.7"/><circle cx="124.5" cy="1343.5" r="1.7"/><circle cx="92.7" cy="1338.4" r="1.7"/><circle cx="95.8" cy="1384.1" r="1.7"/><circle cx="107.0" cy="1338.2" r="1.7"/><circle cx="100.0" cy="1381.4" r="1.7"/><circle cx="101.3" cy="1358.6" r="1.7"/><circle cx="119.9" cy="1347.8" r="1.7"/><circle cx="115.3" cy="1381.0" r="1.7"/><circle cx="134.5" cy="1362.2" r="1.7"/><circle cx="101.8" cy="1371.4" r="1.7"/><circle cx="97.1" cy="1387.2" r="1.7"/><circle cx="129.7" cy="1372.4" r="1.7"/><circle cx="130.6" cy="1347.0" r="1.7"/><circle cx="90.7" cy="1373.3" r="1.7"/><circle cx="90.2" cy="1344.8" r="1.7"/><circle cx="132.3" cy="1350.4" r="1.7"/><circle cx="90.9" cy="1380.3" r="1.7"/><circle cx="130.9" cy="1343.4" r="1.7"/><circle cx="109.2" cy="1346.6" r="1.7"/><circle cx="109.7" cy="1338.3" r="1.7"/><circle cx="123.3" cy="1359.4" r="1.7"/><circle cx="112.5" cy="1341.6" r="1.7"/><circle cx="83.5" cy="1350.6" r="1.7"/><circle cx="98.6" cy="1371.6" r="1.7"/><circle cx="120.7" cy="1362.1" r="1.7"/><circle cx="130.3" cy="1363.9" r="1.7"/><circle cx="96.2" cy="1361.6" r="1.7"/><circle cx="85.0" cy="1378.0" r="1.7"/><circle cx="113.3" cy="1333.9" r="1.7"/><circle cx="87.0" cy="1380.5" r="1.7"/><circle cx="132.6" cy="1347.9" r="1.7"/><circle cx="101.0" cy="1350.9" r="1.7"/><circle cx="94.1" cy="1337.5" r="1.7"/><circle cx="124.9" cy="1408.5" r="1.7"/><circle cx="136.1" cy="1409.9" r="1.7"/><circle cx="124.8" cy="1425.5" r="1.7"/><circle cx="117.7" cy="1415.0" r="1.7"/><circle cx="120.9" cy="1405.9" r="1.7"/><circle cx="130.6" cy="1405.5" r="1.7"/><circle cx="116.6" cy="1432.1" r="1.7"/><circle cx="133.9" cy="1428.3" r="1.7"/><circle cx="130.9" cy="1430.4" r="1.7"/><circle cx="118.5" cy="1430.8" r="1.7"/><circle cx="132.4" cy="1426.8" r="1.7"/><circle cx="102.9" cy="1405.9" r="1.7"/><circle cx="113.4" cy="1415.1" r="1.7"/><circle cx="128.0" cy="1428.8" r="1.7"/><circle cx="105.3" cy="1417.7" r="1.7"/><circle cx="140.4" cy="1414.6" r="1.7"/><circle cx="124.7" cy="1409.2" r="1.7"/><circle cx="136.7" cy="1404.7" r="1.7"/><circle cx="127.6" cy="1417.5" r="1.7"/><circle cx="122.0" cy="1401.7" r="1.7"/><circle cx="118.0" cy="1402.3" r="1.7"/><circle cx="107.2" cy="1422.4" r="1.7"/><circle cx="113.8" cy="1415.6" r="1.7"/><circle cx="134.1" cy="1405.4" r="1.7"/><circle cx="113.2" cy="1396.7" r="1.7"/><circle cx="108.9" cy="1425.3" r="1.7"/><circle cx="122.2" cy="1412.7" r="1.7"/><circle cx="121.4" cy="1415.5" r="1.7"/><circle cx="125.2" cy="1406.2" r="1.7"/><circle cx="115.8" cy="1432.3" r="1.7"/><circle cx="132.8" cy="1400.1" r="1.7"/><circle cx="126.1" cy="1417.1" r="1.7"/><circle cx="114.9" cy="1424.5" r="1.7"/><circle cx="129.9" cy="1430.9" r="1.7"/><circle cx="130.6" cy="1403.6" r="1.7"/><circle cx="133.4" cy="1427.8" r="1.7"/><circle cx="106.3" cy="1402.6" r="1.7"/><circle cx="139.6" cy="1409.4" r="1.7"/><circle cx="99.8" cy="1486.5" r="1.7"/><circle cx="75.4" cy="1485.9" r="1.7"/><circle cx="80.3" cy="1470.3" r="1.7"/><circle cx="91.5" cy="1466.8" r="1.7"/><circle cx="82.5" cy="1537.8" r="1.7"/><circle cx="86.8" cy="1551.8" r="1.7"/><circle cx="95.1" cy="1484.8" r="1.7"/><circle cx="85.5" cy="1481.5" r="1.7"/><circle cx="85.3" cy="1553.8" r="1.7"/><circle cx="76.3" cy="1480.3" r="1.7"/><circle cx="78.3" cy="1553.0" r="1.7"/><circle cx="69.9" cy="1499.3" r="1.7"/><circle cx="92.0" cy="1554.1" r="1.7"/><circle cx="96.5" cy="1495.2" r="1.7"/><circle cx="98.3" cy="1538.9" r="1.7"/><circle cx="95.5" cy="1516.2" r="1.7"/><circle cx="71.9" cy="1515.1" r="1.7"/><circle cx="80.2" cy="1559.2" r="1.7"/><circle cx="91.6" cy="1501.8" r="1.7"/><circle cx="98.4" cy="1485.9" r="1.7"/><circle cx="99.2" cy="1535.2" r="1.7"/><circle cx="82.5" cy="1495.8" r="1.7"/><circle cx="81.9" cy="1454.9" r="1.7"/><circle cx="87.2" cy="1565.0" r="1.7"/><circle cx="90.3" cy="1556.5" r="1.7"/><circle cx="91.6" cy="1538.2" r="1.7"/><circle cx="98.8" cy="1484.3" r="1.7"/><circle cx="101.9" cy="1492.3" r="1.7"/><circle cx="78.9" cy="1555.1" r="1.7"/><circle cx="83.2" cy="1539.7" r="1.7"/><circle cx="91.6" cy="1461.1" r="1.7"/><circle cx="90.3" cy="1453.3" r="1.7"/><circle cx="66.7" cy="1498.1" r="1.7"/><circle cx="69.7" cy="1536.0" r="1.7"/><circle cx="77.8" cy="1485.0" r="1.7"/><circle cx="74.6" cy="1542.7" r="1.7"/><circle cx="73.3" cy="1484.9" r="1.7"/><circle cx="82.9" cy="1548.3" r="1.7"/><circle cx="78.2" cy="1479.8" r="1.7"/><circle cx="70.4" cy="1484.8" r="1.7"/><circle cx="92.7" cy="1492.7" r="1.7"/><circle cx="77.0" cy="1475.6" r="1.7"/><circle cx="82.0" cy="1530.2" r="1.7"/><circle cx="69.0" cy="1517.7" r="1.7"/><circle cx="101.5" cy="1530.5" r="1.7"/><circle cx="90.5" cy="1457.3" r="1.7"/><circle cx="84.3" cy="1541.1" r="1.7"/><circle cx="89.4" cy="1454.8" r="1.7"/><circle cx="82.1" cy="1486.2" r="1.7"/><circle cx="87.2" cy="1506.7" r="1.7"/><circle cx="73.1" cy="1496.3" r="1.7"/><circle cx="76.1" cy="1459.8" r="1.7"/><circle cx="114.0" cy="1485.6" r="1.7"/><circle cx="133.3" cy="1539.5" r="1.7"/><circle cx="133.6" cy="1519.1" r="1.7"/><circle cx="147.2" cy="1525.6" r="1.7"/><circle cx="132.4" cy="1526.9" r="1.7"/><circle cx="148.0" cy="1508.7" r="1.7"/><circle cx="113.3" cy="1501.7" r="1.7"/><circle cx="142.8" cy="1534.8" r="1.7"/><circle cx="142.5" cy="1443.2" r="1.7"/><circle cx="154.7" cy="1509.2" r="1.7"/><circle cx="110.9" cy="1509.0" r="1.7"/><circle cx="137.3" cy="1468.3" r="1.7"/><circle cx="116.1" cy="1495.7" r="1.7"/><circle cx="122.1" cy="1513.7" r="1.7"/><circle cx="120.5" cy="1468.3" r="1.7"/><circle cx="156.7" cy="1484.6" r="1.7"/><circle cx="150.3" cy="1512.4" r="1.7"/><circle cx="124.6" cy="1483.3" r="1.7"/><circle cx="141.4" cy="1538.7" r="1.7"/><circle cx="110.4" cy="1505.8" r="1.7"/><circle cx="130.8" cy="1472.5" r="1.7"/><circle cx="164.1" cy="1503.9" r="1.7"/><circle cx="120.9" cy="1496.9" r="1.7"/><circle cx="126.6" cy="1498.1" r="1.7"/><circle cx="127.4" cy="1444.5" r="1.7"/><circle cx="112.8" cy="1513.6" r="1.7"/><circle cx="143.2" cy="1449.3" r="1.7"/><circle cx="118.6" cy="1493.0" r="1.7"/><circle cx="158.5" cy="1518.9" r="1.7"/><circle cx="213.1" cy="1376.5" r="1.7"/><circle cx="205.1" cy="1397.8" r="1.7"/><circle cx="208.2" cy="1390.4" r="1.7"/><circle cx="248.0" cy="1404.2" r="1.7"/><circle cx="218.2" cy="1444.0" r="1.7"/><circle cx="214.9" cy="1366.7" r="1.7"/><circle cx="211.1" cy="1419.3" r="1.7"/><circle cx="209.7" cy="1372.5" r="1.7"/><circle cx="237.7" cy="1379.5" r="1.7"/><circle cx="226.6" cy="1399.9" r="1.7"/><circle cx="202.2" cy="1420.9" r="1.7"/><circle cx="250.3" cy="1376.8" r="1.7"/><circle cx="206.6" cy="1413.6" r="1.7"/><circle cx="217.2" cy="1386.9" r="1.7"/><circle cx="231.2" cy="1379.8" r="1.7"/><circle cx="249.7" cy="1393.7" r="1.7"/><circle cx="225.6" cy="1387.5" r="1.7"/><circle cx="231.1" cy="1432.0" r="1.7"/><circle cx="234.9" cy="1374.7" r="1.7"/><circle cx="236.0" cy="1434.2" r="1.7"/><circle cx="227.2" cy="1388.4" r="1.7"/><circle cx="227.1" cy="1410.9" r="1.7"/><circle cx="221.6" cy="1418.1" r="1.7"/><circle cx="224.6" cy="1405.4" r="1.7"/><circle cx="250.3" cy="1396.0" r="1.7"/><circle cx="253.2" cy="1390.5" r="1.7"/><circle cx="245.3" cy="1383.4" r="1.7"/><circle cx="249.4" cy="1406.5" r="1.7"/><circle cx="229.0" cy="1384.9" r="1.7"/><circle cx="231.1" cy="1388.2" r="1.7"/><circle cx="225.8" cy="1433.9" r="1.7"/><circle cx="248.9" cy="1417.5" r="1.7"/><circle cx="249.0" cy="1405.1" r="1.7"/><circle cx="256.8" cy="1409.7" r="1.7"/><circle cx="222.3" cy="1416.9" r="1.7"/><circle cx="240.6" cy="1387.6" r="1.7"/><circle cx="201.6" cy="1399.9" r="1.7"/><circle cx="204.6" cy="1406.2" r="1.7"/><circle cx="208.9" cy="1376.7" r="1.7"/><circle cx="240.2" cy="1393.5" r="1.7"/><circle cx="226.8" cy="1415.6" r="1.7"/><circle cx="233.2" cy="1390.9" r="1.7"/><circle cx="232.1" cy="1444.5" r="1.7"/><circle cx="229.9" cy="1444.8" r="1.7"/><circle cx="226.9" cy="1446.2" r="1.7"/><circle cx="202.5" cy="1418.8" r="1.7"/><circle cx="235.2" cy="1449.2" r="1.7"/><circle cx="249.8" cy="1402.4" r="1.7"/><circle cx="223.1" cy="1426.2" r="1.7"/><circle cx="210.8" cy="1415.0" r="1.7"/><circle cx="226.5" cy="1413.2" r="1.7"/><circle cx="245.5" cy="1388.7" r="1.7"/><circle cx="253.4" cy="1437.5" r="1.7"/><circle cx="245.4" cy="1377.6" r="1.7"/><circle cx="243.7" cy="1405.6" r="1.7"/><circle cx="239.2" cy="1414.5" r="1.7"/><circle cx="243.3" cy="1395.4" r="1.7"/><circle cx="331.7" cy="1332.8" r="1.7"/><circle cx="266.5" cy="1297.8" r="1.7"/><circle cx="286.8" cy="1314.5" r="1.7"/><circle cx="375.0" cy="1307.3" r="1.7"/><circle cx="351.2" cy="1311.4" r="1.7"/><circle cx="364.3" cy="1331.4" r="1.7"/><circle cx="343.8" cy="1323.6" r="1.7"/><circle cx="344.6" cy="1300.5" r="1.7"/><circle cx="376.8" cy="1312.7" r="1.7"/><circle cx="307.2" cy="1324.0" r="1.7"/><circle cx="316.2" cy="1318.7" r="1.7"/><circle cx="351.0" cy="1286.9" r="1.7"/><circle cx="322.4" cy="1324.8" r="1.7"/><circle cx="298.0" cy="1292.4" r="1.7"/><circle cx="368.3" cy="1290.6" r="1.7"/><circle cx="283.6" cy="1290.3" r="1.7"/><circle cx="299.8" cy="1321.1" r="1.7"/><circle cx="315.5" cy="1303.7" r="1.7"/><circle cx="290.8" cy="1331.7" r="1.7"/><circle cx="274.2" cy="1301.8" r="1.7"/><circle cx="377.4" cy="1325.4" r="1.7"/><circle cx="332.1" cy="1281.9" r="1.7"/><circle cx="329.9" cy="1343.9" r="1.7"/><circle cx="270.9" cy="1307.9" r="1.7"/><circle cx="299.4" cy="1296.1" r="1.7"/><circle cx="297.1" cy="1325.4" r="1.7"/><circle cx="307.6" cy="1320.9" r="1.7"/><circle cx="364.1" cy="1297.0" r="1.7"/><circle cx="332.8" cy="1300.2" r="1.7"/><circle cx="354.7" cy="1329.2" r="1.7"/><circle cx="351.9" cy="1308.5" r="1.7"/><circle cx="320.0" cy="1293.8" r="1.7"/><circle cx="306.3" cy="1295.6" r="1.7"/><circle cx="287.2" cy="1295.1" r="1.7"/><circle cx="333.3" cy="1308.3" r="1.7"/><circle cx="351.1" cy="1319.6" r="1.7"/><circle cx="355.8" cy="1283.9" r="1.7"/><circle cx="297.9" cy="1304.8" r="1.7"/><circle cx="335.4" cy="1326.0" r="1.7"/><circle cx="372.8" cy="1294.7" r="1.7"/><circle cx="272.7" cy="1292.1" r="1.7"/><circle cx="292.3" cy="1282.5" r="1.7"/><circle cx="354.0" cy="1313.5" r="1.7"/><circle cx="330.5" cy="1297.7" r="1.7"/><circle cx="324.2" cy="1328.3" r="1.7"/><circle cx="307.2" cy="1342.1" r="1.7"/><circle cx="331.2" cy="1277.1" r="1.7"/><circle cx="272.7" cy="1308.7" r="1.7"/><circle cx="315.0" cy="1288.7" r="1.7"/><circle cx="326.6" cy="1317.3" r="1.7"/><circle cx="269.2" cy="1297.6" r="1.7"/><circle cx="339.2" cy="1295.6" r="1.7"/><circle cx="368.9" cy="1334.1" r="1.7"/><circle cx="312.9" cy="1292.0" r="1.7"/><circle cx="290.5" cy="1308.3" r="1.7"/><circle cx="336.4" cy="1319.6" r="1.7"/><circle cx="309.6" cy="1338.9" r="1.7"/><circle cx="367.6" cy="1329.6" r="1.7"/><circle cx="293.9" cy="1339.5" r="1.7"/><circle cx="333.1" cy="1293.0" r="1.7"/><circle cx="302.0" cy="1330.6" r="1.7"/><circle cx="367.7" cy="1287.1" r="1.7"/><circle cx="264.4" cy="1326.5" r="1.7"/><circle cx="328.9" cy="1287.7" r="1.7"/><circle cx="279.6" cy="1296.3" r="1.7"/><circle cx="333.4" cy="1328.6" r="1.7"/><circle cx="362.9" cy="1292.0" r="1.7"/><circle cx="292.3" cy="1321.6" r="1.7"/><circle cx="288.3" cy="1310.3" r="1.7"/><circle cx="309.1" cy="1295.9" r="1.7"/><circle cx="288.0" cy="1282.7" r="1.7"/><circle cx="333.5" cy="1342.6" r="1.7"/><circle cx="324.7" cy="1305.1" r="1.7"/><circle cx="310.3" cy="1326.8" r="1.7"/><circle cx="261.8" cy="1317.4" r="1.7"/><circle cx="350.1" cy="1295.9" r="1.7"/><circle cx="334.7" cy="1299.5" r="1.7"/><circle cx="344.8" cy="1324.6" r="1.7"/><circle cx="325.2" cy="1343.0" r="1.7"/><circle cx="342.9" cy="1299.4" r="1.7"/><circle cx="322.2" cy="1342.4" r="1.7"/><circle cx="363.6" cy="1319.9" r="1.7"/><circle cx="362.7" cy="1312.5" r="1.7"/><circle cx="302.6" cy="1291.5" r="1.7"/><circle cx="341.9" cy="1311.7" r="1.7"/><circle cx="347.8" cy="1284.3" r="1.7"/><circle cx="314.5" cy="1326.5" r="1.7"/><circle cx="361.9" cy="1292.5" r="1.7"/><circle cx="284.6" cy="1324.2" r="1.7"/><circle cx="363.3" cy="1301.3" r="1.7"/><circle cx="306.3" cy="1290.3" r="1.7"/><circle cx="424.8" cy="1407.8" r="1.7"/><circle cx="402.0" cy="1410.6" r="1.7"/><circle cx="391.4" cy="1404.7" r="1.7"/><circle cx="432.3" cy="1373.8" r="1.7"/><circle cx="421.0" cy="1434.5" r="1.7"/><circle cx="394.5" cy="1439.2" r="1.7"/><circle cx="413.4" cy="1392.3" r="1.7"/><circle cx="446.4" cy="1403.8" r="1.7"/><circle cx="386.4" cy="1416.6" r="1.7"/><circle cx="392.2" cy="1425.6" r="1.7"/><circle cx="450.7" cy="1424.6" r="1.7"/><circle cx="409.5" cy="1384.8" r="1.7"/><circle cx="405.3" cy="1386.8" r="1.7"/><circle cx="384.6" cy="1415.8" r="1.7"/><circle cx="458.8" cy="1406.2" r="1.7"/><circle cx="411.2" cy="1396.6" r="1.7"/><circle cx="399.5" cy="1380.1" r="1.7"/><circle cx="410.1" cy="1371.3" r="1.7"/><circle cx="438.0" cy="1381.1" r="1.7"/><circle cx="379.8" cy="1438.1" r="1.7"/><circle cx="411.9" cy="1420.5" r="1.7"/><circle cx="406.3" cy="1381.5" r="1.7"/><circle cx="439.7" cy="1389.7" r="1.7"/><circle cx="378.3" cy="1386.4" r="1.7"/><circle cx="423.0" cy="1389.0" r="1.7"/><circle cx="392.3" cy="1377.1" r="1.7"/><circle cx="438.4" cy="1362.2" r="1.7"/><circle cx="436.0" cy="1442.1" r="1.7"/><circle cx="392.0" cy="1402.7" r="1.7"/><circle cx="448.3" cy="1443.8" r="1.7"/><circle cx="462.0" cy="1424.2" r="1.7"/><circle cx="442.5" cy="1425.3" r="1.7"/><circle cx="418.5" cy="1428.9" r="1.7"/><circle cx="465.5" cy="1396.8" r="1.7"/><circle cx="440.1" cy="1359.7" r="1.7"/><circle cx="375.9" cy="1411.7" r="1.7"/><circle cx="464.7" cy="1410.2" r="1.7"/><circle cx="403.7" cy="1359.3" r="1.7"/><circle cx="376.0" cy="1398.6" r="1.7"/><circle cx="463.7" cy="1404.6" r="1.7"/><circle cx="434.7" cy="1358.1" r="1.7"/><circle cx="455.0" cy="1397.8" r="1.7"/><circle cx="377.9" cy="1424.3" r="1.7"/><circle cx="464.8" cy="1424.3" r="1.7"/><circle cx="407.6" cy="1429.8" r="1.7"/><circle cx="402.1" cy="1417.2" r="1.7"/><circle cx="428.3" cy="1384.1" r="1.7"/><circle cx="433.5" cy="1366.5" r="1.7"/><circle cx="419.4" cy="1452.4" r="1.7"/><circle cx="418.0" cy="1455.7" r="1.7"/><circle cx="406.8" cy="1415.8" r="1.7"/><circle cx="424.2" cy="1447.0" r="1.7"/><circle cx="427.8" cy="1364.8" r="1.7"/><circle cx="422.6" cy="1428.1" r="1.7"/><circle cx="418.6" cy="1412.6" r="1.7"/><circle cx="427.9" cy="1452.9" r="1.7"/><circle cx="438.2" cy="1448.2" r="1.7"/><circle cx="394.4" cy="1382.2" r="1.7"/><circle cx="461.9" cy="1415.9" r="1.7"/><circle cx="370.7" cy="1415.1" r="1.7"/><circle cx="470.2" cy="1408.1" r="1.7"/><circle cx="411.8" cy="1376.3" r="1.7"/><circle cx="426.2" cy="1359.2" r="1.7"/><circle cx="446.1" cy="1398.5" r="1.7"/><circle cx="395.6" cy="1420.7" r="1.7"/><circle cx="387.7" cy="1422.3" r="1.7"/><circle cx="407.6" cy="1436.1" r="1.7"/><circle cx="418.6" cy="1453.6" r="1.7"/><circle cx="427.9" cy="1392.4" r="1.7"/><circle cx="400.0" cy="1373.1" r="1.7"/><circle cx="387.2" cy="1367.4" r="1.7"/><circle cx="379.0" cy="1397.7" r="1.7"/><circle cx="442.3" cy="1396.2" r="1.7"/><circle cx="382.8" cy="1438.9" r="1.7"/><circle cx="418.7" cy="1412.2" r="1.7"/><circle cx="447.9" cy="1447.1" r="1.7"/><circle cx="445.0" cy="1415.3" r="1.7"/><circle cx="400.7" cy="1399.2" r="1.7"/><circle cx="444.7" cy="1392.8" r="1.7"/><circle cx="407.5" cy="1415.9" r="1.7"/><circle cx="373.0" cy="1389.8" r="1.7"/><circle cx="385.4" cy="1426.9" r="1.7"/><circle cx="424.3" cy="1444.4" r="1.7"/><circle cx="436.3" cy="1434.7" r="1.7"/><circle cx="413.1" cy="1432.3" r="1.7"/><circle cx="414.3" cy="1491.0" r="1.7"/><circle cx="378.8" cy="1480.4" r="1.7"/><circle cx="404.0" cy="1491.7" r="1.7"/><circle cx="381.0" cy="1473.2" r="1.7"/><circle cx="407.5" cy="1493.0" r="1.7"/><circle cx="376.8" cy="1497.0" r="1.7"/><circle cx="361.1" cy="1477.6" r="1.7"/><circle cx="375.6" cy="1505.7" r="1.7"/><circle cx="409.4" cy="1465.3" r="1.7"/><circle cx="376.1" cy="1448.3" r="1.7"/><circle cx="370.2" cy="1485.1" r="1.7"/><circle cx="386.0" cy="1485.1" r="1.7"/><circle cx="377.5" cy="1479.9" r="1.7"/><circle cx="404.4" cy="1466.5" r="1.7"/><circle cx="368.4" cy="1468.1" r="1.7"/><circle cx="360.6" cy="1488.9" r="1.7"/><circle cx="356.4" cy="1468.4" r="1.7"/><circle cx="373.6" cy="1452.2" r="1.7"/><circle cx="405.8" cy="1451.9" r="1.7"/><circle cx="398.0" cy="1499.8" r="1.7"/><circle cx="359.6" cy="1472.0" r="1.7"/><circle cx="389.2" cy="1486.0" r="1.7"/><circle cx="411.9" cy="1497.7" r="1.7"/><circle cx="394.0" cy="1485.0" r="1.7"/><circle cx="412.3" cy="1484.1" r="1.7"/><circle cx="379.2" cy="1497.1" r="1.7"/><circle cx="360.3" cy="1478.3" r="1.7"/><circle cx="399.3" cy="1491.1" r="1.7"/><circle cx="401.2" cy="1504.9" r="1.7"/><circle cx="399.8" cy="1463.4" r="1.7"/><circle cx="411.0" cy="1472.7" r="1.7"/><circle cx="405.6" cy="1462.2" r="1.7"/><circle cx="382.7" cy="1494.2" r="1.7"/><circle cx="404.7" cy="1473.9" r="1.7"/><circle cx="357.7" cy="1484.7" r="1.7"/><circle cx="416.8" cy="1461.3" r="1.7"/><circle cx="418.9" cy="1465.6" r="1.7"/><circle cx="399.0" cy="1454.5" r="1.7"/><circle cx="369.3" cy="1566.2" r="1.7"/><circle cx="375.8" cy="1579.4" r="1.7"/><circle cx="382.1" cy="1587.8" r="1.7"/><circle cx="351.7" cy="1585.6" r="1.7"/><circle cx="363.8" cy="1545.0" r="1.7"/><circle cx="381.9" cy="1551.9" r="1.7"/><circle cx="370.8" cy="1555.7" r="1.7"/><circle cx="358.0" cy="1580.5" r="1.7"/><circle cx="350.5" cy="1560.0" r="1.7"/><circle cx="372.1" cy="1574.1" r="1.7"/><circle cx="394.9" cy="1551.8" r="1.7"/><circle cx="349.5" cy="1549.9" r="1.7"/><circle cx="362.8" cy="1561.0" r="1.7"/><circle cx="359.7" cy="1577.1" r="1.7"/><circle cx="358.3" cy="1581.1" r="1.7"/><circle cx="364.5" cy="1539.8" r="1.7"/><circle cx="347.8" cy="1584.9" r="1.7"/><circle cx="390.7" cy="1543.1" r="1.7"/><circle cx="402.7" cy="1569.6" r="1.7"/><circle cx="376.1" cy="1545.2" r="1.7"/><circle cx="385.7" cy="1554.2" r="1.7"/><circle cx="356.2" cy="1583.1" r="1.7"/><circle cx="359.7" cy="1543.6" r="1.7"/><circle cx="355.2" cy="1574.7" r="1.7"/><circle cx="392.4" cy="1558.1" r="1.7"/><circle cx="375.1" cy="1543.7" r="1.7"/><circle cx="384.4" cy="1558.3" r="1.7"/><circle cx="384.0" cy="1564.8" r="1.7"/><circle cx="376.2" cy="1562.5" r="1.7"/><circle cx="395.7" cy="1576.6" r="1.7"/><circle cx="353.2" cy="1587.3" r="1.7"/><circle cx="387.3" cy="1580.8" r="1.7"/><circle cx="131.3" cy="1613.0" r="1.7"/><circle cx="130.8" cy="1638.8" r="1.7"/><circle cx="134.4" cy="1579.0" r="1.7"/><circle cx="205.4" cy="1638.1" r="1.7"/><circle cx="194.9" cy="1593.8" r="1.7"/><circle cx="193.0" cy="1591.0" r="1.7"/><circle cx="147.6" cy="1601.8" r="1.7"/><circle cx="157.2" cy="1593.1" r="1.7"/><circle cx="171.1" cy="1647.4" r="1.7"/><circle cx="138.5" cy="1592.8" r="1.7"/><circle cx="167.6" cy="1613.5" r="1.7"/><circle cx="139.0" cy="1586.2" r="1.7"/><circle cx="162.1" cy="1601.8" r="1.7"/><circle cx="146.7" cy="1578.3" r="1.7"/><circle cx="189.2" cy="1580.9" r="1.7"/><circle cx="182.1" cy="1575.2" r="1.7"/><circle cx="132.5" cy="1594.2" r="1.7"/><circle cx="183.9" cy="1654.4" r="1.7"/><circle cx="128.5" cy="1644.8" r="1.7"/><circle cx="207.9" cy="1581.5" r="1.7"/><circle cx="129.6" cy="1646.0" r="1.7"/><circle cx="195.7" cy="1629.4" r="1.7"/><circle cx="142.6" cy="1610.3" r="1.7"/><circle cx="133.9" cy="1602.3" r="1.7"/><circle cx="178.7" cy="1645.4" r="1.7"/><circle cx="155.1" cy="1633.2" r="1.7"/><circle cx="142.7" cy="1626.9" r="1.7"/><circle cx="199.1" cy="1599.0" r="1.7"/><circle cx="195.2" cy="1623.1" r="1.7"/><circle cx="138.4" cy="1614.1" r="1.7"/><circle cx="194.8" cy="1609.0" r="1.7"/><circle cx="135.4" cy="1604.1" r="1.7"/><circle cx="114.0" cy="1628.5" r="1.7"/><circle cx="200.7" cy="1573.7" r="1.7"/><circle cx="137.8" cy="1603.5" r="1.7"/><circle cx="173.1" cy="1654.2" r="1.7"/><circle cx="127.2" cy="1621.1" r="1.7"/><circle cx="179.7" cy="1643.0" r="1.7"/><circle cx="119.0" cy="1626.6" r="1.7"/><circle cx="170.6" cy="1631.5" r="1.7"/><circle cx="193.2" cy="1616.7" r="1.7"/><circle cx="183.1" cy="1584.6" r="1.7"/><circle cx="211.9" cy="1603.0" r="1.7"/><circle cx="152.3" cy="1608.7" r="1.7"/><circle cx="192.3" cy="1641.7" r="1.7"/><circle cx="176.2" cy="1595.4" r="1.7"/><circle cx="195.9" cy="1572.0" r="1.7"/><circle cx="225.2" cy="1615.3" r="1.7"/><circle cx="182.5" cy="1654.4" r="1.7"/><circle cx="162.0" cy="1635.7" r="1.7"/><circle cx="169.7" cy="1569.8" r="1.7"/><circle cx="222.8" cy="1628.4" r="1.7"/><circle cx="217.1" cy="1493.1" r="1.7"/><circle cx="208.8" cy="1482.6" r="1.7"/><circle cx="204.1" cy="1524.9" r="1.7"/><circle cx="214.6" cy="1490.9" r="1.7"/><circle cx="197.1" cy="1519.8" r="1.7"/><circle cx="211.4" cy="1479.0" r="1.7"/><circle cx="235.0" cy="1523.7" r="1.7"/><circle cx="201.5" cy="1506.2" r="1.7"/><circle cx="203.7" cy="1488.6" r="1.7"/><circle cx="220.1" cy="1495.1" r="1.7"/><circle cx="214.7" cy="1526.7" r="1.7"/><circle cx="223.4" cy="1489.7" r="1.7"/><circle cx="195.5" cy="1499.6" r="1.7"/><circle cx="221.5" cy="1526.0" r="1.7"/><circle cx="224.3" cy="1501.4" r="1.7"/><circle cx="219.8" cy="1533.7" r="1.7"/><circle cx="219.0" cy="1495.6" r="1.7"/><circle cx="203.2" cy="1512.4" r="1.7"/><circle cx="209.9" cy="1522.6" r="1.7"/><circle cx="221.3" cy="1502.7" r="1.7"/><circle cx="216.1" cy="1505.8" r="1.7"/><circle cx="210.0" cy="1510.2" r="1.7"/><circle cx="206.4" cy="1484.6" r="1.7"/><circle cx="224.5" cy="1515.4" r="1.7"/><circle cx="218.6" cy="1487.0" r="1.7"/><circle cx="373.6" cy="1634.9" r="1.7"/><circle cx="365.8" cy="1615.6" r="1.7"/><circle cx="387.1" cy="1624.1" r="1.7"/><circle cx="355.9" cy="1625.3" r="1.7"/><circle cx="355.0" cy="1630.0" r="1.7"/><circle cx="359.7" cy="1628.7" r="1.7"/><circle cx="404.0" cy="1635.5" r="1.7"/><circle cx="359.8" cy="1619.1" r="1.7"/><circle cx="399.3" cy="1629.9" r="1.7"/><circle cx="401.0" cy="1636.7" r="1.7"/><circle cx="357.8" cy="1632.9" r="1.7"/><circle cx="353.2" cy="1630.7" r="1.7"/><circle cx="418.0" cy="1540.6" r="1.7"/><circle cx="421.8" cy="1513.9" r="1.7"/><circle cx="424.3" cy="1531.9" r="1.7"/><circle cx="424.1" cy="1524.7" r="1.7"/><circle cx="414.1" cy="1543.1" r="1.7"/><circle cx="425.6" cy="1533.3" r="1.7"/><circle cx="431.0" cy="1521.9" r="1.7"/><circle cx="418.1" cy="1522.4" r="1.7"/><circle cx="425.5" cy="1531.6" r="1.7"/><circle cx="417.6" cy="1542.8" r="1.7"/><circle cx="426.9" cy="1527.0" r="1.7"/><circle cx="423.3" cy="1531.8" r="1.7"/><circle cx="418.4" cy="1544.7" r="1.7"/><circle cx="415.7" cy="1520.9" r="1.7"/><circle cx="417.1" cy="1521.3" r="1.7"/><circle cx="423.6" cy="1508.8" r="1.7"/><circle cx="415.0" cy="1541.2" r="1.7"/><circle cx="176.4" cy="1458.0" r="1.7"/><circle cx="213.7" cy="1302.6" r="1.7"/><circle cx="439.3" cy="1373.4" r="1.7"/><circle cx="127.9" cy="1352.7" r="1.7"/><circle cx="259.5" cy="1415.5" r="1.7"/><circle cx="158.7" cy="1312.0" r="1.7"/><circle cx="373.1" cy="1344.6" r="1.7"/><circle cx="282.4" cy="1288.0" r="1.7"/><circle cx="77.3" cy="1433.8" r="1.7"/><circle cx="354.5" cy="1569.2" r="1.7"/><circle cx="226.1" cy="1414.8" r="1.7"/><circle cx="364.9" cy="1422.6" r="1.7"/><circle cx="298.5" cy="1303.1" r="1.7"/><circle cx="120.7" cy="1326.5" r="1.7"/><circle cx="294.9" cy="1411.2" r="1.7"/><circle cx="98.7" cy="1510.9" r="1.7"/><circle cx="174.9" cy="1524.5" r="1.7"/><circle cx="224.0" cy="1548.6" r="1.7"/><circle cx="410.6" cy="1441.3" r="1.7"/><circle cx="322.0" cy="1344.6" r="1.7"/></g>
<g fill="#6cd6e6"><circle cx="96.4" cy="1314.4" r="1.7"/><circle cx="110.5" cy="1309.5" r="1.7"/><circle cx="99.3" cy="1305.7" r="1.7"/><circle cx="96.5" cy="1312.0" r="1.7"/><circle cx="105.9" cy="1298.8" r="1.7"/><circle cx="103.9" cy="1299.1" r="1.7"/><circle cx="109.0" cy="1296.3" r="1.7"/><circle cx="89.6" cy="1293.5" r="1.7"/><circle cx="103.1" cy="1266.6" r="1.7"/><circle cx="96.2" cy="1290.9" r="1.7"/><circle cx="84.6" cy="1293.5" r="1.7"/><circle cx="103.8" cy="1270.5" r="1.7"/><circle cx="102.4" cy="1317.2" r="1.7"/><circle cx="106.5" cy="1261.2" r="1.7"/><circle cx="112.2" cy="1386.5" r="1.7"/><circle cx="135.7" cy="1363.1" r="1.7"/><circle cx="88.3" cy="1341.5" r="1.7"/><circle cx="103.3" cy="1369.5" r="1.7"/><circle cx="88.6" cy="1366.8" r="1.7"/><circle cx="111.1" cy="1368.4" r="1.7"/><circle cx="100.5" cy="1365.1" r="1.7"/><circle cx="110.9" cy="1384.0" r="1.7"/><circle cx="104.2" cy="1367.4" r="1.7"/><circle cx="106.0" cy="1361.1" r="1.7"/><circle cx="106.1" cy="1344.6" r="1.7"/><circle cx="131.6" cy="1353.8" r="1.7"/><circle cx="134.5" cy="1367.2" r="1.7"/><circle cx="121.8" cy="1347.3" r="1.7"/><circle cx="117.4" cy="1382.1" r="1.7"/><circle cx="117.8" cy="1332.7" r="1.7"/><circle cx="110.9" cy="1371.9" r="1.7"/><circle cx="80.9" cy="1354.8" r="1.7"/><circle cx="87.7" cy="1359.4" r="1.7"/><circle cx="87.5" cy="1354.3" r="1.7"/><circle cx="126.0" cy="1350.1" r="1.7"/><circle cx="117.9" cy="1334.0" r="1.7"/><circle cx="117.5" cy="1342.4" r="1.7"/><circle cx="121.5" cy="1372.3" r="1.7"/><circle cx="92.6" cy="1355.4" r="1.7"/><circle cx="104.3" cy="1377.4" r="1.7"/><circle cx="130.0" cy="1344.8" r="1.7"/><circle cx="131.9" cy="1369.9" r="1.7"/><circle cx="122.3" cy="1350.7" r="1.7"/><circle cx="95.4" cy="1377.0" r="1.7"/><circle cx="122.2" cy="1365.9" r="1.7"/><circle cx="123.7" cy="1359.2" r="1.7"/><circle cx="98.8" cy="1377.2" r="1.7"/><circle cx="102.2" cy="1331.8" r="1.7"/><circle cx="113.2" cy="1348.6" r="1.7"/><circle cx="103.9" cy="1375.9" r="1.7"/><circle cx="88.1" cy="1373.0" r="1.7"/><circle cx="102.9" cy="1383.1" r="1.7"/><circle cx="124.9" cy="1353.9" r="1.7"/><circle cx="106.9" cy="1332.4" r="1.7"/><circle cx="83.8" cy="1360.6" r="1.7"/><circle cx="127.2" cy="1345.4" r="1.7"/><circle cx="117.3" cy="1370.6" r="1.7"/><circle cx="119.5" cy="1341.0" r="1.7"/><circle cx="134.0" cy="1367.9" r="1.7"/><circle cx="92.9" cy="1379.4" r="1.7"/><circle cx="130.1" cy="1360.5" r="1.7"/><circle cx="98.8" cy="1345.6" r="1.7"/><circle cx="100.2" cy="1364.3" r="1.7"/><circle cx="119.2" cy="1369.5" r="1.7"/><circle cx="126.9" cy="1370.4" r="1.7"/><circle cx="93.6" cy="1383.8" r="1.7"/><circle cx="125.7" cy="1376.3" r="1.7"/><circle cx="113.6" cy="1377.7" r="1.7"/><circle cx="99.8" cy="1382.7" r="1.7"/><circle cx="133.7" cy="1351.4" r="1.7"/><circle cx="130.0" cy="1372.6" r="1.7"/><circle cx="84.5" cy="1346.3" r="1.7"/><circle cx="135.3" cy="1402.8" r="1.7"/><circle cx="129.9" cy="1399.2" r="1.7"/><circle cx="131.3" cy="1411.8" r="1.7"/><circle cx="99.2" cy="1416.7" r="1.7"/><circle cx="129.4" cy="1421.2" r="1.7"/><circle cx="105.5" cy="1425.8" r="1.7"/><circle cx="117.7" cy="1398.0" r="1.7"/><circle cx="94.0" cy="1487.0" r="1.7"/><circle cx="74.1" cy="1525.7" r="1.7"/><circle cx="90.7" cy="1503.0" r="1.7"/><circle cx="88.8" cy="1512.7" r="1.7"/><circle cx="79.0" cy="1482.9" r="1.7"/><circle cx="84.3" cy="1451.4" r="1.7"/><circle cx="94.4" cy="1514.4" r="1.7"/><circle cx="86.3" cy="1537.2" r="1.7"/><circle cx="95.1" cy="1469.6" r="1.7"/><circle cx="72.1" cy="1482.5" r="1.7"/><circle cx="91.1" cy="1468.7" r="1.7"/><circle cx="74.9" cy="1498.8" r="1.7"/><circle cx="89.2" cy="1450.5" r="1.7"/><circle cx="70.2" cy="1468.7" r="1.7"/><circle cx="71.7" cy="1533.9" r="1.7"/><circle cx="75.7" cy="1498.8" r="1.7"/><circle cx="85.8" cy="1498.0" r="1.7"/><circle cx="75.1" cy="1474.9" r="1.7"/><circle cx="158.5" cy="1500.7" r="1.7"/><circle cx="150.4" cy="1459.8" r="1.7"/><circle cx="127.6" cy="1521.7" r="1.7"/><circle cx="135.5" cy="1443.2" r="1.7"/><circle cx="121.7" cy="1468.4" r="1.7"/><circle cx="121.7" cy="1466.2" r="1.7"/><circle cx="113.1" cy="1494.0" r="1.7"/><circle cx="134.3" cy="1522.0" r="1.7"/><circle cx="117.5" cy="1475.5" r="1.7"/><circle cx="143.0" cy="1512.2" r="1.7"/><circle cx="125.9" cy="1540.6" r="1.7"/><circle cx="140.6" cy="1542.0" r="1.7"/><circle cx="147.2" cy="1493.1" r="1.7"/><circle cx="141.7" cy="1546.7" r="1.7"/><circle cx="127.7" cy="1523.9" r="1.7"/><circle cx="120.0" cy="1514.1" r="1.7"/><circle cx="127.3" cy="1455.6" r="1.7"/><circle cx="146.4" cy="1500.0" r="1.7"/><circle cx="150.3" cy="1537.0" r="1.7"/><circle cx="147.6" cy="1505.8" r="1.7"/><circle cx="135.7" cy="1504.1" r="1.7"/><circle cx="157.8" cy="1525.7" r="1.7"/><circle cx="141.3" cy="1446.1" r="1.7"/><circle cx="126.6" cy="1460.4" r="1.7"/><circle cx="123.5" cy="1450.5" r="1.7"/><circle cx="142.4" cy="1455.4" r="1.7"/><circle cx="160.1" cy="1499.9" r="1.7"/><circle cx="148.4" cy="1483.8" r="1.7"/><circle cx="147.1" cy="1466.9" r="1.7"/><circle cx="162.2" cy="1509.5" r="1.7"/><circle cx="120.4" cy="1454.5" r="1.7"/><circle cx="115.1" cy="1489.2" r="1.7"/><circle cx="122.0" cy="1458.0" r="1.7"/><circle cx="135.6" cy="1484.9" r="1.7"/><circle cx="144.1" cy="1500.8" r="1.7"/><circle cx="130.9" cy="1527.5" r="1.7"/><circle cx="143.8" cy="1488.6" r="1.7"/><circle cx="163.4" cy="1500.6" r="1.7"/><circle cx="121.8" cy="1542.4" r="1.7"/><circle cx="108.1" cy="1501.0" r="1.7"/><circle cx="144.0" cy="1480.9" r="1.7"/><circle cx="234.2" cy="1445.1" r="1.7"/><circle cx="240.7" cy="1432.4" r="1.7"/><circle cx="223.7" cy="1384.3" r="1.7"/><circle cx="213.5" cy="1412.5" r="1.7"/><circle cx="250.8" cy="1401.3" r="1.7"/><circle cx="227.0" cy="1361.4" r="1.7"/><circle cx="216.8" cy="1435.7" r="1.7"/><circle cx="255.3" cy="1396.2" r="1.7"/><circle cx="219.7" cy="1417.2" r="1.7"/><circle cx="207.8" cy="1400.9" r="1.7"/><circle cx="214.9" cy="1445.6" r="1.7"/><circle cx="245.1" cy="1381.0" r="1.7"/><circle cx="249.4" cy="1378.5" r="1.7"/><circle cx="212.8" cy="1422.0" r="1.7"/><circle cx="221.5" cy="1425.5" r="1.7"/><circle cx="228.8" cy="1375.5" r="1.7"/><circle cx="215.3" cy="1414.5" r="1.7"/><circle cx="252.9" cy="1391.3" r="1.7"/><circle cx="212.2" cy="1434.5" r="1.7"/><circle cx="211.4" cy="1381.1" r="1.7"/><circle cx="248.8" cy="1436.5" r="1.7"/><circle cx="204.7" cy="1422.5" r="1.7"/><circle cx="203.4" cy="1425.8" r="1.7"/><circle cx="251.6" cy="1425.4" r="1.7"/><circle cx="202.1" cy="1389.5" r="1.7"/><circle cx="239.8" cy="1423.0" r="1.7"/><circle cx="210.2" cy="1406.7" r="1.7"/><circle cx="212.7" cy="1427.0" r="1.7"/><circle cx="233.6" cy="1378.6" r="1.7"/><circle cx="221.3" cy="1434.3" r="1.7"/><circle cx="223.2" cy="1397.0" r="1.7"/><circle cx="239.9" cy="1402.9" r="1.7"/><circle cx="262.3" cy="1413.8" r="1.7"/><circle cx="247.4" cy="1405.0" r="1.7"/><circle cx="207.7" cy="1439.1" r="1.7"/><circle cx="232.9" cy="1424.6" r="1.7"/><circle cx="242.8" cy="1374.2" r="1.7"/><circle cx="211.8" cy="1439.0" r="1.7"/><circle cx="237.4" cy="1363.3" r="1.7"/><circle cx="203.6" cy="1431.6" r="1.7"/><circle cx="227.9" cy="1383.7" r="1.7"/><circle cx="248.4" cy="1442.5" r="1.7"/><circle cx="232.9" cy="1409.1" r="1.7"/><circle cx="223.4" cy="1449.2" r="1.7"/><circle cx="245.8" cy="1397.0" r="1.7"/><circle cx="236.7" cy="1410.4" r="1.7"/><circle cx="252.3" cy="1375.3" r="1.7"/><circle cx="258.2" cy="1404.9" r="1.7"/><circle cx="225.9" cy="1391.5" r="1.7"/><circle cx="260.3" cy="1390.3" r="1.7"/><circle cx="231.7" cy="1384.1" r="1.7"/><circle cx="251.6" cy="1374.7" r="1.7"/><circle cx="215.0" cy="1401.7" r="1.7"/><circle cx="313.3" cy="1283.5" r="1.7"/><circle cx="349.0" cy="1344.3" r="1.7"/><circle cx="326.7" cy="1329.6" r="1.7"/><circle cx="281.0" cy="1303.1" r="1.7"/><circle cx="278.2" cy="1307.2" r="1.7"/><circle cx="265.1" cy="1306.8" r="1.7"/><circle cx="298.3" cy="1323.6" r="1.7"/><circle cx="333.4" cy="1288.1" r="1.7"/><circle cx="354.7" cy="1284.3" r="1.7"/><circle cx="289.6" cy="1336.2" r="1.7"/><circle cx="282.3" cy="1287.7" r="1.7"/><circle cx="334.2" cy="1329.4" r="1.7"/><circle cx="374.0" cy="1329.3" r="1.7"/><circle cx="356.4" cy="1298.6" r="1.7"/><circle cx="364.2" cy="1309.2" r="1.7"/><circle cx="353.7" cy="1316.9" r="1.7"/><circle cx="310.9" cy="1289.5" r="1.7"/><circle cx="287.5" cy="1319.7" r="1.7"/><circle cx="335.7" cy="1290.9" r="1.7"/><circle cx="281.2" cy="1318.2" r="1.7"/><circle cx="338.6" cy="1335.4" r="1.7"/><circle cx="388.4" cy="1306.4" r="1.7"/><circle cx="367.5" cy="1291.1" r="1.7"/><circle cx="290.4" cy="1282.2" r="1.7"/><circle cx="355.3" cy="1306.6" r="1.7"/><circle cx="336.7" cy="1340.8" r="1.7"/><circle cx="328.9" cy="1329.7" r="1.7"/><circle cx="361.7" cy="1284.4" r="1.7"/><circle cx="338.8" cy="1299.3" r="1.7"/><circle cx="353.4" cy="1290.9" r="1.7"/><circle cx="264.1" cy="1321.7" r="1.7"/><circle cx="303.9" cy="1298.5" r="1.7"/><circle cx="349.3" cy="1335.8" r="1.7"/><circle cx="280.9" cy="1325.5" r="1.7"/><circle cx="279.6" cy="1299.5" r="1.7"/><circle cx="355.1" cy="1317.0" r="1.7"/><circle cx="292.6" cy="1323.8" r="1.7"/><circle cx="268.4" cy="1321.8" r="1.7"/><circle cx="280.8" cy="1307.5" r="1.7"/><circle cx="307.8" cy="1342.8" r="1.7"/><circle cx="309.4" cy="1286.7" r="1.7"/><circle cx="316.3" cy="1286.4" r="1.7"/><circle cx="329.5" cy="1331.2" r="1.7"/><circle cx="321.5" cy="1339.3" r="1.7"/><circle cx="308.1" cy="1329.5" r="1.7"/><circle cx="361.8" cy="1303.4" r="1.7"/><circle cx="330.5" cy="1305.5" r="1.7"/><circle cx="326.9" cy="1277.8" r="1.7"/><circle cx="316.6" cy="1330.1" r="1.7"/><circle cx="318.6" cy="1279.1" r="1.7"/><circle cx="314.0" cy="1303.1" r="1.7"/><circle cx="287.9" cy="1333.4" r="1.7"/><circle cx="263.8" cy="1309.6" r="1.7"/><circle cx="321.0" cy="1307.3" r="1.7"/><circle cx="291.5" cy="1333.8" r="1.7"/><circle cx="285.6" cy="1328.9" r="1.7"/><circle cx="302.6" cy="1292.7" r="1.7"/><circle cx="280.9" cy="1334.1" r="1.7"/><circle cx="261.7" cy="1321.5" r="1.7"/><circle cx="422.1" cy="1442.3" r="1.7"/><circle cx="417.0" cy="1433.6" r="1.7"/><circle cx="439.2" cy="1448.6" r="1.7"/><circle cx="414.3" cy="1367.1" r="1.7"/><circle cx="432.9" cy="1370.0" r="1.7"/><circle cx="417.3" cy="1434.1" r="1.7"/><circle cx="419.7" cy="1436.1" r="1.7"/><circle cx="445.0" cy="1396.0" r="1.7"/><circle cx="391.2" cy="1416.5" r="1.7"/><circle cx="403.9" cy="1379.2" r="1.7"/><circle cx="440.4" cy="1424.0" r="1.7"/><circle cx="416.1" cy="1441.0" r="1.7"/><circle cx="397.7" cy="1383.0" r="1.7"/><circle cx="377.9" cy="1380.1" r="1.7"/><circle cx="452.2" cy="1368.7" r="1.7"/><circle cx="433.5" cy="1428.0" r="1.7"/><circle cx="428.7" cy="1435.0" r="1.7"/><circle cx="404.8" cy="1435.9" r="1.7"/><circle cx="412.6" cy="1404.8" r="1.7"/><circle cx="449.1" cy="1394.0" r="1.7"/><circle cx="422.9" cy="1368.4" r="1.7"/><circle cx="460.2" cy="1377.3" r="1.7"/><circle cx="460.6" cy="1378.2" r="1.7"/><circle cx="462.4" cy="1400.1" r="1.7"/><circle cx="420.4" cy="1416.1" r="1.7"/><circle cx="398.7" cy="1410.5" r="1.7"/><circle cx="454.3" cy="1415.4" r="1.7"/><circle cx="415.9" cy="1369.9" r="1.7"/><circle cx="437.2" cy="1449.7" r="1.7"/><circle cx="381.6" cy="1387.9" r="1.7"/><circle cx="400.1" cy="1369.8" r="1.7"/><circle cx="464.2" cy="1382.9" r="1.7"/><circle cx="441.2" cy="1436.8" r="1.7"/><circle cx="408.3" cy="1396.6" r="1.7"/><circle cx="434.3" cy="1403.9" r="1.7"/><circle cx="459.4" cy="1405.0" r="1.7"/><circle cx="405.1" cy="1431.3" r="1.7"/><circle cx="395.8" cy="1400.6" r="1.7"/><circle cx="468.8" cy="1417.3" r="1.7"/><circle cx="434.2" cy="1412.9" r="1.7"/><circle cx="433.1" cy="1406.0" r="1.7"/><circle cx="406.7" cy="1426.2" r="1.7"/><circle cx="442.3" cy="1384.0" r="1.7"/><circle cx="443.9" cy="1373.0" r="1.7"/><circle cx="462.1" cy="1432.1" r="1.7"/><circle cx="426.9" cy="1426.9" r="1.7"/><circle cx="413.4" cy="1358.6" r="1.7"/><circle cx="425.3" cy="1384.7" r="1.7"/><circle cx="380.7" cy="1425.2" r="1.7"/><circle cx="424.5" cy="1431.2" r="1.7"/><circle cx="425.5" cy="1365.3" r="1.7"/><circle cx="385.1" cy="1440.8" r="1.7"/><circle cx="444.8" cy="1439.4" r="1.7"/><circle cx="450.9" cy="1367.5" r="1.7"/><circle cx="385.4" cy="1391.8" r="1.7"/><circle cx="413.3" cy="1417.1" r="1.7"/><circle cx="451.8" cy="1367.9" r="1.7"/><circle cx="371.2" cy="1407.7" r="1.7"/><circle cx="453.6" cy="1409.1" r="1.7"/><circle cx="382.2" cy="1393.0" r="1.7"/><circle cx="456.2" cy="1392.8" r="1.7"/><circle cx="395.4" cy="1441.7" r="1.7"/><circle cx="431.7" cy="1384.0" r="1.7"/><circle cx="432.1" cy="1384.9" r="1.7"/><circle cx="425.1" cy="1356.6" r="1.7"/><circle cx="408.5" cy="1453.5" r="1.7"/><circle cx="389.4" cy="1482.1" r="1.7"/><circle cx="366.6" cy="1499.2" r="1.7"/><circle cx="383.7" cy="1482.6" r="1.7"/><circle cx="376.9" cy="1466.8" r="1.7"/><circle cx="362.5" cy="1478.9" r="1.7"/><circle cx="412.6" cy="1474.0" r="1.7"/><circle cx="417.4" cy="1483.9" r="1.7"/><circle cx="381.7" cy="1496.7" r="1.7"/><circle cx="385.7" cy="1461.3" r="1.7"/><circle cx="385.6" cy="1462.3" r="1.7"/><circle cx="365.4" cy="1461.1" r="1.7"/><circle cx="407.5" cy="1480.8" r="1.7"/><circle cx="415.1" cy="1480.7" r="1.7"/><circle cx="360.3" cy="1471.2" r="1.7"/><circle cx="397.7" cy="1462.5" r="1.7"/><circle cx="401.9" cy="1490.3" r="1.7"/><circle cx="361.6" cy="1474.8" r="1.7"/><circle cx="402.6" cy="1460.2" r="1.7"/><circle cx="369.9" cy="1501.2" r="1.7"/><circle cx="376.3" cy="1505.4" r="1.7"/><circle cx="393.1" cy="1456.2" r="1.7"/><circle cx="367.4" cy="1478.7" r="1.7"/><circle cx="411.8" cy="1483.7" r="1.7"/><circle cx="379.9" cy="1463.4" r="1.7"/><circle cx="387.3" cy="1448.7" r="1.7"/><circle cx="401.3" cy="1452.5" r="1.7"/><circle cx="401.4" cy="1570.9" r="1.7"/><circle cx="391.5" cy="1581.4" r="1.7"/><circle cx="397.7" cy="1552.0" r="1.7"/><circle cx="357.7" cy="1575.3" r="1.7"/><circle cx="339.7" cy="1553.7" r="1.7"/><circle cx="387.5" cy="1573.6" r="1.7"/><circle cx="354.2" cy="1558.9" r="1.7"/><circle cx="347.6" cy="1583.3" r="1.7"/><circle cx="350.3" cy="1561.1" r="1.7"/><circle cx="343.4" cy="1545.3" r="1.7"/><circle cx="387.1" cy="1571.3" r="1.7"/><circle cx="355.0" cy="1587.8" r="1.7"/><circle cx="375.3" cy="1568.3" r="1.7"/><circle cx="374.8" cy="1566.4" r="1.7"/><circle cx="372.3" cy="1541.3" r="1.7"/><circle cx="363.9" cy="1571.8" r="1.7"/><circle cx="387.8" cy="1556.4" r="1.7"/><circle cx="349.9" cy="1550.0" r="1.7"/><circle cx="400.6" cy="1569.1" r="1.7"/><circle cx="352.4" cy="1559.7" r="1.7"/><circle cx="355.9" cy="1556.7" r="1.7"/><circle cx="364.1" cy="1563.3" r="1.7"/><circle cx="370.1" cy="1546.2" r="1.7"/><circle cx="383.5" cy="1582.2" r="1.7"/><circle cx="349.7" cy="1568.2" r="1.7"/><circle cx="371.8" cy="1567.0" r="1.7"/><circle cx="372.8" cy="1544.3" r="1.7"/><circle cx="358.6" cy="1563.9" r="1.7"/><circle cx="352.9" cy="1568.0" r="1.7"/><circle cx="338.6" cy="1566.6" r="1.7"/><circle cx="352.8" cy="1581.9" r="1.7"/><circle cx="379.1" cy="1577.2" r="1.7"/><circle cx="353.2" cy="1585.3" r="1.7"/><circle cx="384.5" cy="1567.9" r="1.7"/><circle cx="356.3" cy="1574.6" r="1.7"/><circle cx="382.3" cy="1540.1" r="1.7"/><circle cx="358.0" cy="1573.9" r="1.7"/><circle cx="364.7" cy="1574.2" r="1.7"/><circle cx="376.3" cy="1577.5" r="1.7"/><circle cx="384.9" cy="1548.1" r="1.7"/><circle cx="370.5" cy="1565.1" r="1.7"/><circle cx="360.1" cy="1549.5" r="1.7"/><circle cx="364.2" cy="1560.1" r="1.7"/><circle cx="358.0" cy="1575.9" r="1.7"/><circle cx="368.9" cy="1551.3" r="1.7"/><circle cx="338.2" cy="1561.8" r="1.7"/><circle cx="363.1" cy="1575.5" r="1.7"/><circle cx="355.2" cy="1577.0" r="1.7"/><circle cx="363.9" cy="1578.0" r="1.7"/><circle cx="401.1" cy="1568.2" r="1.7"/><circle cx="389.7" cy="1548.5" r="1.7"/><circle cx="361.5" cy="1544.3" r="1.7"/><circle cx="379.8" cy="1547.7" r="1.7"/><circle cx="338.9" cy="1570.5" r="1.7"/><circle cx="382.2" cy="1581.8" r="1.7"/><circle cx="393.5" cy="1579.4" r="1.7"/><circle cx="337.0" cy="1565.6" r="1.7"/><circle cx="377.8" cy="1548.5" r="1.7"/><circle cx="381.5" cy="1565.8" r="1.7"/><circle cx="343.1" cy="1574.4" r="1.7"/><circle cx="373.3" cy="1569.4" r="1.7"/><circle cx="343.3" cy="1547.0" r="1.7"/><circle cx="380.9" cy="1578.0" r="1.7"/><circle cx="382.6" cy="1567.4" r="1.7"/><circle cx="394.0" cy="1575.5" r="1.7"/><circle cx="357.6" cy="1577.7" r="1.7"/><circle cx="392.7" cy="1557.2" r="1.7"/><circle cx="360.1" cy="1547.6" r="1.7"/><circle cx="369.4" cy="1558.4" r="1.7"/><circle cx="380.5" cy="1588.3" r="1.7"/><circle cx="369.1" cy="1587.7" r="1.7"/><circle cx="375.2" cy="1551.3" r="1.7"/><circle cx="365.4" cy="1548.7" r="1.7"/><circle cx="364.5" cy="1542.6" r="1.7"/><circle cx="360.7" cy="1574.5" r="1.7"/><circle cx="350.7" cy="1566.0" r="1.7"/><circle cx="363.8" cy="1546.1" r="1.7"/><circle cx="379.0" cy="1550.3" r="1.7"/><circle cx="144.3" cy="1596.3" r="1.7"/><circle cx="218.0" cy="1590.9" r="1.7"/><circle cx="198.5" cy="1628.7" r="1.7"/><circle cx="160.4" cy="1590.5" r="1.7"/><circle cx="201.8" cy="1615.6" r="1.7"/><circle cx="139.6" cy="1626.9" r="1.7"/><circle cx="156.3" cy="1652.3" r="1.7"/><circle cx="183.1" cy="1605.0" r="1.7"/><circle cx="173.3" cy="1653.0" r="1.7"/><circle cx="166.1" cy="1579.8" r="1.7"/><circle cx="207.0" cy="1630.0" r="1.7"/><circle cx="161.9" cy="1643.6" r="1.7"/><circle cx="140.6" cy="1632.6" r="1.7"/><circle cx="149.0" cy="1614.9" r="1.7"/><circle cx="172.9" cy="1614.5" r="1.7"/><circle cx="153.1" cy="1594.6" r="1.7"/><circle cx="219.3" cy="1611.3" r="1.7"/><circle cx="200.3" cy="1604.3" r="1.7"/><circle cx="125.0" cy="1594.2" r="1.7"/><circle cx="194.7" cy="1648.6" r="1.7"/><circle cx="162.7" cy="1572.6" r="1.7"/><circle cx="222.1" cy="1615.1" r="1.7"/><circle cx="123.4" cy="1588.3" r="1.7"/><circle cx="198.8" cy="1579.9" r="1.7"/><circle cx="189.3" cy="1639.8" r="1.7"/><circle cx="174.7" cy="1601.4" r="1.7"/><circle cx="130.8" cy="1648.0" r="1.7"/><circle cx="175.5" cy="1590.4" r="1.7"/><circle cx="189.8" cy="1612.7" r="1.7"/><circle cx="122.2" cy="1586.9" r="1.7"/><circle cx="162.8" cy="1624.4" r="1.7"/><circle cx="153.9" cy="1655.9" r="1.7"/><circle cx="226.5" cy="1614.5" r="1.7"/><circle cx="180.9" cy="1578.6" r="1.7"/><circle cx="178.1" cy="1609.5" r="1.7"/><circle cx="199.8" cy="1627.7" r="1.7"/><circle cx="173.3" cy="1631.7" r="1.7"/><circle cx="166.3" cy="1625.3" r="1.7"/><circle cx="193.1" cy="1596.5" r="1.7"/><circle cx="205.1" cy="1587.4" r="1.7"/><circle cx="227.1" cy="1618.3" r="1.7"/><circle cx="199.6" cy="1627.5" r="1.7"/><circle cx="189.4" cy="1579.5" r="1.7"/><circle cx="136.9" cy="1625.9" r="1.7"/><circle cx="217.0" cy="1633.2" r="1.7"/><circle cx="157.1" cy="1591.9" r="1.7"/><circle cx="181.0" cy="1625.8" r="1.7"/><circle cx="168.8" cy="1612.0" r="1.7"/><circle cx="147.0" cy="1610.2" r="1.7"/><circle cx="111.7" cy="1616.2" r="1.7"/><circle cx="161.2" cy="1572.4" r="1.7"/><circle cx="126.7" cy="1600.2" r="1.7"/><circle cx="162.8" cy="1566.4" r="1.7"/><circle cx="208.6" cy="1621.8" r="1.7"/><circle cx="183.0" cy="1645.7" r="1.7"/><circle cx="198.9" cy="1604.7" r="1.7"/><circle cx="120.9" cy="1585.5" r="1.7"/><circle cx="195.8" cy="1642.1" r="1.7"/><circle cx="206.1" cy="1587.3" r="1.7"/><circle cx="176.3" cy="1586.4" r="1.7"/><circle cx="176.0" cy="1632.1" r="1.7"/><circle cx="146.7" cy="1585.4" r="1.7"/><circle cx="134.4" cy="1625.0" r="1.7"/><circle cx="178.1" cy="1591.5" r="1.7"/><circle cx="180.1" cy="1583.5" r="1.7"/><circle cx="164.4" cy="1625.6" r="1.7"/><circle cx="211.0" cy="1592.5" r="1.7"/><circle cx="113.3" cy="1611.6" r="1.7"/><circle cx="202.5" cy="1485.7" r="1.7"/><circle cx="222.5" cy="1497.1" r="1.7"/><circle cx="225.3" cy="1506.7" r="1.7"/><circle cx="231.2" cy="1499.4" r="1.7"/><circle cx="230.3" cy="1484.3" r="1.7"/><circle cx="230.0" cy="1506.2" r="1.7"/><circle cx="218.3" cy="1494.1" r="1.7"/><circle cx="206.1" cy="1486.9" r="1.7"/><circle cx="221.7" cy="1469.9" r="1.7"/><circle cx="228.4" cy="1491.6" r="1.7"/><circle cx="199.0" cy="1525.1" r="1.7"/><circle cx="216.3" cy="1475.0" r="1.7"/><circle cx="205.6" cy="1484.6" r="1.7"/><circle cx="225.7" cy="1484.1" r="1.7"/><circle cx="217.9" cy="1478.7" r="1.7"/><circle cx="206.5" cy="1511.9" r="1.7"/><circle cx="233.8" cy="1496.4" r="1.7"/><circle cx="193.6" cy="1503.9" r="1.7"/><circle cx="231.3" cy="1512.5" r="1.7"/><circle cx="208.7" cy="1526.6" r="1.7"/><circle cx="383.6" cy="1616.5" r="1.7"/><circle cx="385.5" cy="1635.5" r="1.7"/><circle cx="355.7" cy="1636.0" r="1.7"/><circle cx="360.8" cy="1622.9" r="1.7"/><circle cx="397.2" cy="1621.6" r="1.7"/><circle cx="364.0" cy="1645.6" r="1.7"/><circle cx="396.4" cy="1621.1" r="1.7"/><circle cx="395.6" cy="1641.7" r="1.7"/><circle cx="389.2" cy="1637.5" r="1.7"/><circle cx="374.6" cy="1646.2" r="1.7"/><circle cx="399.7" cy="1629.9" r="1.7"/><circle cx="390.6" cy="1633.6" r="1.7"/><circle cx="354.7" cy="1622.2" r="1.7"/><circle cx="426.0" cy="1513.2" r="1.7"/><circle cx="423.2" cy="1529.8" r="1.7"/><circle cx="409.7" cy="1534.8" r="1.7"/><circle cx="415.6" cy="1516.6" r="1.7"/><circle cx="413.2" cy="1530.6" r="1.7"/><circle cx="417.5" cy="1540.8" r="1.7"/><circle cx="417.6" cy="1537.7" r="1.7"/><circle cx="424.7" cy="1515.9" r="1.7"/><circle cx="371.1" cy="1408.5" r="1.7"/><circle cx="376.5" cy="1342.1" r="1.7"/><circle cx="302.3" cy="1496.1" r="1.7"/><circle cx="328.0" cy="1569.8" r="1.7"/><circle cx="111.6" cy="1501.9" r="1.7"/><circle cx="210.0" cy="1305.6" r="1.7"/><circle cx="166.0" cy="1523.5" r="1.7"/><circle cx="240.5" cy="1301.2" r="1.7"/><circle cx="300.1" cy="1320.3" r="1.7"/><circle cx="109.0" cy="1526.1" r="1.7"/><circle cx="159.6" cy="1497.1" r="1.7"/><circle cx="155.2" cy="1287.7" r="1.7"/><circle cx="383.5" cy="1472.3" r="1.7"/><circle cx="152.7" cy="1521.5" r="1.7"/><circle cx="380.9" cy="1344.0" r="1.7"/><circle cx="292.7" cy="1499.9" r="1.7"/><circle cx="117.9" cy="1411.2" r="1.7"/><circle cx="316.5" cy="1376.1" r="1.7"/><circle cx="214.4" cy="1445.7" r="1.7"/><circle cx="337.4" cy="1347.3" r="1.7"/><circle cx="302.4" cy="1576.0" r="1.7"/><circle cx="210.2" cy="1339.1" r="1.7"/><circle cx="194.5" cy="1354.4" r="1.7"/><circle cx="420.9" cy="1398.1" r="1.7"/><circle cx="430.2" cy="1429.2" r="1.7"/><circle cx="301.5" cy="1484.1" r="1.7"/><circle cx="321.3" cy="1582.0" r="1.7"/><circle cx="271.6" cy="1399.1" r="1.7"/><circle cx="435.0" cy="1391.6" r="1.7"/><circle cx="349.7" cy="1327.3" r="1.7"/></g>
</g>
<text transform="translate(56.0,716.0) scale(1,1.045)" font-size="26.5" fill="#fff" stroke="#fff" stroke-width="0.45">Male</text>
<rect x="481.5" y="1157.0" width="45.5" height="4.6" fill="#fff"/>
<text transform="translate(56.0,1698.0) scale(1,1.045)" font-size="26.5" fill="#fff" stroke="#fff" stroke-width="0.45">Female</text>
<rect x="481.5" y="1673.0" width="45.5" height="4.6" fill="#fff"/>
<rect x="706.0" y="719.0" width="580.5" height="10.4" fill="url(#h1)"/>
<rect x="706.0" y="728.8" width="580.5" height="10.4" fill="url(#h2)"/>
<rect x="706.0" y="738.6" width="580.5" height="10.4" fill="url(#h3)"/>
<rect x="706.0" y="748.4" width="580.5" height="10.4" fill="url(#h4)"/>
<rect x="706.0" y="758.1" width="580.5" height="10.4" fill="url(#h5)"/>
<rect x="706.0" y="767.9" width="580.5" height="10.4" fill="url(#h6)"/>
<rect x="706.0" y="777.7" width="580.5" height="10.4" fill="url(#h7)"/>
<rect x="706.0" y="787.5" width="580.5" height="10.4" fill="url(#h8)"/>
<rect x="706.0" y="797.3" width="580.5" height="10.4" fill="url(#h9)"/>
<rect x="706.0" y="807.1" width="580.5" height="10.4" fill="url(#h3)"/>
<rect x="706.0" y="816.9" width="580.5" height="10.4" fill="url(#h10)"/>
<rect x="706.0" y="826.6" width="580.5" height="10.4" fill="url(#h11)"/>
<rect x="706.0" y="836.4" width="580.5" height="10.4" fill="url(#h12)"/>
<rect x="706.0" y="846.2" width="580.5" height="10.4" fill="url(#h13)"/>
<rect x="706.0" y="856.0" width="580.5" height="10.4" fill="url(#h14)"/>
<rect x="706.0" y="865.8" width="580.5" height="10.4" fill="url(#h15)"/>
<rect x="706.0" y="875.6" width="580.5" height="10.4" fill="url(#h16)"/>
<rect x="706.0" y="885.4" width="580.5" height="10.4" fill="url(#h17)"/>
<rect x="706.0" y="895.1" width="580.5" height="10.4" fill="url(#h18)"/>
<rect x="706.0" y="904.9" width="580.5" height="10.4" fill="url(#h19)"/>
<rect x="706.0" y="914.7" width="580.5" height="10.4" fill="url(#h20)"/>
<rect x="706.0" y="924.5" width="580.5" height="10.4" fill="url(#h21)"/>
<rect x="706.0" y="934.3" width="580.5" height="10.4" fill="url(#h22)"/>
<rect x="706.0" y="944.1" width="580.5" height="10.4" fill="url(#h23)"/>
<rect x="706.0" y="953.9" width="580.5" height="10.4" fill="url(#h24)"/>
<rect x="706.0" y="963.6" width="580.5" height="10.4" fill="url(#h25)"/>
<rect x="706.0" y="973.4" width="580.5" height="10.4" fill="url(#h26)"/>
<rect x="706.0" y="983.2" width="580.5" height="10.4" fill="url(#h27)"/>
<rect x="706.0" y="993.0" width="580.5" height="10.4" fill="url(#h28)"/>
<rect x="706.0" y="1002.8" width="580.5" height="10.4" fill="url(#h29)"/>
<rect x="706.0" y="1012.6" width="580.5" height="10.4" fill="url(#h30)"/>
<rect x="706.0" y="1022.4" width="580.5" height="10.4" fill="url(#h31)"/>
<rect x="706.0" y="1032.1" width="580.5" height="10.4" fill="url(#h32)"/>
<rect x="706.0" y="1041.9" width="580.5" height="10.4" fill="url(#h15)"/>
<rect x="706.0" y="1051.7" width="580.5" height="10.4" fill="url(#h33)"/>
<rect x="706.0" y="1061.5" width="580.5" height="10.4" fill="url(#h34)"/>
<rect x="706.0" y="1071.3" width="580.5" height="10.4" fill="url(#h23)"/>
<rect x="706.0" y="1081.1" width="580.5" height="10.4" fill="url(#h11)"/>
<rect x="706.0" y="1090.9" width="580.5" height="10.4" fill="url(#h35)"/>
<rect x="706.0" y="1100.6" width="580.5" height="10.4" fill="url(#h13)"/>
<rect x="706.0" y="1110.4" width="580.5" height="10.4" fill="url(#h36)"/>
<rect x="706.0" y="1120.2" width="580.5" height="10.4" fill="url(#h37)"/>
<rect x="1096.4" y="719.0" width="0.8" height="411.0" fill="#000033" opacity="0.06"/><rect x="995.5" y="719.0" width="0.8" height="411.0" fill="#000033" opacity="0.05"/><rect x="933.3" y="719.0" width="1.0" height="411.0" fill="#ffffff" opacity="0.10"/><rect x="982.0" y="719.0" width="1.0" height="411.0" fill="#ffffff" opacity="0.06"/><rect x="873.1" y="719.0" width="1.3" height="411.0" fill="#ffffff" opacity="0.08"/><rect x="980.7" y="719.0" width="1.3" height="411.0" fill="#000033" opacity="0.06"/><rect x="861.3" y="719.0" width="1.0" height="411.0" fill="#ffffff" opacity="0.06"/><rect x="1206.4" y="719.0" width="1.3" height="411.0" fill="#ffffff" opacity="0.11"/><rect x="954.0" y="719.0" width="1.0" height="411.0" fill="#ffffff" opacity="0.06"/><rect x="1170.6" y="719.0" width="1.0" height="411.0" fill="#ffffff" opacity="0.08"/><rect x="1075.5" y="719.0" width="1.0" height="411.0" fill="#000033" opacity="0.05"/><rect x="995.9" y="719.0" width="1.0" height="411.0" fill="#000033" opacity="0.05"/><rect x="848.4" y="719.0" width="0.8" height="411.0" fill="#ffffff" opacity="0.10"/><rect x="1016.4" y="719.0" width="1.3" height="411.0" fill="#000033" opacity="0.08"/><rect x="1091.0" y="719.0" width="0.8" height="411.0" fill="#ffffff" opacity="0.11"/><rect x="974.0" y="719.0" width="0.8" height="411.0" fill="#000033" opacity="0.07"/><rect x="835.4" y="719.0" width="0.8" height="411.0" fill="#ffffff" opacity="0.09"/><rect x="1075.1" y="719.0" width="1.3" height="411.0" fill="#000033" opacity="0.07"/><rect x="886.7" y="719.0" width="1.3" height="411.0" fill="#000033" opacity="0.06"/><rect x="1041.8" y="719.0" width="1.3" height="411.0" fill="#ffffff" opacity="0.06"/><rect x="1192.4" y="719.0" width="1.3" height="411.0" fill="#000033" opacity="0.06"/><rect x="1275.2" y="719.0" width="0.8" height="411.0" fill="#ffffff" opacity="0.06"/><rect x="974.3" y="719.0" width="1.0" height="411.0" fill="#ffffff" opacity="0.09"/><rect x="1145.5" y="719.0" width="1.0" height="411.0" fill="#ffffff" opacity="0.06"/><rect x="1140.9" y="719.0" width="1.0" height="411.0" fill="#ffffff" opacity="0.12"/><rect x="946.2" y="719.0" width="0.8" height="411.0" fill="#ffffff" opacity="0.09"/><rect x="1195.9" y="719.0" width="1.0" height="411.0" fill="#ffffff" opacity="0.07"/><rect x="1276.2" y="719.0" width="0.8" height="411.0" fill="#ffffff" opacity="0.09"/><rect x="1221.5" y="719.0" width="1.0" height="411.0" fill="#000033" opacity="0.04"/><rect x="985.4" y="719.0" width="1.0" height="411.0" fill="#ffffff" opacity="0.06"/><rect x="1101.9" y="719.0" width="1.0" height="411.0" fill="#ffffff" opacity="0.12"/><rect x="963.5" y="719.0" width="1.3" height="411.0" fill="#ffffff" opacity="0.08"/><rect x="1122.4" y="719.0" width="1.3" height="411.0" fill="#ffffff" opacity="0.05"/><rect x="900.0" y="719.0" width="0.8" height="411.0" fill="#ffffff" opacity="0.06"/><rect x="843.5" y="719.0" width="1.3" height="411.0" fill="#ffffff" opacity="0.10"/><rect x="1206.3" y="719.0" width="1.3" height="411.0" fill="#000033" opacity="0.06"/><rect x="890.6" y="719.0" width="1.3" height="411.0" fill="#000033" opacity="0.05"/><rect x="969.4" y="719.0" width="1.0" height="411.0" fill="#ffffff" opacity="0.08"/><rect x="1039.2" y="719.0" width="1.0" height="411.0" fill="#000033" opacity="0.05"/><rect x="1095.1" y="719.0" width="1.0" height="411.0" fill="#000033" opacity="0.06"/><rect x="1135.2" y="719.0" width="1.0" height="411.0" fill="#000033" opacity="0.05"/><rect x="848.0" y="719.0" width="1.0" height="411.0" fill="#000033" opacity="0.06"/><rect x="1213.9" y="719.0" width="0.8" height="411.0" fill="#ffffff" opacity="0.08"/><rect x="957.1" y="719.0" width="1.3" height="411.0" fill="#000033" opacity="0.06"/><rect x="1198.1" y="719.0" width="1.3" height="411.0" fill="#ffffff" opacity="0.10"/><rect x="953.4" y="719.0" width="1.3" height="411.0" fill="#ffffff" opacity="0.06"/><rect x="1116.2" y="719.0" width="1.0" height="411.0" fill="#ffffff" opacity="0.10"/><rect x="899.4" y="719.0" width="1.3" height="411.0" fill="#000033" opacity="0.04"/><rect x="835.6" y="719.0" width="1.0" height="411.0" fill="#ffffff" opacity="0.11"/><rect x="876.3" y="719.0" width="0.8" height="411.0" fill="#000033" opacity="0.07"/><rect x="910.8" y="719.0" width="1.3" height="411.0" fill="#000033" opacity="0.07"/><rect x="919.8" y="719.0" width="0.8" height="411.0" fill="#ffffff" opacity="0.06"/><rect x="1067.1" y="719.0" width="1.3" height="411.0" fill="#000033" opacity="0.07"/><rect x="1232.2" y="719.0" width="0.8" height="411.0" fill="#000033" opacity="0.08"/><rect x="983.8" y="719.0" width="1.3" height="411.0" fill="#000033" opacity="0.06"/><rect x="1051.0" y="719.0" width="0.8" height="411.0" fill="#ffffff" opacity="0.12"/><rect x="1036.2" y="719.0" width="1.3" height="411.0" fill="#000033" opacity="0.08"/><rect x="1106.1" y="719.0" width="1.0" height="411.0" fill="#ffffff" opacity="0.06"/><rect x="859.8" y="719.0" width="1.0" height="411.0" fill="#000033" opacity="0.04"/><rect x="876.4" y="719.0" width="1.0" height="411.0" fill="#ffffff" opacity="0.10"/><rect x="1009.0" y="719.0" width="1.3" height="411.0" fill="#ffffff" opacity="0.11"/><rect x="1231.1" y="719.0" width="1.3" height="411.0" fill="#000033" opacity="0.08"/><rect x="983.6" y="719.0" width="0.8" height="411.0" fill="#ffffff" opacity="0.08"/><rect x="942.3" y="719.0" width="0.8" height="411.0" fill="#ffffff" opacity="0.06"/><rect x="907.3" y="719.0" width="1.0" height="411.0" fill="#ffffff" opacity="0.06"/><rect x="957.0" y="719.0" width="0.8" height="411.0" fill="#000033" opacity="0.05"/><rect x="1185.5" y="719.0" width="0.8" height="411.0" fill="#ffffff" opacity="0.07"/><rect x="1175.8" y="719.0" width="1.0" height="411.0" fill="#ffffff" opacity="0.09"/><rect x="1133.2" y="719.0" width="1.3" height="411.0" fill="#000033" opacity="0.06"/><rect x="1184.4" y="719.0" width="1.0" height="411.0" fill="#000033" opacity="0.08"/>
<rect x="706.0" y="719.0" width="580.5" height="411.0" fill="none" stroke="#333" stroke-width="1.2"/>
<text transform="translate(640.0,699.0) scale(1,1.045)" font-size="30.6" fill="#000" stroke="#000" stroke-width="0.45">Male Round 1</text>
<line x1="706.0" y1="763.0" x2="712.0" y2="763.0" stroke="#333" stroke-width="1.2"/>
<line x1="1280.5" y1="763.0" x2="1286.5" y2="763.0" stroke="#333" stroke-width="1.2"/>
<line x1="706.0" y1="860.9" x2="712.0" y2="860.9" stroke="#333" stroke-width="1.2"/>
<line x1="1280.5" y1="860.9" x2="1286.5" y2="860.9" stroke="#333" stroke-width="1.2"/>
<line x1="706.0" y1="958.8" x2="712.0" y2="958.8" stroke="#333" stroke-width="1.2"/>
<line x1="1280.5" y1="958.8" x2="1286.5" y2="958.8" stroke="#333" stroke-width="1.2"/>
<line x1="706.0" y1="1056.6" x2="712.0" y2="1056.6" stroke="#333" stroke-width="1.2"/>
<line x1="1280.5" y1="1056.6" x2="1286.5" y2="1056.6" stroke="#333" stroke-width="1.2"/>
<line x1="694.0" y1="812.0" x2="713.0" y2="812.0" stroke="#000" stroke-width="4.5"/>
<line x1="1280.5" y1="812.0" x2="1286.5" y2="812.0" stroke="#333" stroke-width="1.2"/>
<text transform="translate(690.5,822.3) scale(1,1.045)" font-size="23.5" text-anchor="end" fill="#000" stroke="#000" stroke-width="0.45">10</text>
<line x1="694.0" y1="909.8" x2="713.0" y2="909.8" stroke="#000" stroke-width="4.5"/>
<line x1="1280.5" y1="909.8" x2="1286.5" y2="909.8" stroke="#333" stroke-width="1.2"/>
<text transform="translate(690.5,920.1) scale(1,1.045)" font-size="23.5" text-anchor="end" fill="#000" stroke="#000" stroke-width="0.45">20</text>
<line x1="694.0" y1="1007.7" x2="713.0" y2="1007.7" stroke="#000" stroke-width="4.5"/>
<line x1="1280.5" y1="1007.7" x2="1286.5" y2="1007.7" stroke="#333" stroke-width="1.2"/>
<text transform="translate(690.5,1018.0) scale(1,1.045)" font-size="23.5" text-anchor="end" fill="#000" stroke="#000" stroke-width="0.45">30</text>
<line x1="694.0" y1="1105.5" x2="713.0" y2="1105.5" stroke="#000" stroke-width="4.5"/>
<line x1="1280.5" y1="1105.5" x2="1286.5" y2="1105.5" stroke="#333" stroke-width="1.2"/>
<text transform="translate(690.5,1115.8) scale(1,1.045)" font-size="23.5" text-anchor="end" fill="#000" stroke="#000" stroke-width="0.45">40</text>
<line x1="802.8" y1="1124.0" x2="802.8" y2="1130.0" stroke="#333" stroke-width="1.2"/>
<line x1="802.8" y1="719.0" x2="802.8" y2="725.0" stroke="#333" stroke-width="1.2"/>
<line x1="899.5" y1="1125.0" x2="899.5" y2="1135.0" stroke="#000" stroke-width="4"/>
<line x1="899.5" y1="719.0" x2="899.5" y2="725.0" stroke="#333" stroke-width="1.2"/>
<line x1="996.2" y1="1125.0" x2="996.2" y2="1135.0" stroke="#000" stroke-width="4"/>
<line x1="996.2" y1="719.0" x2="996.2" y2="725.0" stroke="#333" stroke-width="1.2"/>
<line x1="1093.0" y1="1125.0" x2="1093.0" y2="1135.0" stroke="#000" stroke-width="4"/>
<line x1="1093.0" y1="719.0" x2="1093.0" y2="725.0" stroke="#333" stroke-width="1.2"/>
<line x1="1189.8" y1="1125.0" x2="1189.8" y2="1135.0" stroke="#000" stroke-width="4"/>
<line x1="1189.8" y1="719.0" x2="1189.8" y2="725.0" stroke="#333" stroke-width="1.2"/>
<line x1="1286.5" y1="1125.0" x2="1286.5" y2="1135.0" stroke="#000" stroke-width="4"/>
<line x1="1286.5" y1="719.0" x2="1286.5" y2="725.0" stroke="#333" stroke-width="1.2"/>
<text transform="translate(799.8,1156.5) scale(1,1.045)" font-size="23.5" text-anchor="middle" fill="#000" stroke="#000" stroke-width="0.45">200</text>
<text transform="translate(899.5,1156.5) scale(1,1.045)" font-size="23.5" text-anchor="middle" fill="#000" stroke="#000" stroke-width="0.45">400</text>
<text transform="translate(996.2,1156.5) scale(1,1.045)" font-size="23.5" text-anchor="middle" fill="#000" stroke="#000" stroke-width="0.45">600</text>
<text transform="translate(1093.0,1156.5) scale(1,1.045)" font-size="23.5" text-anchor="middle" fill="#000" stroke="#000" stroke-width="0.45">800</text>
<text transform="translate(1189.8,1156.5) scale(1,1.045)" font-size="23.5" text-anchor="middle" fill="#000" stroke="#000" stroke-width="0.45">1000</text>
<text transform="translate(1286.5,1156.5) scale(1,1.045)" font-size="23.5" text-anchor="middle" fill="#000" stroke="#000" stroke-width="0.45">1200</text>
<text transform="translate(1002.0,1181.5) scale(1,1.045)" font-size="31" fill="#000" stroke="#000" stroke-width="0.45">Time (s)</text>
<rect x="1326.0" y="719.0" width="32.0" height="411.0" fill="url(#cb38)" stroke="#333" stroke-width="1.2"/>
<line x1="1353.0" y1="1130.0" x2="1358.0" y2="1130.0" stroke="#333" stroke-width="1.2"/>
<text transform="translate(1360.0,1142.5) scale(1,1.045)" font-size="23.5" fill="#000" stroke="#000" stroke-width="0.45">0</text>
<line x1="1353.0" y1="1071.3" x2="1358.0" y2="1071.3" stroke="#333" stroke-width="1.2"/>
<text transform="translate(1360.0,1083.8) scale(1,1.045)" font-size="23.5" fill="#000" stroke="#000" stroke-width="0.45">10</text>
<line x1="1353.0" y1="1012.6" x2="1358.0" y2="1012.6" stroke="#333" stroke-width="1.2"/>
<text transform="translate(1360.0,1025.1) scale(1,1.045)" font-size="23.5" fill="#000" stroke="#000" stroke-width="0.45">20</text>
<line x1="1353.0" y1="953.9" x2="1358.0" y2="953.9" stroke="#333" stroke-width="1.2"/>
<text transform="translate(1360.0,966.4) scale(1,1.045)" font-size="23.5" fill="#000" stroke="#000" stroke-width="0.45">30</text>
<line x1="1353.0" y1="895.1" x2="1358.0" y2="895.1" stroke="#333" stroke-width="1.2"/>
<text transform="translate(1360.0,907.6) scale(1,1.045)" font-size="23.5" fill="#000" stroke="#000" stroke-width="0.45">40</text>
<line x1="1353.0" y1="836.4" x2="1358.0" y2="836.4" stroke="#333" stroke-width="1.2"/>
<text transform="translate(1360.0,848.9) scale(1,1.045)" font-size="23.5" fill="#000" stroke="#000" stroke-width="0.45">50</text>
<line x1="1353.0" y1="777.7" x2="1358.0" y2="777.7" stroke="#333" stroke-width="1.2"/>
<text transform="translate(1360.0,790.2) scale(1,1.045)" font-size="23.5" fill="#000" stroke="#000" stroke-width="0.45">60</text>
<line x1="1353.0" y1="719.0" x2="1358.0" y2="719.0" stroke="#333" stroke-width="1.2"/>
<text transform="translate(1360.0,731.5) scale(1,1.045)" font-size="23.5" fill="#000" stroke="#000" stroke-width="0.45">70</text>
<rect x="1479.0" y="719.0" width="580.0" height="10.4" fill="url(#h39)"/>
<rect x="1479.0" y="728.8" width="580.0" height="10.4" fill="url(#h40)"/>
<rect x="1479.0" y="738.6" width="580.0" height="10.4" fill="url(#h41)"/>
<rect x="1479.0" y="748.4" width="580.0" height="10.4" fill="url(#h42)"/>
<rect x="1479.0" y="758.1" width="580.0" height="10.4" fill="url(#h43)"/>
<rect x="1479.0" y="767.9" width="580.0" height="10.4" fill="url(#h44)"/>
<rect x="1479.0" y="777.7" width="580.0" height="10.4" fill="url(#h45)"/>
<rect x="1479.0" y="787.5" width="580.0" height="10.4" fill="url(#h46)"/>
<rect x="1479.0" y="797.3" width="580.0" height="10.4" fill="url(#h47)"/>
<rect x="1479.0" y="807.1" width="580.0" height="10.4" fill="url(#h48)"/>
<rect x="1479.0" y="816.9" width="580.0" height="10.4" fill="url(#h49)"/>
<rect x="1479.0" y="826.6" width="580.0" height="10.4" fill="url(#h50)"/>
<rect x="1479.0" y="836.4" width="580.0" height="10.4" fill="url(#h51)"/>
<rect x="1479.0" y="846.2" width="580.0" height="10.4" fill="url(#h52)"/>
<rect x="1479.0" y="856.0" width="580.0" height="10.4" fill="url(#h53)"/>
<rect x="1479.0" y="865.8" width="580.0" height="10.4" fill="url(#h54)"/>
<rect x="1479.0" y="875.6" width="580.0" height="10.4" fill="url(#h55)"/>
<rect x="1479.0" y="885.4" width="580.0" height="10.4" fill="url(#h56)"/>
<rect x="1479.0" y="895.1" width="580.0" height="10.4" fill="url(#h57)"/>
<rect x="1479.0" y="904.9" width="580.0" height="10.4" fill="url(#h58)"/>
<rect x="1479.0" y="914.7" width="580.0" height="10.4" fill="url(#h59)"/>
<rect x="1479.0" y="924.5" width="580.0" height="10.4" fill="url(#h60)"/>
<rect x="1479.0" y="934.3" width="580.0" height="10.4" fill="url(#h61)"/>
<rect x="1479.0" y="944.1" width="580.0" height="10.4" fill="url(#h62)"/>
<rect x="1479.0" y="953.9" width="580.0" height="10.4" fill="url(#h63)"/>
<rect x="1479.0" y="963.6" width="580.0" height="10.4" fill="url(#h64)"/>
<rect x="1479.0" y="973.4" width="580.0" height="10.4" fill="url(#h65)"/>
<rect x="1479.0" y="983.2" width="580.0" height="10.4" fill="url(#h66)"/>
<rect x="1479.0" y="993.0" width="580.0" height="10.4" fill="url(#h67)"/>
<rect x="1479.0" y="1002.8" width="580.0" height="10.4" fill="url(#h68)"/>
<rect x="1479.0" y="1012.6" width="580.0" height="10.4" fill="url(#h69)"/>
<rect x="1479.0" y="1022.4" width="580.0" height="10.4" fill="url(#h70)"/>
<rect x="1479.0" y="1032.1" width="580.0" height="10.4" fill="url(#h71)"/>
<rect x="1479.0" y="1041.9" width="580.0" height="10.4" fill="url(#h72)"/>
<rect x="1479.0" y="1051.7" width="580.0" height="10.4" fill="url(#h73)"/>
<rect x="1479.0" y="1061.5" width="580.0" height="10.4" fill="url(#h74)"/>
<rect x="1479.0" y="1071.3" width="580.0" height="10.4" fill="url(#h75)"/>
<rect x="1479.0" y="1081.1" width="580.0" height="10.4" fill="url(#h76)"/>
<rect x="1479.0" y="1090.9" width="580.0" height="10.4" fill="url(#h77)"/>
<rect x="1479.0" y="1100.6" width="580.0" height="10.4" fill="url(#h78)"/>
<rect x="1479.0" y="1110.4" width="580.0" height="10.4" fill="url(#h79)"/>
<rect x="1479.0" y="1120.2" width="580.0" height="10.4" fill="url(#h80)"/>
<rect x="1667.9" y="719.0" width="1.3" height="411.0" fill="#ffffff" opacity="0.09"/><rect x="1903.3" y="719.0" width="0.8" height="411.0" fill="#ffffff" opacity="0.09"/><rect x="1859.8" y="719.0" width="0.8" height="411.0" fill="#000033" opacity="0.06"/><rect x="1942.5" y="719.0" width="0.8" height="411.0" fill="#000033" opacity="0.06"/><rect x="1704.0" y="719.0" width="0.8" height="411.0" fill="#ffffff" opacity="0.05"/><rect x="1684.2" y="719.0" width="1.3" height="411.0" fill="#ffffff" opacity="0.09"/><rect x="1701.8" y="719.0" width="1.3" height="411.0" fill="#000033" opacity="0.06"/><rect x="1789.0" y="719.0" width="1.0" height="411.0" fill="#000033" opacity="0.05"/><rect x="1642.1" y="719.0" width="1.0" height="411.0" fill="#ffffff" opacity="0.06"/><rect x="1796.1" y="719.0" width="1.3" height="411.0" fill="#ffffff" opacity="0.08"/><rect x="2016.6" y="719.0" width="0.8" height="411.0" fill="#ffffff" opacity="0.06"/><rect x="1708.8" y="719.0" width="1.0" height="411.0" fill="#ffffff" opacity="0.09"/><rect x="1802.1" y="719.0" width="1.3" height="411.0" fill="#000033" opacity="0.05"/><rect x="1744.9" y="719.0" width="1.3" height="411.0" fill="#ffffff" opacity="0.12"/><rect x="1805.1" y="719.0" width="1.3" height="411.0" fill="#000033" opacity="0.06"/><rect x="1695.0" y="719.0" width="0.8" height="411.0" fill="#000033" opacity="0.06"/><rect x="2020.0" y="719.0" width="1.3" height="411.0" fill="#ffffff" opacity="0.11"/><rect x="1769.6" y="719.0" width="0.8" height="411.0" fill="#ffffff" opacity="0.12"/><rect x="2033.3" y="719.0" width="0.8" height="411.0" fill="#ffffff" opacity="0.10"/><rect x="1840.0" y="719.0" width="1.0" height="411.0" fill="#000033" opacity="0.06"/><rect x="2007.3" y="719.0" width="0.8" height="411.0" fill="#ffffff" opacity="0.08"/><rect x="1904.1" y="719.0" width="0.8" height="411.0" fill="#000033" opacity="0.05"/><rect x="1875.4" y="719.0" width="1.3" height="411.0" fill="#ffffff" opacity="0.06"/><rect x="1778.5" y="719.0" width="0.8" height="411.0" fill="#ffffff" opacity="0.10"/><rect x="1601.8" y="719.0" width="1.0" height="411.0" fill="#ffffff" opacity="0.10"/><rect x="1790.1" y="719.0" width="0.8" height="411.0" fill="#ffffff" opacity="0.10"/><rect x="1982.5" y="719.0" width="1.3" height="411.0" fill="#ffffff" opacity="0.08"/><rect x="1970.2" y="719.0" width="1.0" height="411.0" fill="#000033" opacity="0.05"/><rect x="1939.7" y="719.0" width="1.0" height="411.0" fill="#ffffff" opacity="0.06"/><rect x="1962.6" y="719.0" width="1.0" height="411.0" fill="#000033" opacity="0.07"/><rect x="2024.8" y="719.0" width="1.3" height="411.0" fill="#ffffff" opacity="0.05"/><rect x="1726.7" y="719.0" width="0.8" height="411.0" fill="#ffffff" opacity="0.08"/><rect x="2033.0" y="719.0" width="0.8" height="411.0" fill="#000033" opacity="0.08"/><rect x="1892.8" y="719.0" width="1.0" height="411.0" fill="#ffffff" opacity="0.06"/><rect x="1916.6" y="719.0" width="0.8" height="411.0" fill="#000033" opacity="0.07"/><rect x="1627.6" y="719.0" width="0.8" height="411.0" fill="#000033" opacity="0.08"/><rect x="1662.2" y="719.0" width="1.3" height="411.0" fill="#000033" opacity="0.06"/><rect x="2003.6" y="719.0" width="1.0" height="411.0" fill="#000033" opacity="0.06"/><rect x="1961.7" y="719.0" width="1.3" height="411.0" fill="#ffffff" opacity="0.06"/><rect x="1604.0" y="719.0" width="1.3" height="411.0" fill="#000033" opacity="0.08"/><rect x="1669.1" y="719.0" width="1.0" height="411.0" fill="#000033" opacity="0.05"/><rect x="1641.1" y="719.0" width="1.3" height="411.0" fill="#000033" opacity="0.08"/><rect x="1614.0" y="719.0" width="1.3" height="411.0" fill="#ffffff" opacity="0.09"/><rect x="1674.3" y="719.0" width="1.0" height="411.0" fill="#ffffff" opacity="0.11"/><rect x="2003.0" y="719.0" width="1.3" height="411.0" fill="#ffffff" opacity="0.07"/><rect x="2015.5" y="719.0" width="1.3" height="411.0" fill="#000033" opacity="0.04"/><rect x="1973.7" y="719.0" width="1.3" height="411.0" fill="#ffffff" opacity="0.06"/><rect x="1630.8" y="719.0" width="0.8" height="411.0" fill="#000033" opacity="0.06"/><rect x="1892.9" y="719.0" width="1.0" height="411.0" fill="#ffffff" opacity="0.07"/><rect x="1816.7" y="719.0" width="1.0" height="411.0" fill="#ffffff" opacity="0.08"/><rect x="1695.4" y="719.0" width="1.3" height="411.0" fill="#ffffff" opacity="0.06"/><rect x="1916.9" y="719.0" width="1.0" height="411.0" fill="#ffffff" opacity="0.09"/><rect x="1931.4" y="719.0" width="1.3" height="411.0" fill="#ffffff" opacity="0.10"/><rect x="2056.1" y="719.0" width="0.8" height="411.0" fill="#000033" opacity="0.04"/><rect x="1651.7" y="719.0" width="1.0" height="411.0" fill="#000033" opacity="0.08"/><rect x="1625.5" y="719.0" width="1.0" height="411.0" fill="#000033" opacity="0.07"/><rect x="1627.4" y="719.0" width="0.8" height="411.0" fill="#ffffff" opacity="0.08"/><rect x="1973.1" y="719.0" width="1.3" height="411.0" fill="#ffffff" opacity="0.07"/><rect x="1968.9" y="719.0" width="1.3" height="411.0" fill="#000033" opacity="0.07"/><rect x="2020.4" y="719.0" width="0.8" height="411.0" fill="#000033" opacity="0.07"/><rect x="1730.1" y="719.0" width="0.8" height="411.0" fill="#ffffff" opacity="0.09"/><rect x="1975.1" y="719.0" width="1.0" height="411.0" fill="#ffffff" opacity="0.09"/><rect x="1688.3" y="719.0" width="0.8" height="411.0" fill="#ffffff" opacity="0.06"/><rect x="1700.3" y="719.0" width="1.3" height="411.0" fill="#000033" opacity="0.05"/><rect x="2015.3" y="719.0" width="0.8" height="411.0" fill="#000033" opacity="0.08"/><rect x="1801.6" y="719.0" width="1.0" height="411.0" fill="#000033" opacity="0.05"/><rect x="1868.6" y="719.0" width="0.8" height="411.0" fill="#000033" opacity="0.06"/><rect x="1834.9" y="719.0" width="1.3" height="411.0" fill="#ffffff" opacity="0.11"/><rect x="1831.1" y="719.0" width="1.3" height="411.0" fill="#ffffff" opacity="0.08"/><rect x="1959.1" y="719.0" width="1.3" height="411.0" fill="#000033" opacity="0.06"/>
<rect x="1479.0" y="719.0" width="580.0" height="411.0" fill="none" stroke="#333" stroke-width="1.2"/>
<text transform="translate(1403.0,700.0) scale(1,1.045)" font-size="30.6" fill="#000" stroke="#000" stroke-width="0.45">Male Round 2</text>
<line x1="1479.0" y1="763.0" x2="1485.0" y2="763.0" stroke="#333" stroke-width="1.2"/>
<line x1="2053.0" y1="763.0" x2="2059.0" y2="763.0" stroke="#333" stroke-width="1.2"/>
<line x1="1479.0" y1="860.9" x2="1485.0" y2="860.9" stroke="#333" stroke-width="1.2"/>
<line x1="2053.0" y1="860.9" x2="2059.0" y2="860.9" stroke="#333" stroke-width="1.2"/>
<line x1="1479.0" y1="958.8" x2="1485.0" y2="958.8" stroke="#333" stroke-width="1.2"/>
<line x1="2053.0" y1="958.8" x2="2059.0" y2="958.8" stroke="#333" stroke-width="1.2"/>
<line x1="1479.0" y1="1056.6" x2="1485.0" y2="1056.6" stroke="#333" stroke-width="1.2"/>
<line x1="2053.0" y1="1056.6" x2="2059.0" y2="1056.6" stroke="#333" stroke-width="1.2"/>
<line x1="1467.0" y1="812.0" x2="1486.0" y2="812.0" stroke="#000" stroke-width="4.5"/>
<line x1="2053.0" y1="812.0" x2="2059.0" y2="812.0" stroke="#333" stroke-width="1.2"/>
<text transform="translate(1464.5,822.3) scale(1,1.045)" font-size="23.5" text-anchor="end" fill="#000" stroke="#000" stroke-width="0.45">10</text>
<line x1="1467.0" y1="909.8" x2="1486.0" y2="909.8" stroke="#000" stroke-width="4.5"/>
<line x1="2053.0" y1="909.8" x2="2059.0" y2="909.8" stroke="#333" stroke-width="1.2"/>
<text transform="translate(1464.5,920.1) scale(1,1.045)" font-size="23.5" text-anchor="end" fill="#000" stroke="#000" stroke-width="0.45">20</text>
<line x1="1467.0" y1="1007.7" x2="1486.0" y2="1007.7" stroke="#000" stroke-width="4.5"/>
<line x1="2053.0" y1="1007.7" x2="2059.0" y2="1007.7" stroke="#333" stroke-width="1.2"/>
<text transform="translate(1464.5,1018.0) scale(1,1.045)" font-size="23.5" text-anchor="end" fill="#000" stroke="#000" stroke-width="0.45">30</text>
<line x1="1467.0" y1="1105.5" x2="1486.0" y2="1105.5" stroke="#000" stroke-width="4.5"/>
<line x1="2053.0" y1="1105.5" x2="2059.0" y2="1105.5" stroke="#333" stroke-width="1.2"/>
<text transform="translate(1464.5,1115.8) scale(1,1.045)" font-size="23.5" text-anchor="end" fill="#000" stroke="#000" stroke-width="0.45">40</text>
<line x1="1575.7" y1="1125.0" x2="1575.7" y2="1135.0" stroke="#000" stroke-width="4"/>
<line x1="1575.7" y1="719.0" x2="1575.7" y2="725.0" stroke="#333" stroke-width="1.2"/>
<line x1="1672.3" y1="1125.0" x2="1672.3" y2="1135.0" stroke="#000" stroke-width="4"/>
<line x1="1672.3" y1="719.0" x2="1672.3" y2="725.0" stroke="#333" stroke-width="1.2"/>
<line x1="1769.0" y1="1125.0" x2="1769.0" y2="1135.0" stroke="#000" stroke-width="4"/>
<line x1="1769.0" y1="719.0" x2="1769.0" y2="725.0" stroke="#333" stroke-width="1.2"/>
<line x1="1865.7" y1="1125.0" x2="1865.7" y2="1135.0" stroke="#000" stroke-width="4"/>
<line x1="1865.7" y1="719.0" x2="1865.7" y2="725.0" stroke="#333" stroke-width="1.2"/>
<line x1="1962.3" y1="1125.0" x2="1962.3" y2="1135.0" stroke="#000" stroke-width="4"/>
<line x1="1962.3" y1="719.0" x2="1962.3" y2="725.0" stroke="#333" stroke-width="1.2"/>
<line x1="2059.0" y1="1125.0" x2="2059.0" y2="1135.0" stroke="#000" stroke-width="4"/>
<line x1="2059.0" y1="719.0" x2="2059.0" y2="725.0" stroke="#333" stroke-width="1.2"/>
<text transform="translate(1572.7,1156.5) scale(1,1.045)" font-size="23.5" text-anchor="middle" fill="#000" stroke="#000" stroke-width="0.45">200</text>
<text transform="translate(1672.3,1156.5) scale(1,1.045)" font-size="23.5" text-anchor="middle" fill="#000" stroke="#000" stroke-width="0.45">400</text>
<text transform="translate(1769.0,1156.5) scale(1,1.045)" font-size="23.5" text-anchor="middle" fill="#000" stroke="#000" stroke-width="0.45">600</text>
<text transform="translate(1865.7,1156.5) scale(1,1.045)" font-size="23.5" text-anchor="middle" fill="#000" stroke="#000" stroke-width="0.45">800</text>
<text transform="translate(1962.3,1156.5) scale(1,1.045)" font-size="23.5" text-anchor="middle" fill="#000" stroke="#000" stroke-width="0.45">1000</text>
<text transform="translate(2059.0,1156.5) scale(1,1.045)" font-size="23.5" text-anchor="middle" fill="#000" stroke="#000" stroke-width="0.45">1200</text>
<text transform="translate(1772.0,1184.0) scale(1,1.045)" font-size="31" fill="#000" stroke="#000" stroke-width="0.45">Time (s)</text>
<rect x="2099.0" y="719.0" width="32.0" height="411.0" fill="url(#cb81)" stroke="#333" stroke-width="1.2"/>
<line x1="2126.0" y1="1130.0" x2="2131.0" y2="1130.0" stroke="#333" stroke-width="1.2"/>
<text transform="translate(2133.0,1142.5) scale(1,1.045)" font-size="23.5" fill="#000" stroke="#000" stroke-width="0.45">0</text>
<line x1="2126.0" y1="1071.3" x2="2131.0" y2="1071.3" stroke="#333" stroke-width="1.2"/>
<text transform="translate(2133.0,1083.8) scale(1,1.045)" font-size="23.5" fill="#000" stroke="#000" stroke-width="0.45">10</text>
<line x1="2126.0" y1="1012.6" x2="2131.0" y2="1012.6" stroke="#333" stroke-width="1.2"/>
<text transform="translate(2133.0,1025.1) scale(1,1.045)" font-size="23.5" fill="#000" stroke="#000" stroke-width="0.45">20</text>
<line x1="2126.0" y1="953.9" x2="2131.0" y2="953.9" stroke="#333" stroke-width="1.2"/>
<text transform="translate(2133.0,966.4) scale(1,1.045)" font-size="23.5" fill="#000" stroke="#000" stroke-width="0.45">30</text>
<line x1="2126.0" y1="895.1" x2="2131.0" y2="895.1" stroke="#333" stroke-width="1.2"/>
<text transform="translate(2133.0,907.6) scale(1,1.045)" font-size="23.5" fill="#000" stroke="#000" stroke-width="0.45">40</text>
<line x1="2126.0" y1="836.4" x2="2131.0" y2="836.4" stroke="#333" stroke-width="1.2"/>
<text transform="translate(2133.0,848.9) scale(1,1.045)" font-size="23.5" fill="#000" stroke="#000" stroke-width="0.45">50</text>
<line x1="2126.0" y1="777.7" x2="2131.0" y2="777.7" stroke="#333" stroke-width="1.2"/>
<text transform="translate(2133.0,790.2) scale(1,1.045)" font-size="23.5" fill="#000" stroke="#000" stroke-width="0.45">60</text>
<line x1="2126.0" y1="719.0" x2="2131.0" y2="719.0" stroke="#333" stroke-width="1.2"/>
<text transform="translate(2133.0,731.5) scale(1,1.045)" font-size="23.5" fill="#000" stroke="#000" stroke-width="0.45">70</text>
<rect x="706.0" y="1265.0" width="580.5" height="10.4" fill="url(#h82)"/>
<rect x="706.0" y="1274.8" width="580.5" height="10.4" fill="url(#h83)"/>
<rect x="706.0" y="1284.6" width="580.5" height="10.4" fill="url(#h84)"/>
<rect x="706.0" y="1294.4" width="580.5" height="10.4" fill="url(#h85)"/>
<rect x="706.0" y="1304.1" width="580.5" height="10.4" fill="url(#h86)"/>
<rect x="706.0" y="1313.9" width="580.5" height="10.4" fill="url(#h87)"/>
<rect x="706.0" y="1323.7" width="580.5" height="10.4" fill="url(#h88)"/>
<rect x="706.0" y="1333.5" width="580.5" height="10.4" fill="url(#h89)"/>
<rect x="706.0" y="1343.3" width="580.5" height="10.4" fill="url(#h90)"/>
<rect x="706.0" y="1353.1" width="580.5" height="10.4" fill="url(#h91)"/>
<rect x="706.0" y="1362.9" width="580.5" height="10.4" fill="url(#h92)"/>
<rect x="706.0" y="1372.6" width="580.5" height="10.4" fill="url(#h93)"/>
<rect x="706.0" y="1382.4" width="580.5" height="10.4" fill="url(#h94)"/>
<rect x="706.0" y="1392.2" width="580.5" height="10.4" fill="url(#h95)"/>
<rect x="706.0" y="1402.0" width="580.5" height="10.4" fill="url(#h96)"/>
<rect x="706.0" y="1411.8" width="580.5" height="10.4" fill="url(#h97)"/>
<rect x="706.0" y="1421.6" width="580.5" height="10.4" fill="url(#h98)"/>
<rect x="706.0" y="1431.4" width="580.5" height="10.4" fill="url(#h99)"/>
<rect x="706.0" y="1441.1" width="580.5" height="10.4" fill="url(#h100)"/>
<rect x="706.0" y="1450.9" width="580.5" height="10.4" fill="url(#h101)"/>
<rect x="706.0" y="1460.7" width="580.5" height="10.4" fill="url(#h102)"/>
<rect x="706.0" y="1470.5" width="580.5" height="10.4" fill="url(#h103)"/>
<rect x="706.0" y="1480.3" width="580.5" height="10.4" fill="url(#h104)"/>
<rect x="706.0" y="1490.1" width="580.5" height="10.4" fill="url(#h105)"/>
<rect x="706.0" y="1499.9" width="580.5" height="10.4" fill="url(#h106)"/>
<rect x="706.0" y="1509.6" width="580.5" height="10.4" fill="url(#h107)"/>
<rect x="706.0" y="1519.4" width="580.5" height="10.4" fill="url(#h108)"/>
<rect x="706.0" y="1529.2" width="580.5" height="10.4" fill="url(#h109)"/>
<rect x="706.0" y="1539.0" width="580.5" height="10.4" fill="url(#h110)"/>
<rect x="706.0" y="1548.8" width="580.5" height="10.4" fill="url(#h111)"/>
<rect x="706.0" y="1558.6" width="580.5" height="10.4" fill="url(#h112)"/>
<rect x="706.0" y="1568.4" width="580.5" height="10.4" fill="url(#h113)"/>
<rect x="706.0" y="1578.1" width="580.5" height="10.4" fill="url(#h114)"/>
<rect x="706.0" y="1587.9" width="580.5" height="10.4" fill="url(#h115)"/>
<rect x="706.0" y="1597.7" width="580.5" height="10.4" fill="url(#h116)"/>
<rect x="706.0" y="1607.5" width="580.5" height="10.4" fill="url(#h117)"/>
<rect x="706.0" y="1617.3" width="580.5" height="10.4" fill="url(#h118)"/>
<rect x="706.0" y="1627.1" width="580.5" height="10.4" fill="url(#h119)"/>
<rect x="706.0" y="1636.9" width="580.5" height="10.4" fill="url(#h120)"/>
<rect x="706.0" y="1646.6" width="580.5" height="10.4" fill="url(#h121)"/>
<rect x="706.0" y="1656.4" width="580.5" height="10.4" fill="url(#h122)"/>
<rect x="706.0" y="1666.2" width="580.5" height="10.4" fill="url(#h123)"/>
<rect x="1276.8" y="1265.0" width="1.0" height="411.0" fill="#000033" opacity="0.07"/><rect x="1202.1" y="1265.0" width="1.3" height="411.0" fill="#ffffff" opacity="0.09"/><rect x="878.7" y="1265.0" width="1.0" height="411.0" fill="#ffffff" opacity="0.07"/><rect x="1135.7" y="1265.0" width="1.0" height="411.0" fill="#ffffff" opacity="0.07"/><rect x="1206.7" y="1265.0" width="0.8" height="411.0" fill="#ffffff" opacity="0.12"/><rect x="1143.2" y="1265.0" width="1.3" height="411.0" fill="#000033" opacity="0.05"/><rect x="1012.2" y="1265.0" width="1.3" height="411.0" fill="#000033" opacity="0.07"/><rect x="927.3" y="1265.0" width="1.3" height="411.0" fill="#000033" opacity="0.07"/><rect x="937.7" y="1265.0" width="1.0" height="411.0" fill="#ffffff" opacity="0.07"/><rect x="1144.1" y="1265.0" width="1.3" height="411.0" fill="#ffffff" opacity="0.07"/><rect x="952.8" y="1265.0" width="0.8" height="411.0" fill="#000033" opacity="0.06"/><rect x="1195.2" y="1265.0" width="1.0" height="411.0" fill="#000033" opacity="0.07"/><rect x="959.8" y="1265.0" width="1.0" height="411.0" fill="#000033" opacity="0.05"/><rect x="1060.3" y="1265.0" width="0.8" height="411.0" fill="#ffffff" opacity="0.07"/><rect x="1212.4" y="1265.0" width="1.3" height="411.0" fill="#000033" opacity="0.04"/><rect x="1047.4" y="1265.0" width="0.8" height="411.0" fill="#000033" opacity="0.06"/><rect x="1180.5" y="1265.0" width="1.3" height="411.0" fill="#ffffff" opacity="0.05"/><rect x="1043.8" y="1265.0" width="1.3" height="411.0" fill="#ffffff" opacity="0.11"/><rect x="1028.4" y="1265.0" width="1.3" height="411.0" fill="#000033" opacity="0.05"/><rect x="1183.8" y="1265.0" width="1.0" height="411.0" fill="#000033" opacity="0.07"/><rect x="1074.5" y="1265.0" width="1.3" height="411.0" fill="#ffffff" opacity="0.07"/><rect x="1256.0" y="1265.0" width="0.8" height="411.0" fill="#000033" opacity="0.07"/><rect x="998.6" y="1265.0" width="1.0" height="411.0" fill="#ffffff" opacity="0.06"/><rect x="889.6" y="1265.0" width="0.8" height="411.0" fill="#ffffff" opacity="0.10"/><rect x="1216.4" y="1265.0" width="1.3" height="411.0" fill="#ffffff" opacity="0.08"/><rect x="1006.3" y="1265.0" width="0.8" height="411.0" fill="#ffffff" opacity="0.08"/><rect x="1201.4" y="1265.0" width="0.8" height="411.0" fill="#000033" opacity="0.07"/><rect x="1129.2" y="1265.0" width="1.3" height="411.0" fill="#000033" opacity="0.05"/><rect x="976.4" y="1265.0" width="1.3" height="411.0" fill="#000033" opacity="0.07"/><rect x="1110.8" y="1265.0" width="1.0" height="411.0" fill="#000033" opacity="0.05"/><rect x="1021.2" y="1265.0" width="1.0" height="411.0" fill="#000033" opacity="0.07"/><rect x="1099.4" y="1265.0" width="1.3" height="411.0" fill="#000033" opacity="0.06"/><rect x="946.1" y="1265.0" width="0.8" height="411.0" fill="#ffffff" opacity="0.09"/><rect x="974.5" y="1265.0" width="1.0" height="411.0" fill="#ffffff" opacity="0.08"/><rect x="1028.2" y="1265.0" width="1.3" height="411.0" fill="#000033" opacity="0.07"/><rect x="1174.7" y="1265.0" width="1.3" height="411.0" fill="#ffffff" opacity="0.08"/><rect x="830.9" y="1265.0" width="1.0" height="411.0" fill="#ffffff" opacity="0.09"/><rect x="1150.7" y="1265.0" width="1.0" height="411.0" fill="#000033" opacity="0.05"/><rect x="827.6" y="1265.0" width="1.3" height="411.0" fill="#000033" opacity="0.06"/><rect x="874.3" y="1265.0" width="0.8" height="411.0" fill="#ffffff" opacity="0.06"/><rect x="985.0" y="1265.0" width="0.8" height="411.0" fill="#000033" opacity="0.07"/><rect x="939.8" y="1265.0" width="0.8" height="411.0" fill="#ffffff" opacity="0.12"/><rect x="864.1" y="1265.0" width="1.0" height="411.0" fill="#000033" opacity="0.06"/><rect x="1043.5" y="1265.0" width="0.8" height="411.0" fill="#ffffff" opacity="0.11"/><rect x="1090.5" y="1265.0" width="1.0" height="411.0" fill="#000033" opacity="0.08"/><rect x="1260.3" y="1265.0" width="0.8" height="411.0" fill="#ffffff" opacity="0.10"/><rect x="1285.1" y="1265.0" width="1.3" height="411.0" fill="#ffffff" opacity="0.12"/><rect x="1036.1" y="1265.0" width="1.3" height="411.0" fill="#ffffff" opacity="0.07"/><rect x="832.5" y="1265.0" width="0.8" height="411.0" fill="#000033" opacity="0.08"/><rect x="1103.9" y="1265.0" width="1.0" height="411.0" fill="#ffffff" opacity="0.10"/><rect x="974.8" y="1265.0" width="0.8" height="411.0" fill="#ffffff" opacity="0.10"/><rect x="967.8" y="1265.0" width="1.0" height="411.0" fill="#000033" opacity="0.08"/><rect x="890.4" y="1265.0" width="1.0" height="411.0" fill="#000033" opacity="0.07"/><rect x="949.7" y="1265.0" width="1.3" height="411.0" fill="#ffffff" opacity="0.06"/><rect x="1133.2" y="1265.0" width="1.0" height="411.0" fill="#ffffff" opacity="0.10"/><rect x="977.6" y="1265.0" width="1.3" height="411.0" fill="#000033" opacity="0.07"/><rect x="1147.5" y="1265.0" width="1.3" height="411.0" fill="#ffffff" opacity="0.10"/><rect x="1049.9" y="1265.0" width="0.8" height="411.0" fill="#ffffff" opacity="0.12"/><rect x="1117.3" y="1265.0" width="1.3" height="411.0" fill="#000033" opacity="0.07"/><rect x="985.3" y="1265.0" width="1.0" height="411.0" fill="#ffffff" opacity="0.07"/><rect x="1156.6" y="1265.0" width="1.3" height="411.0" fill="#000033" opacity="0.07"/><rect x="842.2" y="1265.0" width="0.8" height="411.0" fill="#000033" opacity="0.08"/><rect x="911.6" y="1265.0" width="1.0" height="411.0" fill="#ffffff" opacity="0.07"/><rect x="1229.3" y="1265.0" width="1.3" height="411.0" fill="#ffffff" opacity="0.09"/><rect x="984.8" y="1265.0" width="0.8" height="411.0" fill="#ffffff" opacity="0.07"/><rect x="1266.2" y="1265.0" width="0.8" height="411.0" fill="#000033" opacity="0.06"/><rect x="1174.4" y="1265.0" width="1.3" height="411.0" fill="#000033" opacity="0.07"/><rect x="1195.9" y="1265.0" width="1.0" height="411.0" fill="#000033" opacity="0.07"/><rect x="961.1" y="1265.0" width="0.8" height="411.0" fill="#ffffff" opacity="0.06"/><rect x="1133.7" y="1265.0" width="1.3" height="411.0" fill="#000033" opacity="0.05"/>
<rect x="706.0" y="1265.0" width="580.5" height="411.0" fill="none" stroke="#333" stroke-width="1.2"/>
<text transform="translate(640.0,1235.0) scale(1,1.045)" font-size="30.6" fill="#000" stroke="#000" stroke-width="0.45">Female Round 1</text>
<line x1="706.0" y1="1309.0" x2="712.0" y2="1309.0" stroke="#333" stroke-width="1.2"/>
<line x1="1280.5" y1="1309.0" x2="1286.5" y2="1309.0" stroke="#333" stroke-width="1.2"/>
<line x1="706.0" y1="1406.9" x2="712.0" y2="1406.9" stroke="#333" stroke-width="1.2"/>
<line x1="1280.5" y1="1406.9" x2="1286.5" y2="1406.9" stroke="#333" stroke-width="1.2"/>
<line x1="706.0" y1="1504.8" x2="712.0" y2="1504.8" stroke="#333" stroke-width="1.2"/>
<line x1="1280.5" y1="1504.8" x2="1286.5" y2="1504.8" stroke="#333" stroke-width="1.2"/>
<line x1="706.0" y1="1602.6" x2="712.0" y2="1602.6" stroke="#333" stroke-width="1.2"/>
<line x1="1280.5" y1="1602.6" x2="1286.5" y2="1602.6" stroke="#333" stroke-width="1.2"/>
<line x1="694.0" y1="1358.0" x2="713.0" y2="1358.0" stroke="#000" stroke-width="4.5"/>
<line x1="1280.5" y1="1358.0" x2="1286.5" y2="1358.0" stroke="#333" stroke-width="1.2"/>
<text transform="translate(690.5,1368.3) scale(1,1.045)" font-size="23.5" text-anchor="end" fill="#000" stroke="#000" stroke-width="0.45">10</text>
<line x1="694.0" y1="1455.8" x2="713.0" y2="1455.8" stroke="#000" stroke-width="4.5"/>
<line x1="1280.5" y1="1455.8" x2="1286.5" y2="1455.8" stroke="#333" stroke-width="1.2"/>
<text transform="translate(690.5,1466.1) scale(1,1.045)" font-size="23.5" text-anchor="end" fill="#000" stroke="#000" stroke-width="0.45">20</text>
<line x1="694.0" y1="1553.7" x2="713.0" y2="1553.7" stroke="#000" stroke-width="4.5"/>
<line x1="1280.5" y1="1553.7" x2="1286.5" y2="1553.7" stroke="#333" stroke-width="1.2"/>
<text transform="translate(690.5,1564.0) scale(1,1.045)" font-size="23.5" text-anchor="end" fill="#000" stroke="#000" stroke-width="0.45">30</text>
<line x1="706.0" y1="1651.5" x2="712.0" y2="1651.5" stroke="#333" stroke-width="1.2"/>
<line x1="1280.5" y1="1651.5" x2="1286.5" y2="1651.5" stroke="#333" stroke-width="1.2"/>
<text transform="translate(690.5,1661.8) scale(1,1.045)" font-size="23.5" text-anchor="end" fill="#000" stroke="#000" stroke-width="0.45">40</text>
<line x1="802.8" y1="1671.0" x2="802.8" y2="1681.0" stroke="#000" stroke-width="4"/>
<line x1="802.8" y1="1265.0" x2="802.8" y2="1271.0" stroke="#333" stroke-width="1.2"/>
<line x1="899.5" y1="1671.0" x2="899.5" y2="1681.0" stroke="#000" stroke-width="4"/>
<line x1="899.5" y1="1265.0" x2="899.5" y2="1271.0" stroke="#333" stroke-width="1.2"/>
<line x1="996.2" y1="1671.0" x2="996.2" y2="1681.0" stroke="#000" stroke-width="4"/>
<line x1="996.2" y1="1265.0" x2="996.2" y2="1271.0" stroke="#333" stroke-width="1.2"/>
<line x1="1093.0" y1="1671.0" x2="1093.0" y2="1681.0" stroke="#000" stroke-width="4"/>
<line x1="1093.0" y1="1265.0" x2="1093.0" y2="1271.0" stroke="#333" stroke-width="1.2"/>
<line x1="1189.8" y1="1671.0" x2="1189.8" y2="1681.0" stroke="#000" stroke-width="4"/>
<line x1="1189.8" y1="1265.0" x2="1189.8" y2="1271.0" stroke="#333" stroke-width="1.2"/>
<line x1="1286.5" y1="1671.0" x2="1286.5" y2="1681.0" stroke="#000" stroke-width="4"/>
<line x1="1286.5" y1="1265.0" x2="1286.5" y2="1271.0" stroke="#333" stroke-width="1.2"/>
<text transform="translate(799.8,1701.5) scale(1,1.045)" font-size="23.5" text-anchor="middle" fill="#000" stroke="#000" stroke-width="0.45">200</text>
<text transform="translate(899.5,1701.5) scale(1,1.045)" font-size="23.5" text-anchor="middle" fill="#000" stroke="#000" stroke-width="0.45">400</text>
<text transform="translate(996.2,1701.5) scale(1,1.045)" font-size="23.5" text-anchor="middle" fill="#000" stroke="#000" stroke-width="0.45">600</text>
<text transform="translate(1093.0,1701.5) scale(1,1.045)" font-size="23.5" text-anchor="middle" fill="#000" stroke="#000" stroke-width="0.45">800</text>
<text transform="translate(1189.8,1701.5) scale(1,1.045)" font-size="23.5" text-anchor="middle" fill="#000" stroke="#000" stroke-width="0.45">1000</text>
<text transform="translate(1286.5,1701.5) scale(1,1.045)" font-size="23.5" text-anchor="middle" fill="#000" stroke="#000" stroke-width="0.45">1200</text>
<text transform="translate(1002.0,1734.0) scale(1,1.045)" font-size="31" fill="#000" stroke="#000" stroke-width="0.45">Time (s)</text>
<rect x="1326.0" y="1265.0" width="32.0" height="411.0" fill="url(#cb124)" stroke="#333" stroke-width="1.2"/>
<line x1="1353.0" y1="1676.0" x2="1358.0" y2="1676.0" stroke="#333" stroke-width="1.2"/>
<text transform="translate(1360.0,1688.5) scale(1,1.045)" font-size="23.5" fill="#000" stroke="#000" stroke-width="0.45">0</text>
<line x1="1353.0" y1="1593.8" x2="1358.0" y2="1593.8" stroke="#333" stroke-width="1.2"/>
<text transform="translate(1360.0,1606.3) scale(1,1.045)" font-size="23.5" fill="#000" stroke="#000" stroke-width="0.45">10</text>
<line x1="1353.0" y1="1511.6" x2="1358.0" y2="1511.6" stroke="#333" stroke-width="1.2"/>
<text transform="translate(1360.0,1524.1) scale(1,1.045)" font-size="23.5" fill="#000" stroke="#000" stroke-width="0.45">20</text>
<line x1="1353.0" y1="1429.4" x2="1358.0" y2="1429.4" stroke="#333" stroke-width="1.2"/>
<text transform="translate(1360.0,1441.9) scale(1,1.045)" font-size="23.5" fill="#000" stroke="#000" stroke-width="0.45">30</text>
<line x1="1353.0" y1="1347.2" x2="1358.0" y2="1347.2" stroke="#333" stroke-width="1.2"/>
<text transform="translate(1360.0,1359.7) scale(1,1.045)" font-size="23.5" fill="#000" stroke="#000" stroke-width="0.45">40</text>
<line x1="1353.0" y1="1265.0" x2="1358.0" y2="1265.0" stroke="#333" stroke-width="1.2"/>
<text transform="translate(1360.0,1277.5) scale(1,1.045)" font-size="23.5" fill="#000" stroke="#000" stroke-width="0.45">50</text>
<rect x="1482.7" y="1265.0" width="580.3" height="10.4" fill="url(#h125)"/>
<rect x="1482.7" y="1274.8" width="580.3" height="10.4" fill="url(#h126)"/>
<rect x="1482.7" y="1284.6" width="580.3" height="10.4" fill="url(#h127)"/>
<rect x="1482.7" y="1294.4" width="580.3" height="10.4" fill="url(#h128)"/>
<rect x="1482.7" y="1304.1" width="580.3" height="10.4" fill="url(#h129)"/>
<rect x="1482.7" y="1313.9" width="580.3" height="10.4" fill="url(#h130)"/>
<rect x="1482.7" y="1323.7" width="580.3" height="10.4" fill="url(#h131)"/>
<rect x="1482.7" y="1333.5" width="580.3" height="10.4" fill="url(#h132)"/>
<rect x="1482.7" y="1343.3" width="580.3" height="10.4" fill="url(#h133)"/>
<rect x="1482.7" y="1353.1" width="580.3" height="10.4" fill="url(#h134)"/>
<rect x="1482.7" y="1362.9" width="580.3" height="10.4" fill="url(#h135)"/>
<rect x="1482.7" y="1372.6" width="580.3" height="10.4" fill="url(#h136)"/>
<rect x="1482.7" y="1382.4" width="580.3" height="10.4" fill="url(#h137)"/>
<rect x="1482.7" y="1392.2" width="580.3" height="10.4" fill="url(#h138)"/>
<rect x="1482.7" y="1402.0" width="580.3" height="10.4" fill="url(#h139)"/>
<rect x="1482.7" y="1411.8" width="580.3" height="10.4" fill="url(#h140)"/>
<rect x="1482.7" y="1421.6" width="580.3" height="10.4" fill="url(#h141)"/>
<rect x="1482.7" y="1431.4" width="580.3" height="10.4" fill="url(#h142)"/>
<rect x="1482.7" y="1441.1" width="580.3" height="10.4" fill="url(#h143)"/>
<rect x="1482.7" y="1450.9" width="580.3" height="10.4" fill="url(#h144)"/>
<rect x="1482.7" y="1460.7" width="580.3" height="10.4" fill="url(#h145)"/>
<rect x="1482.7" y="1470.5" width="580.3" height="10.4" fill="url(#h146)"/>
<rect x="1482.7" y="1480.3" width="580.3" height="10.4" fill="url(#h147)"/>
<rect x="1482.7" y="1490.1" width="580.3" height="10.4" fill="url(#h148)"/>
<rect x="1482.7" y="1499.9" width="580.3" height="10.4" fill="url(#h149)"/>
<rect x="1482.7" y="1509.6" width="580.3" height="10.4" fill="url(#h150)"/>
<rect x="1482.7" y="1519.4" width="580.3" height="10.4" fill="url(#h151)"/>
<rect x="1482.7" y="1529.2" width="580.3" height="10.4" fill="url(#h152)"/>
<rect x="1482.7" y="1539.0" width="580.3" height="10.4" fill="url(#h153)"/>
<rect x="1482.7" y="1548.8" width="580.3" height="10.4" fill="url(#h154)"/>
<rect x="1482.7" y="1558.6" width="580.3" height="10.4" fill="url(#h155)"/>
<rect x="1482.7" y="1568.4" width="580.3" height="10.4" fill="url(#h156)"/>
<rect x="1482.7" y="1578.1" width="580.3" height="10.4" fill="url(#h157)"/>
<rect x="1482.7" y="1587.9" width="580.3" height="10.4" fill="url(#h158)"/>
<rect x="1482.7" y="1597.7" width="580.3" height="10.4" fill="url(#h159)"/>
<rect x="1482.7" y="1607.5" width="580.3" height="10.4" fill="url(#h160)"/>
<rect x="1482.7" y="1617.3" width="580.3" height="10.4" fill="url(#h161)"/>
<rect x="1482.7" y="1627.1" width="580.3" height="10.4" fill="url(#h162)"/>
<rect x="1482.7" y="1636.9" width="580.3" height="10.4" fill="url(#h163)"/>
<rect x="1482.7" y="1646.6" width="580.3" height="10.4" fill="url(#h164)"/>
<rect x="1482.7" y="1656.4" width="580.3" height="10.4" fill="url(#h165)"/>
<rect x="1482.7" y="1666.2" width="580.3" height="10.4" fill="url(#h166)"/>
<rect x="2045.0" y="1265.0" width="0.8" height="411.0" fill="#000033" opacity="0.05"/><rect x="1761.3" y="1265.0" width="1.3" height="411.0" fill="#ffffff" opacity="0.11"/><rect x="2023.6" y="1265.0" width="0.8" height="411.0" fill="#000033" opacity="0.04"/><rect x="1907.7" y="1265.0" width="1.0" height="411.0" fill="#ffffff" opacity="0.05"/><rect x="1703.8" y="1265.0" width="1.0" height="411.0" fill="#ffffff" opacity="0.07"/><rect x="1892.4" y="1265.0" width="1.3" height="411.0" fill="#ffffff" opacity="0.05"/><rect x="1813.0" y="1265.0" width="0.8" height="411.0" fill="#ffffff" opacity="0.06"/><rect x="1868.6" y="1265.0" width="0.8" height="411.0" fill="#ffffff" opacity="0.10"/><rect x="1668.2" y="1265.0" width="0.8" height="411.0" fill="#ffffff" opacity="0.08"/><rect x="2028.5" y="1265.0" width="1.0" height="411.0" fill="#000033" opacity="0.06"/><rect x="1978.9" y="1265.0" width="0.8" height="411.0" fill="#ffffff" opacity="0.10"/><rect x="1975.4" y="1265.0" width="1.3" height="411.0" fill="#ffffff" opacity="0.06"/><rect x="1711.2" y="1265.0" width="0.8" height="411.0" fill="#ffffff" opacity="0.09"/><rect x="1630.3" y="1265.0" width="1.0" height="411.0" fill="#ffffff" opacity="0.08"/><rect x="1707.9" y="1265.0" width="1.0" height="411.0" fill="#ffffff" opacity="0.06"/><rect x="1616.7" y="1265.0" width="1.3" height="411.0" fill="#ffffff" opacity="0.06"/><rect x="1892.2" y="1265.0" width="1.3" height="411.0" fill="#ffffff" opacity="0.11"/><rect x="1827.9" y="1265.0" width="0.8" height="411.0" fill="#000033" opacity="0.05"/><rect x="1992.1" y="1265.0" width="1.3" height="411.0" fill="#ffffff" opacity="0.11"/><rect x="1938.1" y="1265.0" width="1.0" height="411.0" fill="#000033" opacity="0.06"/><rect x="1943.0" y="1265.0" width="1.3" height="411.0" fill="#000033" opacity="0.05"/><rect x="1622.6" y="1265.0" width="1.0" height="411.0" fill="#000033" opacity="0.04"/><rect x="1699.2" y="1265.0" width="0.8" height="411.0" fill="#000033" opacity="0.07"/><rect x="1888.2" y="1265.0" width="1.0" height="411.0" fill="#ffffff" opacity="0.11"/><rect x="1687.7" y="1265.0" width="0.8" height="411.0" fill="#000033" opacity="0.04"/><rect x="1923.1" y="1265.0" width="0.8" height="411.0" fill="#000033" opacity="0.06"/><rect x="1856.3" y="1265.0" width="0.8" height="411.0" fill="#ffffff" opacity="0.06"/><rect x="1716.1" y="1265.0" width="0.8" height="411.0" fill="#000033" opacity="0.07"/><rect x="1943.2" y="1265.0" width="1.3" height="411.0" fill="#ffffff" opacity="0.09"/><rect x="1715.6" y="1265.0" width="1.3" height="411.0" fill="#000033" opacity="0.06"/><rect x="1931.9" y="1265.0" width="0.8" height="411.0" fill="#ffffff" opacity="0.11"/><rect x="1865.9" y="1265.0" width="1.0" height="411.0" fill="#ffffff" opacity="0.05"/><rect x="1626.9" y="1265.0" width="0.8" height="411.0" fill="#ffffff" opacity="0.07"/><rect x="1783.7" y="1265.0" width="1.3" height="411.0" fill="#ffffff" opacity="0.06"/><rect x="1843.5" y="1265.0" width="1.3" height="411.0" fill="#ffffff" opacity="0.10"/><rect x="2024.8" y="1265.0" width="1.0" height="411.0" fill="#000033" opacity="0.05"/><rect x="1734.1" y="1265.0" width="0.8" height="411.0" fill="#ffffff" opacity="0.09"/><rect x="1816.7" y="1265.0" width="1.3" height="411.0" fill="#ffffff" opacity="0.06"/><rect x="1971.9" y="1265.0" width="1.0" height="411.0" fill="#000033" opacity="0.04"/><rect x="1751.5" y="1265.0" width="0.8" height="411.0" fill="#ffffff" opacity="0.06"/><rect x="1972.6" y="1265.0" width="1.0" height="411.0" fill="#ffffff" opacity="0.07"/><rect x="1925.0" y="1265.0" width="0.8" height="411.0" fill="#ffffff" opacity="0.10"/><rect x="1974.7" y="1265.0" width="1.0" height="411.0" fill="#ffffff" opacity="0.08"/><rect x="2050.5" y="1265.0" width="1.3" height="411.0" fill="#000033" opacity="0.05"/><rect x="1942.8" y="1265.0" width="0.8" height="411.0" fill="#000033" opacity="0.05"/><rect x="1875.6" y="1265.0" width="0.8" height="411.0" fill="#000033" opacity="0.06"/><rect x="1875.0" y="1265.0" width="0.8" height="411.0" fill="#000033" opacity="0.08"/><rect x="2004.4" y="1265.0" width="0.8" height="411.0" fill="#000033" opacity="0.07"/><rect x="1871.4" y="1265.0" width="0.8" height="411.0" fill="#ffffff" opacity="0.10"/><rect x="1975.5" y="1265.0" width="1.0" height="411.0" fill="#ffffff" opacity="0.10"/><rect x="1612.6" y="1265.0" width="1.0" height="411.0" fill="#000033" opacity="0.06"/><rect x="1707.0" y="1265.0" width="1.3" height="411.0" fill="#000033" opacity="0.05"/><rect x="1615.3" y="1265.0" width="1.3" height="411.0" fill="#ffffff" opacity="0.10"/><rect x="1890.1" y="1265.0" width="0.8" height="411.0" fill="#ffffff" opacity="0.09"/><rect x="1722.6" y="1265.0" width="1.0" height="411.0" fill="#ffffff" opacity="0.07"/><rect x="1905.1" y="1265.0" width="0.8" height="411.0" fill="#000033" opacity="0.08"/><rect x="1665.3" y="1265.0" width="1.3" height="411.0" fill="#000033" opacity="0.05"/><rect x="1996.3" y="1265.0" width="1.0" height="411.0" fill="#ffffff" opacity="0.11"/><rect x="1824.3" y="1265.0" width="0.8" height="411.0" fill="#000033" opacity="0.07"/><rect x="1890.6" y="1265.0" width="1.3" height="411.0" fill="#000033" opacity="0.04"/><rect x="1755.0" y="1265.0" width="1.3" height="411.0" fill="#000033" opacity="0.07"/><rect x="1787.7" y="1265.0" width="1.0" height="411.0" fill="#000033" opacity="0.07"/><rect x="1857.3" y="1265.0" width="1.3" height="411.0" fill="#000033" opacity="0.06"/><rect x="1749.8" y="1265.0" width="1.0" height="411.0" fill="#ffffff" opacity="0.09"/><rect x="2038.2" y="1265.0" width="1.3" height="411.0" fill="#ffffff" opacity="0.11"/><rect x="2008.3" y="1265.0" width="0.8" height="411.0" fill="#ffffff" opacity="0.08"/><rect x="2029.1" y="1265.0" width="1.0" height="411.0" fill="#000033" opacity="0.06"/><rect x="1876.5" y="1265.0" width="0.8" height="411.0" fill="#ffffff" opacity="0.09"/><rect x="2008.2" y="1265.0" width="1.0" height="411.0" fill="#ffffff" opacity="0.07"/><rect x="1973.0" y="1265.0" width="0.8" height="411.0" fill="#ffffff" opacity="0.06"/>
<rect x="1482.7" y="1265.0" width="580.3" height="411.0" fill="none" stroke="#333" stroke-width="1.2"/>
<text transform="translate(1403.0,1237.0) scale(1,1.045)" font-size="30.6" fill="#000" stroke="#000" stroke-width="0.45">Female Round 2</text>
<line x1="1482.7" y1="1309.0" x2="1488.7" y2="1309.0" stroke="#333" stroke-width="1.2"/>
<line x1="2057.0" y1="1309.0" x2="2063.0" y2="1309.0" stroke="#333" stroke-width="1.2"/>
<line x1="1482.7" y1="1406.9" x2="1488.7" y2="1406.9" stroke="#333" stroke-width="1.2"/>
<line x1="2057.0" y1="1406.9" x2="2063.0" y2="1406.9" stroke="#333" stroke-width="1.2"/>
<line x1="1482.7" y1="1504.8" x2="1488.7" y2="1504.8" stroke="#333" stroke-width="1.2"/>
<line x1="2057.0" y1="1504.8" x2="2063.0" y2="1504.8" stroke="#333" stroke-width="1.2"/>
<line x1="1482.7" y1="1602.6" x2="1488.7" y2="1602.6" stroke="#333" stroke-width="1.2"/>
<line x1="2057.0" y1="1602.6" x2="2063.0" y2="1602.6" stroke="#333" stroke-width="1.2"/>
<line x1="1470.5" y1="1358.0" x2="1489.7" y2="1358.0" stroke="#000" stroke-width="4.5"/>
<line x1="2057.0" y1="1358.0" x2="2063.0" y2="1358.0" stroke="#333" stroke-width="1.2"/>
<text transform="translate(1468.0,1368.3) scale(1,1.045)" font-size="23.5" text-anchor="end" fill="#000" stroke="#000" stroke-width="0.45">10</text>
<line x1="1470.5" y1="1455.8" x2="1489.7" y2="1455.8" stroke="#000" stroke-width="4.5"/>
<line x1="2057.0" y1="1455.8" x2="2063.0" y2="1455.8" stroke="#333" stroke-width="1.2"/>
<text transform="translate(1468.0,1466.1) scale(1,1.045)" font-size="23.5" text-anchor="end" fill="#000" stroke="#000" stroke-width="0.45">20</text>
<line x1="1470.5" y1="1553.7" x2="1489.7" y2="1553.7" stroke="#000" stroke-width="4.5"/>
<line x1="2057.0" y1="1553.7" x2="2063.0" y2="1553.7" stroke="#333" stroke-width="1.2"/>
<text transform="translate(1468.0,1564.0) scale(1,1.045)" font-size="23.5" text-anchor="end" fill="#000" stroke="#000" stroke-width="0.45">30</text>
<line x1="1470.5" y1="1651.5" x2="1489.7" y2="1651.5" stroke="#000" stroke-width="4.5"/>
<line x1="2057.0" y1="1651.5" x2="2063.0" y2="1651.5" stroke="#333" stroke-width="1.2"/>
<text transform="translate(1468.0,1661.8) scale(1,1.045)" font-size="23.5" text-anchor="end" fill="#000" stroke="#000" stroke-width="0.45">40</text>
<line x1="1579.4" y1="1671.0" x2="1579.4" y2="1681.0" stroke="#000" stroke-width="4"/>
<line x1="1579.4" y1="1265.0" x2="1579.4" y2="1271.0" stroke="#333" stroke-width="1.2"/>
<line x1="1676.1" y1="1671.0" x2="1676.1" y2="1681.0" stroke="#000" stroke-width="4"/>
<line x1="1676.1" y1="1265.0" x2="1676.1" y2="1271.0" stroke="#333" stroke-width="1.2"/>
<line x1="1772.8" y1="1671.0" x2="1772.8" y2="1681.0" stroke="#000" stroke-width="4"/>
<line x1="1772.8" y1="1265.0" x2="1772.8" y2="1271.0" stroke="#333" stroke-width="1.2"/>
<line x1="1869.6" y1="1671.0" x2="1869.6" y2="1681.0" stroke="#000" stroke-width="4"/>
<line x1="1869.6" y1="1265.0" x2="1869.6" y2="1271.0" stroke="#333" stroke-width="1.2"/>
<line x1="1966.3" y1="1671.0" x2="1966.3" y2="1681.0" stroke="#000" stroke-width="4"/>
<line x1="1966.3" y1="1265.0" x2="1966.3" y2="1271.0" stroke="#333" stroke-width="1.2"/>
<line x1="2063.0" y1="1671.0" x2="2063.0" y2="1681.0" stroke="#000" stroke-width="4"/>
<line x1="2063.0" y1="1265.0" x2="2063.0" y2="1271.0" stroke="#333" stroke-width="1.2"/>
<text transform="translate(1576.4,1700.5) scale(1,1.045)" font-size="23.5" text-anchor="middle" fill="#000" stroke="#000" stroke-width="0.45">200</text>
<text transform="translate(1676.1,1700.5) scale(1,1.045)" font-size="23.5" text-anchor="middle" fill="#000" stroke="#000" stroke-width="0.45">400</text>
<text transform="translate(1772.8,1700.5) scale(1,1.045)" font-size="23.5" text-anchor="middle" fill="#000" stroke="#000" stroke-width="0.45">600</text>
<text transform="translate(1869.6,1700.5) scale(1,1.045)" font-size="23.5" text-anchor="middle" fill="#000" stroke="#000" stroke-width="0.45">800</text>
<text transform="translate(1966.3,1700.5) scale(1,1.045)" font-size="23.5" text-anchor="middle" fill="#000" stroke="#000" stroke-width="0.45">1000</text>
<text transform="translate(2063.0,1700.5) scale(1,1.045)" font-size="23.5" text-anchor="middle" fill="#000" stroke="#000" stroke-width="0.45">1200</text>
<text transform="translate(1772.0,1732.0) scale(1,1.045)" font-size="31" fill="#000" stroke="#000" stroke-width="0.45">Time (s)</text>
<rect x="2102.6" y="1265.0" width="32.0" height="411.0" fill="url(#cb167)" stroke="#333" stroke-width="1.2"/>
<line x1="2129.6" y1="1676.0" x2="2134.6" y2="1676.0" stroke="#333" stroke-width="1.2"/>
<text transform="translate(2136.0,1688.5) scale(1,1.045)" font-size="23.5" fill="#000" stroke="#000" stroke-width="0.45">0</text>
<line x1="2129.6" y1="1593.8" x2="2134.6" y2="1593.8" stroke="#333" stroke-width="1.2"/>
<text transform="translate(2136.0,1606.3) scale(1,1.045)" font-size="23.5" fill="#000" stroke="#000" stroke-width="0.45">10</text>
<line x1="2129.6" y1="1511.6" x2="2134.6" y2="1511.6" stroke="#333" stroke-width="1.2"/>
<text transform="translate(2136.0,1524.1) scale(1,1.045)" font-size="23.5" fill="#000" stroke="#000" stroke-width="0.45">20</text>
<line x1="2129.6" y1="1429.4" x2="2134.6" y2="1429.4" stroke="#333" stroke-width="1.2"/>
<text transform="translate(2136.0,1441.9) scale(1,1.045)" font-size="23.5" fill="#000" stroke="#000" stroke-width="0.45">30</text>
<line x1="2129.6" y1="1347.2" x2="2134.6" y2="1347.2" stroke="#333" stroke-width="1.2"/>
<text transform="translate(2136.0,1359.7) scale(1,1.045)" font-size="23.5" fill="#000" stroke="#000" stroke-width="0.45">40</text>
<line x1="2129.6" y1="1265.0" x2="2134.6" y2="1265.0" stroke="#333" stroke-width="1.2"/>
<text transform="translate(2136.0,1277.5) scale(1,1.045)" font-size="23.5" fill="#000" stroke="#000" stroke-width="0.45">50</text>
<text transform="translate(646.5,922.7) rotate(-90) scale(1,1.045)" font-size="30.5" text-anchor="middle" fill="#000" stroke="#000" stroke-width="0.45">Cell Index</text>
<text transform="translate(646.5,1457.7) rotate(-90) scale(1,1.045)" font-size="30.5" text-anchor="middle" fill="#000" stroke="#000" stroke-width="0.45">Cell Index</text>
<line x1="345.5" y1="1846.0" x2="422.0" y2="1846.0" stroke="#43b0e3" stroke-width="3"/>
<rect x="375.5" y="1837.5" width="17.0" height="17.0" fill="#43b0e3"/>
<text transform="translate(434.0,1856.5) scale(1,1.045)" font-size="26.5" fill="#000" stroke="#000" stroke-width="0.45">Male</text>
<line x1="551.5" y1="1846.0" x2="629.0" y2="1846.0" stroke="#6a79c1" stroke-width="3"/>
<circle cx="590.0" cy="1846.0" r="8" fill="#6a79c1"/>
<text transform="translate(639.5,1856.5) scale(1,1.045)" font-size="26.5" fill="#000" stroke="#000" stroke-width="0.45">Female</text>
<rect x="123.6" y="1946.4" width="454.0" height="9.6" rx="4.8" fill="#f7e06a"/>
<rect x="123.6" y="1946.4" width="206.8" height="9.6" rx="4.8" fill="#999999"/>
<rect x="123.6" y="1946.4" width="33.0" height="9.6" fill="#999999"/>
<rect x="156.6" y="1946.4" width="169.8" height="9.6" fill="#5cdbe2"/>
<rect x="326.4" y="1946.4" width="65.2" height="9.6" fill="#999999"/>
<rect x="123.6" y="1946.4" width="9.6" height="9.6" rx="4.8" fill="#999999"/>
<rect x="646.5" y="1946.4" width="483.5" height="9.6" rx="4.8" fill="#f7e06a"/>
<rect x="646.5" y="1946.4" width="220.5" height="9.6" rx="4.8" fill="#999999"/>
<rect x="646.5" y="1946.4" width="35.9" height="9.6" fill="#999999"/>
<rect x="682.4" y="1946.4" width="180.6" height="9.6" fill="#5cdbe2"/>
<rect x="863.0" y="1946.4" width="68.7" height="9.6" fill="#999999"/>
<rect x="646.5" y="1946.4" width="9.6" height="9.6" rx="4.8" fill="#999999"/>
<text transform="translate(180.5,1935.0) scale(1,1.045)" font-size="26.5" fill="#000" stroke="#000" stroke-width="0.45">18.2 mM</text>
<text transform="translate(325.5,1935.0) scale(1,1.045)" font-size="26.5" fill="#000" stroke="#000" stroke-width="0.45">3 mM</text>
<text transform="translate(443.5,1935.0) scale(1,1.045)" font-size="26.5" fill="#000" stroke="#000" stroke-width="0.45">18.2 mM</text>
<text transform="translate(709.3,1935.0) scale(1,1.045)" font-size="26.5" fill="#000" stroke="#000" stroke-width="0.45">18.2 mM</text>
<text transform="translate(861.5,1935.0) scale(1,1.045)" font-size="26.5" fill="#000" stroke="#000" stroke-width="0.45">3 mM</text>
<text transform="translate(982.0,1935.0) scale(1,1.045)" font-size="26.5" fill="#000" stroke="#000" stroke-width="0.45">18.2 mM</text>
<line x1="111.4" y1="1928.5" x2="111.4" y2="2317.5" stroke="#000" stroke-width="3.4"/>
<line x1="109.7" y1="2315.8" x2="575.5" y2="2315.8" stroke="#000" stroke-width="3.4"/>
<line x1="100.0" y1="2301.2" x2="111.4" y2="2301.2" stroke="#000" stroke-width="3.4"/>
<text transform="translate(92.5,2311.2) scale(1,1.14)" font-size="29.5" text-anchor="end" fill="#000" stroke="#000" stroke-width="0.45">0</text>
<line x1="100.0" y1="2177.6" x2="111.4" y2="2177.6" stroke="#000" stroke-width="3.4"/>
<text transform="translate(92.5,2187.6) scale(1,1.14)" font-size="29.5" text-anchor="end" fill="#000" stroke="#000" stroke-width="0.45">50</text>
<line x1="100.0" y1="2053.9" x2="111.4" y2="2053.9" stroke="#000" stroke-width="3.4"/>
<text transform="translate(92.5,2063.9) scale(1,1.14)" font-size="29.5" text-anchor="end" fill="#000" stroke="#000" stroke-width="0.45">100</text>
<line x1="100.0" y1="1930.3" x2="111.4" y2="1930.3" stroke="#000" stroke-width="3.4"/>
<text transform="translate(92.5,1940.3) scale(1,1.14)" font-size="29.5" text-anchor="end" fill="#000" stroke="#000" stroke-width="0.45">150</text>
<line x1="159.0" y1="2315.8" x2="159.0" y2="2326.0" stroke="#000" stroke-width="3.4"/>
<line x1="208.7" y1="2315.8" x2="208.7" y2="2326.0" stroke="#000" stroke-width="3.4"/>
<line x1="260.0" y1="2315.8" x2="260.0" y2="2326.0" stroke="#000" stroke-width="3.4"/>
<line x1="310.5" y1="2315.8" x2="310.5" y2="2326.0" stroke="#000" stroke-width="3.4"/>
<line x1="392.3" y1="2315.8" x2="392.3" y2="2326.0" stroke="#000" stroke-width="3.4"/>
<line x1="447.4" y1="2315.8" x2="447.4" y2="2326.0" stroke="#000" stroke-width="3.4"/>
<line x1="502.0" y1="2315.8" x2="502.0" y2="2326.0" stroke="#000" stroke-width="3.4"/>
<line x1="557.0" y1="2315.8" x2="557.0" y2="2326.0" stroke="#000" stroke-width="3.4"/>
<text transform="translate(172.5,2358.0) rotate(-35) scale(1,1.1)" font-size="28.5" text-anchor="middle" fill="#000" stroke="#000" stroke-width="0.45">0</text>
<text transform="translate(222.2,2358.0) rotate(-35) scale(1,1.1)" font-size="28.5" text-anchor="middle" fill="#000" stroke="#000" stroke-width="0.45">300</text>
<text transform="translate(273.5,2358.0) rotate(-35) scale(1,1.1)" font-size="28.5" text-anchor="middle" fill="#000" stroke="#000" stroke-width="0.45">600</text>
<text transform="translate(324.0,2358.0) rotate(-35) scale(1,1.1)" font-size="28.5" text-anchor="middle" fill="#000" stroke="#000" stroke-width="0.45">900</text>
<text transform="translate(405.8,2358.0) rotate(-35) scale(1,1.1)" font-size="28.5" text-anchor="middle" fill="#000" stroke="#000" stroke-width="0.45">3000</text>
<text transform="translate(460.9,2358.0) rotate(-35) scale(1,1.1)" font-size="28.5" text-anchor="middle" fill="#000" stroke="#000" stroke-width="0.45">3300</text>
<text transform="translate(515.5,2358.0) rotate(-35) scale(1,1.1)" font-size="28.5" text-anchor="middle" fill="#000" stroke="#000" stroke-width="0.45">3600</text>
<text transform="translate(570.5,2358.0) rotate(-35) scale(1,1.1)" font-size="28.5" text-anchor="middle" fill="#000" stroke="#000" stroke-width="0.45">3900</text>
<text transform="translate(306.0,2411.0) scale(1,1.045)" font-size="26.5" fill="#000" stroke="#000" stroke-width="0.45">Time (s)</text>
<text transform="translate(24.5,2116.0) rotate(-90) scale(1,1.08)" font-size="30" text-anchor="middle" fill="#000" stroke="#000" stroke-width="0.45">Fusion events</text>
<line x1="636.6" y1="2314.7" x2="1128.5" y2="2314.7" stroke="#000" stroke-width="3.4"/>
<line x1="683.4" y1="2314.7" x2="683.4" y2="2325.0" stroke="#000" stroke-width="3.4"/>
<line x1="737.8" y1="2314.7" x2="737.8" y2="2325.0" stroke="#000" stroke-width="3.4"/>
<line x1="792.2" y1="2314.7" x2="792.2" y2="2325.0" stroke="#000" stroke-width="3.4"/>
<line x1="846.6" y1="2314.7" x2="846.6" y2="2325.0" stroke="#000" stroke-width="3.4"/>
<line x1="933.3" y1="2314.7" x2="933.3" y2="2325.0" stroke="#000" stroke-width="3.4"/>
<line x1="991.7" y1="2314.7" x2="991.7" y2="2325.0" stroke="#000" stroke-width="3.4"/>
<line x1="1051.0" y1="2314.7" x2="1051.0" y2="2325.0" stroke="#000" stroke-width="3.4"/>
<line x1="1109.7" y1="2314.7" x2="1109.7" y2="2325.0" stroke="#000" stroke-width="3.4"/>
<text transform="translate(697.9,2358.0) rotate(-35) scale(1,1.1)" font-size="28.5" text-anchor="middle" fill="#000" stroke="#000" stroke-width="0.45">0</text>
<text transform="translate(752.3,2358.0) rotate(-35) scale(1,1.1)" font-size="28.5" text-anchor="middle" fill="#000" stroke="#000" stroke-width="0.45">300</text>
<text transform="translate(806.7,2358.0) rotate(-35) scale(1,1.1)" font-size="28.5" text-anchor="middle" fill="#000" stroke="#000" stroke-width="0.45">600</text>
<text transform="translate(861.1,2358.0) rotate(-35) scale(1,1.1)" font-size="28.5" text-anchor="middle" fill="#000" stroke="#000" stroke-width="0.45">900</text>
<text transform="translate(947.8,2358.0) rotate(-35) scale(1,1.1)" font-size="28.5" text-anchor="middle" fill="#000" stroke="#000" stroke-width="0.45">3000</text>
<text transform="translate(1006.2,2358.0) rotate(-35) scale(1,1.1)" font-size="28.5" text-anchor="middle" fill="#000" stroke="#000" stroke-width="0.45">3300</text>
<text transform="translate(1065.5,2358.0) rotate(-35) scale(1,1.1)" font-size="28.5" text-anchor="middle" fill="#000" stroke="#000" stroke-width="0.45">3600</text>
<text transform="translate(1124.2,2358.0) rotate(-35) scale(1,1.1)" font-size="28.5" text-anchor="middle" fill="#000" stroke="#000" stroke-width="0.45">3900</text>
<text transform="translate(851.0,2410.0) scale(1,1.045)" font-size="26.5" fill="#000" stroke="#000" stroke-width="0.45">Time (s)</text>
<path d="M124.3,2301.2 L141.8,2301.2 L159.2,2301.2 L176.4,2065.8 L192.9,2123.2 L209.3,2154.6 L226.5,2195.6 L244.0,2212.2 L261.1,2218.9 L277.9,2220.3 L295.0,2213.9 L311.5,2204.0 L328.0,2237.9 L343.8,2301.2 L355.0,2301.2 L374.2,2298.7 L392.3,2301.2 L410.4,2063.1 L429.2,2168.4 L447.4,2181.5 L465.8,2194.1 L484.0,2217.9 L502.0,2222.1 L520.9,2244.3 L539.0,2247.8 L557.1,2251.8 L575.3,2246.8" fill="none" stroke="#43b0e3" stroke-width="3.2" stroke-linejoin="round"/>
<line x1="118.8" y1="2301.2" x2="129.8" y2="2301.2" stroke="#43b0e3" stroke-width="3"/>
<line x1="136.3" y1="2301.2" x2="147.3" y2="2301.2" stroke="#43b0e3" stroke-width="3"/>
<line x1="153.7" y1="2301.2" x2="164.7" y2="2301.2" stroke="#43b0e3" stroke-width="3"/>
<line x1="176.4" y1="2051.7" x2="176.4" y2="2079.9" stroke="#43b0e3" stroke-width="3"/>
<line x1="170.9" y1="2051.7" x2="181.9" y2="2051.7" stroke="#43b0e3" stroke-width="3"/>
<line x1="170.9" y1="2079.9" x2="181.9" y2="2079.9" stroke="#43b0e3" stroke-width="3"/>
<line x1="192.9" y1="2087.3" x2="192.9" y2="2159.0" stroke="#43b0e3" stroke-width="3"/>
<line x1="187.4" y1="2087.3" x2="198.4" y2="2087.3" stroke="#43b0e3" stroke-width="3"/>
<line x1="187.4" y1="2159.0" x2="198.4" y2="2159.0" stroke="#43b0e3" stroke-width="3"/>
<line x1="209.3" y1="2120.0" x2="209.3" y2="2189.2" stroke="#43b0e3" stroke-width="3"/>
<line x1="203.8" y1="2120.0" x2="214.8" y2="2120.0" stroke="#43b0e3" stroke-width="3"/>
<line x1="203.8" y1="2189.2" x2="214.8" y2="2189.2" stroke="#43b0e3" stroke-width="3"/>
<line x1="226.5" y1="2168.4" x2="226.5" y2="2222.8" stroke="#43b0e3" stroke-width="3"/>
<line x1="221.0" y1="2168.4" x2="232.0" y2="2168.4" stroke="#43b0e3" stroke-width="3"/>
<line x1="221.0" y1="2222.8" x2="232.0" y2="2222.8" stroke="#43b0e3" stroke-width="3"/>
<line x1="244.0" y1="2194.1" x2="244.0" y2="2230.2" stroke="#43b0e3" stroke-width="3"/>
<line x1="238.5" y1="2194.1" x2="249.5" y2="2194.1" stroke="#43b0e3" stroke-width="3"/>
<line x1="238.5" y1="2230.2" x2="249.5" y2="2230.2" stroke="#43b0e3" stroke-width="3"/>
<line x1="261.1" y1="2202.3" x2="261.1" y2="2235.4" stroke="#43b0e3" stroke-width="3"/>
<line x1="255.6" y1="2202.3" x2="266.6" y2="2202.3" stroke="#43b0e3" stroke-width="3"/>
<line x1="255.6" y1="2235.4" x2="266.6" y2="2235.4" stroke="#43b0e3" stroke-width="3"/>
<line x1="277.9" y1="2197.4" x2="277.9" y2="2243.3" stroke="#43b0e3" stroke-width="3"/>
<line x1="272.4" y1="2197.4" x2="283.4" y2="2197.4" stroke="#43b0e3" stroke-width="3"/>
<line x1="272.4" y1="2243.3" x2="283.4" y2="2243.3" stroke="#43b0e3" stroke-width="3"/>
<line x1="295.0" y1="2189.2" x2="295.0" y2="2238.6" stroke="#43b0e3" stroke-width="3"/>
<line x1="289.5" y1="2189.2" x2="300.5" y2="2189.2" stroke="#43b0e3" stroke-width="3"/>
<line x1="289.5" y1="2238.6" x2="300.5" y2="2238.6" stroke="#43b0e3" stroke-width="3"/>
<line x1="311.5" y1="2187.5" x2="311.5" y2="2220.6" stroke="#43b0e3" stroke-width="3"/>
<line x1="306.0" y1="2187.5" x2="317.0" y2="2187.5" stroke="#43b0e3" stroke-width="3"/>
<line x1="306.0" y1="2220.6" x2="317.0" y2="2220.6" stroke="#43b0e3" stroke-width="3"/>
<line x1="328.0" y1="2228.8" x2="328.0" y2="2247.1" stroke="#43b0e3" stroke-width="3"/>
<line x1="322.5" y1="2228.8" x2="333.5" y2="2228.8" stroke="#43b0e3" stroke-width="3"/>
<line x1="322.5" y1="2247.1" x2="333.5" y2="2247.1" stroke="#43b0e3" stroke-width="3"/>
<line x1="338.3" y1="2301.2" x2="349.3" y2="2301.2" stroke="#43b0e3" stroke-width="3"/>
<line x1="349.5" y1="2301.2" x2="360.5" y2="2301.2" stroke="#43b0e3" stroke-width="3"/>
<line x1="374.2" y1="2296.7" x2="374.2" y2="2300.7" stroke="#43b0e3" stroke-width="3"/>
<line x1="368.7" y1="2296.7" x2="379.7" y2="2296.7" stroke="#43b0e3" stroke-width="3"/>
<line x1="368.7" y1="2300.7" x2="379.7" y2="2300.7" stroke="#43b0e3" stroke-width="3"/>
<line x1="386.8" y1="2301.2" x2="397.8" y2="2301.2" stroke="#43b0e3" stroke-width="3"/>
<line x1="410.4" y1="1988.9" x2="410.4" y2="2137.3" stroke="#43b0e3" stroke-width="3"/>
<line x1="404.9" y1="1988.9" x2="415.9" y2="1988.9" stroke="#43b0e3" stroke-width="3"/>
<line x1="404.9" y1="2137.3" x2="415.9" y2="2137.3" stroke="#43b0e3" stroke-width="3"/>
<line x1="429.2" y1="2132.6" x2="429.2" y2="2204.3" stroke="#43b0e3" stroke-width="3"/>
<line x1="423.7" y1="2132.6" x2="434.7" y2="2132.6" stroke="#43b0e3" stroke-width="3"/>
<line x1="423.7" y1="2204.3" x2="434.7" y2="2204.3" stroke="#43b0e3" stroke-width="3"/>
<line x1="447.4" y1="2157.5" x2="447.4" y2="2205.5" stroke="#43b0e3" stroke-width="3"/>
<line x1="441.9" y1="2157.5" x2="452.9" y2="2157.5" stroke="#43b0e3" stroke-width="3"/>
<line x1="441.9" y1="2205.5" x2="452.9" y2="2205.5" stroke="#43b0e3" stroke-width="3"/>
<line x1="465.8" y1="2186.7" x2="465.8" y2="2201.6" stroke="#43b0e3" stroke-width="3"/>
<line x1="460.3" y1="2186.7" x2="471.3" y2="2186.7" stroke="#43b0e3" stroke-width="3"/>
<line x1="460.3" y1="2201.6" x2="471.3" y2="2201.6" stroke="#43b0e3" stroke-width="3"/>
<line x1="484.0" y1="2203.0" x2="484.0" y2="2232.7" stroke="#43b0e3" stroke-width="3"/>
<line x1="478.5" y1="2203.0" x2="489.5" y2="2203.0" stroke="#43b0e3" stroke-width="3"/>
<line x1="478.5" y1="2232.7" x2="489.5" y2="2232.7" stroke="#43b0e3" stroke-width="3"/>
<line x1="502.0" y1="2207.2" x2="502.0" y2="2236.9" stroke="#43b0e3" stroke-width="3"/>
<line x1="496.5" y1="2207.2" x2="507.5" y2="2207.2" stroke="#43b0e3" stroke-width="3"/>
<line x1="496.5" y1="2236.9" x2="507.5" y2="2236.9" stroke="#43b0e3" stroke-width="3"/>
<line x1="520.9" y1="2233.2" x2="520.9" y2="2255.5" stroke="#43b0e3" stroke-width="3"/>
<line x1="515.4" y1="2233.2" x2="526.4" y2="2233.2" stroke="#43b0e3" stroke-width="3"/>
<line x1="515.4" y1="2255.5" x2="526.4" y2="2255.5" stroke="#43b0e3" stroke-width="3"/>
<line x1="539.0" y1="2237.2" x2="539.0" y2="2258.4" stroke="#43b0e3" stroke-width="3"/>
<line x1="533.5" y1="2237.2" x2="544.5" y2="2237.2" stroke="#43b0e3" stroke-width="3"/>
<line x1="533.5" y1="2258.4" x2="544.5" y2="2258.4" stroke="#43b0e3" stroke-width="3"/>
<line x1="557.1" y1="2243.1" x2="557.1" y2="2260.4" stroke="#43b0e3" stroke-width="3"/>
<line x1="551.6" y1="2243.1" x2="562.6" y2="2243.1" stroke="#43b0e3" stroke-width="3"/>
<line x1="551.6" y1="2260.4" x2="562.6" y2="2260.4" stroke="#43b0e3" stroke-width="3"/>
<line x1="575.3" y1="2236.9" x2="575.3" y2="2256.7" stroke="#43b0e3" stroke-width="3"/>
<line x1="569.8" y1="2236.9" x2="580.8" y2="2236.9" stroke="#43b0e3" stroke-width="3"/>
<line x1="569.8" y1="2256.7" x2="580.8" y2="2256.7" stroke="#43b0e3" stroke-width="3"/>
<rect x="119.7" y="2296.6" width="9.2" height="9.2" fill="#43b0e3"/>
<rect x="137.2" y="2296.6" width="9.2" height="9.2" fill="#43b0e3"/>
<rect x="154.6" y="2296.6" width="9.2" height="9.2" fill="#43b0e3"/>
<rect x="171.8" y="2061.2" width="9.2" height="9.2" fill="#43b0e3"/>
<rect x="188.3" y="2118.6" width="9.2" height="9.2" fill="#43b0e3"/>
<rect x="204.7" y="2150.0" width="9.2" height="9.2" fill="#43b0e3"/>
<rect x="221.9" y="2191.0" width="9.2" height="9.2" fill="#43b0e3"/>
<rect x="239.4" y="2207.6" width="9.2" height="9.2" fill="#43b0e3"/>
<rect x="256.5" y="2214.3" width="9.2" height="9.2" fill="#43b0e3"/>
<rect x="273.3" y="2215.7" width="9.2" height="9.2" fill="#43b0e3"/>
<rect x="290.4" y="2209.3" width="9.2" height="9.2" fill="#43b0e3"/>
<rect x="306.9" y="2199.4" width="9.2" height="9.2" fill="#43b0e3"/>
<rect x="323.4" y="2233.3" width="9.2" height="9.2" fill="#43b0e3"/>
<rect x="339.2" y="2296.6" width="9.2" height="9.2" fill="#43b0e3"/>
<rect x="350.4" y="2296.6" width="9.2" height="9.2" fill="#43b0e3"/>
<rect x="369.6" y="2294.1" width="9.2" height="9.2" fill="#43b0e3"/>
<rect x="387.7" y="2296.6" width="9.2" height="9.2" fill="#43b0e3"/>
<rect x="405.8" y="2058.5" width="9.2" height="9.2" fill="#43b0e3"/>
<rect x="424.6" y="2163.8" width="9.2" height="9.2" fill="#43b0e3"/>
<rect x="442.8" y="2176.9" width="9.2" height="9.2" fill="#43b0e3"/>
<rect x="461.2" y="2189.5" width="9.2" height="9.2" fill="#43b0e3"/>
<rect x="479.4" y="2213.3" width="9.2" height="9.2" fill="#43b0e3"/>
<rect x="497.4" y="2217.5" width="9.2" height="9.2" fill="#43b0e3"/>
<rect x="516.3" y="2239.7" width="9.2" height="9.2" fill="#43b0e3"/>
<rect x="534.4" y="2243.2" width="9.2" height="9.2" fill="#43b0e3"/>
<rect x="552.5" y="2247.2" width="9.2" height="9.2" fill="#43b0e3"/>
<rect x="570.7" y="2242.2" width="9.2" height="9.2" fill="#43b0e3"/>
<path d="M648.1,2301.5 L665.6,2301.5 L683.4,2301.5 L701.5,2172.9 L720.0,2083.2 L737.8,2147.0 L756.3,2152.4 L774.4,2176.6 L792.5,2166.3 L810.3,2147.0 L828.8,2165.5 L846.6,2168.2 L865.0,2182.1 L882.9,2301.5 L894.4,2301.5 L913.5,2301.5 L933.3,2301.5 L952.8,2257.0 L971.9,2106.2 L992.6,2149.2 L1012.1,2169.0 L1031.2,2168.0 L1051.0,2210.0 L1070.8,2189.7 L1089.9,2192.0 L1109.7,2201.4 L1129.1,2206.3" fill="none" stroke="#6a79c1" stroke-width="3.2" stroke-linejoin="round"/>
<line x1="642.6" y1="2301.5" x2="653.6" y2="2301.5" stroke="#6a79c1" stroke-width="3"/>
<line x1="660.1" y1="2301.5" x2="671.1" y2="2301.5" stroke="#6a79c1" stroke-width="3"/>
<line x1="677.9" y1="2301.5" x2="688.9" y2="2301.5" stroke="#6a79c1" stroke-width="3"/>
<line x1="701.5" y1="2139.6" x2="701.5" y2="2206.3" stroke="#6a79c1" stroke-width="3"/>
<line x1="696.0" y1="2139.6" x2="707.0" y2="2139.6" stroke="#6a79c1" stroke-width="3"/>
<line x1="696.0" y1="2206.3" x2="707.0" y2="2206.3" stroke="#6a79c1" stroke-width="3"/>
<line x1="720.0" y1="2055.2" x2="720.0" y2="2111.1" stroke="#6a79c1" stroke-width="3"/>
<line x1="714.5" y1="2055.2" x2="725.5" y2="2055.2" stroke="#6a79c1" stroke-width="3"/>
<line x1="714.5" y1="2111.1" x2="725.5" y2="2111.1" stroke="#6a79c1" stroke-width="3"/>
<line x1="737.8" y1="2104.9" x2="737.8" y2="2189.0" stroke="#6a79c1" stroke-width="3"/>
<line x1="732.3" y1="2104.9" x2="743.3" y2="2104.9" stroke="#6a79c1" stroke-width="3"/>
<line x1="732.3" y1="2189.0" x2="743.3" y2="2189.0" stroke="#6a79c1" stroke-width="3"/>
<line x1="756.3" y1="2120.3" x2="756.3" y2="2184.6" stroke="#6a79c1" stroke-width="3"/>
<line x1="750.8" y1="2120.3" x2="761.8" y2="2120.3" stroke="#6a79c1" stroke-width="3"/>
<line x1="750.8" y1="2184.6" x2="761.8" y2="2184.6" stroke="#6a79c1" stroke-width="3"/>
<line x1="774.4" y1="2143.8" x2="774.4" y2="2209.5" stroke="#6a79c1" stroke-width="3"/>
<line x1="768.9" y1="2143.8" x2="779.9" y2="2143.8" stroke="#6a79c1" stroke-width="3"/>
<line x1="768.9" y1="2209.5" x2="779.9" y2="2209.5" stroke="#6a79c1" stroke-width="3"/>
<line x1="792.5" y1="2133.1" x2="792.5" y2="2199.4" stroke="#6a79c1" stroke-width="3"/>
<line x1="787.0" y1="2133.1" x2="798.0" y2="2133.1" stroke="#6a79c1" stroke-width="3"/>
<line x1="787.0" y1="2199.4" x2="798.0" y2="2199.4" stroke="#6a79c1" stroke-width="3"/>
<line x1="810.3" y1="2111.1" x2="810.3" y2="2182.8" stroke="#6a79c1" stroke-width="3"/>
<line x1="804.8" y1="2111.1" x2="815.8" y2="2111.1" stroke="#6a79c1" stroke-width="3"/>
<line x1="804.8" y1="2182.8" x2="815.8" y2="2182.8" stroke="#6a79c1" stroke-width="3"/>
<line x1="828.8" y1="2132.9" x2="828.8" y2="2198.1" stroke="#6a79c1" stroke-width="3"/>
<line x1="823.3" y1="2132.9" x2="834.3" y2="2132.9" stroke="#6a79c1" stroke-width="3"/>
<line x1="823.3" y1="2198.1" x2="834.3" y2="2198.1" stroke="#6a79c1" stroke-width="3"/>
<line x1="846.6" y1="2148.5" x2="846.6" y2="2188.0" stroke="#6a79c1" stroke-width="3"/>
<line x1="841.1" y1="2148.5" x2="852.1" y2="2148.5" stroke="#6a79c1" stroke-width="3"/>
<line x1="841.1" y1="2188.0" x2="852.1" y2="2188.0" stroke="#6a79c1" stroke-width="3"/>
<line x1="865.0" y1="2154.9" x2="865.0" y2="2209.3" stroke="#6a79c1" stroke-width="3"/>
<line x1="859.5" y1="2154.9" x2="870.5" y2="2154.9" stroke="#6a79c1" stroke-width="3"/>
<line x1="859.5" y1="2209.3" x2="870.5" y2="2209.3" stroke="#6a79c1" stroke-width="3"/>
<line x1="877.4" y1="2301.5" x2="888.4" y2="2301.5" stroke="#6a79c1" stroke-width="3"/>
<line x1="888.9" y1="2301.5" x2="899.9" y2="2301.5" stroke="#6a79c1" stroke-width="3"/>
<line x1="908.0" y1="2301.5" x2="919.0" y2="2301.5" stroke="#6a79c1" stroke-width="3"/>
<line x1="927.8" y1="2301.5" x2="938.8" y2="2301.5" stroke="#6a79c1" stroke-width="3"/>
<line x1="952.8" y1="2229.8" x2="952.8" y2="2284.2" stroke="#6a79c1" stroke-width="3"/>
<line x1="947.3" y1="2229.8" x2="958.3" y2="2229.8" stroke="#6a79c1" stroke-width="3"/>
<line x1="947.3" y1="2284.2" x2="958.3" y2="2284.2" stroke="#6a79c1" stroke-width="3"/>
<line x1="971.9" y1="2070.3" x2="971.9" y2="2142.0" stroke="#6a79c1" stroke-width="3"/>
<line x1="966.4" y1="2070.3" x2="977.4" y2="2070.3" stroke="#6a79c1" stroke-width="3"/>
<line x1="966.4" y1="2142.0" x2="977.4" y2="2142.0" stroke="#6a79c1" stroke-width="3"/>
<line x1="992.6" y1="2127.7" x2="992.6" y2="2170.7" stroke="#6a79c1" stroke-width="3"/>
<line x1="987.1" y1="2127.7" x2="998.1" y2="2127.7" stroke="#6a79c1" stroke-width="3"/>
<line x1="987.1" y1="2170.7" x2="998.1" y2="2170.7" stroke="#6a79c1" stroke-width="3"/>
<line x1="1012.1" y1="2128.2" x2="1012.1" y2="2209.8" stroke="#6a79c1" stroke-width="3"/>
<line x1="1006.6" y1="2128.2" x2="1017.6" y2="2128.2" stroke="#6a79c1" stroke-width="3"/>
<line x1="1006.6" y1="2209.8" x2="1017.6" y2="2209.8" stroke="#6a79c1" stroke-width="3"/>
<line x1="1031.2" y1="2130.9" x2="1031.2" y2="2205.1" stroke="#6a79c1" stroke-width="3"/>
<line x1="1025.7" y1="2130.9" x2="1036.7" y2="2130.9" stroke="#6a79c1" stroke-width="3"/>
<line x1="1025.7" y1="2205.1" x2="1036.7" y2="2205.1" stroke="#6a79c1" stroke-width="3"/>
<line x1="1051.0" y1="2181.6" x2="1051.0" y2="2238.5" stroke="#6a79c1" stroke-width="3"/>
<line x1="1045.5" y1="2181.6" x2="1056.5" y2="2181.6" stroke="#6a79c1" stroke-width="3"/>
<line x1="1045.5" y1="2238.5" x2="1056.5" y2="2238.5" stroke="#6a79c1" stroke-width="3"/>
<line x1="1070.8" y1="2150.2" x2="1070.8" y2="2229.3" stroke="#6a79c1" stroke-width="3"/>
<line x1="1065.3" y1="2150.2" x2="1076.3" y2="2150.2" stroke="#6a79c1" stroke-width="3"/>
<line x1="1065.3" y1="2229.3" x2="1076.3" y2="2229.3" stroke="#6a79c1" stroke-width="3"/>
<line x1="1089.9" y1="2158.6" x2="1089.9" y2="2225.3" stroke="#6a79c1" stroke-width="3"/>
<line x1="1084.4" y1="2158.6" x2="1095.4" y2="2158.6" stroke="#6a79c1" stroke-width="3"/>
<line x1="1084.4" y1="2225.3" x2="1095.4" y2="2225.3" stroke="#6a79c1" stroke-width="3"/>
<line x1="1109.7" y1="2168.2" x2="1109.7" y2="2234.5" stroke="#6a79c1" stroke-width="3"/>
<line x1="1104.2" y1="2168.2" x2="1115.2" y2="2168.2" stroke="#6a79c1" stroke-width="3"/>
<line x1="1104.2" y1="2234.5" x2="1115.2" y2="2234.5" stroke="#6a79c1" stroke-width="3"/>
<line x1="1129.1" y1="2177.4" x2="1129.1" y2="2235.2" stroke="#6a79c1" stroke-width="3"/>
<line x1="1123.6" y1="2177.4" x2="1134.6" y2="2177.4" stroke="#6a79c1" stroke-width="3"/>
<line x1="1123.6" y1="2235.2" x2="1134.6" y2="2235.2" stroke="#6a79c1" stroke-width="3"/>
<circle cx="648.1" cy="2301.5" r="4.8" fill="#6a79c1"/>
<circle cx="665.6" cy="2301.5" r="4.8" fill="#6a79c1"/>
<circle cx="683.4" cy="2301.5" r="4.8" fill="#6a79c1"/>
<circle cx="701.5" cy="2172.9" r="4.8" fill="#6a79c1"/>
<circle cx="720.0" cy="2083.2" r="4.8" fill="#6a79c1"/>
<circle cx="737.8" cy="2147.0" r="4.8" fill="#6a79c1"/>
<circle cx="756.3" cy="2152.4" r="4.8" fill="#6a79c1"/>
<circle cx="774.4" cy="2176.6" r="4.8" fill="#6a79c1"/>
<circle cx="792.5" cy="2166.3" r="4.8" fill="#6a79c1"/>
<circle cx="810.3" cy="2147.0" r="4.8" fill="#6a79c1"/>
<circle cx="828.8" cy="2165.5" r="4.8" fill="#6a79c1"/>
<circle cx="846.6" cy="2168.2" r="4.8" fill="#6a79c1"/>
<circle cx="865.0" cy="2182.1" r="4.8" fill="#6a79c1"/>
<circle cx="882.9" cy="2301.5" r="4.8" fill="#6a79c1"/>
<circle cx="894.4" cy="2301.5" r="4.8" fill="#6a79c1"/>
<circle cx="913.5" cy="2301.5" r="4.8" fill="#6a79c1"/>
<circle cx="933.3" cy="2301.5" r="4.8" fill="#6a79c1"/>
<circle cx="952.8" cy="2257.0" r="4.8" fill="#6a79c1"/>
<circle cx="971.9" cy="2106.2" r="4.8" fill="#6a79c1"/>
<circle cx="992.6" cy="2149.2" r="4.8" fill="#6a79c1"/>
<circle cx="1012.1" cy="2169.0" r="4.8" fill="#6a79c1"/>
<circle cx="1031.2" cy="2168.0" r="4.8" fill="#6a79c1"/>
<circle cx="1051.0" cy="2210.0" r="4.8" fill="#6a79c1"/>
<circle cx="1070.8" cy="2189.7" r="4.8" fill="#6a79c1"/>
<circle cx="1089.9" cy="2192.0" r="4.8" fill="#6a79c1"/>
<circle cx="1109.7" cy="2201.4" r="4.8" fill="#6a79c1"/>
<circle cx="1129.1" cy="2206.3" r="4.8" fill="#6a79c1"/>
<line x1="1297.3" y1="1935.5" x2="1297.3" y2="2324.5" stroke="#000" stroke-width="3.6"/>
<line x1="1295.5" y1="2322.8" x2="1661.0" y2="2322.8" stroke="#000" stroke-width="3.6"/>
<line x1="1284.7" y1="2312.7" x2="1297.3" y2="2312.7" stroke="#000" stroke-width="3.6"/>
<text transform="translate(1280.5,2326.0) scale(1,1.045)" font-size="29.5" text-anchor="end" fill="#000" stroke="#000" stroke-width="0.45">0</text>
<line x1="1284.7" y1="2237.7" x2="1297.3" y2="2237.7" stroke="#000" stroke-width="3.6"/>
<text transform="translate(1280.5,2251.0) scale(1,1.045)" font-size="29.5" text-anchor="end" fill="#000" stroke="#000" stroke-width="0.45">20</text>
<line x1="1284.7" y1="2162.7" x2="1297.3" y2="2162.7" stroke="#000" stroke-width="3.6"/>
<text transform="translate(1280.5,2176.0) scale(1,1.045)" font-size="29.5" text-anchor="end" fill="#000" stroke="#000" stroke-width="0.45">40</text>
<line x1="1284.7" y1="2087.7" x2="1297.3" y2="2087.7" stroke="#000" stroke-width="3.6"/>
<text transform="translate(1280.5,2101.0) scale(1,1.045)" font-size="29.5" text-anchor="end" fill="#000" stroke="#000" stroke-width="0.45">60</text>
<line x1="1284.7" y1="2012.7" x2="1297.3" y2="2012.7" stroke="#000" stroke-width="3.6"/>
<text transform="translate(1280.5,2026.0) scale(1,1.045)" font-size="29.5" text-anchor="end" fill="#000" stroke="#000" stroke-width="0.45">80</text>
<line x1="1284.7" y1="1937.7" x2="1297.3" y2="1937.7" stroke="#000" stroke-width="3.6"/>
<text transform="translate(1280.5,1951.0) scale(1,1.045)" font-size="29.5" text-anchor="end" fill="#000" stroke="#000" stroke-width="0.45">100</text>
<line x1="1306.8" y1="2322.8" x2="1306.8" y2="2337.0" stroke="#000" stroke-width="3.6"/>
<line x1="1365.7" y1="2322.8" x2="1365.7" y2="2331.0" stroke="#000" stroke-width="3.6"/>
<line x1="1424.6" y1="2322.8" x2="1424.6" y2="2337.0" stroke="#000" stroke-width="3.6"/>
<line x1="1483.5" y1="2322.8" x2="1483.5" y2="2331.0" stroke="#000" stroke-width="3.6"/>
<line x1="1542.4" y1="2322.8" x2="1542.4" y2="2337.0" stroke="#000" stroke-width="3.6"/>
<line x1="1601.3" y1="2322.8" x2="1601.3" y2="2331.0" stroke="#000" stroke-width="3.6"/>
<line x1="1660.2" y1="2322.8" x2="1660.2" y2="2337.0" stroke="#000" stroke-width="3.6"/>
<text transform="translate(1306.8,2368.5) scale(1,1.045)" font-size="29.5" text-anchor="middle" fill="#000" stroke="#000" stroke-width="0.45">0</text>
<text transform="translate(1424.6,2368.5) scale(1,1.045)" font-size="29.5" text-anchor="middle" fill="#000" stroke="#000" stroke-width="0.45">40</text>
<text transform="translate(1542.4,2368.5) scale(1,1.045)" font-size="29.5" text-anchor="middle" fill="#000" stroke="#000" stroke-width="0.45">80</text>
<text transform="translate(1660.2,2368.5) scale(1,1.045)" font-size="29.5" text-anchor="middle" fill="#000" stroke="#000" stroke-width="0.45">120</text>
<text transform="translate(1317.5,2412.5) scale(1,1.045)" font-size="30" fill="#000" stroke="#000" stroke-width="0.45">Secretory capacity of R1</text>
<text transform="translate(1228.5,2124.5) rotate(-90) scale(1,1.12)" font-size="30" text-anchor="middle" fill="#000" stroke="#000" stroke-width="0.45">Secretory capacity of R2</text>
<text transform="translate(1319.0,1959.0) scale(1,1.045)" font-size="29.5" fill="#000" stroke="#000" stroke-width="0.45">Male</text>
<text transform="translate(1410.0,1959.0) scale(1,1.045)" font-size="29.5" fill="#000" stroke="#000" stroke-width="0.45">R</text>
<text transform="translate(1430.0,1940.0) scale(1,1.045)" font-size="19" fill="#000" stroke="#000" stroke-width="0.45">2</text>
<text transform="translate(1441.0,1959.0) scale(1,1.045)" font-size="29.5" fill="#000" stroke="#000" stroke-width="0.45">=0.52</text>
<line x1="1306.8" y1="2300.7" x2="1626.3" y2="2053.9" stroke="#f2b6e6" stroke-width="3.2" stroke-dasharray="8 6"/>
<circle cx="1368.9" cy="2009.3" r="3.3" fill="#45b0e0"/>
<circle cx="1448.5" cy="2035.9" r="3.3" fill="#45b0e0"/>
<circle cx="1444.6" cy="2065.9" r="3.3" fill="#45b0e0"/>
<circle cx="1436.7" cy="2076.8" r="3.3" fill="#45b0e0"/>
<circle cx="1497.9" cy="2069.7" r="3.3" fill="#45b0e0"/>
<circle cx="1501.2" cy="2122.2" r="3.3" fill="#45b0e0"/>
<circle cx="1398.1" cy="2125.6" r="3.3" fill="#45b0e0"/>
<circle cx="1424.6" cy="2140.6" r="3.3" fill="#45b0e0"/>
<circle cx="1434.0" cy="2145.1" r="3.3" fill="#45b0e0"/>
<circle cx="1627.5" cy="2152.2" r="3.3" fill="#45b0e0"/>
<circle cx="1401.0" cy="2159.3" r="3.3" fill="#45b0e0"/>
<circle cx="1377.8" cy="2166.8" r="3.3" fill="#45b0e0"/>
<circle cx="1383.1" cy="2170.6" r="3.3" fill="#45b0e0"/>
<circle cx="1412.5" cy="2170.6" r="3.3" fill="#45b0e0"/>
<circle cx="1488.5" cy="2170.6" r="3.3" fill="#45b0e0"/>
<circle cx="1406.9" cy="2181.8" r="3.3" fill="#45b0e0"/>
<circle cx="1506.8" cy="2185.9" r="3.3" fill="#45b0e0"/>
<circle cx="1518.8" cy="2189.3" r="3.3" fill="#45b0e0"/>
<circle cx="1444.6" cy="2200.9" r="3.3" fill="#45b0e0"/>
<circle cx="1483.5" cy="2208.4" r="3.3" fill="#45b0e0"/>
<circle cx="1471.4" cy="2212.2" r="3.3" fill="#45b0e0"/>
<circle cx="1336.2" cy="2203.9" r="3.3" fill="#45b0e0"/>
<circle cx="1336.2" cy="2206.9" r="3.3" fill="#45b0e0"/>
<circle cx="1383.1" cy="2212.2" r="3.3" fill="#45b0e0"/>
<circle cx="1384.3" cy="2215.9" r="3.3" fill="#45b0e0"/>
<circle cx="1386.3" cy="2218.9" r="3.3" fill="#45b0e0"/>
<circle cx="1442.3" cy="2223.4" r="3.3" fill="#45b0e0"/>
<circle cx="1477.6" cy="2223.4" r="3.3" fill="#45b0e0"/>
<circle cx="1345.7" cy="2226.8" r="3.3" fill="#45b0e0"/>
<circle cx="1415.8" cy="2226.8" r="3.3" fill="#45b0e0"/>
<circle cx="1368.9" cy="2230.6" r="3.3" fill="#45b0e0"/>
<circle cx="1404.6" cy="2230.6" r="3.3" fill="#45b0e0"/>
<circle cx="1421.9" cy="2230.6" r="3.3" fill="#45b0e0"/>
<circle cx="1433.7" cy="2234.7" r="3.3" fill="#45b0e0"/>
<circle cx="1421.9" cy="2241.8" r="3.3" fill="#45b0e0"/>
<circle cx="1454.0" cy="2245.6" r="3.3" fill="#45b0e0"/>
<circle cx="1366.0" cy="2245.6" r="3.3" fill="#45b0e0"/>
<circle cx="1433.7" cy="2264.7" r="3.3" fill="#45b0e0"/>
<circle cx="1374.8" cy="2272.2" r="3.3" fill="#45b0e0"/>
<circle cx="1404.6" cy="2279.7" r="3.3" fill="#45b0e0"/>
<circle cx="1392.5" cy="2283.4" r="3.3" fill="#45b0e0"/>
<circle cx="1421.9" cy="2283.4" r="3.3" fill="#45b0e0"/>
<circle cx="1366.0" cy="2287.2" r="3.3" fill="#45b0e0"/>
<circle cx="1377.8" cy="2290.9" r="3.3" fill="#45b0e0"/>
<circle cx="1383.1" cy="2294.7" r="3.3" fill="#45b0e0"/>
<circle cx="1406.9" cy="2294.7" r="3.3" fill="#45b0e0"/>
<circle cx="1412.5" cy="2298.4" r="3.3" fill="#45b0e0"/>
<circle cx="1392.5" cy="2309.7" r="3.3" fill="#45b0e0"/>
<circle cx="1353.9" cy="2248.9" r="3.3" fill="#45b0e0"/>
<circle cx="1358.3" cy="2252.7" r="3.3" fill="#45b0e0"/>
<circle cx="1342.1" cy="2241.4" r="3.3" fill="#45b0e0"/>
<circle cx="1346.6" cy="2245.2" r="3.3" fill="#45b0e0"/>
<circle cx="1327.4" cy="2241.4" r="3.3" fill="#45b0e0"/>
<circle cx="1330.4" cy="2245.2" r="3.3" fill="#45b0e0"/>
<circle cx="1333.3" cy="2248.9" r="3.3" fill="#45b0e0"/>
<circle cx="1321.5" cy="2252.7" r="3.3" fill="#45b0e0"/>
<circle cx="1318.6" cy="2256.4" r="3.3" fill="#45b0e0"/>
<circle cx="1324.5" cy="2260.2" r="3.3" fill="#45b0e0"/>
<circle cx="1315.6" cy="2263.9" r="3.3" fill="#45b0e0"/>
<circle cx="1330.4" cy="2267.7" r="3.3" fill="#45b0e0"/>
<circle cx="1339.2" cy="2271.4" r="3.3" fill="#45b0e0"/>
<circle cx="1351.0" cy="2275.2" r="3.3" fill="#45b0e0"/>
<circle cx="1353.9" cy="2278.9" r="3.3" fill="#45b0e0"/>
<circle cx="1356.9" cy="2282.7" r="3.3" fill="#45b0e0"/>
<circle cx="1342.1" cy="2286.4" r="3.3" fill="#45b0e0"/>
<circle cx="1348.0" cy="2290.2" r="3.3" fill="#45b0e0"/>
<circle cx="1351.0" cy="2301.4" r="3.3" fill="#45b0e0"/>
<circle cx="1345.1" cy="2308.9" r="3.3" fill="#45b0e0"/>
<circle cx="1339.2" cy="2293.9" r="3.3" fill="#45b0e0"/>
<circle cx="1333.3" cy="2301.4" r="3.3" fill="#45b0e0"/>
<circle cx="1312.7" cy="2282.7" r="3.3" fill="#45b0e0"/>
<circle cx="1309.7" cy="2286.4" r="3.3" fill="#45b0e0"/>
<circle cx="1315.6" cy="2290.2" r="3.3" fill="#45b0e0"/>
<circle cx="1312.7" cy="2297.7" r="3.3" fill="#45b0e0"/>
<circle cx="1321.5" cy="2293.9" r="3.3" fill="#45b0e0"/>
<circle cx="1327.4" cy="2297.7" r="3.3" fill="#45b0e0"/>
<circle cx="1324.5" cy="2305.2" r="3.3" fill="#45b0e0"/>
<circle cx="1318.6" cy="2308.9" r="3.3" fill="#45b0e0"/>
<circle cx="1309.7" cy="2312.7" r="3.3" fill="#45b0e0"/>
<circle cx="1312.7" cy="2308.9" r="3.3" fill="#45b0e0"/>
<circle cx="1308.3" cy="2301.4" r="3.3" fill="#45b0e0"/>
<circle cx="1315.6" cy="2305.2" r="3.3" fill="#45b0e0"/>
<circle cx="1330.4" cy="2308.9" r="3.3" fill="#45b0e0"/>
<circle cx="1336.2" cy="2305.2" r="3.3" fill="#45b0e0"/>
<circle cx="1342.1" cy="2301.4" r="3.3" fill="#45b0e0"/>
<circle cx="1324.5" cy="2278.9" r="3.3" fill="#45b0e0"/>
<circle cx="1327.4" cy="2275.2" r="3.3" fill="#45b0e0"/>
<circle cx="1333.3" cy="2271.4" r="3.3" fill="#45b0e0"/>
<circle cx="1336.2" cy="2267.7" r="3.3" fill="#45b0e0"/>
<circle cx="1339.2" cy="2260.2" r="3.3" fill="#45b0e0"/>
<circle cx="1345.1" cy="2256.4" r="3.3" fill="#45b0e0"/>
<circle cx="1348.0" cy="2263.9" r="3.3" fill="#45b0e0"/>
<circle cx="1342.1" cy="2263.9" r="3.3" fill="#45b0e0"/>
<circle cx="1321.5" cy="2271.4" r="3.3" fill="#45b0e0"/>
<circle cx="1318.6" cy="2278.9" r="3.3" fill="#45b0e0"/>
<circle cx="1315.6" cy="2275.2" r="3.3" fill="#45b0e0"/>
<circle cx="1312.7" cy="2305.2" r="3.3" fill="#45b0e0"/>
<circle cx="1309.7" cy="2307.1" r="3.3" fill="#45b0e0"/>
<circle cx="1309.2" cy="2310.8" r="3.3" fill="#45b0e0"/>
<circle cx="1318.6" cy="2312.7" r="3.3" fill="#45b0e0"/>
<circle cx="1324.5" cy="2310.8" r="3.3" fill="#45b0e0"/>
<circle cx="1333.3" cy="2286.4" r="3.3" fill="#45b0e0"/>
<circle cx="1336.2" cy="2282.7" r="3.3" fill="#45b0e0"/>
<circle cx="1339.2" cy="2278.9" r="3.3" fill="#45b0e0"/>
<circle cx="1327.4" cy="2290.2" r="3.3" fill="#45b0e0"/>
<circle cx="1330.4" cy="2293.9" r="3.3" fill="#45b0e0"/>
<circle cx="1321.5" cy="2301.4" r="3.3" fill="#45b0e0"/>
<circle cx="1318.6" cy="2295.8" r="3.3" fill="#45b0e0"/>
<circle cx="1315.6" cy="2310.8" r="3.3" fill="#45b0e0"/>
<circle cx="1312.7" cy="2312.7" r="3.3" fill="#45b0e0"/>
<circle cx="1306.8" cy="2308.9" r="3.3" fill="#45b0e0"/>
<circle cx="1306.8" cy="2305.2" r="3.3" fill="#45b0e0"/>
<circle cx="1309.7" cy="2297.7" r="3.3" fill="#45b0e0"/>
<circle cx="1321.5" cy="2286.4" r="3.3" fill="#45b0e0"/>
<circle cx="1345.1" cy="2278.9" r="3.3" fill="#45b0e0"/>
<circle cx="1348.0" cy="2271.4" r="3.3" fill="#45b0e0"/>
<circle cx="1333.3" cy="2260.2" r="3.3" fill="#45b0e0"/>
<circle cx="1353.9" cy="2263.9" r="3.3" fill="#45b0e0"/>
<circle cx="1351.0" cy="2256.4" r="3.3" fill="#45b0e0"/>
<circle cx="1342.1" cy="2252.7" r="3.3" fill="#45b0e0"/>
<circle cx="1324.5" cy="2290.2" r="3.3" fill="#45b0e0"/>
<circle cx="1327.4" cy="2305.2" r="3.3" fill="#45b0e0"/>
<circle cx="1336.2" cy="2312.7" r="3.3" fill="#45b0e0"/>
<circle cx="1342.1" cy="2308.9" r="3.3" fill="#45b0e0"/>
<circle cx="1312.7" cy="2290.2" r="3.3" fill="#45b0e0"/>
<circle cx="1309.7" cy="2278.9" r="3.3" fill="#45b0e0"/>
<line x1="1794.2" y1="1927.5" x2="1794.2" y2="2317.0" stroke="#000" stroke-width="3.6"/>
<line x1="1792.4" y1="2315.2" x2="2155.4" y2="2315.2" stroke="#000" stroke-width="3.6"/>
<line x1="1781.0" y1="2304.9" x2="1794.2" y2="2304.9" stroke="#000" stroke-width="3.6"/>
<text transform="translate(1775.5,2317.7) scale(1,1.045)" font-size="29.5" text-anchor="end" fill="#000" stroke="#000" stroke-width="0.45">0</text>
<line x1="1781.0" y1="2229.9" x2="1794.2" y2="2229.9" stroke="#000" stroke-width="3.6"/>
<text transform="translate(1775.5,2242.7) scale(1,1.045)" font-size="29.5" text-anchor="end" fill="#000" stroke="#000" stroke-width="0.45">20</text>
<line x1="1781.0" y1="2154.9" x2="1794.2" y2="2154.9" stroke="#000" stroke-width="3.6"/>
<text transform="translate(1775.5,2167.7) scale(1,1.045)" font-size="29.5" text-anchor="end" fill="#000" stroke="#000" stroke-width="0.45">40</text>
<line x1="1781.0" y1="2079.9" x2="1794.2" y2="2079.9" stroke="#000" stroke-width="3.6"/>
<text transform="translate(1775.5,2092.7) scale(1,1.045)" font-size="29.5" text-anchor="end" fill="#000" stroke="#000" stroke-width="0.45">60</text>
<line x1="1781.0" y1="2004.9" x2="1794.2" y2="2004.9" stroke="#000" stroke-width="3.6"/>
<text transform="translate(1775.5,2017.7) scale(1,1.045)" font-size="29.5" text-anchor="end" fill="#000" stroke="#000" stroke-width="0.45">80</text>
<line x1="1781.0" y1="1929.9" x2="1794.2" y2="1929.9" stroke="#000" stroke-width="3.6"/>
<text transform="translate(1775.5,1942.7) scale(1,1.045)" font-size="29.5" text-anchor="end" fill="#000" stroke="#000" stroke-width="0.45">100</text>
<line x1="1802.7" y1="2315.2" x2="1802.7" y2="2327.5" stroke="#000" stroke-width="3.6"/>
<line x1="1857.0" y1="2315.2" x2="1857.0" y2="2322.0" stroke="#000" stroke-width="3.6"/>
<line x1="1911.4" y1="2315.2" x2="1911.4" y2="2327.5" stroke="#000" stroke-width="3.6"/>
<line x1="1965.7" y1="2315.2" x2="1965.7" y2="2322.0" stroke="#000" stroke-width="3.6"/>
<line x1="2020.0" y1="2315.2" x2="2020.0" y2="2327.5" stroke="#000" stroke-width="3.6"/>
<line x1="2074.4" y1="2315.2" x2="2074.4" y2="2322.0" stroke="#000" stroke-width="3.6"/>
<line x1="2128.7" y1="2315.2" x2="2128.7" y2="2327.5" stroke="#000" stroke-width="3.6"/>
<text transform="translate(1802.7,2363.7) scale(1,1.045)" font-size="29.5" text-anchor="middle" fill="#000" stroke="#000" stroke-width="0.45">0</text>
<text transform="translate(1911.4,2363.7) scale(1,1.045)" font-size="29.5" text-anchor="middle" fill="#000" stroke="#000" stroke-width="0.45">40</text>
<text transform="translate(2020.0,2363.7) scale(1,1.045)" font-size="29.5" text-anchor="middle" fill="#000" stroke="#000" stroke-width="0.45">80</text>
<text transform="translate(2128.7,2363.7) scale(1,1.045)" font-size="29.5" text-anchor="middle" fill="#000" stroke="#000" stroke-width="0.45">120</text>
<text transform="translate(1814.0,2406.0) scale(1,1.045)" font-size="30" fill="#000" stroke="#000" stroke-width="0.45">Secretory capacity of R1</text>
<text transform="translate(1721.4,2117.3) rotate(-90) scale(1,1.12)" font-size="30" text-anchor="middle" fill="#000" stroke="#000" stroke-width="0.45">Secretory capacity of R2</text>
<text transform="translate(1809.5,1958.7) scale(1,1.045)" font-size="29.5" fill="#000" stroke="#000" stroke-width="0.45">Female</text>
<text transform="translate(1937.0,1958.7) scale(1,1.045)" font-size="29.5" fill="#000" stroke="#000" stroke-width="0.45">R</text>
<text transform="translate(1957.0,1939.5) scale(1,1.045)" font-size="19" fill="#000" stroke="#000" stroke-width="0.45">2</text>
<text transform="translate(1968.0,1958.7) scale(1,1.045)" font-size="29.5" fill="#000" stroke="#000" stroke-width="0.45">=0.71</text>
<circle cx="2079.8" cy="1957.3" r="3.3" fill="#6a78c0"/>
<circle cx="2088.5" cy="1979.8" r="3.3" fill="#6a78c0"/>
<circle cx="2145.0" cy="1991.0" r="3.3" fill="#6a78c0"/>
<circle cx="1916.8" cy="2054.8" r="3.3" fill="#6a78c0"/>
<circle cx="1909.2" cy="2073.5" r="3.3" fill="#6a78c0"/>
<circle cx="1898.1" cy="2077.3" r="3.3" fill="#6a78c0"/>
<circle cx="1966.2" cy="2088.5" r="3.3" fill="#6a78c0"/>
<circle cx="1995.6" cy="2095.7" r="3.3" fill="#6a78c0"/>
<circle cx="1896.2" cy="2110.7" r="3.3" fill="#6a78c0"/>
<circle cx="2028.7" cy="2110.7" r="3.3" fill="#6a78c0"/>
<circle cx="1849.7" cy="2118.5" r="3.3" fill="#6a78c0"/>
<circle cx="1939.1" cy="2118.5" r="3.3" fill="#6a78c0"/>
<circle cx="2077.4" cy="2118.5" r="3.3" fill="#6a78c0"/>
<circle cx="1919.5" cy="2129.4" r="3.3" fill="#6a78c0"/>
<circle cx="2014.6" cy="2129.4" r="3.3" fill="#6a78c0"/>
<circle cx="1990.2" cy="2141.0" r="3.3" fill="#6a78c0"/>
<circle cx="1944.5" cy="2152.3" r="3.3" fill="#6a78c0"/>
<circle cx="1873.9" cy="2151.5" r="3.3" fill="#6a78c0"/>
<circle cx="1876.0" cy="2155.3" r="3.3" fill="#6a78c0"/>
<circle cx="1873.9" cy="2159.4" r="3.3" fill="#6a78c0"/>
<circle cx="1896.2" cy="2159.4" r="3.3" fill="#6a78c0"/>
<circle cx="1868.4" cy="2174.4" r="3.3" fill="#6a78c0"/>
<circle cx="1892.6" cy="2174.4" r="3.3" fill="#6a78c0"/>
<circle cx="1890.4" cy="2178.2" r="3.3" fill="#6a78c0"/>
<circle cx="1911.9" cy="2178.2" r="3.3" fill="#6a78c0"/>
<circle cx="1976.6" cy="2174.4" r="3.3" fill="#6a78c0"/>
<circle cx="2063.2" cy="2166.5" r="3.3" fill="#6a78c0"/>
<circle cx="2058.6" cy="2178.2" r="3.3" fill="#6a78c0"/>
<circle cx="1935.8" cy="2189.4" r="3.3" fill="#6a78c0"/>
<circle cx="1993.4" cy="2186.0" r="3.3" fill="#6a78c0"/>
<circle cx="1844.0" cy="2197.3" r="3.3" fill="#6a78c0"/>
<circle cx="1854.9" cy="2204.8" r="3.3" fill="#6a78c0"/>
<circle cx="1847.0" cy="2208.2" r="3.3" fill="#6a78c0"/>
<circle cx="1866.0" cy="2208.2" r="3.3" fill="#6a78c0"/>
<circle cx="1890.4" cy="2204.8" r="3.3" fill="#6a78c0"/>
<circle cx="1914.6" cy="2211.9" r="3.3" fill="#6a78c0"/>
<circle cx="1935.8" cy="2208.2" r="3.3" fill="#6a78c0"/>
<circle cx="1976.6" cy="2208.2" r="3.3" fill="#6a78c0"/>
<circle cx="1957.8" cy="2216.0" r="3.3" fill="#6a78c0"/>
<circle cx="2006.7" cy="2223.2" r="3.3" fill="#6a78c0"/>
<circle cx="1830.4" cy="2211.9" r="3.3" fill="#6a78c0"/>
<circle cx="1830.4" cy="2219.0" r="3.3" fill="#6a78c0"/>
<circle cx="1844.0" cy="2219.0" r="3.3" fill="#6a78c0"/>
<circle cx="1836.1" cy="2226.9" r="3.3" fill="#6a78c0"/>
<circle cx="1839.1" cy="2230.7" r="3.3" fill="#6a78c0"/>
<circle cx="1838.3" cy="2234.8" r="3.3" fill="#6a78c0"/>
<circle cx="1873.9" cy="2223.2" r="3.3" fill="#6a78c0"/>
<circle cx="1879.0" cy="2230.7" r="3.3" fill="#6a78c0"/>
<circle cx="1904.3" cy="2234.8" r="3.3" fill="#6a78c0"/>
<circle cx="1873.9" cy="2241.9" r="3.3" fill="#6a78c0"/>
<circle cx="1896.2" cy="2245.7" r="3.3" fill="#6a78c0"/>
<circle cx="1904.3" cy="2249.4" r="3.3" fill="#6a78c0"/>
<circle cx="1879.0" cy="2249.4" r="3.3" fill="#6a78c0"/>
<circle cx="1806.2" cy="2245.7" r="3.3" fill="#6a78c0"/>
<circle cx="1811.4" cy="2249.4" r="3.3" fill="#6a78c0"/>
<circle cx="1817.1" cy="2256.9" r="3.3" fill="#6a78c0"/>
<circle cx="1830.4" cy="2249.4" r="3.3" fill="#6a78c0"/>
<circle cx="1836.1" cy="2245.7" r="3.3" fill="#6a78c0"/>
<circle cx="1847.0" cy="2245.7" r="3.3" fill="#6a78c0"/>
<circle cx="1857.0" cy="2245.7" r="3.3" fill="#6a78c0"/>
<circle cx="1868.4" cy="2261.0" r="3.3" fill="#6a78c0"/>
<circle cx="1862.2" cy="2264.8" r="3.3" fill="#6a78c0"/>
<circle cx="1854.9" cy="2272.7" r="3.3" fill="#6a78c0"/>
<circle cx="1893.7" cy="2282.8" r="3.3" fill="#6a78c0"/>
<circle cx="1854.9" cy="2297.8" r="3.3" fill="#6a78c0"/>
<circle cx="1854.9" cy="2304.9" r="3.3" fill="#6a78c0"/>
<circle cx="1848.9" cy="2297.4" r="3.3" fill="#6a78c0"/>
<circle cx="1843.5" cy="2278.7" r="3.3" fill="#6a78c0"/>
<circle cx="1840.7" cy="2271.2" r="3.3" fill="#6a78c0"/>
<circle cx="1838.0" cy="2259.9" r="3.3" fill="#6a78c0"/>
<circle cx="1835.3" cy="2256.2" r="3.3" fill="#6a78c0"/>
<circle cx="1851.6" cy="2256.2" r="3.3" fill="#6a78c0"/>
<circle cx="1854.3" cy="2259.9" r="3.3" fill="#6a78c0"/>
<circle cx="1857.0" cy="2267.4" r="3.3" fill="#6a78c0"/>
<circle cx="1859.8" cy="2278.7" r="3.3" fill="#6a78c0"/>
<circle cx="1846.2" cy="2282.4" r="3.3" fill="#6a78c0"/>
<circle cx="1840.7" cy="2289.9" r="3.3" fill="#6a78c0"/>
<circle cx="1832.6" cy="2289.9" r="3.3" fill="#6a78c0"/>
<circle cx="1832.6" cy="2297.4" r="3.3" fill="#6a78c0"/>
<circle cx="1827.2" cy="2301.2" r="3.3" fill="#6a78c0"/>
<circle cx="1824.4" cy="2293.7" r="3.3" fill="#6a78c0"/>
<circle cx="1829.9" cy="2282.4" r="3.3" fill="#6a78c0"/>
<circle cx="1835.3" cy="2274.9" r="3.3" fill="#6a78c0"/>
<circle cx="1824.4" cy="2271.2" r="3.3" fill="#6a78c0"/>
<circle cx="1821.7" cy="2267.4" r="3.3" fill="#6a78c0"/>
<circle cx="1827.2" cy="2263.7" r="3.3" fill="#6a78c0"/>
<circle cx="1819.0" cy="2274.9" r="3.3" fill="#6a78c0"/>
<circle cx="1816.3" cy="2278.7" r="3.3" fill="#6a78c0"/>
<circle cx="1813.6" cy="2282.4" r="3.3" fill="#6a78c0"/>
<circle cx="1810.9" cy="2286.2" r="3.3" fill="#6a78c0"/>
<circle cx="1808.1" cy="2289.9" r="3.3" fill="#6a78c0"/>
<circle cx="1805.4" cy="2293.7" r="3.3" fill="#6a78c0"/>
<circle cx="1804.1" cy="2297.4" r="3.3" fill="#6a78c0"/>
<circle cx="1803.2" cy="2301.2" r="3.3" fill="#6a78c0"/>
<circle cx="1805.4" cy="2303.0" r="3.3" fill="#6a78c0"/>
<circle cx="1808.1" cy="2301.2" r="3.3" fill="#6a78c0"/>
<circle cx="1810.9" cy="2297.4" r="3.3" fill="#6a78c0"/>
<circle cx="1813.6" cy="2293.7" r="3.3" fill="#6a78c0"/>
<circle cx="1816.3" cy="2289.9" r="3.3" fill="#6a78c0"/>
<circle cx="1819.0" cy="2286.2" r="3.3" fill="#6a78c0"/>
<circle cx="1821.7" cy="2282.4" r="3.3" fill="#6a78c0"/>
<circle cx="1810.9" cy="2303.0" r="3.3" fill="#6a78c0"/>
<circle cx="1813.6" cy="2301.2" r="3.3" fill="#6a78c0"/>
<circle cx="1816.3" cy="2304.9" r="3.3" fill="#6a78c0"/>
<circle cx="1819.0" cy="2299.3" r="3.3" fill="#6a78c0"/>
<circle cx="1808.1" cy="2295.5" r="3.3" fill="#6a78c0"/>
<circle cx="1805.4" cy="2299.3" r="3.3" fill="#6a78c0"/>
<circle cx="1802.7" cy="2304.9" r="3.3" fill="#6a78c0"/>
<circle cx="1804.1" cy="2303.8" r="3.3" fill="#6a78c0"/>
<circle cx="1806.8" cy="2304.9" r="3.3" fill="#6a78c0"/>
<circle cx="1809.5" cy="2304.2" r="3.3" fill="#6a78c0"/>
<circle cx="1812.2" cy="2300.4" r="3.3" fill="#6a78c0"/>
<circle cx="1814.9" cy="2295.5" r="3.3" fill="#6a78c0"/>
<circle cx="1817.6" cy="2292.5" r="3.3" fill="#6a78c0"/>
<circle cx="1820.4" cy="2289.5" r="3.3" fill="#6a78c0"/>
<circle cx="1823.1" cy="2284.3" r="3.3" fill="#6a78c0"/>
<circle cx="1824.4" cy="2278.7" r="3.3" fill="#6a78c0"/>
<circle cx="1827.2" cy="2274.9" r="3.3" fill="#6a78c0"/>
<circle cx="1829.9" cy="2271.2" r="3.3" fill="#6a78c0"/>
<circle cx="1832.6" cy="2263.7" r="3.3" fill="#6a78c0"/>
<circle cx="1840.7" cy="2259.9" r="3.3" fill="#6a78c0"/>
<circle cx="1846.2" cy="2252.4" r="3.3" fill="#6a78c0"/>
<circle cx="1848.9" cy="2248.7" r="3.3" fill="#6a78c0"/>
<circle cx="1851.6" cy="2244.9" r="3.3" fill="#6a78c0"/>
<line x1="1802.7" y1="2296.3" x2="2143.6" y2="1991.8" stroke="#e0662a" stroke-width="3.2" stroke-dasharray="8 6"/></svg></body></html>
